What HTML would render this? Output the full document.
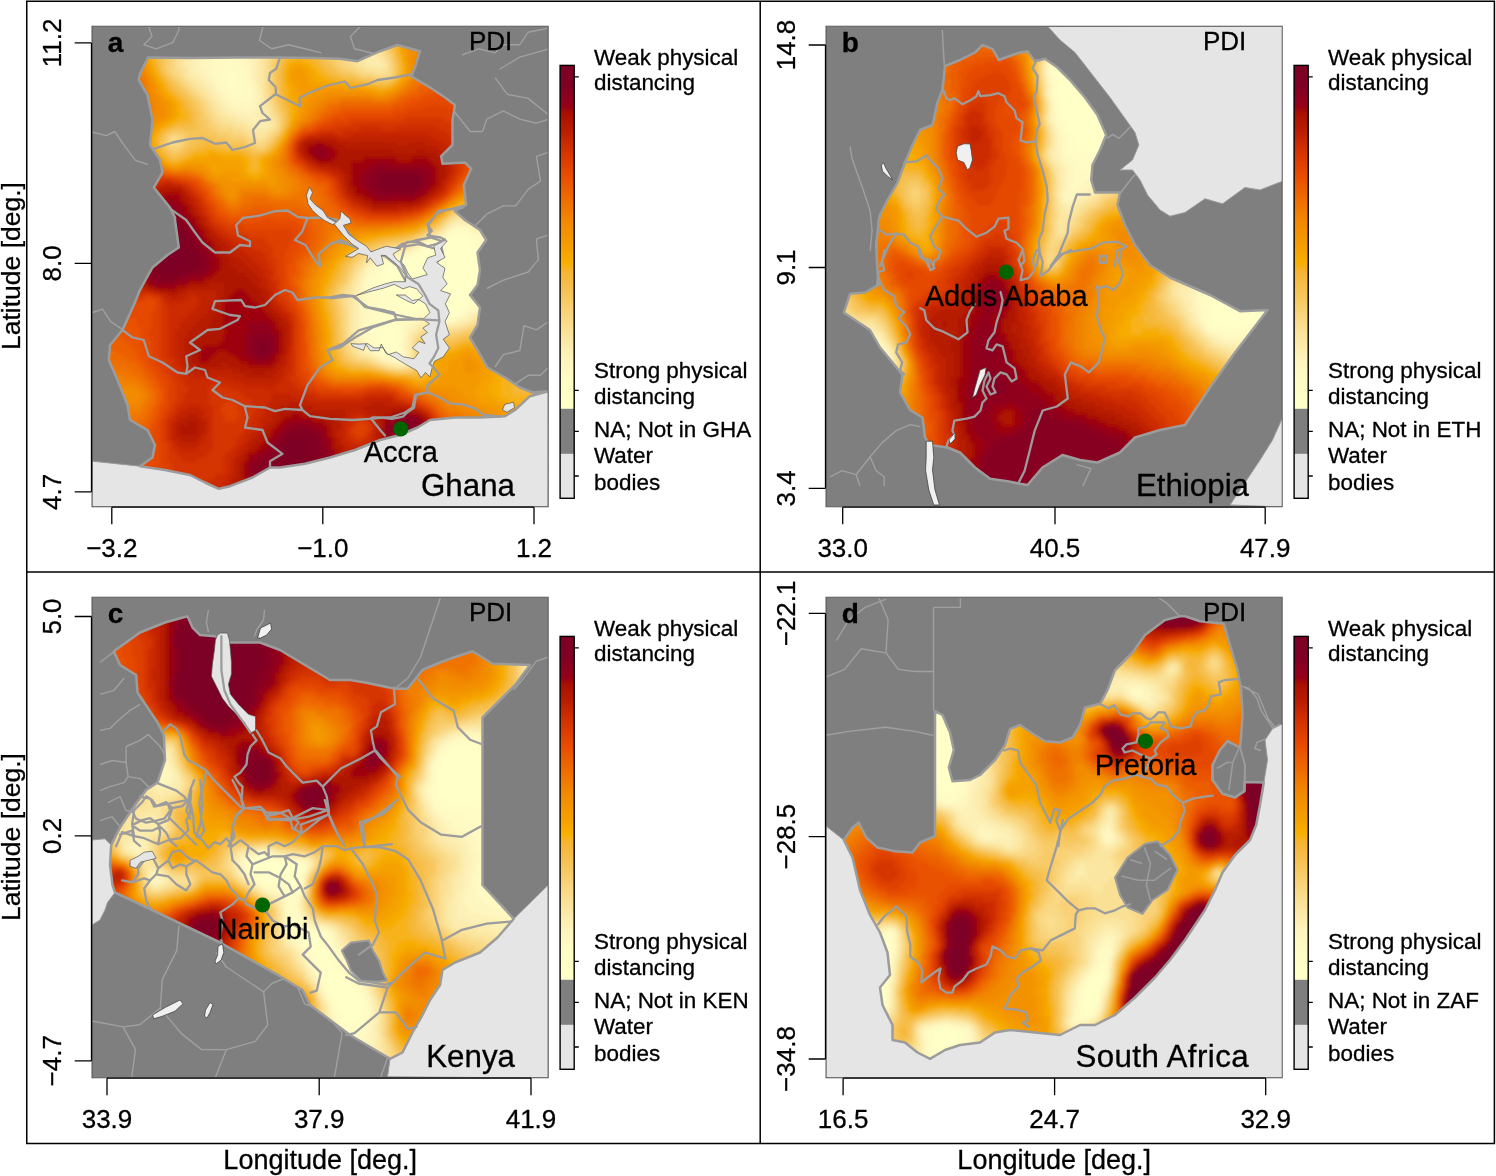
<!DOCTYPE html>
<html><head><meta charset="utf-8"><title>PDI maps</title><style>html,body{margin:0;padding:0;background:#fff}svg{display:block}text{stroke:#000;stroke-width:.3px}</style></head><body>
<svg width="1496" height="1176" viewBox="0 0 1496 1176" font-family="'Liberation Sans', sans-serif">
<defs><filter id="bl" x="-5%" y="-5%" width="110%" height="110%"><feGaussianBlur stdDeviation="2"/></filter></defs>
<rect width="1496" height="1176" fill="#fff"/>
<g id="panel-a">
<clipPath id="mca"><rect x="92" y="26.2" width="456.2" height="480.6"/></clipPath>
<g clip-path="url(#mca)">
<rect x="92" y="26.2" width="456.2" height="480.6" fill="#7F7F7F"/>
<path d="M147.9 24L152 36.4L143.7 44.7L156.1 48.8L172.7 42.6L178.9 30.2L178.9 24M263.6 24L259.5 40.5L271.9 48.8L288.4 44.7L304.9 48.8L321.4 52.9M362.8 24L350.4 36.4L354.5 48.8L379.3 55M462 55L478.5 48.8L495 52.9L503.3 44.7L519.8 44.7L528.1 32.3L548.8 28.1M90 131.5L106.5 135.6L114.8 131.5L123.1 143.9L135.5 160.4L147.9 164.5M90 313.3L102.4 309.2L110.7 321.6L123.1 329.8M495 77.7L507.4 94.3L528.1 98.4L548.8 114.9M499.2 69.5L519.8 57.1L548.8 48.8M453.7 110.8L470.2 131.5L482.6 131.5L486.8 119.1L503.3 110.8L519.8 119.1L536.4 123.2L548.8 119.1M548.8 152.1L536.4 156.3L540.5 181.1L528.1 189.3L515.7 205.9L503.3 205.9L486.8 214.1L474.4 226.5M548.8 234.8L536.4 238.9L538.4 259.6L528.1 272L503.3 280.2L486.8 288.5M548.8 321.6L536.4 329.8L524 325.7L519.8 350.5L503.3 354.6L495 367M548.8 367L540.5 375.3L528.1 375.3L515.7 383.6" fill="none" stroke="#A0A0A0" stroke-width="1.4" stroke-linejoin="round"/>
<path d="M92.5 461.2L140 466.2L165 470L190 475L205 482.5L218.8 488.8L230 486.2L252.5 477.5L270 467.5L280 467.5L305 463.8L330 457.5L355 450L380 440L400 435L417.5 427.5L430 420L455 417.5L480 417.5L505 416.2L515 410L530 396.2L548.2 391.2L548 507L92 507Z" fill="#E5E5E5" stroke="#999" stroke-width="1"/>
<clipPath id="cca"><path d="M148 57.5L190 58L240 57.5L280 57.5L315 58L340 58.8L357.5 61.2L380 51.2L397.5 45L420 51.2L415 67.5L411.2 76.2L430 87.5L445 97.5L455 105L452.5 120L452.5 145L441.2 156.2L442.5 163.8L465 162.5L471.2 168.8L463.8 185L466.2 205L455 211.2L465 220L480 230L486.2 240L477.5 252.5L480 270L477.5 285L470 295L480 307.5L477.5 325L470 337.5L477.5 350L487.5 367.5L505 377.5L520 387.5L532.5 392.5L548.2 391.2L530 396.2L515 410L505 416.2L480 417.5L455 417.5L430 420L417.5 427.5L400 435L380 440L355 450L330 457.5L305 463.8L280 467.5L270 467.5L252.5 477.5L230 486.2L218.8 488.8L205 482.5L190 475L165 470L140 466.2L152.5 457.5L155 445L147.5 430L130 420L127.5 405L117.5 380L108.8 360L110 345L122.5 330L133.8 305L140 290L152.5 267.5L167.5 255L178.8 247.5L175 220L175 217.5L170 207.5L153.8 187.5L162.5 172.5L160 160L150 145L152.5 120L147.5 95L138.8 80L140 73.8Z"/></clipPath>
<g clip-path="url(#cca)"><g filter="url(#bl)">
<g fill="none" stroke-width="4.6">
<path stroke="#FFFFC8" d="M452 244h8.6M444 248h20.6M424 252h44.6M424 256h44.6M420 260h52.6M412 264h60.6M400 268h72.6M392 272h80.6M392 276h76.6M392 280h76.6M396 284h68.6M400 288h64.6M404 292h56.6M408 296h52.6M420 300h36.6M440 304h16.6"/>
<path stroke="#FFFFC8" d="M452 240h12.6M444 244h8.6M460 244h8.6M424 248h20.6M464 248h8.6M468 252h8.6M420 256h4.6M468 256h8.6M412 260h8.6M472 260h4.6M400 264h12.6M472 264h8.6M392 268h8.6M472 268h8.6M388 272h4.6M472 272h4.6M384 276h8.6M468 276h8.6M384 280h8.6M468 280h8.6M388 284h8.6M464 284h8.6M392 288h8.6M464 288h8.6M396 292h8.6M460 292h8.6M400 296h8.6M460 296h8.6M400 300h20.6M456 300h8.6M408 304h32.6M456 304h8.6M436 308h24.6M448 312h8.6"/>
<path stroke="#FFFEC7" d="M452 236h16.6M444 240h8.6M464 240h8.6M428 244h16.6M468 244h8.6M472 248h8.6M420 252h4.6M476 252h4.6M416 256h4.6M476 256h8.6M404 260h8.6M476 260h8.6M388 264h12.6M480 264h4.6M384 268h8.6M480 268h4.6M380 272h8.6M476 272h8.6M380 276h4.6M476 276h8.6M376 280h8.6M476 280h8.6M376 284h12.6M472 284h8.6M380 288h12.6M472 288h8.6M384 292h12.6M468 292h8.6M392 296h8.6M468 296h4.6M392 300h8.6M464 300h8.6M392 304h16.6M464 304h4.6M396 308h40.6M460 308h4.6M440 312h8.6M456 312h4.6M448 316h8.6M384 328h8.6M380 332h12.6M380 336h12.6M376 340h20.6M380 344h16.6M380 348h16.6M384 352h12.6"/>
<path stroke="#FFFCC5" d="M228 68h4.6M224 72h12.6M220 76h20.6M224 80h16.6M224 84h16.6M228 88h16.6M236 92h4.6M452 232h16.6M448 236h4.6M468 236h4.6M440 240h4.6M472 240h4.6M424 244h4.6M476 244h4.6M420 248h4.6M480 248h4.6M416 252h4.6M480 252h8.6M408 256h8.6M484 256h4.6M388 260h16.6M484 260h4.6M384 264h4.6M484 264h4.6M380 268h4.6M484 268h8.6M376 272h4.6M484 272h8.6M372 276h8.6M484 276h4.6M372 280h4.6M484 280h4.6M368 284h8.6M480 284h8.6M372 288h8.6M480 288h4.6M372 292h12.6M476 292h8.6M376 296h16.6M472 296h8.6M380 300h12.6M472 300h4.6M380 304h12.6M468 304h4.6M380 308h16.6M464 308h4.6M380 312h60.6M460 312h4.6M376 316h36.6M440 316h8.6M456 316h4.6M376 320h28.6M448 320h4.6M372 324h28.6M372 328h12.6M392 328h8.6M372 332h8.6M392 332h8.6M372 336h8.6M392 336h8.6M372 340h4.6M396 340h4.6M372 344h8.6M396 344h4.6M376 348h4.6M396 348h4.6M380 352h4.6M396 352h4.6M384 356h16.6"/>
<path stroke="#FFFAC4" d="M216 56h20.6M212 60h28.6M212 64h32.6M212 68h16.6M232 68h12.6M212 72h12.6M236 72h12.6M212 76h8.6M240 76h8.6M216 80h8.6M240 80h8.6M216 84h8.6M240 84h8.6M220 88h8.6M244 88h8.6M224 92h12.6M240 92h12.6M228 96h24.6M232 100h20.6M452 228h12.6M448 232h4.6M468 232h4.6M444 236h4.6M472 236h8.6M436 240h4.6M476 240h8.6M480 244h8.6M484 248h8.6M412 252h4.6M400 256h8.6M384 260h4.6M380 264h4.6M376 268h4.6M372 272h4.6M368 276h4.6M364 280h8.6M364 284h4.6M364 288h8.6M484 288h4.6M364 292h8.6M368 296h8.6M480 296h4.6M368 300h12.6M476 300h8.6M368 304h12.6M472 304h8.6M368 308h12.6M468 308h8.6M368 312h12.6M464 312h4.6M368 316h8.6M412 316h28.6M460 316h4.6M368 320h8.6M404 320h8.6M444 320h4.6M452 320h4.6M364 324h8.6M400 324h8.6M364 328h8.6M400 328h4.6M364 332h8.6M400 332h4.6M364 336h8.6M400 336h4.6M364 340h8.6M400 340h4.6M368 344h4.6M400 344h4.6M372 348h4.6M400 348h4.6M372 352h8.6M400 352h4.6M380 356h4.6M400 356h4.6M392 360h12.6"/>
<path stroke="#FEF6BF" d="M240 48h4.6M204 52h40.6M204 56h12.6M236 56h12.6M200 60h12.6M240 60h8.6M200 64h12.6M244 64h8.6M200 68h12.6M244 68h8.6M204 72h8.6M248 72h4.6M204 76h8.6M248 76h4.6M208 80h8.6M248 80h4.6M212 84h4.6M248 84h8.6M216 88h4.6M252 88h4.6M216 92h8.6M252 92h4.6M220 96h8.6M252 96h4.6M224 100h8.6M252 100h4.6M228 104h28.6M232 108h24.6M244 112h8.6M464 228h8.6M444 232h4.6M472 232h8.6M440 236h4.6M480 236h8.6M428 240h8.6M484 240h8.6M420 244h4.6M488 244h8.6M416 248h4.6M408 252h4.6M388 256h12.6M380 260h4.6M376 264h4.6M368 268h8.6M364 272h8.6M364 276h4.6M360 284h4.6M360 288h4.6M360 292h4.6M360 296h8.6M360 300h8.6M360 304h8.6M480 304h4.6M360 308h8.6M476 308h4.6M360 312h8.6M468 312h8.6M360 316h8.6M464 316h4.6M360 320h8.6M412 320h12.6M432 320h12.6M456 320h4.6M360 324h4.6M408 324h8.6M360 328h4.6M404 328h8.6M360 332h4.6M404 332h4.6M360 336h4.6M404 336h4.6M360 340h4.6M364 344h4.6M364 348h8.6M368 352h4.6M404 352h4.6M376 356h4.6M404 356h4.6M384 360h8.6M404 360h4.6M400 364h4.6"/>
<path stroke="#FDF1B7" d="M244 48h8.6M196 52h8.6M244 52h8.6M192 56h12.6M248 56h8.6M192 60h8.6M248 60h8.6M192 64h8.6M252 64h4.6M192 68h8.6M252 68h4.6M192 72h12.6M252 72h4.6M196 76h8.6M252 76h4.6M200 80h8.6M252 80h4.6M204 84h8.6M208 88h8.6M256 88h4.6M212 92h4.6M256 92h4.6M216 96h4.6M256 96h4.6M216 100h8.6M256 100h4.6M220 104h8.6M256 104h4.6M224 108h8.6M256 108h4.6M228 112h16.6M252 112h8.6M236 116h24.6M248 120h12.6M452 224h20.6M448 228h4.6M472 228h8.6M480 232h8.6M436 236h4.6M488 236h8.6M424 240h4.6M492 240h4.6M412 248h4.6M400 252h8.6M384 256h4.6M376 260h4.6M368 264h8.6M364 268h4.6M360 276h4.6M360 280h4.6M356 288h4.6M356 292h4.6M356 296h4.6M356 300h4.6M356 304h4.6M484 304h4.6M356 308h4.6M480 308h8.6M356 312h4.6M476 312h4.6M356 316h4.6M468 316h4.6M356 320h4.6M424 320h8.6M460 320h8.6M356 324h4.6M416 324h4.6M440 324h16.6M356 328h4.6M412 328h4.6M356 332h4.6M408 332h4.6M356 336h4.6M356 340h4.6M404 340h4.6M360 344h4.6M404 344h4.6M360 348h4.6M404 348h4.6M364 352h4.6M372 356h4.6M380 360h4.6M392 364h8.6M404 364h4.6"/>
<path stroke="#FCECAD" d="M252 48h8.6M188 52h8.6M252 52h8.6M188 56h4.6M256 56h4.6M364 56h12.6M184 60h8.6M256 60h4.6M364 60h16.6M184 64h8.6M256 64h4.6M364 64h20.6M188 68h4.6M256 68h4.6M376 68h4.6M188 72h4.6M256 72h4.6M188 76h8.6M256 76h4.6M196 80h4.6M256 80h4.6M200 84h4.6M256 84h4.6M204 88h4.6M208 92h4.6M260 92h4.6M208 96h8.6M260 96h4.6M212 100h4.6M260 100h4.6M216 104h4.6M260 104h4.6M220 108h4.6M260 108h4.6M220 112h8.6M260 112h8.6M228 116h8.6M260 116h8.6M236 120h12.6M260 120h8.6M244 124h28.6M252 128h16.6M456 220h8.6M448 224h4.6M472 224h8.6M444 228h4.6M480 228h8.6M440 232h4.6M488 232h4.6M432 236h4.6M416 244h4.6M408 248h4.6M388 252h12.6M376 256h8.6M372 260h4.6M364 264h4.6M360 272h4.6M356 280h4.6M356 284h4.6M352 288h4.6M352 292h4.6M352 296h4.6M352 300h4.6M352 304h4.6M352 308h4.6M488 308h4.6M352 312h4.6M480 312h8.6M352 316h4.6M472 316h8.6M352 320h4.6M468 320h4.6M352 324h4.6M420 324h20.6M456 324h8.6M352 328h4.6M416 328h4.6M352 332h4.6M412 332h4.6M352 336h4.6M408 336h4.6M352 340h4.6M408 340h4.6M356 344h4.6M408 344h4.6M356 348h4.6M408 348h4.6M360 352h4.6M408 352h4.6M368 356h4.6M408 356h4.6M376 360h4.6M408 360h4.6M384 364h8.6"/>
<path stroke="#FBE6A1" d="M260 48h4.6M364 48h8.6M180 52h8.6M260 52h4.6M352 52h28.6M180 56h8.6M260 56h4.6M352 56h12.6M376 56h8.6M180 60h4.6M260 60h4.6M356 60h8.6M380 60h4.6M180 64h4.6M260 64h4.6M356 64h8.6M384 64h4.6M180 68h8.6M260 68h4.6M364 68h12.6M380 68h8.6M184 72h4.6M260 72h4.6M376 72h8.6M184 76h4.6M260 76h4.6M188 80h8.6M260 80h4.6M192 84h8.6M260 84h4.6M196 88h8.6M260 88h4.6M200 92h8.6M204 96h4.6M208 100h4.6M264 100h4.6M212 104h4.6M264 104h4.6M212 108h8.6M264 108h4.6M216 112h4.6M268 112h4.6M220 116h8.6M268 116h4.6M224 120h12.6M268 120h8.6M232 124h12.6M272 124h4.6M244 128h8.6M268 128h8.6M252 132h16.6M256 136h8.6M452 220h4.6M464 220h12.6M480 224h4.6M436 232h4.6M428 236h4.6M420 240h4.6M412 244h4.6M400 248h8.6M380 252h8.6M372 256h4.6M368 260h4.6M360 268h4.6M356 272h4.6M356 276h4.6M352 280h4.6M352 284h4.6M348 292h4.6M348 296h4.6M348 300h4.6M348 304h4.6M348 308h4.6M348 312h4.6M348 316h4.6M480 316h8.6M348 320h4.6M472 320h8.6M348 324h4.6M464 324h4.6M348 328h4.6M420 328h8.6M440 328h16.6M348 332h4.6M416 332h4.6M348 336h4.6M412 336h4.6M352 344h4.6M352 348h4.6M356 352h4.6M360 356h8.6M372 360h4.6M380 364h4.6M408 364h4.6M396 368h8.6"/>
<path stroke="#FAE094" d="M372 44h4.6M264 48h4.6M372 48h8.6M176 52h4.6M264 52h4.6M344 52h8.6M380 52h4.6M176 56h4.6M264 56h4.6M344 56h8.6M176 60h4.6M264 60h4.6M348 60h8.6M384 60h4.6M176 64h4.6M264 64h4.6M352 64h4.6M176 68h4.6M264 68h4.6M356 68h8.6M180 72h4.6M264 72h4.6M364 72h12.6M384 72h4.6M180 76h4.6M264 76h4.6M184 80h4.6M264 80h4.6M188 84h4.6M264 84h4.6M192 88h4.6M264 88h4.6M196 92h4.6M264 92h4.6M200 96h4.6M264 96h4.6M204 100h4.6M208 104h4.6M268 104h4.6M208 108h4.6M268 108h4.6M212 112h4.6M212 116h8.6M272 116h4.6M216 120h8.6M220 124h12.6M232 128h12.6M244 132h8.6M268 132h4.6M248 136h8.6M264 136h4.6M172 140h4.6M256 140h8.6M172 144h4.6M456 216h12.6M448 220h4.6M476 220h4.6M444 224h4.6M440 228h4.6M424 236h4.6M416 240h4.6M408 244h4.6M388 248h12.6M376 252h4.6M368 256h4.6M364 260h4.6M360 264h4.6M356 268h4.6M352 276h4.6M348 284h4.6M348 288h4.6M344 292h4.6M344 296h4.6M344 300h4.6M344 304h4.6M344 308h4.6M480 320h8.6M468 324h8.6M428 328h12.6M456 328h8.6M420 332h4.6M416 336h4.6M348 340h4.6M412 340h4.6M348 344h4.6M412 344h4.6M348 348h4.6M352 352h4.6M412 352h4.6M356 356h4.6M412 356h4.6M368 360h4.6M412 360h4.6M376 364h4.6M388 368h8.6M404 368h4.6"/>
<path stroke="#F9D986" d="M376 44h4.6M268 48h4.6M380 48h4.6M172 52h4.6M268 52h4.6M336 52h8.6M384 52h4.6M172 56h4.6M268 56h4.6M340 56h4.6M384 56h4.6M172 60h4.6M268 60h4.6M340 60h8.6M388 60h4.6M172 64h4.6M268 64h4.6M344 64h8.6M388 64h4.6M172 68h4.6M268 68h4.6M348 68h8.6M388 68h4.6M172 72h8.6M268 72h4.6M356 72h8.6M388 72h4.6M176 76h4.6M372 76h20.6M180 80h4.6M184 84h4.6M188 88h4.6M192 92h4.6M268 92h4.6M196 96h4.6M268 96h4.6M200 100h4.6M268 100h4.6M204 104h4.6M204 108h4.6M272 108h4.6M208 112h4.6M272 112h4.6M208 116h4.6M276 116h4.6M212 120h4.6M276 120h4.6M212 124h8.6M276 124h4.6M220 128h12.6M276 128h4.6M232 132h12.6M272 132h4.6M172 136h4.6M244 136h4.6M268 136h4.6M168 140h4.6M176 140h4.6M248 140h8.6M264 140h4.6M168 144h4.6M176 144h4.6M256 144h8.6M452 216h4.6M468 216h8.6M432 232h4.6M404 244h4.6M384 248h4.6M372 252h4.6M364 256h4.6M360 260h4.6M356 264h4.6M352 268h4.6M352 272h4.6M348 280h4.6M344 288h4.6M340 292h4.6M340 296h4.6M340 300h4.6M340 304h4.6M344 312h4.6M344 316h4.6M344 320h4.6M344 324h4.6M476 324h12.6M344 328h4.6M464 328h8.6M344 332h4.6M424 332h8.6M436 332h20.6M344 336h4.6M344 340h4.6M344 344h4.6M412 348h4.6M348 352h4.6M352 356h4.6M356 360h12.6M372 364h4.6M412 364h4.6M384 368h4.6M408 368h4.6"/>
<path stroke="#F9D278" d="M380 44h4.6M272 48h8.6M384 48h4.6M168 52h4.6M272 52h4.6M332 52h4.6M168 56h4.6M272 56h4.6M332 56h8.6M388 56h4.6M168 60h4.6M272 60h4.6M336 60h4.6M168 64h4.6M336 64h8.6M168 68h4.6M340 68h8.6M168 72h4.6M352 72h4.6M172 76h4.6M268 76h4.6M360 76h12.6M176 80h4.6M268 80h4.6M180 84h4.6M268 84h4.6M184 88h4.6M268 88h4.6M188 92h4.6M192 96h4.6M196 100h4.6M272 100h4.6M200 104h4.6M272 104h4.6M200 108h4.6M204 112h4.6M276 112h4.6M204 116h4.6M208 120h4.6M208 124h4.6M212 128h8.6M216 132h16.6M276 132h4.6M168 136h4.6M176 136h8.6M228 136h16.6M272 136h4.6M180 140h4.6M244 140h4.6M268 140h4.6M180 144h4.6M248 144h8.6M264 144h4.6M168 148h12.6M256 148h8.6M460 212h12.6M448 216h4.6M444 220h4.6M440 224h4.6M436 228h4.6M428 232h4.6M420 236h4.6M412 240h4.6M392 244h12.6M376 248h8.6M368 252h4.6M360 256h4.6M356 260h4.6M352 264h4.6M348 272h4.6M348 276h4.6M344 284h4.6M340 288h4.6M336 296h4.6M336 300h4.6M340 308h4.6M340 312h4.6M340 316h4.6M340 320h4.6M340 324h4.6M340 328h4.6M472 328h16.6M340 332h4.6M432 332h4.6M456 332h8.6M420 336h4.6M448 336h4.6M416 340h4.6M416 344h4.6M344 348h4.6M344 352h4.6M348 356h4.6M352 360h4.6M368 364h4.6M380 368h4.6M412 368h4.6"/>
<path stroke="#F8CB68" d="M384 40h4.6M384 44h4.6M280 48h4.6M164 52h4.6M276 52h4.6M324 52h8.6M388 52h4.6M164 56h4.6M276 56h4.6M328 56h4.6M164 60h4.6M328 60h8.6M164 64h4.6M272 64h4.6M332 64h4.6M392 64h4.6M164 68h4.6M272 68h4.6M336 68h4.6M392 68h4.6M164 72h4.6M272 72h4.6M340 72h12.6M392 72h4.6M168 76h4.6M272 76h4.6M356 76h4.6M392 76h4.6M172 80h4.6M272 80h4.6M372 80h20.6M176 84h4.6M272 84h4.6M180 88h4.6M272 88h4.6M184 92h4.6M272 92h4.6M188 96h4.6M272 96h4.6M192 100h4.6M196 104h4.6M276 104h4.6M196 108h4.6M276 108h4.6M200 112h4.6M200 116h4.6M280 116h4.6M200 120h8.6M280 120h4.6M204 124h4.6M280 124h4.6M204 128h8.6M280 128h4.6M172 132h12.6M208 132h8.6M164 136h4.6M184 136h4.6M216 136h12.6M164 140h4.6M184 140h4.6M224 140h20.6M164 144h4.6M184 144h4.6M244 144h4.6M268 144h4.6M164 148h4.6M180 148h4.6M252 148h4.6M264 148h4.6M168 152h12.6M452 212h8.6M432 228h4.6M424 232h4.6M416 236h4.6M404 240h8.6M384 244h8.6M372 248h4.6M360 252h8.6M356 256h4.6M352 260h4.6M348 268h4.6M344 276h4.6M344 280h4.6M340 284h4.6M336 288h4.6M336 292h4.6M336 304h4.6M336 308h4.6M336 312h4.6M464 332h20.6M340 336h4.6M424 336h24.6M452 336h8.6M340 340h4.6M420 340h4.6M340 344h4.6M340 348h4.6M416 348h4.6M416 352h4.6M344 356h4.6M416 356h4.6M348 360h4.6M416 360h4.6M360 364h8.6M416 364h4.6M376 368h4.6M392 372h20.6"/>
<path stroke="#F7C459" d="M388 40h4.6M388 44h4.6M388 48h4.6M160 52h4.6M280 52h8.6M316 52h8.6M160 56h4.6M280 56h4.6M320 56h8.6M392 56h4.6M160 60h4.6M276 60h4.6M324 60h4.6M392 60h4.6M160 64h4.6M276 64h4.6M328 64h4.6M160 68h4.6M276 68h4.6M332 68h4.6M336 72h4.6M164 76h4.6M344 76h12.6M168 80h4.6M360 80h12.6M172 84h4.6M176 88h4.6M180 92h4.6M276 92h4.6M184 96h4.6M276 96h4.6M188 100h4.6M276 100h4.6M192 104h4.6M192 108h4.6M280 108h4.6M196 112h4.6M280 112h4.6M196 116h4.6M196 120h4.6M196 124h8.6M196 128h8.6M168 132h4.6M184 132h24.6M188 136h28.6M276 136h4.6M160 140h4.6M188 140h8.6M212 140h12.6M272 140h4.6M160 144h4.6M188 144h4.6M224 144h20.6M184 148h4.6M244 148h8.6M180 152h4.6M252 152h12.6M172 156h4.6M464 208h12.6M440 220h4.6M436 224h4.6M412 236h4.6M396 240h8.6M376 244h8.6M364 248h8.6M356 252h4.6M352 256h4.6M348 264h4.6M344 268h4.6M344 272h4.6M340 276h4.6M340 280h4.6M336 284h4.6M332 292h4.6M332 296h4.6M332 300h4.6M332 304h4.6M336 316h4.6M336 320h4.6M336 324h4.6M336 328h4.6M336 332h4.6M336 336h4.6M460 336h24.6M336 340h4.6M424 340h4.6M444 340h12.6M420 344h4.6M340 352h4.6M340 356h4.6M344 360h4.6M352 364h8.6M372 368h4.6M416 368h4.6M388 372h4.6M412 372h4.6"/>
<path stroke="#F6BE4B" d="M392 44h4.6M392 48h4.6M156 52h4.6M288 52h8.6M308 52h8.6M392 52h4.6M156 56h4.6M284 56h4.6M312 56h8.6M156 60h4.6M280 60h4.6M320 60h4.6M280 64h4.6M320 64h8.6M396 64h4.6M324 68h8.6M396 68h4.6M160 72h4.6M276 72h4.6M328 72h8.6M396 72h4.6M276 76h4.6M336 76h8.6M276 80h4.6M352 80h8.6M392 80h4.6M168 84h4.6M276 84h4.6M372 84h16.6M172 88h4.6M276 88h4.6M176 92h4.6M180 96h4.6M184 100h4.6M280 100h4.6M188 104h4.6M280 104h4.6M188 108h4.6M192 112h4.6M284 112h4.6M192 116h4.6M284 116h4.6M192 120h4.6M284 120h4.6M192 124h4.6M284 124h4.6M172 128h24.6M164 132h4.6M280 132h4.6M160 136h4.6M196 140h16.6M192 144h12.6M212 144h12.6M272 144h4.6M160 148h4.6M188 148h8.6M224 148h20.6M268 148h4.6M164 152h4.6M184 152h4.6M248 152h4.6M264 152h4.6M168 156h4.6M176 156h8.6M460 208h4.6M448 212h4.6M444 216h4.6M428 228h4.6M420 232h4.6M408 236h4.6M384 240h12.6M368 244h8.6M360 248h4.6M348 256h4.6M348 260h4.6M344 264h4.6M340 268h4.6M340 272h4.6M336 280h4.6M332 288h4.6M328 296h4.6M328 300h4.6M332 308h4.6M332 312h4.6M332 316h4.6M332 320h4.6M428 340h16.6M456 340h8.6M336 344h4.6M444 344h12.6M336 348h4.6M420 348h4.6M336 352h4.6M420 356h4.6M340 360h4.6M420 360h4.6M344 364h8.6M420 364h4.6M364 368h8.6M420 368h4.6M384 372h4.6M416 372h8.6"/>
<path stroke="#F6B83B" d="M392 40h4.6M152 52h4.6M296 52h12.6M152 56h4.6M288 56h8.6M304 56h8.6M396 56h4.6M284 60h4.6M312 60h8.6M396 60h4.6M156 64h4.6M316 64h4.6M156 68h4.6M280 68h4.6M320 68h4.6M280 72h4.6M324 72h4.6M160 76h4.6M280 76h4.6M328 76h8.6M396 76h4.6M164 80h4.6M280 80h4.6M340 80h12.6M280 84h4.6M364 84h8.6M388 84h4.6M168 88h4.6M280 88h4.6M172 92h4.6M280 92h4.6M176 96h4.6M280 96h4.6M180 100h4.6M184 104h4.6M284 104h4.6M184 108h4.6M284 108h4.6M188 112h4.6M188 116h4.6M188 120h4.6M176 124h16.6M168 128h4.6M284 128h4.6M160 132h4.6M156 140h4.6M276 140h4.6M156 144h4.6M204 144h8.6M196 148h12.6M212 148h12.6M160 152h4.6M188 152h8.6M240 152h8.6M164 156h4.6M184 156h4.6M248 156h12.6M168 160h12.6M252 160h4.6M252 164h4.6M252 168h4.6M468 204h8.6M456 208h4.6M436 220h4.6M432 224h4.6M424 228h4.6M416 232h4.6M400 236h8.6M376 240h8.6M364 244h4.6M356 248h4.6M352 252h4.6M344 260h4.6M340 264h4.6M336 272h4.6M336 276h4.6M332 280h4.6M332 284h4.6M328 288h4.6M328 292h4.6M328 304h4.6M328 308h4.6M328 312h4.6M332 324h4.6M332 328h4.6M332 332h4.6M332 336h4.6M332 340h4.6M464 340h20.6M332 344h4.6M424 344h4.6M440 344h4.6M456 344h4.6M332 348h4.6M448 348h4.6M420 352h4.6M336 356h4.6M336 360h4.6M340 364h4.6M424 364h4.6M348 368h16.6M424 368h4.6M380 372h4.6M424 372h4.6M508 372h4.6M408 376h16.6M512 376h8.6M512 380h16.6M512 384h40.6M512 388h40.6M512 392h40.6"/>
<path stroke="#F7B21C" d="M396 36h4.6M396 40h4.6M396 44h4.6M148 48h4.6M396 48h4.6M148 52h4.6M396 52h4.6M148 56h4.6M296 56h8.6M152 60h4.6M288 60h8.6M300 60h12.6M152 64h4.6M284 64h4.6M308 64h8.6M400 64h4.6M284 68h4.6M312 68h8.6M400 68h4.6M156 72h4.6M316 72h8.6M400 72h4.6M320 76h8.6M160 80h4.6M328 80h12.6M396 80h4.6M164 84h4.6M348 84h16.6M392 84h4.6M164 88h4.6M284 88h4.6M376 88h12.6M168 92h4.6M284 92h4.6M172 96h4.6M284 96h4.6M176 100h4.6M284 100h4.6M180 104h4.6M288 104h4.6M180 108h4.6M288 108h4.6M180 112h8.6M288 112h4.6M180 116h8.6M288 116h4.6M176 120h12.6M288 120h4.6M172 124h4.6M164 128h4.6M156 136h4.6M280 136h4.6M276 144h4.6M156 148h4.6M208 148h4.6M272 148h4.6M156 152h4.6M196 152h12.6M216 152h24.6M268 152h4.6M160 156h4.6M188 156h4.6M244 156h4.6M260 156h4.6M164 160h4.6M180 160h4.6M248 160h4.6M256 160h4.6M248 164h4.6M256 164h4.6M248 168h4.6M256 168h4.6M248 172h12.6M472 200h4.6M460 204h8.6M452 208h4.6M444 212h4.6M440 216h4.6M428 224h4.6M420 228h4.6M412 232h4.6M388 236h12.6M368 240h8.6M356 244h8.6M352 248h4.6M348 252h4.6M344 256h4.6M340 260h4.6M336 264h4.6M336 268h4.6M332 272h4.6M332 276h4.6M328 280h4.6M328 284h4.6M324 288h4.6M324 292h4.6M324 296h4.6M324 300h4.6M324 304h4.6M324 308h4.6M328 316h4.6M328 320h4.6M328 324h4.6M328 328h4.6M428 344h12.6M460 344h24.6M424 348h4.6M440 348h8.6M452 348h8.6M480 348h8.6M332 352h4.6M332 356h4.6M424 356h4.6M424 360h4.6M336 364h4.6M428 364h4.6M344 368h4.6M428 368h4.6M500 368h8.6M372 372h8.6M428 372h4.6M500 372h8.6M392 376h16.6M424 376h4.6M500 376h12.6M416 380h4.6M500 380h12.6M500 384h12.6M500 388h12.6M500 392h12.6M500 396h52.6M508 400h44.6M516 404h24.6"/>
<path stroke="#F7AC00" d="M400 40h4.6M400 44h4.6M144 52h4.6M144 56h4.6M400 56h4.6M148 60h4.6M296 60h4.6M400 60h4.6M288 64h8.6M300 64h8.6M152 68h4.6M308 68h4.6M152 72h4.6M284 72h4.6M312 72h4.6M156 76h4.6M284 76h4.6M312 76h8.6M400 76h4.6M156 80h4.6M284 80h4.6M316 80h12.6M160 84h4.6M284 84h4.6M332 84h16.6M288 88h4.6M364 88h12.6M388 88h4.6M164 92h4.6M288 92h4.6M168 96h4.6M288 96h4.6M172 100h4.6M288 100h8.6M176 104h4.6M292 104h4.6M176 108h4.6M292 108h4.6M176 112h4.6M292 112h4.6M176 116h4.6M292 116h4.6M172 120h4.6M164 124h8.6M288 124h4.6M160 128h4.6M156 132h4.6M284 132h4.6M152 136h4.6M152 140h4.6M280 140h4.6M152 144h4.6M152 148h4.6M208 152h8.6M272 152h4.6M192 156h16.6M220 156h24.6M264 156h4.6M184 160h8.6M240 160h8.6M260 160h4.6M168 164h12.6M244 164h4.6M260 164h4.6M212 168h4.6M244 168h4.6M260 168h4.6M244 172h4.6M260 172h4.6M248 176h12.6M468 200h4.6M456 204h4.6M448 208h4.6M432 220h4.6M404 232h8.6M376 236h12.6M360 240h8.6M352 244h4.6M348 248h4.6M344 252h4.6M340 256h4.6M336 260h4.6M332 264h4.6M332 268h4.6M328 272h4.6M328 276h4.6M324 280h4.6M324 284h4.6M320 292h4.6M320 296h4.6M320 300h4.6M324 312h4.6M324 316h4.6M324 320h4.6M328 332h4.6M328 336h4.6M328 340h4.6M328 344h4.6M328 348h4.6M432 348h8.6M460 348h4.6M472 348h8.6M328 352h4.6M424 352h4.6M440 352h16.6M480 352h8.6M328 356h4.6M484 356h8.6M332 360h4.6M428 360h4.6M488 360h4.6M332 364h4.6M432 364h4.6M492 364h8.6M336 368h8.6M432 368h4.6M492 368h8.6M348 372h24.6M432 372h4.6M492 372h8.6M388 376h4.6M428 376h8.6M492 376h8.6M412 380h4.6M420 380h8.6M492 380h8.6M488 384h12.6M488 388h12.6M488 392h12.6M492 396h8.6M496 400h12.6M504 404h12.6M508 408h24.6M520 412h8.6"/>
<path stroke="#F5A200" d="M404 40h4.6M404 44h4.6M400 48h4.6M400 52h4.6M140 56h4.6M144 60h4.6M148 64h4.6M296 64h4.6M404 64h4.6M148 68h4.6M288 68h8.6M300 68h8.6M404 68h4.6M288 72h4.6M304 72h8.6M404 72h4.6M152 76h4.6M288 76h4.6M308 76h4.6M288 80h4.6M308 80h8.6M400 80h4.6M156 84h4.6M288 84h8.6M308 84h24.6M396 84h4.6M160 88h4.6M292 88h4.6M344 88h20.6M392 88h4.6M160 92h4.6M292 92h8.6M376 92h8.6M164 96h4.6M292 96h8.6M168 100h4.6M296 100h4.6M172 104h4.6M296 104h4.6M172 108h4.6M296 108h4.6M172 112h4.6M296 112h4.6M172 116h4.6M168 120h4.6M292 120h4.6M160 124h4.6M156 128h4.6M288 128h4.6M152 132h4.6M284 136h4.6M148 140h4.6M148 144h4.6M276 148h4.6M152 152h4.6M156 156h4.6M208 156h12.6M268 156h4.6M160 160h4.6M192 160h48.6M264 160h4.6M164 164h4.6M180 164h4.6M204 164h40.6M208 168h4.6M216 168h28.6M264 168h4.6M212 172h12.6M236 172h8.6M264 172h4.6M240 176h8.6M260 176h8.6M252 180h8.6M472 196h4.6M460 200h8.6M436 216h4.6M424 224h4.6M416 228h4.6M392 232h12.6M364 236h12.6M352 240h8.6M348 244h4.6M340 248h8.6M340 252h4.6M336 256h4.6M332 260h4.6M328 264h4.6M328 268h4.6M324 272h4.6M324 276h4.6M320 280h4.6M320 284h4.6M320 288h4.6M320 304h4.6M320 308h4.6M320 312h4.6M324 324h4.6M324 328h4.6M324 332h4.6M324 336h4.6M324 340h4.6M324 344h4.6M324 348h4.6M428 348h4.6M464 348h8.6M428 352h12.6M456 352h8.6M472 352h8.6M428 356h32.6M476 356h8.6M328 360h4.6M432 360h20.6M480 360h8.6M328 364h4.6M436 364h12.6M484 364h8.6M332 368h4.6M436 368h12.6M484 368h8.6M340 372h8.6M436 372h8.6M484 372h8.6M380 376h8.6M436 376h4.6M484 376h8.6M408 380h4.6M428 380h8.6M480 380h12.6M416 384h12.6M480 384h8.6M476 388h12.6M476 392h12.6M476 396h16.6M480 400h16.6M492 404h12.6M500 408h8.6M504 412h16.6M512 416h8.6"/>
<path stroke="#F49A00" d="M408 40h8.6M408 44h4.6M404 48h4.6M404 52h4.6M404 56h4.6M140 60h4.6M404 60h4.6M144 64h4.6M296 68h4.6M148 72h4.6M292 72h12.6M292 76h16.6M404 76h4.6M152 80h4.6M292 80h16.6M404 80h4.6M296 84h12.6M400 84h4.6M156 88h4.6M296 88h48.6M156 92h4.6M300 92h24.6M368 92h8.6M384 92h8.6M160 96h4.6M300 96h12.6M164 100h4.6M300 100h8.6M168 104h4.6M300 104h4.6M168 108h4.6M300 108h4.6M168 112h4.6M300 112h4.6M168 116h4.6M296 116h4.6M164 120h4.6M296 120h4.6M156 124h4.6M292 124h4.6M152 128h4.6M148 132h4.6M148 136h4.6M144 140h4.6M280 144h4.6M148 148h4.6M148 152h4.6M276 152h4.6M152 156h4.6M272 156h4.6M156 160h4.6M268 160h4.6M184 164h20.6M264 164h8.6M172 168h4.6M204 168h4.6M268 168h4.6M208 172h4.6M224 172h12.6M268 172h4.6M212 176h28.6M268 176h8.6M228 180h24.6M260 180h16.6M268 184h8.6M472 192h4.6M464 196h8.6M452 204h4.6M444 208h4.6M440 212h4.6M428 220h4.6M420 224h4.6M408 228h8.6M380 232h12.6M356 236h8.6M344 240h8.6M340 244h8.6M336 248h4.6M332 252h8.6M332 256h4.6M328 260h4.6M324 264h4.6M324 268h4.6M320 272h4.6M320 276h4.6M316 280h4.6M316 284h4.6M316 288h4.6M316 292h4.6M316 296h4.6M316 300h4.6M316 304h4.6M316 308h4.6M320 316h4.6M320 320h4.6M320 324h4.6M320 328h4.6M324 352h4.6M464 352h8.6M324 356h4.6M460 356h16.6M324 360h4.6M452 360h12.6M472 360h8.6M448 364h16.6M476 364h8.6M328 368h4.6M448 368h16.6M476 368h8.6M332 372h8.6M444 372h20.6M476 372h8.6M352 376h4.6M372 376h8.6M440 376h44.6M400 380h8.6M436 380h44.6M412 384h4.6M428 384h52.6M456 388h20.6M460 392h16.6M464 396h12.6M468 400h12.6M476 404h16.6M484 408h16.6M496 412h8.6M500 416h12.6M504 420h12.6"/>
<path stroke="#F39200" d="M412 44h8.6M408 48h8.6M408 52h4.6M408 56h4.6M136 60h4.6M408 60h4.6M140 64h4.6M408 64h4.6M144 68h4.6M408 68h4.6M144 72h4.6M408 72h4.6M148 76h4.6M408 76h4.6M148 80h4.6M152 84h4.6M152 88h4.6M396 88h4.6M152 92h4.6M324 92h44.6M392 92h4.6M156 96h4.6M312 96h12.6M376 96h8.6M160 100h4.6M308 100h8.6M160 104h8.6M304 104h8.6M164 108h4.6M304 108h4.6M164 112h4.6M304 112h4.6M164 116h4.6M300 116h4.6M156 120h8.6M148 124h8.6M144 128h8.6M292 128h4.6M144 132h4.6M288 132h4.6M144 136h4.6M284 140h4.6M144 144h4.6M144 148h4.6M280 148h4.6M148 156h4.6M276 156h4.6M152 160h4.6M272 160h4.6M160 164h4.6M272 164h4.6M168 168h4.6M176 168h12.6M192 168h12.6M272 168h4.6M204 172h4.6M272 172h8.6M208 176h4.6M276 176h4.6M212 180h16.6M276 180h8.6M220 184h48.6M276 184h8.6M224 188h12.6M268 188h16.6M228 192h8.6M276 192h4.6M468 192h4.6M228 196h8.6M460 196h4.6M456 200h4.6M448 204h4.6M432 216h4.6M424 220h4.6M416 224h4.6M400 228h8.6M360 232h20.6M344 236h12.6M340 240h4.6M336 244h4.6M332 248h4.6M328 252h4.6M328 256h4.6M324 260h4.6M320 264h4.6M320 268h4.6M316 272h4.6M316 276h4.6M312 280h4.6M312 284h4.6M312 288h4.6M312 292h4.6M312 296h4.6M312 300h4.6M316 312h4.6M316 316h4.6M316 320h4.6M320 332h4.6M320 336h4.6M320 340h4.6M320 344h4.6M320 348h4.6M320 352h4.6M320 356h4.6M464 360h8.6M324 364h4.6M464 364h12.6M324 368h4.6M464 368h12.6M328 372h4.6M464 372h12.6M336 376h16.6M356 376h16.6M392 380h8.6M408 384h4.6M420 388h36.6M440 392h20.6M448 396h16.6M456 400h12.6M464 404h12.6M472 408h12.6M480 412h16.6M488 416h12.6M496 420h8.6M500 424h12.6"/>
<path stroke="#F28B00" d="M420 44h4.6M416 48h12.6M412 52h8.6M412 56h8.6M412 60h4.6M136 64h4.6M412 64h4.6M136 68h8.6M412 68h4.6M412 72h4.6M144 76h4.6M412 76h4.6M408 80h4.6M148 84h4.6M404 84h4.6M148 88h4.6M400 88h4.6M148 92h4.6M396 92h4.6M152 96h4.6M324 96h52.6M384 96h8.6M152 100h8.6M316 100h12.6M152 104h8.6M312 104h8.6M156 108h8.6M308 108h8.6M152 112h12.6M308 112h4.6M148 116h16.6M304 116h4.6M144 120h12.6M300 120h8.6M144 124h4.6M296 124h4.6M140 128h4.6M140 132h4.6M140 136h4.6M288 136h4.6M140 140h4.6M140 144h4.6M140 148h4.6M144 152h4.6M280 152h4.6M148 160h4.6M276 160h4.6M156 164h4.6M276 164h4.6M164 168h4.6M188 168h4.6M276 168h8.6M196 172h8.6M280 172h4.6M204 176h4.6M280 176h8.6M208 180h4.6M284 180h8.6M216 184h4.6M284 184h8.6M220 188h4.6M236 188h32.6M284 188h8.6M468 188h8.6M220 192h8.6M236 192h4.6M268 192h8.6M280 192h8.6M464 192h4.6M224 196h4.6M236 196h4.6M276 196h4.6M228 200h8.6M452 200h4.6M440 208h4.6M436 212h4.6M412 224h4.6M384 228h16.6M344 232h16.6M336 236h8.6M332 240h8.6M332 244h4.6M328 248h4.6M324 252h4.6M324 256h4.6M320 260h4.6M316 264h4.6M316 268h4.6M312 272h4.6M312 276h4.6M308 280h4.6M308 284h4.6M308 288h4.6M308 292h4.6M308 296h4.6M312 304h4.6M312 308h4.6M312 312h4.6M316 324h4.6M316 328h4.6M316 332h4.6M316 336h4.6M316 340h4.6M316 344h4.6M316 348h4.6M320 360h4.6M320 364h4.6M320 368h4.6M324 372h4.6M328 376h8.6M384 380h8.6M404 384h4.6M120 388h16.6M412 388h8.6M112 392h28.6M424 392h16.6M112 396h32.6M436 396h12.6M116 400h24.6M444 400h12.6M116 404h24.6M448 404h16.6M120 408h8.6M456 408h16.6M464 412h16.6M472 416h16.6M480 420h16.6M488 424h12.6"/>
<path stroke="#F18000" d="M420 52h12.6M420 56h8.6M416 60h12.6M416 64h8.6M132 68h4.6M416 68h8.6M136 72h8.6M416 72h4.6M140 76h4.6M416 76h4.6M144 80h4.6M412 80h4.6M144 84h4.6M408 84h4.6M144 88h4.6M404 88h4.6M144 92h4.6M400 92h4.6M144 96h8.6M392 96h4.6M144 100h8.6M328 100h12.6M372 100h16.6M144 104h8.6M320 104h8.6M144 108h12.6M316 108h8.6M140 112h12.6M312 112h4.6M140 116h8.6M308 116h8.6M308 120h4.6M300 124h4.6M296 128h4.6M292 132h4.6M284 144h4.6M280 156h4.6M280 160h4.6M152 164h4.6M280 164h4.6M160 168h4.6M284 168h4.6M172 172h8.6M188 172h8.6M284 172h4.6M200 176h4.6M288 176h8.6M204 180h4.6M292 180h8.6M212 184h4.6M292 184h8.6M472 184h4.6M216 188h4.6M292 188h12.6M464 188h4.6M216 192h4.6M240 192h28.6M288 192h12.6M460 192h4.6M220 196h4.6M240 196h4.6M268 196h8.6M280 196h12.6M456 196h4.6M224 200h4.6M236 200h4.6M228 204h12.6M444 204h4.6M432 212h4.6M428 216h4.6M420 220h4.6M404 224h8.6M336 228h48.6M332 232h12.6M328 236h8.6M328 240h4.6M324 244h8.6M324 248h4.6M320 252h4.6M316 256h8.6M316 260h4.6M312 264h4.6M308 268h8.6M308 272h4.6M308 276h4.6M304 280h4.6M304 284h4.6M304 288h4.6M304 292h4.6M308 300h4.6M308 304h4.6M308 308h4.6M312 316h4.6M312 320h4.6M312 324h4.6M312 328h4.6M312 332h4.6M316 352h4.6M316 356h4.6M316 360h4.6M316 364h4.6M320 372h4.6M104 376h20.6M324 376h4.6M108 380h28.6M332 380h52.6M108 384h32.6M400 384h4.6M108 388h12.6M136 388h8.6M408 388h4.6M140 392h8.6M420 392h4.6M144 396h4.6M428 396h8.6M140 400h8.6M436 400h8.6M140 404h4.6M440 404h8.6M116 408h4.6M128 408h16.6M444 408h12.6M120 412h20.6M448 412h16.6M120 416h12.6M460 416h12.6M120 420h8.6M468 420h12.6M476 424h12.6"/>
<path stroke="#F07500" d="M424 64h4.6M132 72h4.6M420 72h4.6M128 76h12.6M420 76h4.6M132 80h12.6M416 80h8.6M136 84h8.6M412 84h8.6M136 88h8.6M408 88h8.6M136 92h8.6M404 92h4.6M136 96h8.6M396 96h4.6M140 100h4.6M340 100h32.6M388 100h8.6M140 104h4.6M328 104h12.6M140 108h4.6M324 108h4.6M316 112h8.6M316 116h4.6M312 120h4.6M304 124h4.6M288 140h4.6M284 148h4.6M284 152h4.6M284 156h4.6M284 160h4.6M284 164h4.6M156 168h4.6M288 168h4.6M168 172h4.6M180 172h8.6M288 172h8.6M196 176h4.6M296 176h4.6M476 176h4.6M300 180h4.6M472 180h4.6M208 184h4.6M300 184h8.6M468 184h4.6M212 188h4.6M304 188h8.6M212 192h4.6M300 192h16.6M216 196h4.6M244 196h24.6M292 196h24.6M452 196h4.6M220 200h4.6M240 200h12.6M268 200h52.6M448 200h4.6M224 204h4.6M240 204h4.6M300 204h20.6M228 208h12.6M312 208h4.6M436 208h4.6M424 216h4.6M328 220h12.6M416 220h4.6M324 224h32.6M392 224h12.6M324 228h12.6M324 232h8.6M324 236h4.6M324 240h4.6M320 244h4.6M320 248h4.6M316 252h4.6M312 256h4.6M308 260h8.6M308 264h4.6M304 268h4.6M304 272h4.6M304 276h4.6M300 280h4.6M300 284h4.6M300 288h4.6M304 296h4.6M304 300h4.6M304 304h4.6M308 312h4.6M308 316h4.6M308 320h4.6M312 336h4.6M312 340h4.6M312 344h4.6M312 348h4.6M312 352h4.6M312 356h4.6M312 360h4.6M100 364h16.6M100 368h28.6M316 368h4.6M104 372h28.6M316 372h4.6M124 376h16.6M320 376h4.6M136 380h8.6M328 380h4.6M140 384h8.6M392 384h8.6M144 388h4.6M404 388h4.6M148 392h4.6M412 392h8.6M148 396h4.6M424 396h4.6M148 400h4.6M428 400h8.6M144 404h8.6M436 404h4.6M144 408h4.6M440 408h4.6M140 412h8.6M444 412h4.6M132 416h12.6M448 416h12.6M128 420h12.6M456 420h12.6M124 424h12.6M464 424h12.6M128 428h4.6"/>
<path stroke="#EE6A00" d="M424 76h4.6M128 80h4.6M424 80h8.6M128 84h8.6M420 84h8.6M132 88h4.6M416 88h4.6M408 92h8.6M400 96h8.6M396 100h4.6M340 104h52.6M328 108h12.6M324 112h8.6M320 116h4.6M316 120h4.6M308 124h4.6M300 128h4.6M296 132h4.6M292 136h4.6M288 144h4.6M288 164h4.6M152 168h4.6M292 168h4.6M476 168h4.6M160 172h8.6M296 172h4.6M476 172h4.6M188 176h8.6M300 176h8.6M472 176h4.6M200 180h4.6M304 180h8.6M468 180h4.6M204 184h4.6M308 184h8.6M464 184h4.6M208 188h4.6M312 188h12.6M460 188h4.6M316 192h8.6M456 192h4.6M212 196h4.6M316 196h8.6M216 200h4.6M252 200h16.6M320 200h8.6M220 204h4.6M244 204h56.6M320 204h8.6M440 204h4.6M224 208h4.6M240 208h12.6M272 208h40.6M316 208h16.6M228 212h12.6M300 212h36.6M428 212h4.6M308 216h36.6M420 216h4.6M312 220h16.6M340 220h12.6M408 220h8.6M312 224h12.6M356 224h36.6M316 228h8.6M316 232h8.6M316 236h8.6M316 240h8.6M316 244h4.6M312 248h8.6M312 252h4.6M308 256h4.6M304 260h4.6M300 264h8.6M300 268h4.6M300 272h4.6M300 276h4.6M296 280h4.6M296 284h4.6M300 292h4.6M300 296h4.6M300 300h4.6M304 308h4.6M304 312h4.6M308 324h4.6M308 328h4.6M308 332h4.6M308 336h4.6M308 340h4.6M308 344h4.6M100 348h4.6M308 348h4.6M100 352h16.6M308 352h4.6M100 356h24.6M308 356h4.6M100 360h28.6M116 364h20.6M312 364h4.6M128 368h12.6M312 368h4.6M132 372h12.6M140 376h4.6M316 376h4.6M144 380h4.6M324 380h4.6M148 384h4.6M332 384h36.6M388 384h4.6M148 388h4.6M400 388h4.6M152 392h4.6M408 392h4.6M152 396h4.6M416 396h8.6M152 400h4.6M424 400h4.6M152 404h4.6M432 404h4.6M148 408h4.6M436 408h4.6M148 412h4.6M440 412h4.6M144 416h4.6M444 416h4.6M140 420h8.6M448 420h8.6M136 424h8.6M456 424h8.6M132 428h8.6M132 432h8.6"/>
<path stroke="#EC5E00" d="M432 80h4.6M428 84h12.6M420 88h16.6M416 92h12.6M408 96h12.6M400 100h8.6M392 104h8.6M340 108h52.6M332 112h8.6M324 116h8.6M320 120h4.6M312 124h4.6M304 128h8.6M288 148h4.6M288 152h4.6M288 156h4.6M288 160h4.6M476 164h4.6M296 168h4.6M472 168h4.6M152 172h8.6M300 172h4.6M468 172h8.6M176 176h12.6M468 176h4.6M196 180h4.6M312 180h4.6M464 180h4.6M200 184h4.6M316 184h12.6M460 184h4.6M204 188h4.6M324 188h4.6M456 188h4.6M208 192h4.6M324 192h4.6M452 192h4.6M208 196h4.6M324 196h8.6M448 196h4.6M212 200h4.6M328 200h4.6M444 200h4.6M216 204h4.6M328 204h8.6M216 208h8.6M252 208h20.6M332 208h8.6M432 208h4.6M220 212h8.6M240 212h60.6M336 212h8.6M424 212h4.6M228 216h20.6M292 216h16.6M344 216h8.6M416 216h4.6M300 220h12.6M352 220h12.6M400 220h8.6M304 224h8.6M308 228h8.6M308 232h8.6M308 236h8.6M308 240h8.6M308 244h8.6M308 248h4.6M304 252h8.6M300 256h8.6M296 260h8.6M296 264h4.6M296 268h4.6M296 272h4.6M292 276h8.6M292 280h4.6M292 284h4.6M296 288h4.6M296 292h4.6M296 296h4.6M296 300h4.6M300 304h4.6M300 308h4.6M304 316h4.6M304 320h4.6M304 324h4.6M304 328h4.6M304 332h4.6M108 336h8.6M304 336h4.6M104 340h20.6M304 340h4.6M100 344h28.6M104 348h28.6M116 352h20.6M124 356h12.6M128 360h12.6M308 360h4.6M136 364h8.6M308 364h4.6M140 368h4.6M308 368h4.6M144 372h4.6M312 372h4.6M144 376h8.6M312 376h4.6M148 380h8.6M316 380h8.6M152 384h4.6M324 384h8.6M368 384h20.6M152 388h8.6M396 388h4.6M156 392h4.6M404 392h4.6M156 396h4.6M412 396h4.6M156 400h4.6M420 400h4.6M156 404h4.6M428 404h4.6M152 408h4.6M432 408h4.6M152 412h4.6M436 412h4.6M148 416h8.6M440 416h4.6M148 420h4.6M444 420h4.6M144 424h8.6M448 424h8.6M140 428h8.6M140 432h8.6M140 436h4.6M140 440h4.6"/>
<path stroke="#E95200" d="M436 88h12.6M428 92h24.6M420 96h16.6M448 96h8.6M408 100h16.6M400 104h12.6M392 108h12.6M340 112h52.6M332 116h12.6M324 120h8.6M316 124h8.6M312 128h4.6M300 132h4.6M296 136h4.6M292 140h4.6M472 160h4.6M292 164h4.6M472 164h4.6M300 168h4.6M468 168h4.6M304 172h4.6M464 172h4.6M164 176h12.6M308 176h8.6M464 176h4.6M188 180h8.6M316 180h12.6M460 180h4.6M196 184h4.6M328 184h4.6M456 184h4.6M200 188h4.6M328 188h4.6M204 192h4.6M328 192h4.6M332 196h4.6M208 200h4.6M332 200h4.6M212 204h4.6M336 204h4.6M436 204h4.6M340 208h4.6M428 208h4.6M216 212h4.6M344 212h4.6M220 216h8.6M248 216h44.6M352 216h4.6M412 216h4.6M228 220h36.6M272 220h28.6M364 220h36.6M296 224h8.6M300 228h8.6M300 232h8.6M300 236h8.6M300 240h8.6M300 244h8.6M296 248h12.6M296 252h8.6M292 256h8.6M292 260h4.6M288 264h8.6M288 268h8.6M288 272h8.6M288 276h4.6M288 280h4.6M288 284h4.6M292 288h4.6M292 292h4.6M292 296h4.6M296 304h4.6M296 308h4.6M300 312h4.6M300 316h4.6M116 320h20.6M300 320h4.6M116 324h20.6M112 328h28.6M112 332h28.6M116 336h24.6M124 340h16.6M128 344h12.6M304 344h4.6M132 348h12.6M304 348h4.6M136 352h8.6M304 352h4.6M136 356h8.6M304 356h4.6M140 360h8.6M304 360h4.6M144 364h4.6M304 364h4.6M144 368h8.6M304 368h4.6M148 372h8.6M308 372h4.6M152 376h4.6M308 376h4.6M156 380h4.6M312 380h4.6M156 384h4.6M316 384h8.6M160 388h4.6M328 388h36.6M388 388h8.6M160 392h4.6M400 392h4.6M160 396h4.6M408 396h4.6M160 400h4.6M416 400h4.6M160 404h4.6M424 404h4.6M156 408h4.6M156 412h4.6M156 416h4.6M436 416h4.6M152 420h4.6M440 420h4.6M152 424h4.6M444 424h4.6M148 428h4.6M148 432h4.6M144 436h8.6M144 440h8.6M144 444h8.6M144 448h8.6M144 452h4.6M140 456h8.6M136 460h12.6M132 464h12.6M132 468h12.6M136 472h4.6"/>
<path stroke="#E54800" d="M436 96h12.6M424 100h36.6M412 104h52.6M404 108h20.6M448 108h16.6M392 112h16.6M456 112h8.6M344 116h52.6M460 116h4.6M332 120h16.6M460 120h4.6M324 124h8.6M316 128h4.6M304 132h8.6M292 144h4.6M292 156h4.6M468 156h4.6M292 160h4.6M468 160h4.6M296 164h4.6M464 164h8.6M464 168h4.6M308 172h4.6M148 176h16.6M316 176h8.6M460 176h4.6M180 180h8.6M328 180h4.6M456 180h4.6M192 184h4.6M196 188h4.6M332 188h4.6M452 188h4.6M200 192h4.6M332 192h4.6M448 192h4.6M204 196h4.6M444 196h4.6M204 200h4.6M336 200h4.6M440 200h4.6M208 204h4.6M340 204h4.6M432 204h4.6M212 208h4.6M344 208h4.6M212 212h4.6M348 212h8.6M420 212h4.6M216 216h4.6M356 216h12.6M400 216h12.6M220 220h8.6M264 220h8.6M228 224h68.6M244 228h56.6M292 232h8.6M292 236h8.6M292 240h8.6M288 244h12.6M288 248h8.6M284 252h12.6M284 256h8.6M284 260h8.6M284 264h4.6M284 268h4.6M284 272h4.6M284 276h4.6M284 280h4.6M284 284h4.6M284 288h8.6M288 292h4.6M288 296h4.6M144 300h12.6M288 300h8.6M128 304h28.6M292 304h4.6M120 308h36.6M120 312h32.6M296 312h4.6M120 316h32.6M296 316h4.6M136 320h16.6M136 324h16.6M300 324h4.6M140 328h12.6M300 328h4.6M140 332h8.6M300 332h4.6M140 336h8.6M300 336h4.6M140 340h12.6M300 340h4.6M140 344h12.6M300 344h4.6M144 348h8.6M300 348h4.6M144 352h8.6M300 352h4.6M144 356h8.6M300 356h4.6M148 360h8.6M300 360h4.6M148 364h8.6M300 364h4.6M152 368h8.6M300 368h4.6M156 372h4.6M300 372h8.6M156 376h8.6M304 376h4.6M160 380h8.6M304 380h8.6M160 384h8.6M312 384h4.6M164 388h4.6M316 388h12.6M364 388h12.6M380 388h8.6M164 392h4.6M340 392h16.6M396 392h4.6M164 396h4.6M400 396h8.6M164 400h4.6M412 400h4.6M164 404h4.6M420 404h4.6M160 408h8.6M428 408h4.6M160 412h4.6M432 412h4.6M160 416h4.6M156 420h4.6M436 420h4.6M156 424h4.6M440 424h4.6M152 428h8.6M444 428h4.6M152 432h8.6M152 436h8.6M152 440h8.6M152 444h8.6M152 448h8.6M148 452h12.6M148 456h12.6M148 460h12.6M144 464h16.6M144 468h12.6M140 472h16.6M140 476h16.6"/>
<path stroke="#DE3F00" d="M424 108h24.6M408 112h48.6M396 116h64.6M348 120h56.6M444 120h16.6M332 124h20.6M452 124h12.6M320 128h16.6M452 128h12.6M312 132h4.6M456 132h8.6M300 136h4.6M460 136h4.6M296 140h4.6M460 140h4.6M460 144h4.6M292 148h4.6M292 152h4.6M464 156h4.6M296 160h4.6M460 160h8.6M300 164h4.6M460 164h4.6M304 168h4.6M460 168h4.6M312 172h4.6M460 172h4.6M324 176h4.6M456 176h4.6M172 180h8.6M332 180h4.6M188 184h4.6M332 184h4.6M452 184h4.6M192 188h4.6M448 188h4.6M196 192h4.6M336 192h4.6M200 196h4.6M336 196h4.6M340 200h4.6M436 200h4.6M204 204h4.6M344 204h4.6M208 208h4.6M348 208h4.6M424 208h4.6M208 212h4.6M356 212h8.6M412 212h8.6M212 216h4.6M368 216h32.6M212 220h8.6M220 224h8.6M224 228h20.6M236 232h56.6M248 236h44.6M264 240h28.6M268 244h20.6M272 248h16.6M272 252h12.6M272 256h12.6M276 260h8.6M276 264h8.6M276 268h8.6M276 272h8.6M276 276h8.6M280 280h4.6M280 284h4.6M280 288h4.6M280 292h8.6M144 296h8.6M280 296h8.6M124 300h20.6M156 300h4.6M284 300h4.6M124 304h4.6M156 304h4.6M288 304h4.6M156 308h4.6M288 308h8.6M152 312h8.6M292 312h4.6M152 316h8.6M152 320h8.6M296 320h4.6M152 324h8.6M296 324h4.6M152 328h8.6M296 328h4.6M148 332h12.6M296 332h4.6M148 336h12.6M296 336h4.6M152 340h8.6M296 340h4.6M152 344h8.6M296 344h4.6M152 348h8.6M296 348h4.6M152 352h8.6M296 352h4.6M152 356h8.6M296 356h4.6M156 360h8.6M296 360h4.6M156 364h8.6M296 364h4.6M160 368h8.6M296 368h4.6M160 372h8.6M296 372h4.6M164 376h8.6M296 376h8.6M168 380h4.6M300 380h4.6M168 384h8.6M300 384h12.6M168 388h8.6M308 388h8.6M376 388h4.6M168 392h8.6M316 392h24.6M356 392h12.6M388 392h8.6M168 396h8.6M396 396h4.6M168 400h8.6M404 400h8.6M168 404h4.6M224 404h12.6M416 404h4.6M168 408h4.6M220 408h16.6M424 408h4.6M164 412h4.6M220 412h20.6M428 412h4.6M164 416h4.6M224 416h16.6M432 416h4.6M160 420h4.6M224 420h12.6M160 424h4.6M356 424h12.6M436 424h4.6M160 428h4.6M352 428h16.6M440 428h4.6M160 432h4.6M352 432h16.6M160 436h4.6M356 436h8.6M160 440h4.6M160 444h8.6M160 448h8.6M160 452h8.6M160 456h8.6M160 460h8.6M160 464h12.6M156 468h16.6M156 472h16.6M156 476h16.6M164 480h8.6"/>
<path stroke="#D53500" d="M404 120h40.6M352 124h100.6M336 128h24.6M380 128h16.6M436 128h16.6M316 132h12.6M332 132h12.6M444 132h12.6M304 136h4.6M448 136h12.6M452 140h8.6M452 144h8.6M456 148h4.6M296 156h4.6M456 156h8.6M300 160h4.6M456 160h4.6M304 164h4.6M456 164h4.6M308 168h4.6M456 168h4.6M316 172h8.6M456 172h4.6M328 176h4.6M452 176h4.6M148 180h24.6M452 180h4.6M180 184h8.6M336 184h4.6M448 184h4.6M188 188h4.6M336 188h4.6M192 192h4.6M340 192h4.6M444 192h4.6M196 196h4.6M340 196h4.6M440 196h4.6M200 200h4.6M344 200h4.6M432 200h4.6M200 204h4.6M348 204h4.6M428 204h4.6M204 208h4.6M352 208h8.6M420 208h4.6M204 212h4.6M364 212h8.6M400 212h12.6M208 216h4.6M208 220h4.6M212 224h8.6M216 228h8.6M224 232h12.6M228 236h20.6M236 240h28.6M248 244h20.6M252 248h20.6M260 252h12.6M264 256h8.6M264 260h12.6M268 264h8.6M268 268h8.6M272 272h4.6M272 276h4.6M272 280h8.6M276 284h4.6M276 288h4.6M128 292h4.6M276 292h4.6M128 296h16.6M152 296h8.6M276 296h4.6M160 300h4.6M276 300h8.6M160 304h4.6M280 304h8.6M160 308h8.6M284 308h4.6M160 312h8.6M288 312h4.6M160 316h8.6M292 316h4.6M160 320h8.6M292 320h4.6M160 324h8.6M292 324h4.6M160 328h8.6M292 328h4.6M160 332h8.6M292 332h4.6M160 336h8.6M292 336h4.6M160 340h8.6M292 340h4.6M160 344h8.6M292 344h4.6M160 348h8.6M292 348h4.6M160 352h8.6M292 352h4.6M160 356h8.6M292 356h4.6M164 360h8.6M292 360h4.6M164 364h8.6M292 364h4.6M168 368h8.6M292 368h4.6M168 372h8.6M292 372h4.6M172 376h8.6M288 376h8.6M172 380h12.6M288 380h12.6M176 384h8.6M292 384h8.6M176 388h12.6M208 388h20.6M296 388h12.6M176 392h12.6M208 392h32.6M304 392h12.6M368 392h20.6M176 396h8.6M208 396h36.6M316 396h48.6M392 396h4.6M176 400h8.6M208 400h44.6M396 400h8.6M172 404h8.6M208 404h16.6M236 404h16.6M408 404h8.6M172 408h4.6M212 408h8.6M236 408h20.6M420 408h4.6M168 412h8.6M212 412h8.6M240 412h16.6M168 416h4.6M212 416h12.6M240 416h12.6M164 420h4.6M212 420h12.6M236 420h16.6M356 420h8.6M432 420h4.6M164 424h4.6M212 424h36.6M352 424h4.6M368 424h4.6M164 428h4.6M212 428h36.6M348 428h4.6M368 428h4.6M436 428h4.6M164 432h4.6M212 432h32.6M348 432h4.6M368 432h4.6M164 436h4.6M212 436h28.6M348 436h8.6M364 436h4.6M164 440h4.6M212 440h24.6M352 440h12.6M168 444h4.6M212 444h24.6M168 448h4.6M212 448h20.6M168 452h8.6M208 452h20.6M168 456h12.6M204 456h20.6M168 460h16.6M196 460h28.6M172 464h52.6M172 468h52.6M172 472h52.6M172 476h44.6M172 480h40.6M184 484h20.6M196 488h4.6"/>
<path stroke="#CC2C00" d="M360 128h20.6M396 128h40.6M328 132h4.6M344 132h100.6M308 136h12.6M336 136h16.6M428 136h20.6M300 140h4.6M436 140h16.6M296 144h4.6M444 144h8.6M296 148h4.6M448 148h8.6M296 152h4.6M448 152h8.6M452 156h4.6M452 160h4.6M308 164h4.6M452 164h4.6M312 168h8.6M452 168h4.6M324 172h8.6M452 172h4.6M332 176h8.6M448 176h4.6M336 180h4.6M448 180h4.6M144 184h20.6M172 184h8.6M340 184h4.6M444 184h4.6M184 188h4.6M340 188h4.6M444 188h4.6M188 192h4.6M440 192h4.6M192 196h4.6M344 196h4.6M436 196h4.6M196 200h4.6M348 200h4.6M428 200h4.6M196 204h4.6M352 204h8.6M424 204h4.6M200 208h4.6M360 208h8.6M412 208h8.6M200 212h4.6M372 212h28.6M204 216h4.6M208 224h4.6M212 228h4.6M216 232h8.6M220 236h8.6M228 240h8.6M232 244h16.6M236 248h16.6M244 252h16.6M248 256h16.6M252 260h12.6M256 264h12.6M260 268h8.6M264 272h8.6M264 276h8.6M268 280h4.6M268 284h8.6M132 288h4.6M268 288h8.6M132 292h20.6M272 292h4.6M160 296h4.6M188 296h8.6M272 296h4.6M164 300h4.6M184 300h16.6M272 300h4.6M164 304h36.6M276 304h4.6M168 308h28.6M280 308h4.6M168 312h24.6M284 312h4.6M168 316h20.6M288 316h4.6M168 320h16.6M288 320h4.6M168 324h12.6M168 328h12.6M168 332h8.6M168 336h8.6M168 340h8.6M168 344h8.6M168 348h8.6M288 348h4.6M168 352h8.6M288 352h4.6M168 356h8.6M288 356h4.6M172 360h8.6M288 360h4.6M172 364h8.6M288 364h4.6M176 368h8.6M284 368h8.6M176 372h12.6M284 372h8.6M180 376h12.6M284 376h4.6M184 380h48.6M280 380h8.6M184 384h60.6M276 384h16.6M188 388h20.6M228 388h40.6M272 388h24.6M188 392h20.6M240 392h64.6M184 396h24.6M244 396h28.6M292 396h24.6M364 396h28.6M184 400h24.6M252 400h20.6M308 400h56.6M392 400h4.6M180 404h28.6M252 404h16.6M400 404h8.6M176 408h12.6M200 408h12.6M256 408h12.6M416 408h4.6M176 412h4.6M204 412h8.6M256 412h8.6M424 412h4.6M172 416h4.6M204 416h8.6M252 416h12.6M352 416h12.6M428 416h4.6M168 420h8.6M208 420h4.6M252 420h8.6M348 420h8.6M364 420h8.6M168 424h4.6M208 424h4.6M248 424h12.6M344 424h8.6M432 424h4.6M168 428h4.6M208 428h4.6M248 428h8.6M344 428h4.6M372 428h4.6M168 432h4.6M208 432h4.6M244 432h8.6M344 432h4.6M168 436h4.6M204 436h8.6M240 436h8.6M344 436h4.6M368 436h4.6M168 440h4.6M204 440h8.6M236 440h12.6M344 440h8.6M364 440h8.6M172 444h4.6M200 444h12.6M236 444h8.6M348 444h20.6M172 448h8.6M196 448h16.6M232 448h8.6M176 452h32.6M228 452h8.6M180 456h24.6M224 456h12.6M184 460h12.6M224 460h8.6M224 464h8.6M224 468h8.6M224 472h8.6M216 476h12.6M212 480h16.6M204 484h20.6M200 488h20.6M204 492h16.6M212 496h4.6"/>
<path stroke="#C12300" d="M320 136h16.6M352 136h76.6M304 140h4.6M336 140h100.6M396 144h12.6M424 144h20.6M436 148h12.6M440 152h8.6M300 156h4.6M444 156h8.6M304 160h4.6M448 160h4.6M312 164h4.6M448 164h4.6M320 168h12.6M448 168h4.6M332 172h8.6M448 172h4.6M340 176h4.6M340 180h4.6M444 180h4.6M164 184h8.6M144 188h16.6M180 188h4.6M344 188h4.6M440 188h4.6M184 192h4.6M344 192h4.6M436 192h4.6M188 196h4.6M348 196h4.6M432 196h4.6M192 200h4.6M352 200h4.6M424 200h4.6M192 204h4.6M360 204h4.6M420 204h4.6M196 208h4.6M368 208h4.6M396 208h16.6M196 212h4.6M200 216h4.6M204 220h4.6M204 224h4.6M208 228h4.6M212 232h4.6M216 236h4.6M220 240h8.6M224 244h8.6M228 248h8.6M228 252h16.6M232 256h16.6M240 260h12.6M244 264h12.6M248 268h12.6M252 272h12.6M256 276h8.6M260 280h8.6M132 284h4.6M260 284h8.6M136 288h8.6M264 288h4.6M152 292h8.6M184 292h32.6M268 292h4.6M164 296h8.6M176 296h12.6M196 296h20.6M268 296h4.6M168 300h16.6M200 300h16.6M268 300h4.6M200 304h12.6M272 304h4.6M196 308h12.6M272 308h8.6M192 312h16.6M276 312h8.6M188 316h16.6M280 316h8.6M184 320h16.6M284 320h4.6M180 324h16.6M288 324h4.6M180 328h12.6M288 328h4.6M176 332h12.6M288 332h4.6M176 336h12.6M288 336h4.6M176 340h8.6M288 340h4.6M176 344h8.6M288 344h4.6M176 348h8.6M176 352h8.6M176 356h8.6M284 356h4.6M180 360h8.6M284 360h4.6M180 364h8.6M284 364h4.6M184 368h8.6M280 368h4.6M188 372h12.6M208 372h24.6M276 372h8.6M192 376h52.6M272 376h12.6M232 380h48.6M244 384h32.6M268 388h4.6M272 396h20.6M272 400h36.6M364 400h28.6M268 404h20.6M300 404h72.6M384 404h16.6M188 408h12.6M268 408h12.6M312 408h52.6M408 408h8.6M180 412h24.6M264 412h12.6M344 412h24.6M420 412h4.6M176 416h12.6M196 416h8.6M264 416h8.6M344 416h8.6M364 416h12.6M176 420h4.6M200 420h8.6M260 420h12.6M340 420h8.6M372 420h4.6M428 420h4.6M172 424h4.6M204 424h4.6M260 424h8.6M340 424h4.6M372 424h4.6M172 428h4.6M204 428h4.6M256 428h8.6M340 428h4.6M432 428h4.6M172 432h4.6M204 432h4.6M252 432h8.6M336 432h8.6M372 432h4.6M172 436h4.6M200 436h4.6M248 436h8.6M336 436h8.6M372 436h4.6M172 440h8.6M196 440h8.6M248 440h4.6M340 440h4.6M372 440h4.6M176 444h24.6M244 444h4.6M340 444h8.6M368 444h4.6M180 448h16.6M240 448h8.6M344 448h28.6M236 452h8.6M352 452h12.6M236 456h4.6M232 460h4.6M232 464h4.6M232 468h4.6M232 472h4.6M228 476h8.6M228 480h4.6M224 484h8.6M220 488h12.6M220 492h8.6M216 496h12.6"/>
<path stroke="#B61A00" d="M308 140h28.6M300 144h4.6M336 144h60.6M408 144h16.6M300 148h4.6M344 148h92.6M300 152h4.6M392 152h24.6M424 152h16.6M304 156h4.6M436 156h8.6M308 160h4.6M440 160h8.6M316 164h4.6M444 164h4.6M332 168h8.6M444 168h4.6M340 172h4.6M444 172h4.6M344 176h4.6M444 176h4.6M344 180h4.6M440 180h4.6M344 184h4.6M440 184h4.6M160 188h20.6M436 188h4.6M148 192h12.6M180 192h4.6M348 192h4.6M432 192h4.6M148 196h4.6M184 196h4.6M352 196h4.6M428 196h4.6M188 200h4.6M356 200h8.6M420 200h4.6M188 204h4.6M364 204h8.6M412 204h8.6M192 208h4.6M372 208h24.6M192 212h4.6M196 216h4.6M200 220h4.6M200 224h4.6M204 228h4.6M208 232h4.6M208 236h8.6M212 240h8.6M216 244h8.6M220 248h8.6M220 252h8.6M224 256h8.6M228 260h12.6M228 264h16.6M232 268h16.6M236 272h16.6M244 276h12.6M248 280h12.6M136 284h8.6M208 284h16.6M252 284h8.6M144 288h4.6M184 288h40.6M256 288h8.6M160 292h8.6M176 292h8.6M216 292h8.6M260 292h8.6M172 296h4.6M216 296h8.6M260 296h8.6M216 300h4.6M264 300h4.6M212 304h8.6M264 304h8.6M208 308h8.6M268 308h4.6M208 312h8.6M272 312h4.6M204 316h12.6M276 316h4.6M200 320h12.6M280 320h4.6M196 324h16.6M280 324h8.6M192 328h16.6M284 328h4.6M188 332h16.6M284 332h4.6M188 336h12.6M284 336h4.6M184 340h12.6M284 340h4.6M184 344h8.6M284 344h4.6M184 348h8.6M284 348h4.6M184 352h8.6M284 352h4.6M184 356h8.6M280 356h4.6M188 360h4.6M280 360h4.6M188 364h8.6M220 364h8.6M276 364h8.6M192 368h48.6M272 368h8.6M200 372h8.6M232 372h20.6M264 372h12.6M244 376h28.6M288 404h12.6M372 404h12.6M280 408h32.6M364 408h44.6M276 412h8.6M304 412h40.6M368 412h24.6M416 412h4.6M188 416h8.6M272 416h8.6M316 416h28.6M376 416h8.6M424 416h4.6M180 420h20.6M272 420h8.6M332 420h8.6M376 420h4.6M176 424h12.6M196 424h8.6M268 424h8.6M332 424h8.6M376 424h4.6M428 424h4.6M176 428h4.6M196 428h8.6M264 428h8.6M332 428h8.6M376 428h4.6M428 428h4.6M176 432h4.6M196 432h8.6M260 432h8.6M332 432h4.6M376 432h4.6M176 436h24.6M256 436h8.6M332 436h4.6M376 436h4.6M180 440h16.6M252 440h8.6M336 440h4.6M376 440h4.6M248 444h8.6M336 444h4.6M372 444h8.6M248 448h4.6M340 448h4.6M372 448h4.6M244 452h4.6M340 452h12.6M364 452h12.6M240 456h4.6M344 456h24.6M236 460h8.6M352 460h4.6M236 464h4.6M236 468h4.6M236 472h4.6M236 476h4.6M232 480h8.6M232 484h8.6M232 488h4.6M228 492h8.6M228 496h4.6"/>
<path stroke="#AE1300" d="M304 144h12.6M324 144h12.6M304 148h4.6M332 148h12.6M304 152h4.6M336 152h56.6M416 152h8.6M308 156h4.6M336 156h100.6M312 160h4.6M332 160h32.6M396 160h16.6M428 160h12.6M320 164h32.6M432 164h12.6M340 168h12.6M436 168h8.6M344 172h8.6M436 172h8.6M348 176h4.6M436 176h8.6M348 180h4.6M436 180h4.6M348 184h4.6M436 184h4.6M348 188h8.6M432 188h4.6M160 192h20.6M352 192h4.6M428 192h4.6M152 196h12.6M180 196h4.6M356 196h8.6M424 196h4.6M152 200h4.6M180 200h8.6M364 200h8.6M416 200h4.6M184 204h4.6M372 204h40.6M188 208h4.6M188 212h4.6M192 216h4.6M196 220h4.6M196 224h4.6M200 228h4.6M204 232h4.6M204 236h4.6M208 240h4.6M212 244h4.6M212 248h8.6M216 252h4.6M216 256h8.6M220 260h8.6M220 264h8.6M220 268h12.6M216 272h20.6M136 276h4.6M212 276h32.6M136 280h8.6M204 280h44.6M144 284h4.6M188 284h20.6M224 284h28.6M148 288h8.6M176 288h8.6M224 288h32.6M168 292h8.6M224 292h12.6M244 292h16.6M224 296h8.6M248 296h12.6M220 300h8.6M252 300h12.6M220 304h4.6M256 304h8.6M216 308h8.6M260 308h8.6M216 312h8.6M264 312h8.6M216 316h8.6M268 316h8.6M212 320h12.6M272 320h8.6M212 324h12.6M276 324h4.6M208 328h16.6M276 328h8.6M204 332h24.6M280 332h4.6M200 336h24.6M280 336h4.6M196 340h28.6M280 340h4.6M192 344h28.6M280 344h4.6M192 348h12.6M280 348h4.6M192 352h8.6M216 352h12.6M280 352h4.6M192 356h8.6M212 356h24.6M276 356h4.6M192 360h8.6M208 360h32.6M276 360h4.6M196 364h24.6M228 364h20.6M272 364h4.6M240 368h32.6M252 372h12.6M284 412h20.6M392 412h24.6M280 416h12.6M300 416h16.6M384 416h8.6M420 416h4.6M280 420h4.6M312 420h20.6M380 420h4.6M424 420h4.6M188 424h8.6M276 424h4.6M324 424h8.6M380 424h4.6M180 428h16.6M272 428h4.6M328 428h4.6M380 428h4.6M180 432h16.6M268 432h4.6M328 432h4.6M380 432h4.6M264 436h8.6M328 436h4.6M380 436h4.6M260 440h8.6M332 440h4.6M380 440h4.6M256 444h8.6M332 444h4.6M380 444h4.6M252 448h8.6M332 448h8.6M376 448h8.6M248 452h8.6M336 452h4.6M244 456h4.6M336 456h8.6M244 460h4.6M340 460h12.6M240 464h4.6M240 468h4.6M240 472h4.6M240 476h4.6M240 480h4.6M240 484h4.6M236 488h8.6M236 492h8.6"/>
<path stroke="#9E060F" d="M316 144h8.6M308 148h8.6M324 148h8.6M308 152h4.6M328 152h8.6M312 156h4.6M328 156h8.6M316 160h16.6M364 160h32.6M412 160h16.6M352 164h24.6M388 164h44.6M352 168h16.6M428 168h8.6M352 172h12.6M432 172h4.6M352 176h8.6M432 176h4.6M352 180h8.6M432 180h4.6M352 184h8.6M428 184h8.6M356 188h8.6M428 188h4.6M356 192h12.6M424 192h4.6M164 196h16.6M364 196h8.6M416 196h8.6M156 200h24.6M372 200h8.6M388 200h28.6M156 204h4.6M176 204h8.6M180 208h8.6M184 212h4.6M184 216h8.6M188 220h8.6M192 224h4.6M196 228h4.6M196 232h8.6M200 236h4.6M204 240h4.6M204 244h8.6M208 248h4.6M208 252h8.6M212 256h4.6M212 260h8.6M212 264h8.6M212 268h8.6M140 272h4.6M208 272h8.6M140 276h4.6M204 276h8.6M144 280h4.6M188 280h16.6M148 284h4.6M176 284h12.6M156 288h20.6M236 292h8.6M232 296h16.6M228 300h24.6M224 304h32.6M224 308h36.6M224 312h40.6M224 316h44.6M224 320h48.6M224 324h24.6M268 324h8.6M224 328h24.6M272 328h4.6M228 332h20.6M272 332h8.6M224 336h20.6M276 336h4.6M224 340h20.6M276 340h4.6M220 344h24.6M276 344h4.6M204 348h40.6M276 348h4.6M200 352h16.6M228 352h16.6M276 352h4.6M200 356h12.6M236 356h12.6M272 356h4.6M200 360h8.6M240 360h12.6M268 360h8.6M248 364h24.6M292 416h8.6M392 416h8.6M416 416h4.6M284 420h28.6M384 420h8.6M420 420h4.6M280 424h8.6M312 424h12.6M384 424h4.6M424 424h4.6M276 428h8.6M320 428h8.6M424 428h4.6M272 432h8.6M324 432h4.6M424 432h4.6M272 436h4.6M324 436h4.6M384 436h4.6M268 440h4.6M328 440h4.6M384 440h4.6M264 444h8.6M328 444h4.6M384 444h4.6M260 448h8.6M328 448h4.6M384 448h4.6M256 452h8.6M332 452h4.6M248 456h8.6M332 456h4.6M248 460h4.6M332 460h8.6M244 464h4.6M336 464h8.6M244 468h4.6M244 472h4.6M244 476h4.6M244 480h4.6M244 484h8.6M244 488h8.6"/>
<path stroke="#90001C" d="M316 148h8.6M312 152h16.6M316 156h12.6M376 164h12.6M368 168h60.6M364 172h12.6M420 172h12.6M360 176h12.6M424 176h8.6M360 180h8.6M424 180h8.6M360 184h8.6M424 184h4.6M364 188h8.6M420 188h8.6M368 192h8.6M416 192h8.6M372 196h44.6M380 200h8.6M160 204h16.6M160 208h20.6M164 212h20.6M176 216h8.6M180 220h8.6M184 224h8.6M188 228h8.6M192 232h4.6M196 236h4.6M196 240h8.6M200 244h4.6M200 248h8.6M204 252h4.6M204 256h8.6M208 260h4.6M208 264h4.6M140 268h8.6M204 268h8.6M144 272h4.6M204 272h4.6M144 276h8.6M188 276h16.6M148 280h8.6M176 280h12.6M152 284h24.6M248 324h20.6M248 328h24.6M248 332h24.6M244 336h12.6M268 336h8.6M244 340h8.6M272 340h4.6M244 344h8.6M272 344h4.6M244 348h8.6M272 348h4.6M244 352h8.6M272 352h4.6M248 356h8.6M268 356h4.6M252 360h16.6M400 416h16.6M392 420h8.6M416 420h4.6M288 424h24.6M388 424h4.6M420 424h4.6M284 428h8.6M308 428h12.6M384 428h4.6M420 428h4.6M280 432h4.6M316 432h8.6M384 432h4.6M420 432h4.6M276 436h4.6M320 436h4.6M388 436h4.6M416 436h4.6M272 440h8.6M320 440h8.6M388 440h4.6M272 444h4.6M324 444h4.6M388 444h8.6M268 448h8.6M324 448h4.6M388 448h4.6M264 452h8.6M324 452h8.6M256 456h12.6M324 456h8.6M252 460h8.6M324 460h8.6M248 464h4.6M324 464h12.6M248 468h4.6M248 472h4.6M248 476h8.6M248 480h8.6M252 484h8.6"/>
<path stroke="#870021" d="M376 172h44.6M372 176h12.6M416 176h8.6M368 180h12.6M420 180h4.6M368 184h12.6M420 184h4.6M372 188h12.6M416 188h4.6M376 192h40.6M164 216h12.6M164 220h16.6M164 224h20.6M180 228h8.6M184 232h8.6M188 236h8.6M192 240h4.6M192 244h8.6M196 248h4.6M196 252h8.6M200 256h4.6M148 260h4.6M200 260h8.6M144 264h8.6M200 264h8.6M148 268h4.6M196 268h8.6M148 272h8.6M188 272h16.6M152 276h8.6M176 276h12.6M156 280h20.6M256 336h12.6M252 340h20.6M252 344h8.6M264 344h8.6M252 348h8.6M268 348h4.6M252 352h8.6M264 352h8.6M256 356h12.6M400 420h16.6M392 424h12.6M412 424h8.6M292 428h16.6M388 428h12.6M412 428h8.6M284 432h32.6M388 432h12.6M412 432h8.6M280 436h8.6M312 436h8.6M392 436h24.6M280 440h4.6M316 440h4.6M392 440h20.6M276 444h8.6M316 444h8.6M396 444h8.6M276 448h4.6M316 448h8.6M272 452h8.6M316 452h8.6M268 456h8.6M316 456h8.6M260 460h16.6M316 460h8.6M252 464h20.6M316 464h8.6M252 468h16.6M316 468h12.6M252 472h16.6M256 476h12.6M256 480h12.6"/>
<path stroke="#7F0024" d="M384 176h32.6M380 180h40.6M380 184h40.6M384 188h32.6M168 228h12.6M168 232h16.6M168 236h20.6M168 240h24.6M180 244h12.6M184 248h12.6M160 252h4.6M188 252h8.6M152 256h12.6M188 256h12.6M152 260h12.6M188 260h12.6M152 264h12.6M184 264h16.6M152 268h16.6M176 268h20.6M156 272h32.6M160 276h16.6M260 344h4.6M260 348h8.6M260 352h4.6M404 424h8.6M400 428h12.6M400 432h12.6M288 436h24.6M284 440h32.6M284 444h8.6M304 444h12.6M280 448h12.6M304 448h12.6M280 452h12.6M304 452h12.6M276 456h16.6M300 456h16.6M276 460h40.6M272 464h44.6M268 468h48.6M268 472h44.6M268 476h20.6"/>
<path stroke="#7E0025" d="M168 244h12.6M164 248h20.6M164 252h24.6M164 256h24.6M164 260h24.6M164 264h20.6M168 268h8.6M292 444h12.6M292 448h12.6M292 452h12.6M292 456h8.6"/>
</g>
</g></g>
<path d="M153.8 148.8L172.5 142.5L190 138.8L202.5 138L215 143.8L226.2 142.5L232.5 150L245 147L255 143L253 130L260 121.2L270 119.5L262.5 113L260 106.2L275 94.5M280 57.5L276.2 68.8L270 73L268.8 80L275.5 87L276.2 94.5M276.2 94.5L287.5 100L300 106.2L299.5 98L310 92.5L327.5 85.5L345 81.5L350.5 88L367.5 84.2L377.5 80L395 77.5L412.5 73.8M170 208.8L186.2 220L195 232.5L202.5 242.5L215 252.5L230 252.5L240 245L250 246.2L250 241.2L238 235.5L236.2 225L243 218L260 215.5L275 211.2L287.5 210.5L297.5 216.8L307.5 218M307.5 218L302.5 231.2L295 240L305.5 245L315 260.5L320 266.2L318.8 253.8L330.5 243.8L340.5 240L347.5 242.5M307.5 218L325 217.5L337.5 220L352.5 237.5L367.5 252.5L385 256.2L397.5 266.2L405 280L415 285L425 295L437.5 307.5L445 314M385 256.2L402.5 243.8L415 240.5L430.5 237.5M464 205.5L445 210.5L436.2 213.8L428 225.5L430.5 237.5L440 240.5L443 253.8L438 261.2M122.5 330L132.5 337.5L143.8 340L148.8 356.2L162.5 362.5L177.5 372.5L186.2 373.8L187.5 366.2L186.2 356.2L200 350L190 342.5L207.5 330L220 328.8L237.5 320L240 316.2L230 315L212.5 308.8L215 301.2L241.2 300L245 306.2L255 307.5L265 305L275 295L285 290L292.5 292.5L297.5 300L315 297.5L330 297.5L342.5 295L355 296.2M186.2 373.8L195 367.5L205 370L207.5 377.5L220 382.5L212.5 390L222.5 397.5L232.5 400L245 406.2L265 407.5L275 411.2L285 408.8L302.5 410L310 416.2L330 418.8L352.5 420L370 418.8L372.5 417.5L390 417.5L405 412.5L412.5 407.5L415 395L427.5 392.5M245 407.5L247.5 417.5L245 427.5L262.5 430L267.5 442.5L282.5 453.8L270 461.2L270 467.5M302.5 410L300 405L307.5 385L320 367.5L332.5 360L327.5 350L340 347.5L355 337.5L372.5 327.5L395 320L420 318.8L432.5 320M355 296.2L365 307L395 314.5L415 318.8M371.2 418.8L381.2 431.2L385 435.5M462.7 207.6L438.3 211L433.9 217.6L427.3 224.2L431.7 230.9L427.3 235.3L440.6 237.5L445 239.7M330 244.1L336.6 241.9L347.7 244.1L358.7 248.5L367.6 253L383.1 250.8L403 246.3L407.4 241.9L418.4 241.9L427.3 246.3L433.9 248.5M427.3 392.3L416.2 394.5L414 407.7L407.4 412.2L403 416.6L391.9 418.8L380.9 417.7L372 418.8M427.3 392.3L440.6 397.8L449.4 403.3L462.7 404.4L475.9 408.8L482.6 414.4L500.3 416.6" fill="none" stroke="#9C9C9C" stroke-width="2.3" stroke-linejoin="round" stroke-linecap="round"/>
<path d="M148 57.5L190 58L240 57.5L280 57.5L315 58L340 58.8L357.5 61.2L380 51.2L397.5 45L420 51.2L415 67.5L411.2 76.2L430 87.5L445 97.5L455 105L452.5 120L452.5 145L441.2 156.2L442.5 163.8L465 162.5L471.2 168.8L463.8 185L466.2 205L455 211.2L465 220L480 230L486.2 240L477.5 252.5L480 270L477.5 285L470 295L480 307.5L477.5 325L470 337.5L477.5 350L487.5 367.5L505 377.5L520 387.5L532.5 392.5L548.2 391.2L530 396.2L515 410L505 416.2L480 417.5L455 417.5L430 420L417.5 427.5L400 435L380 440L355 450L330 457.5L305 463.8L280 467.5L270 467.5L252.5 477.5L230 486.2L218.8 488.8L205 482.5L190 475L165 470L140 466.2L152.5 457.5L155 445L147.5 430L130 420L127.5 405L117.5 380L108.8 360L110 345L122.5 330L133.8 305L140 290L152.5 267.5L167.5 255L178.8 247.5L175 220L175 217.5L170 207.5L153.8 187.5L162.5 172.5L160 160L150 145L152.5 120L147.5 95L138.8 80L140 73.8Z" fill="none" stroke="#9C9C9C" stroke-width="2.5" stroke-linejoin="round"/>
<path d="M341.1 211L345.5 215.4L349.9 218.7L351 223.1L343.3 225.3L348.8 234.2L357.6 240.8L366.5 246.3L370.9 251.9L380.9 248.1L386.4 246.3L400.8 249L393 254.1L396.3 259.2L404.1 265.1L407.8 272.9L412.3 279.1L419.5 276.8L427.3 274.6L422.9 268L427.7 257.8L435.7 255.2L433.9 246.3L442.3 239.7L447.2 241L440.6 248.5L445 257.4L436.6 262.3L445 268.4L442.8 277.3L447.2 283.9L440.6 290.6L450.5 293.9L445.4 303.8L449.4 312.7L445 321.5L449.4 334.8L443.2 339.2L449.4 348L443.2 356.9L434.4 361.3L432.2 367.9L429.9 376.8L425.5 372.4L421.1 377.9L416.7 370.6L405.2 364L394.1 357.3L385.7 352.9L381.3 344.1L379.1 350.7L370.2 350.7L365.8 344.1L363.6 350.3L352.6 346.3L351 343.6L359.2 344.1L367.6 343.6L374.2 348L383.1 347.6L387.9 354.7L396.3 352L403.4 356.9L414 358.7L418.9 352.5L412.3 348L418.9 341.4L425.1 343.6L420.7 337L427.3 332.6L422.9 328.1L429.5 323.7L422.9 319.3L429.9 312.7L425.5 303.8L418.4 299.4L412.3 300.5L405.2 295L396.3 295L406.3 300.5L414 303.8L422.9 296.1L416.7 288.8L409.6 286.6L403 288.8L394.1 284.4L383.1 288.3L372 291L356.5 295.4L373.1 287.9L385.3 283.9L394.1 281.7L405.6 281.7L405.2 275.1L400.8 268.4L394.1 262.3L385.7 255.6L381.3 255.2L383.5 264L376.9 266.2L370.2 257.8L366.5 262.9L367.6 255.6L358.7 253.4L352.1 257.4L345.5 256.3L352.1 252.5L358.7 248.5L352.1 244.1L343.3 235.3L334.4 224.2L330 220.2L330 218L336.6 222L339.9 218.7Z" fill="#E5E5E5" stroke="#555" stroke-width="0.7" stroke-linejoin="round"/>
<path d="M504.7 404.4L513.5 402.2L514.6 407.7L506.9 412.2L502.5 409.9Z" fill="#E5E5E5" stroke="#555" stroke-width="0.7" stroke-linejoin="round"/>
<path d="M309.5 187L312.5 192.5L310 198.8L315.5 205L323 210.5L327.5 217.5L336.2 222.5L332.5 224.5L324.5 220.5L318.8 216.2L312.5 210.5L308 203.8L306.5 195Z" fill="#E5E5E5" stroke="#555" stroke-width="0.7" stroke-linejoin="round"/>
<path d="M445 239.7L436.1 244.1L427.3 246.3L418.4 244.1L405.2 246.3L400.8 261.8L407.4 277.3L418.4 283.9L425.1 295L429.5 303.8L438.3 310.5L439.4 321.5L436.1 334.8L438.3 348L433.9 356.9L429.5 363.5L433.9 367.9L439.4 374.6L427.3 385.6L427.3 392.3" fill="none" stroke="#9C9C9C" stroke-width="2.3" stroke-linejoin="round" stroke-linecap="round"/>
<path d="M330 298.3L352.1 296.1L358.7 300.5L367.6 307.1L385.3 310.5L394.1 312.7L396.3 319.3L420.7 319.3L438.3 320.4" fill="none" stroke="#9C9C9C" stroke-width="2.3" stroke-linejoin="round" stroke-linecap="round"/>
<path d="M330 349.1L343.3 343.6L358.7 330.4L374.2 325.9L396.3 319.3" fill="none" stroke="#9C9C9C" stroke-width="2.3" stroke-linejoin="round" stroke-linecap="round"/>
</g>
<rect x="92" y="26.2" width="456.2" height="480.6" fill="none" stroke="#4A4A4A" stroke-width="0.9"/>
<circle cx="400.8" cy="428.8" r="7.6" fill="#006400"/>
<text x="400.8" y="462.4" font-size="29" text-anchor="middle">Accra</text>
<text x="515" y="496.3" font-size="31.3" text-anchor="end">Ghana</text>
<text x="469" y="49.6" font-size="26" >PDI</text>
<text x="107.8" y="52.3" font-size="28" font-weight="bold">a</text>
<path d="M91.5 42.9V491.8M91.5 42.9H74.7M91.5 263.3H74.7M91.5 491.8H74.7M111.8 507.2H534M111.8 507.2V524.2M322.8 507.2V524.2M534 507.2V524.2" stroke="#000" stroke-width="1.3" fill="none"/>
<text transform="translate(60.8 42.9) rotate(-90)" font-size="26" text-anchor="middle">11.2</text>
<text transform="translate(60.8 263.3) rotate(-90)" font-size="26" text-anchor="middle">8.0</text>
<text transform="translate(60.8 491.8) rotate(-90)" font-size="26" text-anchor="middle">4.7</text>
<text x="111.8" y="557.3" font-size="26" text-anchor="middle">−3.2</text>
<text x="322.8" y="557.3" font-size="26" text-anchor="middle">−1.0</text>
<text x="534" y="557.3" font-size="26" text-anchor="middle">1.2</text>
<text transform="translate(20.2 266) rotate(-90)" font-size="26.5" text-anchor="middle">Latitude [deg.]</text>
<linearGradient id="cga" x1="0" y1="0" x2="0" y2="1">
<stop offset="0.000" stop-color="#7D0025"/>
<stop offset="0.060" stop-color="#7F0024"/>
<stop offset="0.087" stop-color="#8B0020"/>
<stop offset="0.120" stop-color="#960018"/>
<stop offset="0.141" stop-color="#AA1000"/>
<stop offset="0.186" stop-color="#B81C00"/>
<stop offset="0.230" stop-color="#CC2C00"/>
<stop offset="0.275" stop-color="#DC3C00"/>
<stop offset="0.320" stop-color="#E84C00"/>
<stop offset="0.363" stop-color="#EC6000"/>
<stop offset="0.408" stop-color="#F07400"/>
<stop offset="0.453" stop-color="#F28800"/>
<stop offset="0.493" stop-color="#F39400"/>
<stop offset="0.538" stop-color="#F5A200"/>
<stop offset="0.575" stop-color="#F8B000"/>
<stop offset="0.600" stop-color="#F6B430"/>
<stop offset="0.635" stop-color="#F6BC48"/>
<stop offset="0.680" stop-color="#F7C860"/>
<stop offset="0.724" stop-color="#F9D47C"/>
<stop offset="0.769" stop-color="#FAE094"/>
<stop offset="0.813" stop-color="#FCEAAA"/>
<stop offset="0.858" stop-color="#FEF4BC"/>
<stop offset="0.900" stop-color="#FFFAC4"/>
<stop offset="0.968" stop-color="#FFFFC8"/>
<stop offset="1.000" stop-color="#FFFFC8"/>
</linearGradient>
<rect x="560.1" y="65.4" width="14.1" height="343.4" fill="url(#cga)"/>
<rect x="560.1" y="408.8" width="14.1" height="45.1" fill="#7F7F7F"/>
<rect x="560.1" y="453.9" width="14.1" height="44.4" fill="#E5E5E5"/>
<rect x="560.1" y="65.4" width="14.1" height="432.9" fill="none" stroke="#000" stroke-width="1.4"/>
<path d="M574.2 76.8h4.6M574.2 390.4h4.6M574.2 431.3h4.6M574.2 476h4.6" stroke="#000" stroke-width="1.3" fill="none"/>
<text x="594" y="64.9" font-size="22.45">Weak physical</text>
<text x="594" y="90.3" font-size="22.45">distancing</text>
<text x="594" y="378.3" font-size="22.45">Strong physical</text>
<text x="594" y="403.7" font-size="22.45">distancing</text>
<text x="594" y="436.9" font-size="22.45">NA; Not in GHA</text>
<text x="594" y="463.4" font-size="22.45">Water</text>
<text x="594" y="489.9" font-size="22.45">bodies</text>
</g>
<g id="panel-b">
<clipPath id="mcb"><rect x="826" y="26.2" width="456.2" height="480.6"/></clipPath>
<g clip-path="url(#mcb)">
<rect x="826" y="26.2" width="456.2" height="480.6" fill="#7F7F7F"/>
<path d="M942.3 30L944.3 66.1M850 146.4L852 158.4L862 186.5L870.1 210.6L872.1 230.7L870.1 250.7M1106.9 138.4L1112.9 134.3L1118.9 138.4L1130.9 126.3M1120.9 192.5L1126.9 184.5L1134.9 174.5M830 476.8L842 470.7L856.1 474.7L870.1 456.7L882.2 442.6L896.2 430.6L910.3 424.6L920.3 426.6M870.1 456.7L876.2 470.7L884.2 476.8L884.2 486M856.1 474.7L860.1 486M1076.8 464.7L1090.9 468.7L1082.8 486" fill="none" stroke="#A0A0A0" stroke-width="1.4" stroke-linejoin="round"/>
<path d="M1047.5 26.2L1060 40L1075 52.5L1092.5 75L1110 97.5L1122.5 115L1135 132.5L1138.8 145L1132.5 160L1120 170L1132.5 170L1140 180L1147.5 195L1160 210L1170 216.2L1185 212.5L1205 198.8L1222.5 203.8L1245 187.5L1260 190L1282.5 181.2L1283 26Z" fill="#E5E5E5" stroke="#999" stroke-width="1"/>
<path d="M1282.5 417.5L1272.5 440L1260 460L1245 482.5L1230 505L1283 507Z" fill="#E5E5E5" stroke="#999" stroke-width="1"/>
<clipPath id="ccb"><path d="M945 66.2L960 60L975 52.5L982.5 45L992.5 48.8L998.8 60L1012.5 55L1020 52.5L1027.5 51.2L1035 61.2L1045 58.8L1057.5 67.5L1070 80L1085 97.5L1097.5 115L1106.2 135L1100 150L1092.5 165L1091.2 180L1095 192.5L1120 192.5L1117.5 205L1125 225L1135 245L1150 265L1170 277.5L1210 295L1240 311.2L1267.5 310L1260 320L1235 352.5L1210 387.5L1185 425L1160 430L1135 437.5L1120 452.5L1097.5 462.5L1080 460L1062.5 455L1042.5 467.5L1027.5 485L1020 483.8L1007.5 481.2L990 478.8L975 467.5L960 452.5L947.5 447.5L930 445L925 437.5L922.5 417.5L910 410L900 392.5L902.5 375L892.5 362.5L880 347.5L870 330L855 320L843.8 312.5L850 293.8L865 292.5L880 283.8L877.5 272.5L876.2 245L878.8 220L880 215L887.5 200L897.5 182.5L905 162.5L912.5 145L920 130L932.5 125L937.5 102.5L942.5 90Z"/></clipPath>
<g clip-path="url(#ccb)"><g filter="url(#bl)">
<g fill="none" stroke-width="4.6">
<path stroke="#FFFFC8" d="M1062 68h8.6M1058 72h16.6M1058 76h20.6M1062 80h20.6M1062 84h24.6M1062 88h28.6M1062 92h28.6M1062 96h32.6M1062 100h36.6M1066 104h36.6M1066 108h36.6M1070 112h36.6M1070 116h40.6M1074 120h36.6M1074 124h36.6M1078 128h36.6M1082 132h32.6M1086 136h32.6M1094 140h20.6M1222 296h8.6M1222 300h16.6M1222 304h48.6M1222 308h52.6M1222 312h44.6M1222 316h32.6"/>
<path stroke="#FFFFC8" d="M1058 64h8.6M1058 68h4.6M1054 72h4.6M1058 80h4.6M1058 84h4.6M1058 88h4.6M1058 92h4.6M1058 96h4.6M1058 100h4.6M1062 104h4.6M1062 108h4.6M1062 112h8.6M1066 116h4.6M1066 120h8.6M1070 124h4.6M1070 128h8.6M1074 132h8.6M1078 136h8.6M1078 140h16.6M1082 144h32.6M1090 148h16.6M1218 292h4.6M1214 296h8.6M1214 300h8.6M1214 304h8.6M1214 308h8.6M1214 312h8.6M1266 312h12.6M1214 316h8.6M1254 316h20.6M1218 320h44.6M1226 324h20.6"/>
<path stroke="#FFFEC7" d="M1058 60h4.6M1054 64h4.6M1054 68h4.6M1054 76h4.6M1054 80h4.6M1054 84h4.6M1054 88h4.6M1054 92h4.6M1054 96h4.6M1058 104h4.6M1058 108h4.6M1058 112h4.6M1058 116h8.6M1062 120h4.6M1062 124h8.6M1066 128h4.6M1066 132h8.6M1070 136h8.6M1070 140h8.6M1074 144h8.6M1074 148h16.6M1106 148h8.6M1078 152h32.6M1082 156h20.6M1214 288h4.6M1210 292h8.6M1210 296h4.6M1210 300h4.6M1210 304h4.6M1210 308h4.6M1210 312h4.6M1210 316h4.6M1210 320h8.6M1262 320h8.6M1214 324h12.6M1246 324h24.6M1222 328h32.6"/>
<path stroke="#FFFCC5" d="M1054 60h4.6M1050 68h4.6M1050 72h4.6M1050 76h4.6M1050 80h4.6M1050 92h4.6M1054 100h4.6M1054 104h4.6M1054 108h4.6M1058 120h4.6M1058 124h4.6M1062 128h4.6M1062 132h4.6M1066 136h4.6M1066 140h4.6M1066 144h8.6M1066 148h8.6M1070 152h8.6M1070 156h12.6M1102 156h8.6M1074 160h32.6M1078 164h20.6M1082 168h8.6M1206 284h4.6M1206 288h8.6M1206 292h4.6M1202 296h8.6M1202 300h8.6M1202 304h8.6M1202 308h8.6M1206 312h4.6M1206 316h4.6M1206 320h4.6M1206 324h8.6M1210 328h12.6M1254 328h12.6M1222 332h40.6M870 348h8.6M874 352h8.6M878 356h4.6M878 360h4.6"/>
<path stroke="#FFFAC4" d="M1054 56h4.6M1050 64h4.6M1046 68h4.6M1046 72h4.6M1050 84h4.6M1050 88h4.6M1050 96h4.6M1050 100h4.6M1054 112h4.6M1054 116h4.6M1054 120h4.6M1054 124h4.6M1058 128h4.6M1058 132h4.6M1062 136h4.6M1062 140h4.6M1062 144h4.6M1062 148h4.6M1062 152h8.6M1062 156h8.6M1066 160h8.6M1070 164h8.6M1098 164h8.6M1070 168h12.6M1090 168h12.6M1074 172h24.6M1074 176h20.6M1074 180h12.6M1070 184h12.6M1070 188h8.6M1202 284h4.6M1198 288h8.6M1198 292h8.6M1198 296h4.6M1198 300h4.6M1198 304h4.6M1198 308h4.6M1202 312h4.6M1202 316h4.6M1202 320h4.6M1206 328h4.6M1210 332h12.6M1222 336h36.6M866 340h8.6M866 344h12.6M878 348h4.6M882 352h4.6M882 356h4.6M882 360h4.6M882 364h4.6"/>
<path stroke="#FEF6BF" d="M1050 60h4.6M1046 64h4.6M1046 76h4.6M1046 80h4.6M1046 92h4.6M1050 104h4.6M1050 108h4.6M1050 112h4.6M1050 116h4.6M1050 120h4.6M1054 128h4.6M1058 136h4.6M1058 140h4.6M1058 144h4.6M1058 148h4.6M1058 152h4.6M1058 156h4.6M1062 160h4.6M1062 164h8.6M1066 168h4.6M1066 172h8.6M1098 172h4.6M1066 176h8.6M1094 176h8.6M1066 180h8.6M1086 180h12.6M1066 184h4.6M1082 184h12.6M1066 188h4.6M1078 188h12.6M1062 192h20.6M1062 196h16.6M1062 200h12.6M1194 284h8.6M1194 288h4.6M1194 292h4.6M1194 296h4.6M1194 300h4.6M1194 304h4.6M1194 308h4.6M1194 312h8.6M1198 316h4.6M1198 320h4.6M1202 324h4.6M1202 328h4.6M1206 332h4.6M862 336h12.6M1214 336h8.6M874 340h4.6M1222 340h36.6M878 344h4.6M882 348h4.6M886 352h4.6M886 356h4.6M886 360h4.6M886 364h4.6"/>
<path stroke="#FDF1B7" d="M1050 56h4.6M1046 60h4.6M1046 84h4.6M1046 88h4.6M1046 96h4.6M1050 124h4.6M1054 132h4.6M1054 136h4.6M1054 140h4.6M1054 144h4.6M1054 148h4.6M1054 152h4.6M1054 156h4.6M1054 160h8.6M1058 164h4.6M1062 168h4.6M1062 172h4.6M1062 176h4.6M1062 180h4.6M1098 180h4.6M1062 184h4.6M1094 184h8.6M1062 188h4.6M1090 188h8.6M1082 192h12.6M1058 196h4.6M1078 196h8.6M1074 200h4.6M1062 204h12.6M1190 280h8.6M1190 284h4.6M1186 288h8.6M1186 292h8.6M1186 296h8.6M1186 300h8.6M1190 304h4.6M1190 308h4.6M1190 312h4.6M1194 316h4.6M1194 320h4.6M1198 324h4.6M858 332h16.6M1202 332h4.6M874 336h8.6M1206 336h8.6M878 340h4.6M1214 340h8.6M882 344h4.6M1222 344h32.6M886 348h4.6M890 356h4.6M890 360h4.6M890 364h4.6M886 368h4.6"/>
<path stroke="#FCECAD" d="M1046 56h4.6M1042 64h4.6M1042 68h4.6M1042 72h4.6M1042 76h4.6M1046 100h4.6M1046 116h4.6M1046 120h4.6M1050 128h4.6M1050 132h4.6M1050 148h4.6M1050 152h4.6M1050 156h4.6M1050 160h4.6M1054 164h4.6M1058 168h4.6M1058 172h4.6M1058 176h4.6M1058 180h4.6M1058 184h4.6M1102 184h4.6M1058 188h4.6M1098 188h4.6M1058 192h4.6M1094 192h4.6M1086 196h8.6M1058 200h4.6M1078 200h8.6M1058 204h4.6M1074 204h4.6M1062 208h12.6M1062 212h8.6M1186 276h4.6M1186 280h4.6M1182 284h8.6M1178 288h8.6M1178 292h8.6M1178 296h8.6M1182 300h4.6M1182 304h8.6M1186 308h4.6M1186 312h4.6M1190 316h4.6M1190 320h4.6M1194 324h4.6M850 328h24.6M1198 328h4.6M874 332h8.6M882 340h4.6M1210 340h4.6M886 344h4.6M1214 344h8.6M1226 348h24.6M890 352h4.6M890 368h4.6"/>
<path stroke="#FBE6A1" d="M1046 52h4.6M1042 60h4.6M1042 80h4.6M1042 84h4.6M1042 92h4.6M1046 104h4.6M1046 108h4.6M1046 112h4.6M1046 124h4.6M1050 136h4.6M1050 140h4.6M1050 144h4.6M1046 152h4.6M1046 156h4.6M1050 164h4.6M1054 168h4.6M1054 172h4.6M1054 176h4.6M1106 184h8.6M1102 188h8.6M1054 192h4.6M1098 192h4.6M1054 196h4.6M1094 196h4.6M1086 200h8.6M1078 204h8.6M1058 208h4.6M1074 208h4.6M1058 212h4.6M1070 212h8.6M1058 216h16.6M1058 220h12.6M1058 224h12.6M1058 228h8.6M1058 232h8.6M1182 276h4.6M1178 280h8.6M1174 284h8.6M1170 288h8.6M1170 292h8.6M1174 296h4.6M1178 300h4.6M1178 304h4.6M1182 308h4.6M1182 312h4.6M1186 316h4.6M842 320h4.6M1186 320h4.6M846 324h28.6M1190 324h4.6M874 328h4.6M1194 328h4.6M1198 332h4.6M882 336h4.6M1202 336h4.6M1206 340h4.6M1210 344h4.6M890 348h4.6M1218 348h8.6M1226 352h20.6M1242 356h4.6M894 360h4.6M894 364h4.6"/>
<path stroke="#FAE094" d="M1042 56h4.6M1042 88h4.6M1042 96h4.6M1046 128h4.6M1046 148h4.6M1046 160h4.6M1050 168h4.6M1054 180h4.6M1054 184h4.6M1114 184h8.6M1054 188h4.6M1110 188h8.6M1102 192h8.6M1098 196h4.6M1054 200h4.6M1094 200h4.6M1054 204h4.6M1086 204h8.6M1054 208h4.6M1078 208h8.6M1078 212h4.6M1074 216h4.6M1054 220h4.6M1070 220h4.6M1054 224h4.6M1070 224h4.6M1054 228h4.6M1066 228h4.6M1054 232h4.6M1066 232h4.6M1054 236h12.6M1178 272h4.6M1178 276h4.6M1174 280h4.6M1170 284h4.6M1170 296h4.6M1170 300h8.6M1174 304h4.6M1178 308h4.6M834 312h8.6M1178 312h4.6M838 316h12.6M1182 316h4.6M846 320h28.6M874 324h4.6M1186 324h4.6M878 328h4.6M1190 328h4.6M882 332h4.6M1194 332h4.6M1198 336h4.6M886 340h4.6M1202 340h4.6M1206 344h4.6M1210 348h8.6M1218 352h8.6M894 356h4.6M1226 356h16.6M894 368h4.6M890 372h4.6"/>
<path stroke="#F9D986" d="M1042 52h4.6M1038 64h4.6M1038 68h4.6M1038 72h4.6M1042 100h4.6M1042 116h4.6M1042 120h4.6M1046 132h4.6M1046 136h4.6M1046 140h4.6M1046 144h4.6M1042 156h4.6M1046 164h4.6M1050 172h4.6M1118 188h8.6M1110 192h8.6M1102 196h8.6M1098 200h4.6M1094 204h4.6M1086 208h4.6M1054 212h4.6M1082 212h4.6M1054 216h4.6M1078 216h4.6M1074 220h4.6M1074 224h4.6M1070 228h4.6M1050 236h4.6M1050 240h12.6M1050 244h8.6M1050 248h4.6M1050 252h4.6M1046 256h8.6M1046 260h8.6M1046 264h8.6M1174 276h4.6M1170 280h4.6M1166 288h4.6M1166 292h4.6M1166 296h4.6M1166 300h4.6M1170 304h4.6M834 308h12.6M1174 308h4.6M842 312h8.6M1174 312h4.6M850 316h8.6M1178 316h4.6M874 320h4.6M1182 320h4.6M878 324h4.6M1182 324h4.6M882 328h4.6M1186 328h4.6M1190 332h4.6M886 336h4.6M1194 336h4.6M1198 340h4.6M890 344h4.6M1202 344h4.6M1206 348h4.6M894 352h4.6M1214 352h4.6M1218 356h8.6M1230 360h12.6M898 364h4.6M894 372h4.6M890 376h4.6"/>
<path stroke="#F9D278" d="M1038 56h4.6M1038 60h4.6M1038 76h4.6M1038 80h4.6M1042 104h4.6M1042 108h4.6M1042 112h4.6M1042 124h4.6M1042 152h4.6M1042 160h4.6M1050 176h4.6M1050 180h4.6M1050 184h4.6M914 188h4.6M1050 188h4.6M910 192h8.6M1050 192h4.6M1118 192h12.6M910 196h8.6M1050 196h4.6M1110 196h4.6M914 200h4.6M1050 200h4.6M1102 200h4.6M1050 204h4.6M1098 204h4.6M1050 208h4.6M1090 208h8.6M1050 212h4.6M1086 212h4.6M1050 216h4.6M1082 216h4.6M1050 220h4.6M1078 220h4.6M1050 224h4.6M1078 224h4.6M1050 228h4.6M1074 228h4.6M1050 232h4.6M1070 232h4.6M1066 236h4.6M1062 240h4.6M1046 244h4.6M1058 244h4.6M1046 248h4.6M1054 248h4.6M1046 252h4.6M1054 252h4.6M1054 256h4.6M1054 260h4.6M1054 264h4.6M1174 272h4.6M1170 276h4.6M1166 284h4.6M1162 292h4.6M1162 296h4.6M838 300h4.6M1162 300h4.6M838 304h12.6M1166 304h4.6M846 308h4.6M1166 308h8.6M850 312h4.6M1170 312h4.6M858 316h20.6M1174 316h4.6M878 320h4.6M1178 320h4.6M882 324h4.6M1182 328h4.6M886 332h4.6M1186 332h4.6M1190 336h4.6M890 340h4.6M1194 340h4.6M1198 344h4.6M894 348h4.6M1202 348h4.6M1206 352h8.6M1214 356h4.6M898 360h4.6M1222 360h8.6M1230 364h8.6M898 368h4.6M890 380h4.6"/>
<path stroke="#F8CB68" d="M1038 52h4.6M1038 84h4.6M1038 88h4.6M1042 128h4.6M1042 144h4.6M1042 148h4.6M1046 168h4.6M906 184h12.6M906 188h8.6M918 188h4.6M906 192h4.6M918 192h8.6M906 196h4.6M918 196h8.6M1114 196h16.6M906 200h8.6M918 200h4.6M1106 200h8.6M910 204h12.6M1102 204h4.6M914 208h4.6M1098 208h4.6M1090 212h4.6M1086 216h4.6M1082 220h4.6M1082 224h4.6M1078 228h4.6M1074 232h4.6M1046 236h4.6M1070 236h4.6M1046 240h4.6M1066 240h4.6M1062 244h4.6M1058 248h4.6M1042 252h4.6M1058 252h4.6M1042 256h4.6M1058 256h4.6M1042 260h4.6M1042 264h4.6M1046 268h8.6M1170 268h4.6M1170 272h4.6M1166 276h4.6M1166 280h4.6M1162 284h4.6M1162 288h4.6M1158 292h4.6M838 296h8.6M1158 296h4.6M842 300h8.6M1158 300h4.6M850 304h4.6M1162 304h4.6M850 308h4.6M1162 308h4.6M854 312h12.6M1166 312h4.6M878 316h4.6M1170 316h4.6M882 320h4.6M1174 320h4.6M1178 324h4.6M886 328h4.6M1178 328h4.6M1182 332h4.6M890 336h4.6M1186 336h4.6M1190 340h4.6M1194 344h4.6M1198 348h4.6M1202 352h4.6M898 356h4.6M1206 356h8.6M1214 360h8.6M1222 364h8.6M1230 368h4.6M898 372h4.6M894 376h4.6M890 384h4.6"/>
<path stroke="#F7C459" d="M1034 64h4.6M1034 68h4.6M1034 72h4.6M1038 92h4.6M1038 96h4.6M1042 132h4.6M1042 136h4.6M1042 140h4.6M1042 164h4.6M1046 172h4.6M1046 176h4.6M906 180h16.6M902 184h4.6M918 184h4.6M902 188h4.6M922 188h4.6M902 192h4.6M1046 192h4.6M902 196h4.6M1046 196h4.6M922 200h4.6M1114 200h16.6M906 204h4.6M922 204h4.6M1106 204h8.6M910 208h4.6M918 208h4.6M1102 208h4.6M914 212h8.6M1094 212h4.6M1046 216h4.6M1090 216h4.6M1046 220h4.6M1086 220h4.6M1046 224h4.6M1046 228h4.6M1082 228h4.6M1046 232h4.6M1078 232h4.6M1074 236h4.6M1042 244h4.6M1042 248h4.6M1062 248h4.6M1058 260h4.6M1058 264h4.6M1054 268h4.6M1166 268h4.6M1166 272h4.6M1162 280h4.6M1158 288h4.6M842 292h4.6M846 296h4.6M1154 296h4.6M850 300h4.6M1154 300h4.6M854 304h4.6M1158 304h4.6M854 308h8.6M1158 308h4.6M866 312h16.6M1162 312h4.6M882 316h4.6M1162 316h8.6M1166 320h8.6M886 324h4.6M1170 324h8.6M890 332h4.6M1178 332h4.6M1182 336h4.6M1186 340h4.6M894 344h4.6M1190 344h4.6M1194 348h4.6M1198 352h4.6M1202 356h4.6M1210 360h4.6M1214 364h8.6M1222 368h8.6M1230 372h4.6M894 380h4.6M890 388h4.6"/>
<path stroke="#F6BE4B" d="M1034 52h4.6M1034 56h4.6M1034 60h4.6M1034 76h4.6M1038 100h4.6M1038 116h4.6M1038 120h4.6M1038 124h4.6M1038 152h4.6M1038 156h4.6M1042 168h4.6M902 176h20.6M898 180h8.6M1046 180h4.6M898 184h4.6M922 184h4.6M1046 184h4.6M898 188h4.6M926 188h4.6M1046 188h4.6M898 192h4.6M926 192h4.6M898 196h4.6M926 196h4.6M902 200h4.6M926 200h4.6M1046 200h4.6M902 204h4.6M926 204h4.6M1046 204h4.6M1114 204h16.6M906 208h4.6M922 208h4.6M1046 208h4.6M1106 208h4.6M910 212h4.6M922 212h4.6M1046 212h4.6M1098 212h4.6M910 216h16.6M1094 216h4.6M914 220h8.6M1090 220h4.6M914 224h8.6M1086 224h4.6M1086 228h4.6M1082 232h4.6M1042 236h4.6M1078 236h4.6M1042 240h4.6M1070 240h4.6M1066 244h4.6M1062 252h4.6M1062 256h4.6M1042 268h4.6M1050 272h4.6M1162 272h4.6M1162 276h4.6M1158 284h4.6M846 292h8.6M1154 292h4.6M850 296h4.6M854 300h4.6M858 304h4.6M1154 304h4.6M862 308h8.6M1154 308h4.6M882 312h4.6M1154 312h8.6M1154 316h8.6M886 320h4.6M1158 320h8.6M1166 324h4.6M890 328h4.6M1170 328h8.6M1178 336h4.6M894 340h4.6M1182 340h4.6M1186 344h4.6M1186 348h8.6M898 352h4.6M1190 352h8.6M1198 356h4.6M902 360h4.6M1202 360h8.6M902 364h4.6M1210 364h4.6M902 368h4.6M1218 368h4.6M1222 372h8.6M898 376h4.6M894 384h4.6M890 392h4.6"/>
<path stroke="#F6B83B" d="M1034 80h4.6M1034 84h4.6M1038 104h4.6M1038 108h4.6M1038 112h4.6M1038 128h4.6M1038 144h4.6M1038 148h4.6M1038 160h4.6M894 172h24.6M1042 172h4.6M890 176h12.6M890 180h8.6M922 180h4.6M890 184h8.6M926 184h4.6M894 188h4.6M894 192h4.6M898 200h4.6M902 208h4.6M926 208h4.6M1110 208h20.6M906 212h4.6M926 212h4.6M1102 212h8.6M906 216h4.6M1098 216h4.6M906 220h8.6M922 220h4.6M1094 220h4.6M910 224h4.6M922 224h4.6M1090 224h4.6M910 228h16.6M1042 228h4.6M1090 228h4.6M914 232h8.6M1042 232h4.6M1086 232h4.6M1082 236h4.6M1074 240h4.6M1038 244h4.6M1070 244h4.6M1038 248h4.6M1066 248h4.6M1038 252h4.6M1038 256h4.6M1038 260h4.6M1062 260h4.6M1038 264h4.6M1162 264h4.6M1058 268h4.6M1162 268h4.6M1046 272h4.6M1054 272h4.6M1158 276h4.6M1158 280h4.6M846 288h8.6M1154 288h4.6M854 292h4.6M1150 292h4.6M854 296h4.6M1150 296h4.6M858 300h4.6M1150 300h4.6M862 304h4.6M1146 304h8.6M870 308h12.6M1146 308h8.6M1146 312h8.6M886 316h4.6M1142 316h12.6M1142 320h16.6M890 324h4.6M1146 324h20.6M1162 328h8.6M1170 332h8.6M894 336h4.6M1174 336h4.6M1178 340h4.6M1182 344h4.6M898 348h4.6M1182 348h4.6M1186 352h4.6M1190 356h8.6M1198 360h4.6M1206 364h4.6M1210 368h8.6M902 372h4.6M1218 372h4.6M1222 376h8.6M898 380h4.6M894 388h4.6M890 396h4.6"/>
<path stroke="#F7B21C" d="M1030 48h4.6M1030 52h4.6M1030 56h4.6M1030 60h4.6M1030 64h4.6M1034 88h4.6M1038 132h4.6M1038 136h4.6M1038 140h4.6M898 156h4.6M894 160h12.6M894 164h20.6M1038 164h4.6M894 168h28.6M890 172h4.6M918 172h8.6M922 176h4.6M1042 176h4.6M886 180h4.6M926 180h4.6M1042 180h4.6M886 184h4.6M886 188h8.6M930 188h4.6M890 192h4.6M930 192h4.6M894 196h4.6M930 196h4.6M930 200h4.6M1042 200h4.6M898 204h4.6M930 204h4.6M1042 204h4.6M1042 208h4.6M902 212h4.6M1042 212h4.6M1110 212h20.6M926 216h4.6M1042 216h4.6M1102 216h4.6M926 220h4.6M1042 220h4.6M1098 220h4.6M906 224h4.6M926 224h4.6M1042 224h4.6M1094 224h4.6M906 228h4.6M926 228h4.6M906 232h8.6M922 232h4.6M1090 232h4.6M910 236h16.6M1086 236h4.6M918 240h8.6M1038 240h4.6M1078 240h8.6M1074 244h4.6M1070 248h4.6M1066 252h4.6M1066 256h4.6M1062 264h4.6M1158 264h4.6M1158 268h4.6M1042 272h4.6M1058 272h4.6M1158 272h4.6M1154 276h4.6M1154 280h4.6M850 284h4.6M1154 284h4.6M854 288h4.6M1150 288h4.6M858 292h4.6M1146 292h4.6M858 296h4.6M1146 296h4.6M862 300h4.6M1142 300h8.6M866 304h16.6M1142 304h4.6M882 308h4.6M1138 308h8.6M886 312h4.6M1138 312h8.6M1134 316h8.6M890 320h4.6M1130 320h12.6M1130 324h16.6M1130 328h32.6M894 332h4.6M1130 332h12.6M1158 332h12.6M1170 336h4.6M1174 340h4.6M898 344h4.6M1174 344h8.6M1178 348h4.6M1182 352h4.6M902 356h4.6M1186 356h4.6M1190 360h8.6M1198 364h8.6M1206 368h4.6M1214 372h4.6M902 376h4.6M1218 376h4.6M1222 380h4.6M898 384h4.6M894 392h4.6M894 396h4.6"/>
<path stroke="#F7AC00" d="M1026 44h4.6M1030 68h4.6M1030 72h4.6M1030 76h4.6M1034 92h4.6M902 144h4.6M902 148h8.6M898 152h16.6M1034 152h4.6M902 156h16.6M1034 156h4.6M906 160h12.6M914 164h8.6M922 168h4.6M926 176h4.6M930 184h4.6M1042 184h4.6M882 188h4.6M1042 188h4.6M882 192h8.6M1042 192h4.6M886 196h8.6M1042 196h4.6M890 200h8.6M898 208h4.6M930 208h4.6M930 212h4.6M902 216h4.6M930 216h4.6M1106 216h12.6M1122 216h12.6M902 220h4.6M930 220h4.6M1102 220h4.6M902 224h4.6M930 224h4.6M1098 224h4.6M902 228h4.6M1094 228h4.6M902 232h4.6M926 232h4.6M1038 232h4.6M1094 232h4.6M906 236h4.6M926 236h4.6M1038 236h4.6M1090 236h4.6M910 240h8.6M926 240h4.6M1086 240h4.6M918 244h12.6M1078 244h4.6M922 248h8.6M1034 248h4.6M1074 248h4.6M1034 252h4.6M1070 252h4.6M1034 256h4.6M1034 260h4.6M1066 260h4.6M1154 260h4.6M1154 264h4.6M1038 268h4.6M1062 268h4.6M1154 268h4.6M1154 272h4.6M1046 276h12.6M1150 280h4.6M854 284h4.6M1146 284h8.6M858 288h4.6M1146 288h4.6M862 292h4.6M1142 292h4.6M862 296h4.6M1138 296h8.6M866 300h4.6M1138 300h4.6M882 304h4.6M1134 304h8.6M886 308h4.6M1130 308h8.6M1126 312h12.6M890 316h4.6M1126 316h8.6M1122 320h8.6M894 324h4.6M1122 324h8.6M894 328h4.6M1118 328h12.6M1118 332h12.6M1142 332h16.6M1118 336h52.6M898 340h4.6M1166 340h8.6M1170 344h4.6M1174 348h4.6M1178 352h4.6M1178 356h8.6M1182 360h8.6M1190 364h8.6M1198 368h8.6M1206 372h8.6M1214 376h4.6M902 380h4.6M1218 380h4.6M1222 384h4.6M898 388h4.6M898 392h4.6M894 400h4.6"/>
<path stroke="#F5A200" d="M1026 48h4.6M1026 52h4.6M1030 80h4.6M1034 96h4.6M1034 112h4.6M1034 116h4.6M1034 120h4.6M1034 124h4.6M906 136h8.6M906 140h12.6M906 144h12.6M1034 144h4.6M910 148h12.6M1034 148h4.6M914 152h8.6M918 156h4.6M918 160h8.6M1034 160h4.6M922 164h4.6M926 168h4.6M1038 168h4.6M926 172h4.6M930 176h4.6M930 180h4.6M934 188h4.6M934 192h4.6M878 196h8.6M934 196h4.6M878 200h12.6M934 200h4.6M890 204h8.6M934 204h4.6M934 208h4.6M898 212h4.6M898 216h4.6M1038 216h4.6M1118 216h4.6M898 220h4.6M1038 220h4.6M1106 220h8.6M1126 220h8.6M898 224h4.6M1038 224h4.6M1102 224h4.6M898 228h4.6M930 228h4.6M1038 228h4.6M1098 228h4.6M930 232h4.6M1098 232h4.6M902 236h4.6M930 236h4.6M1094 236h8.6M906 240h4.6M930 240h4.6M1034 240h4.6M1090 240h12.6M914 244h4.6M930 244h4.6M1034 244h4.6M1082 244h8.6M918 248h4.6M930 248h4.6M1078 248h4.6M1146 248h4.6M922 252h8.6M1074 252h4.6M1070 256h4.6M1150 256h4.6M1070 260h4.6M1150 260h4.6M1034 264h4.6M1066 264h4.6M1150 264h4.6M1150 268h4.6M1038 272h4.6M1062 272h4.6M1118 272h8.6M1150 272h4.6M1058 276h4.6M1114 276h12.6M1146 276h8.6M1114 280h12.6M1142 280h8.6M858 284h8.6M1118 284h4.6M1138 284h8.6M862 288h4.6M1134 288h12.6M866 292h4.6M1134 292h8.6M866 296h8.6M1130 296h8.6M870 300h16.6M1122 300h16.6M886 304h4.6M1118 304h16.6M1118 308h12.6M890 312h4.6M1114 312h12.6M1114 316h12.6M894 320h4.6M1114 320h8.6M1110 324h12.6M1110 328h8.6M1110 332h8.6M898 336h4.6M1110 336h8.6M1110 340h56.6M1114 344h16.6M1162 344h8.6M1166 348h8.6M902 352h4.6M1170 352h8.6M1174 356h4.6M906 360h4.6M1178 360h4.6M906 364h4.6M1182 364h8.6M906 368h4.6M1190 368h8.6M906 372h4.6M1198 372h8.6M1206 376h8.6M1210 380h8.6M902 384h4.6M1214 384h8.6M902 388h4.6M1218 388h4.6M898 396h4.6M898 400h4.6M898 404h4.6"/>
<path stroke="#F49A00" d="M1022 44h4.6M1022 48h4.6M1026 56h4.6M1026 60h4.6M1026 64h4.6M1026 68h4.6M1030 84h4.6M1030 88h4.6M1034 100h4.6M1034 104h4.6M1034 108h4.6M914 128h4.6M1034 128h4.6M910 132h12.6M1034 132h4.6M914 136h8.6M1034 136h4.6M918 140h4.6M1034 140h4.6M918 144h8.6M922 148h4.6M922 152h4.6M922 156h4.6M926 160h4.6M926 164h4.6M930 172h4.6M1038 172h4.6M1038 176h4.6M934 180h4.6M1038 180h4.6M934 184h4.6M1038 184h4.6M1038 188h4.6M1038 196h4.6M1038 200h4.6M874 204h16.6M1038 204h4.6M890 208h8.6M1038 208h4.6M894 212h4.6M934 212h4.6M1038 212h4.6M894 216h4.6M934 216h4.6M894 220h4.6M934 220h4.6M1114 220h12.6M894 224h4.6M934 224h4.6M1106 224h8.6M1122 224h12.6M894 228h4.6M934 228h4.6M1102 228h8.6M1130 228h8.6M898 232h4.6M934 232h4.6M1102 232h8.6M1134 232h4.6M898 236h4.6M934 236h4.6M1034 236h4.6M1102 236h8.6M1138 236h4.6M902 240h4.6M934 240h4.6M1102 240h12.6M1138 240h4.6M910 244h4.6M934 244h4.6M1090 244h24.6M1142 244h4.6M914 248h4.6M1082 248h8.6M1102 248h12.6M1142 248h4.6M918 252h4.6M930 252h4.6M1078 252h4.6M1142 252h8.6M1074 256h4.6M1142 256h8.6M1142 260h8.6M1070 264h4.6M1114 264h12.6M1142 264h8.6M1034 268h4.6M1066 268h4.6M1110 268h24.6M1142 268h8.6M1110 272h8.6M1126 272h24.6M1042 276h4.6M1062 276h4.6M1106 276h8.6M1126 276h20.6M1050 280h8.6M1106 280h8.6M1126 280h16.6M866 284h4.6M1106 284h12.6M1122 284h16.6M866 288h4.6M1106 288h28.6M870 292h4.6M1106 292h28.6M874 296h8.6M1106 296h24.6M1106 300h16.6M1106 304h12.6M890 308h4.6M1102 308h16.6M1102 312h12.6M894 316h4.6M1102 316h12.6M1102 320h12.6M1102 324h8.6M898 328h4.6M1098 328h12.6M898 332h4.6M1102 332h8.6M1102 336h8.6M1102 340h8.6M1106 344h8.6M1130 344h32.6M902 348h4.6M1110 348h20.6M1154 348h12.6M1162 352h8.6M1166 356h8.6M1174 360h4.6M1178 364h4.6M1182 368h8.6M1190 372h8.6M906 376h4.6M1202 376h4.6M906 380h4.6M1206 380h4.6M1210 384h4.6M1214 388h4.6M902 392h4.6M902 396h4.6M902 400h4.6M898 408h4.6"/>
<path stroke="#F39200" d="M1018 44h4.6M1022 52h4.6M1026 72h4.6M1026 76h4.6M1030 92h4.6M922 120h4.6M918 124h8.6M918 128h8.6M922 132h4.6M922 136h8.6M922 140h8.6M926 144h4.6M926 148h4.6M1030 148h4.6M926 152h4.6M1030 152h4.6M926 156h4.6M1030 156h4.6M930 160h4.6M930 164h4.6M1034 164h4.6M930 168h4.6M934 172h4.6M934 176h4.6M938 188h4.6M938 192h4.6M1038 192h4.6M938 196h4.6M938 200h4.6M938 204h4.6M874 208h16.6M938 208h4.6M870 212h24.6M870 216h24.6M938 216h4.6M870 220h4.6M890 220h4.6M938 220h4.6M890 224h4.6M938 224h4.6M1114 224h8.6M890 228h4.6M938 228h4.6M1034 228h4.6M1110 228h20.6M894 232h4.6M1034 232h4.6M1110 232h4.6M1126 232h8.6M894 236h4.6M1110 236h8.6M1130 236h8.6M898 240h4.6M1030 240h4.6M1114 240h4.6M1130 240h8.6M906 244h4.6M1030 244h4.6M1114 244h4.6M1134 244h8.6M910 248h4.6M934 248h4.6M1030 248h4.6M1090 248h12.6M1114 248h8.6M1134 248h8.6M914 252h4.6M1030 252h4.6M1082 252h4.6M1102 252h20.6M1134 252h8.6M922 256h8.6M1030 256h4.6M1078 256h4.6M1106 256h20.6M1134 256h8.6M1030 260h4.6M1074 260h4.6M1106 260h36.6M1106 264h8.6M1126 264h16.6M1070 268h4.6M1106 268h4.6M1134 268h8.6M866 272h4.6M1066 272h4.6M1106 272h4.6M1038 276h4.6M1066 276h4.6M1102 276h4.6M1046 280h4.6M1058 280h8.6M1102 280h4.6M870 284h4.6M1098 284h8.6M870 288h8.6M1098 288h8.6M874 292h8.6M1098 292h8.6M882 296h4.6M1098 296h8.6M886 300h4.6M1098 300h8.6M890 304h4.6M1094 304h12.6M894 308h4.6M1094 308h8.6M894 312h4.6M1094 312h8.6M1090 316h12.6M1090 320h12.6M898 324h4.6M1090 324h12.6M1090 328h8.6M1090 332h12.6M1090 336h12.6M902 340h4.6M1090 340h12.6M902 344h4.6M1094 344h12.6M1098 348h12.6M1130 348h24.6M1106 352h28.6M1146 352h16.6M906 356h4.6M1158 356h8.6M1166 360h8.6M1170 364h8.6M1178 368h4.6M1186 372h4.6M1190 376h12.6M1198 380h8.6M906 384h4.6M1202 384h8.6M906 388h4.6M1206 388h8.6M906 392h4.6M1210 392h8.6M902 404h4.6M902 408h4.6M902 412h4.6"/>
<path stroke="#F28B00" d="M1014 44h4.6M1018 48h4.6M1018 52h4.6M1022 56h4.6M1022 60h4.6M1026 80h4.6M926 100h4.6M926 104h4.6M926 108h8.6M926 112h8.6M926 116h8.6M1030 116h4.6M926 120h8.6M1030 120h4.6M926 124h8.6M1030 124h4.6M926 128h8.6M926 132h8.6M930 136h4.6M930 140h4.6M1030 140h4.6M930 144h4.6M1030 144h4.6M930 148h4.6M930 152h4.6M930 156h4.6M1030 160h4.6M934 164h4.6M934 168h4.6M1034 168h4.6M938 180h4.6M938 184h4.6M942 196h4.6M942 200h4.6M1034 204h4.6M1034 208h4.6M938 212h4.6M1034 212h4.6M1034 216h4.6M874 220h16.6M1034 220h4.6M870 224h20.6M1034 224h4.6M866 228h24.6M866 232h12.6M886 232h8.6M938 232h4.6M1114 232h12.6M866 236h8.6M890 236h4.6M938 236h4.6M1030 236h4.6M1118 236h12.6M866 240h8.6M894 240h4.6M938 240h4.6M1118 240h12.6M866 244h4.6M898 244h8.6M938 244h4.6M1118 244h16.6M866 248h4.6M906 248h4.6M938 248h4.6M1122 248h12.6M866 252h4.6M910 252h4.6M934 252h4.6M1086 252h16.6M1122 252h12.6M866 256h4.6M918 256h4.6M930 256h4.6M1082 256h4.6M1098 256h8.6M1126 256h8.6M866 260h4.6M1078 260h4.6M1102 260h4.6M866 264h4.6M1030 264h4.6M1074 264h4.6M1102 264h4.6M866 268h8.6M1074 268h4.6M1102 268h4.6M870 272h4.6M1034 272h4.6M1070 272h4.6M1098 272h8.6M870 276h4.6M1070 276h4.6M1098 276h4.6M870 280h8.6M1042 280h4.6M1066 280h4.6M1094 280h8.6M874 284h4.6M1050 284h12.6M1094 284h4.6M878 288h4.6M1094 288h4.6M882 292h4.6M1094 292h4.6M886 296h4.6M1094 296h4.6M890 300h4.6M1090 300h8.6M894 304h4.6M1090 304h4.6M1086 308h8.6M1086 312h8.6M898 316h4.6M1082 316h8.6M898 320h4.6M1082 320h8.6M1082 324h8.6M1082 328h8.6M1082 332h8.6M902 336h4.6M1082 336h8.6M1082 340h8.6M1082 344h12.6M1082 348h16.6M906 352h4.6M1090 352h16.6M1134 352h12.6M1102 356h56.6M1150 360h16.6M910 364h4.6M1158 364h12.6M910 368h4.6M1170 368h8.6M910 372h4.6M1178 372h8.6M910 376h4.6M1186 376h4.6M910 380h4.6M1190 380h8.6M1198 384h4.6M1202 388h4.6M1206 392h4.6M906 396h4.6M1206 396h8.6M906 400h4.6M1210 400h4.6M906 404h4.6M906 408h4.6M906 412h4.6M906 416h4.6"/>
<path stroke="#F18000" d="M1010 48h8.6M1014 52h4.6M1018 56h4.6M1022 64h4.6M1022 68h4.6M1022 72h4.6M1026 84h4.6M1026 88h4.6M930 92h8.6M930 96h8.6M1030 96h4.6M930 100h12.6M930 104h12.6M934 108h8.6M934 112h8.6M1030 112h4.6M934 116h4.6M934 120h4.6M934 124h4.6M934 128h4.6M1030 128h4.6M934 132h4.6M1030 132h4.6M934 136h4.6M1030 136h4.6M934 140h4.6M934 144h4.6M934 148h4.6M1026 148h4.6M934 152h4.6M1026 152h4.6M934 156h4.6M934 160h4.6M1030 164h4.6M938 168h4.6M938 172h4.6M1034 172h4.6M938 176h4.6M1034 176h4.6M1034 180h4.6M942 184h4.6M1034 184h4.6M942 188h4.6M1034 188h4.6M942 192h4.6M1034 192h4.6M1034 196h4.6M1034 200h4.6M942 204h4.6M942 208h4.6M942 212h4.6M942 216h4.6M942 220h4.6M942 224h4.6M942 228h4.6M1030 228h4.6M878 232h8.6M942 232h4.6M1030 232h4.6M874 236h16.6M942 236h4.6M874 240h20.6M942 240h4.6M870 244h8.6M894 244h4.6M1026 244h4.6M870 248h8.6M902 248h4.6M1026 248h4.6M870 252h4.6M906 252h4.6M938 252h4.6M1026 252h4.6M870 256h4.6M914 256h4.6M934 256h4.6M1026 256h4.6M1086 256h12.6M870 260h4.6M922 260h8.6M1082 260h8.6M1094 260h8.6M870 264h8.6M1078 264h8.6M1094 264h8.6M874 268h4.6M1030 268h4.6M1078 268h4.6M1094 268h8.6M874 272h4.6M1074 272h4.6M1094 272h4.6M874 276h4.6M1034 276h4.6M1074 276h4.6M1090 276h8.6M878 280h4.6M1038 280h4.6M1070 280h8.6M1090 280h4.6M878 284h4.6M1046 284h4.6M1062 284h12.6M1086 284h8.6M882 288h4.6M1058 288h8.6M1086 288h8.6M886 292h4.6M1086 292h8.6M890 296h8.6M1086 296h8.6M894 300h4.6M1082 300h8.6M1082 304h8.6M898 308h4.6M1078 308h8.6M898 312h4.6M1078 312h8.6M1074 316h8.6M1074 320h8.6M902 324h4.6M1074 324h8.6M902 328h4.6M1074 328h8.6M902 332h4.6M1074 332h8.6M1074 336h8.6M1074 340h8.6M1074 344h8.6M1074 348h8.6M1078 352h12.6M1082 356h20.6M910 360h4.6M1098 360h52.6M1142 364h16.6M1154 368h16.6M1170 372h8.6M1178 376h8.6M1182 380h8.6M910 384h4.6M1190 384h8.6M910 388h4.6M1194 388h8.6M910 392h4.6M1198 392h8.6M910 396h4.6M1202 396h4.6M910 400h4.6M1202 400h8.6M910 404h4.6M1206 404h4.6M910 408h4.6M910 412h4.6M910 416h4.6M910 420h4.6"/>
<path stroke="#F07500" d="M982 36h4.6M978 40h16.6M994 44h4.6M1006 48h4.6M1010 52h4.6M1014 56h4.6M1018 60h4.6M938 64h4.6M1018 64h4.6M934 68h8.6M934 72h4.6M934 76h8.6M1022 76h4.6M934 80h8.6M1022 80h4.6M934 84h8.6M934 88h8.6M938 92h8.6M1026 92h4.6M938 96h8.6M942 100h4.6M1030 100h4.6M942 104h8.6M1030 104h4.6M942 108h8.6M1030 108h4.6M942 112h4.6M938 116h8.6M938 120h4.6M938 124h4.6M938 128h4.6M938 132h4.6M938 136h4.6M938 140h4.6M1026 140h4.6M938 144h4.6M1026 144h4.6M938 148h4.6M938 152h4.6M938 156h4.6M1026 156h4.6M938 160h4.6M1026 160h4.6M938 164h4.6M1030 168h4.6M942 172h4.6M942 176h4.6M942 180h4.6M946 188h4.6M946 192h4.6M946 196h4.6M946 200h4.6M946 204h4.6M1030 204h4.6M946 208h4.6M1030 208h4.6M946 212h4.6M1030 212h4.6M946 216h4.6M1030 216h4.6M946 220h4.6M1030 220h4.6M946 224h4.6M1030 224h4.6M946 228h4.6M946 232h4.6M1026 232h4.6M946 236h4.6M1026 236h4.6M946 240h4.6M1026 240h4.6M878 244h16.6M942 244h4.6M878 248h8.6M894 248h8.6M942 248h4.6M874 252h8.6M902 252h4.6M942 252h4.6M874 256h8.6M910 256h4.6M938 256h4.6M874 260h8.6M918 260h4.6M930 260h8.6M1026 260h4.6M1090 260h4.6M878 264h4.6M1026 264h4.6M1086 264h8.6M878 268h4.6M1082 268h12.6M878 272h4.6M1030 272h4.6M1078 272h16.6M878 276h8.6M1078 276h12.6M882 280h4.6M1078 280h12.6M882 284h4.6M1042 284h4.6M1074 284h12.6M886 288h4.6M1046 288h12.6M1066 288h20.6M890 292h8.6M1058 292h28.6M898 296h4.6M1066 296h20.6M898 300h4.6M1066 300h16.6M898 304h4.6M1070 304h12.6M1066 308h12.6M1066 312h12.6M1070 316h4.6M902 320h4.6M1070 320h4.6M1066 324h8.6M1066 328h8.6M1066 332h8.6M1066 336h8.6M1066 340h8.6M906 344h4.6M1070 344h4.6M906 348h4.6M1070 348h4.6M1074 352h4.6M910 356h4.6M1074 356h8.6M1082 360h16.6M1094 364h48.6M1138 368h16.6M914 372h4.6M1150 372h20.6M914 376h4.6M1162 376h16.6M914 380h4.6M1174 380h8.6M914 384h4.6M1182 384h8.6M914 388h4.6M1190 388h4.6M914 392h4.6M1194 392h4.6M914 396h4.6M1194 396h8.6M914 400h4.6M1198 400h4.6M914 404h4.6M1198 404h8.6M914 408h4.6M1202 408h4.6M914 412h4.6M914 416h4.6M914 420h4.6M914 424h4.6M914 428h4.6M914 432h4.6M914 436h4.6"/>
<path stroke="#EE6A00" d="M970 44h24.6M966 48h36.6M958 52h12.6M1002 52h8.6M946 56h16.6M1010 56h4.6M942 60h12.6M1014 60h4.6M942 64h8.6M942 68h8.6M1018 68h4.6M938 72h12.6M1018 72h4.6M942 76h4.6M942 80h8.6M942 84h8.6M1022 84h4.6M942 88h8.6M946 92h4.6M946 96h8.6M1026 96h4.6M946 100h8.6M950 104h4.6M950 108h4.6M946 112h4.6M1026 112h4.6M946 116h4.6M1026 116h4.6M942 120h4.6M1026 120h4.6M942 124h4.6M1026 124h4.6M942 128h4.6M1026 128h4.6M942 132h4.6M1026 132h4.6M1026 136h4.6M1022 144h4.6M1022 148h4.6M1022 152h4.6M1022 156h4.6M942 160h4.6M942 164h4.6M1026 164h4.6M942 168h4.6M1030 172h4.6M946 176h4.6M1030 176h4.6M946 180h4.6M1030 180h4.6M946 184h4.6M1030 184h4.6M1030 188h4.6M950 192h4.6M1030 192h4.6M950 196h4.6M1030 196h4.6M950 200h4.6M1030 200h4.6M950 204h4.6M950 208h4.6M1026 208h4.6M950 212h4.6M1026 212h4.6M950 216h4.6M1026 216h4.6M950 220h4.6M1026 220h4.6M950 224h8.6M1026 224h4.6M950 228h8.6M1026 228h4.6M950 232h8.6M950 236h8.6M950 240h4.6M1022 240h4.6M946 244h8.6M1022 244h4.6M886 248h8.6M946 248h4.6M1022 248h4.6M882 252h8.6M898 252h4.6M946 252h4.6M1022 252h4.6M882 256h4.6M906 256h4.6M942 256h4.6M882 260h4.6M914 260h4.6M938 260h4.6M882 264h4.6M922 264h12.6M882 268h4.6M1026 268h4.6M882 272h4.6M886 276h4.6M1030 276h4.6M886 280h4.6M1034 280h4.6M886 284h4.6M1038 284h4.6M890 288h8.6M1042 288h4.6M898 292h4.6M1046 292h12.6M1054 296h12.6M902 300h4.6M1058 300h8.6M902 304h4.6M1058 304h12.6M902 308h4.6M1062 308h4.6M902 312h4.6M1062 312h4.6M902 316h4.6M1062 316h8.6M1062 320h8.6M1062 324h4.6M1062 328h4.6M906 332h4.6M1062 332h4.6M906 336h4.6M1062 336h4.6M906 340h4.6M1062 340h4.6M1062 344h8.6M1066 348h4.6M910 352h4.6M1066 352h8.6M1070 356h4.6M1074 360h8.6M914 364h4.6M1078 364h16.6M914 368h4.6M1094 368h44.6M1134 372h16.6M1146 376h16.6M1158 380h16.6M1170 384h12.6M1178 388h12.6M918 392h4.6M1186 392h8.6M918 396h4.6M1190 396h4.6M918 400h4.6M1190 400h8.6M918 404h4.6M1194 404h4.6M918 408h4.6M1194 408h8.6M918 412h4.6M1198 412h8.6M918 416h4.6M918 420h4.6M918 424h4.6M918 428h4.6M918 432h4.6M918 436h4.6M918 440h4.6"/>
<path stroke="#EC5E00" d="M970 52h32.6M962 56h48.6M954 60h20.6M1010 60h4.6M950 64h12.6M1014 64h4.6M950 68h12.6M1014 68h4.6M950 72h8.6M946 76h12.6M1018 76h4.6M950 80h8.6M1018 80h4.6M950 84h8.6M950 88h8.6M1022 88h4.6M950 92h8.6M1022 92h4.6M954 96h4.6M954 100h4.6M1026 100h4.6M954 104h4.6M1026 108h4.6M950 112h4.6M950 116h4.6M1022 116h4.6M946 120h4.6M1022 120h4.6M946 124h4.6M1022 124h4.6M946 128h4.6M942 136h4.6M1022 136h4.6M942 140h4.6M1022 140h4.6M942 144h4.6M1018 144h4.6M942 148h4.6M1018 148h4.6M942 152h4.6M1018 152h4.6M942 156h4.6M1022 160h4.6M946 164h4.6M1022 164h4.6M946 168h4.6M1026 168h4.6M946 172h4.6M1026 172h4.6M1026 176h4.6M950 180h4.6M1026 180h4.6M950 184h4.6M1026 184h4.6M950 188h4.6M1026 188h4.6M1026 192h4.6M954 196h4.6M1026 196h4.6M954 200h4.6M1026 200h4.6M954 204h4.6M1026 204h4.6M954 208h8.6M1022 208h4.6M954 212h8.6M1022 212h4.6M954 216h8.6M1022 216h4.6M954 220h8.6M958 224h4.6M1022 224h4.6M958 228h4.6M1022 228h4.6M958 232h4.6M1022 232h4.6M958 236h4.6M1022 236h4.6M954 240h8.6M954 244h8.6M950 248h8.6M890 252h8.6M950 252h4.6M886 256h8.6M898 256h8.6M946 256h4.6M1022 256h4.6M886 260h4.6M906 260h8.6M942 260h4.6M1022 260h4.6M886 264h4.6M914 264h8.6M934 264h8.6M1022 264h4.6M886 268h4.6M926 268h8.6M886 272h4.6M1026 272h4.6M890 276h4.6M890 280h4.6M1030 280h4.6M890 284h8.6M1034 284h4.6M898 288h4.6M1038 288h4.6M902 292h4.6M1042 292h4.6M902 296h4.6M1046 296h8.6M1050 300h8.6M1054 304h4.6M1054 308h8.6M1054 312h8.6M1058 316h4.6M906 320h4.6M1058 320h4.6M906 324h4.6M1058 324h4.6M906 328h4.6M1058 328h4.6M1058 332h4.6M1058 336h4.6M1058 340h4.6M1058 344h4.6M910 348h4.6M1058 348h8.6M1062 352h4.6M1066 356h4.6M914 360h4.6M1066 360h8.6M1070 364h8.6M1078 368h16.6M1094 372h40.6M918 376h4.6M1130 376h16.6M918 380h4.6M1146 380h12.6M918 384h4.6M1154 384h16.6M918 388h4.6M1166 388h12.6M1174 392h12.6M922 396h4.6M1178 396h12.6M922 400h4.6M1182 400h8.6M922 404h4.6M1186 404h8.6M922 408h4.6M1190 408h4.6M922 412h4.6M1190 412h8.6M922 416h4.6M1194 416h8.6M922 420h4.6M1198 420h4.6M922 424h8.6M922 428h8.6M922 432h8.6M922 436h4.6M922 440h4.6M918 444h8.6"/>
<path stroke="#E95200" d="M974 60h36.6M962 64h24.6M1006 64h8.6M962 68h12.6M1010 68h4.6M958 72h12.6M1010 72h8.6M958 76h8.6M1014 76h4.6M958 80h8.6M1014 80h4.6M958 84h8.6M1018 84h4.6M958 88h4.6M1018 88h4.6M958 92h4.6M958 96h4.6M1022 96h4.6M958 100h4.6M1022 100h4.6M1026 104h4.6M954 108h4.6M1006 108h4.6M1022 108h4.6M954 112h4.6M1002 112h8.6M1018 112h8.6M1018 116h4.6M950 120h4.6M1018 120h4.6M950 124h4.6M1018 124h4.6M1018 128h8.6M946 132h4.6M1018 132h8.6M946 136h4.6M1014 136h8.6M946 140h4.6M1014 140h8.6M946 144h4.6M1010 144h8.6M946 148h4.6M1010 148h8.6M946 152h4.6M1014 152h4.6M946 156h4.6M1014 156h8.6M946 160h4.6M1018 160h4.6M950 164h4.6M1018 164h4.6M950 168h4.6M1022 168h4.6M950 172h4.6M1022 172h4.6M950 176h4.6M1022 176h4.6M954 180h4.6M1022 180h4.6M954 184h4.6M1022 184h4.6M954 188h4.6M1022 188h4.6M954 192h8.6M1018 192h8.6M958 196h4.6M1018 196h8.6M958 200h8.6M1018 200h8.6M958 204h8.6M1018 204h8.6M962 208h4.6M1018 208h4.6M962 212h8.6M1018 212h4.6M962 216h8.6M1018 216h4.6M962 220h8.6M1018 220h8.6M962 224h8.6M1018 224h4.6M962 228h8.6M1018 228h4.6M962 232h8.6M1018 232h4.6M962 236h8.6M1018 236h4.6M962 240h8.6M1018 240h4.6M962 244h8.6M1018 244h4.6M958 248h8.6M1018 248h4.6M954 252h8.6M1018 252h4.6M894 256h4.6M950 256h4.6M1018 256h4.6M890 260h16.6M946 260h4.6M890 264h8.6M906 264h8.6M942 264h4.6M890 268h4.6M918 268h8.6M934 268h8.6M1022 268h4.6M890 272h8.6M926 272h8.6M894 276h4.6M1026 276h4.6M894 280h4.6M898 284h4.6M1030 284h4.6M902 288h8.6M1034 288h4.6M906 292h8.6M1034 292h8.6M906 296h4.6M1038 296h8.6M906 300h4.6M1042 300h8.6M906 304h4.6M1046 304h8.6M906 308h4.6M1050 308h4.6M906 312h4.6M1050 312h4.6M906 316h4.6M1050 316h8.6M1050 320h8.6M1050 324h8.6M1050 328h8.6M1050 332h8.6M910 336h4.6M1050 336h8.6M910 340h4.6M1054 340h4.6M910 344h4.6M1054 344h4.6M1054 348h4.6M1058 352h4.6M914 356h4.6M1058 356h8.6M1062 360h4.6M918 364h4.6M1066 364h4.6M918 368h4.6M1070 368h8.6M918 372h4.6M1078 372h16.6M1094 376h36.6M1126 380h20.6M922 384h4.6M1142 384h12.6M922 388h4.6M1154 388h12.6M922 392h4.6M1162 392h12.6M926 396h4.6M1166 396h12.6M926 400h4.6M1170 400h12.6M926 404h4.6M1178 404h8.6M926 408h4.6M1182 408h8.6M926 412h4.6M1182 412h8.6M926 416h4.6M1186 416h8.6M926 420h8.6M1190 420h8.6M930 424h4.6M1194 424h4.6M930 428h4.6M930 432h4.6M926 436h8.6M926 440h8.6M926 444h4.6M922 448h8.6"/>
<path stroke="#E54800" d="M986 64h20.6M974 68h36.6M970 72h24.6M998 72h12.6M966 76h20.6M1006 76h8.6M966 80h12.6M1006 80h8.6M966 84h8.6M1010 84h8.6M962 88h12.6M1010 88h8.6M962 92h8.6M1010 92h12.6M962 96h8.6M1002 96h20.6M962 100h4.6M998 100h24.6M958 104h8.6M998 104h28.6M958 108h4.6M994 108h12.6M1010 108h12.6M958 112h4.6M994 112h8.6M1010 112h8.6M954 116h4.6M994 116h24.6M954 120h4.6M994 120h24.6M954 124h4.6M994 124h24.6M950 128h4.6M998 128h20.6M950 132h4.6M1002 132h16.6M950 136h4.6M1002 136h12.6M950 140h4.6M1002 140h12.6M950 144h4.6M1002 144h8.6M950 148h4.6M1002 148h8.6M950 152h4.6M1002 152h12.6M950 156h4.6M1006 156h8.6M950 160h8.6M1006 160h12.6M954 164h4.6M1006 164h12.6M954 168h4.6M1006 168h16.6M954 172h4.6M1006 172h16.6M954 176h4.6M1006 176h16.6M958 180h4.6M1002 180h20.6M958 184h4.6M1002 184h20.6M958 188h8.6M998 188h24.6M962 192h4.6M998 192h20.6M962 196h8.6M994 196h24.6M966 200h8.6M994 200h24.6M966 204h12.6M990 204h28.6M966 208h52.6M970 212h48.6M970 216h48.6M970 220h48.6M970 224h20.6M1006 224h12.6M970 228h16.6M1010 228h8.6M970 232h12.6M1010 232h8.6M970 236h8.6M1014 236h4.6M970 240h8.6M1014 240h4.6M970 244h4.6M1014 244h4.6M966 248h8.6M1014 248h4.6M962 252h8.6M954 256h8.6M950 260h8.6M1018 260h4.6M898 264h8.6M946 264h8.6M1018 264h4.6M894 268h24.6M942 268h4.6M1018 268h4.6M898 272h8.6M910 272h16.6M934 272h8.6M1022 272h4.6M898 276h8.6M914 276h28.6M1022 276h4.6M898 280h40.6M1026 280h4.6M902 284h32.6M1026 284h4.6M910 288h20.6M1030 288h4.6M914 292h12.6M1030 292h4.6M910 296h12.6M1030 296h8.6M910 300h8.6M1034 300h8.6M910 304h4.6M1038 304h8.6M1042 308h8.6M1042 312h8.6M910 316h4.6M1046 316h4.6M910 320h4.6M1046 320h4.6M910 324h4.6M1046 324h4.6M910 328h4.6M1046 328h4.6M910 332h4.6M1046 332h4.6M1046 336h4.6M1046 340h8.6M1050 344h4.6M914 348h4.6M1050 348h4.6M914 352h4.6M1050 352h8.6M918 356h4.6M1054 356h4.6M918 360h4.6M1058 360h4.6M1062 364h4.6M922 368h4.6M1062 368h8.6M922 372h4.6M1070 372h8.6M922 376h4.6M1078 376h16.6M922 380h4.6M1090 380h36.6M1118 384h24.6M926 388h4.6M1142 388h12.6M926 392h4.6M1146 392h16.6M930 396h4.6M1154 396h12.6M930 400h4.6M1158 400h12.6M930 404h4.6M1162 404h16.6M930 408h4.6M1166 408h16.6M930 412h8.6M1174 412h8.6M930 416h8.6M1174 416h12.6M934 420h4.6M1178 420h12.6M934 424h4.6M1182 424h12.6M934 428h4.6M1186 428h8.6M934 432h4.6M1186 432h4.6M934 436h4.6M934 440h4.6M930 444h8.6M930 448h4.6M926 452h8.6"/>
<path stroke="#DE3F00" d="M994 72h4.6M986 76h20.6M978 80h28.6M974 84h36.6M974 88h36.6M970 92h40.6M970 96h32.6M966 100h12.6M982 100h16.6M966 104h4.6M986 104h12.6M962 108h4.6M986 108h8.6M962 112h4.6M986 112h8.6M958 116h4.6M986 116h8.6M958 120h4.6M986 120h8.6M958 124h4.6M990 124h4.6M954 128h4.6M990 128h8.6M954 132h4.6M994 132h8.6M954 136h4.6M994 136h8.6M954 140h4.6M994 140h8.6M954 144h4.6M994 144h8.6M954 148h4.6M994 148h8.6M954 152h8.6M998 152h4.6M954 156h8.6M998 156h8.6M958 160h4.6M994 160h12.6M958 164h4.6M994 164h12.6M958 168h8.6M990 168h16.6M958 172h8.6M990 172h16.6M958 176h8.6M990 176h16.6M962 180h4.6M990 180h12.6M962 184h8.6M990 184h12.6M966 188h4.6M986 188h12.6M966 192h32.6M970 196h24.6M974 200h20.6M978 204h12.6M990 224h16.6M986 228h24.6M982 232h28.6M978 236h16.6M1002 236h12.6M978 240h8.6M1006 240h8.6M974 244h8.6M1010 244h4.6M974 248h4.6M1010 248h4.6M970 252h4.6M1014 252h4.6M962 256h8.6M1014 256h4.6M958 260h8.6M1014 260h4.6M954 264h8.6M1014 264h4.6M946 268h8.6M906 272h4.6M942 272h8.6M1018 272h4.6M906 276h8.6M942 276h8.6M1018 276h4.6M938 280h8.6M1022 280h4.6M934 284h12.6M1022 284h4.6M930 288h16.6M1026 288h4.6M926 292h16.6M1026 292h4.6M922 296h12.6M1026 296h4.6M918 300h8.6M1030 300h4.6M914 304h4.6M1034 304h4.6M910 308h4.6M1034 308h8.6M910 312h4.6M1038 312h4.6M1038 316h8.6M1038 320h8.6M1042 324h4.6M1042 328h4.6M914 332h4.6M1042 332h4.6M914 336h4.6M1042 336h4.6M914 340h4.6M1042 340h4.6M914 344h4.6M1046 344h4.6M1046 348h4.6M918 352h4.6M1046 352h4.6M1050 356h4.6M922 360h4.6M1050 360h8.6M922 364h4.6M1054 364h8.6M1058 368h4.6M926 372h4.6M1062 372h8.6M926 376h4.6M1066 376h12.6M926 380h4.6M1074 380h16.6M926 384h4.6M1086 384h32.6M930 388h4.6M1106 388h36.6M930 392h4.6M1134 392h12.6M934 396h4.6M1142 396h12.6M934 400h4.6M1146 400h12.6M934 404h4.6M1150 404h12.6M934 408h4.6M1154 408h12.6M938 412h4.6M1158 412h16.6M938 416h4.6M1162 416h12.6M938 420h4.6M1166 420h12.6M938 424h4.6M1166 424h16.6M938 428h4.6M1170 428h16.6M938 432h4.6M1174 432h12.6M938 436h4.6M1178 436h4.6M938 440h4.6M938 444h4.6M934 448h8.6M934 452h8.6"/>
<path stroke="#D53500" d="M978 100h4.6M970 104h16.6M966 108h20.6M966 112h4.6M978 112h8.6M962 116h4.6M982 116h4.6M962 120h4.6M982 120h4.6M962 124h4.6M982 124h8.6M958 128h8.6M986 128h4.6M958 132h4.6M986 132h8.6M958 136h4.6M986 136h8.6M958 140h8.6M990 140h4.6M958 144h8.6M990 144h4.6M958 148h8.6M990 148h4.6M962 152h4.6M990 152h8.6M962 156h8.6M990 156h8.6M962 160h8.6M986 160h8.6M962 164h8.6M986 164h8.6M966 168h8.6M982 168h8.6M966 172h24.6M966 176h24.6M966 180h24.6M970 184h20.6M970 188h16.6M994 236h8.6M986 240h20.6M982 244h28.6M978 248h8.6M1006 248h4.6M974 252h8.6M1006 252h8.6M970 256h8.6M1010 256h4.6M966 260h8.6M1010 260h4.6M962 264h8.6M1010 264h4.6M954 268h12.6M1014 268h4.6M950 272h12.6M1014 272h4.6M950 276h8.6M946 280h8.6M1018 280h4.6M946 284h8.6M1018 284h4.6M946 288h8.6M1022 288h4.6M942 292h12.6M1022 292h4.6M934 296h16.6M1022 296h4.6M926 300h12.6M1026 300h4.6M918 304h12.6M1026 304h8.6M914 308h8.6M1030 308h4.6M914 312h4.6M1030 312h8.6M914 316h4.6M1034 316h4.6M914 320h4.6M1034 320h4.6M914 324h4.6M1034 324h8.6M914 328h4.6M1034 328h8.6M1038 332h4.6M1038 336h4.6M918 340h4.6M1038 340h4.6M918 344h4.6M1038 344h8.6M918 348h4.6M1042 348h4.6M922 352h4.6M1042 352h4.6M922 356h8.6M1042 356h8.6M926 360h4.6M1046 360h4.6M926 364h4.6M1050 364h4.6M926 368h8.6M1054 368h4.6M930 372h4.6M1058 372h4.6M930 376h4.6M1062 376h4.6M930 380h4.6M1066 380h8.6M930 384h4.6M1074 384h12.6M934 388h4.6M1082 388h24.6M934 392h4.6M1098 392h36.6M938 396h4.6M1110 396h32.6M938 400h4.6M1130 400h16.6M938 404h4.6M1138 404h12.6M938 408h4.6M1142 408h12.6M942 412h4.6M1146 412h12.6M942 416h4.6M1150 416h12.6M942 420h4.6M1154 420h12.6M942 424h4.6M1158 424h8.6M942 428h4.6M1162 428h8.6M942 432h4.6M1166 432h8.6M942 436h8.6M1170 436h8.6M942 440h8.6M942 444h8.6M942 448h4.6M942 452h4.6M938 456h8.6"/>
<path stroke="#CC2C00" d="M970 112h8.6M966 116h16.6M966 120h16.6M966 124h16.6M966 128h4.6M978 128h8.6M962 132h8.6M982 132h4.6M962 136h8.6M982 136h4.6M966 140h4.6M978 140h12.6M966 144h24.6M966 148h24.6M966 152h24.6M970 156h20.6M970 160h16.6M970 164h16.6M974 168h8.6M986 248h20.6M982 252h8.6M1002 252h4.6M978 256h8.6M1006 256h4.6M974 260h8.6M1006 260h4.6M970 264h4.6M1006 264h4.6M966 268h4.6M1010 268h4.6M962 272h8.6M1010 272h4.6M958 276h8.6M1014 276h4.6M954 280h8.6M1014 280h4.6M954 284h8.6M954 288h8.6M1018 288h4.6M954 292h4.6M1018 292h4.6M950 296h8.6M1018 296h4.6M938 300h16.6M1022 300h4.6M930 304h12.6M1022 304h4.6M922 308h8.6M1022 308h8.6M918 312h8.6M1026 312h4.6M918 316h8.6M1026 316h8.6M918 320h4.6M1026 320h8.6M918 324h4.6M1026 324h8.6M918 328h4.6M1030 328h4.6M918 332h4.6M1030 332h8.6M918 336h4.6M1030 336h8.6M922 340h4.6M1034 340h4.6M922 344h4.6M1034 344h4.6M922 348h8.6M1034 348h8.6M926 352h4.6M1038 352h4.6M930 356h4.6M1038 356h4.6M930 360h4.6M1038 360h8.6M930 364h8.6M1042 364h8.6M934 368h4.6M1046 368h8.6M934 372h4.6M1050 372h8.6M934 376h4.6M1058 376h4.6M934 380h4.6M1062 380h4.6M934 384h4.6M1066 384h8.6M938 388h4.6M1070 388h12.6M938 392h4.6M1078 392h20.6M942 396h4.6M1090 396h20.6M942 400h4.6M1102 400h28.6M942 404h4.6M1114 404h24.6M942 408h4.6M1126 408h16.6M946 412h4.6M1134 412h12.6M946 416h4.6M1138 416h12.6M946 420h4.6M1142 420h12.6M946 424h4.6M1146 424h12.6M946 428h4.6M1150 428h12.6M946 432h8.6M1154 432h12.6M950 436h4.6M1158 436h12.6M950 440h4.6M950 444h4.6M946 448h8.6M946 452h8.6M946 456h8.6"/>
<path stroke="#C12300" d="M970 128h8.6M970 132h12.6M970 136h12.6M970 140h8.6M990 252h12.6M986 256h20.6M982 260h4.6M1002 260h4.6M974 264h8.6M1002 264h4.6M970 268h8.6M1006 268h4.6M970 272h4.6M1006 272h4.6M966 276h8.6M1010 276h4.6M962 280h8.6M1010 280h4.6M962 284h8.6M1014 284h4.6M962 288h4.6M1014 288h4.6M958 292h8.6M1014 292h4.6M958 296h8.6M954 300h8.6M1018 300h4.6M942 304h20.6M1018 304h4.6M930 308h28.6M1018 308h4.6M926 312h12.6M1018 312h8.6M926 316h8.6M1018 316h8.6M922 320h8.6M1018 320h8.6M922 324h8.6M1022 324h4.6M922 328h8.6M1022 328h8.6M922 332h8.6M1022 332h8.6M922 336h8.6M1022 336h8.6M926 340h4.6M1026 340h8.6M926 344h8.6M1026 344h8.6M930 348h8.6M1030 348h4.6M930 352h8.6M1030 352h8.6M934 356h8.6M1030 356h8.6M934 360h12.6M1034 360h4.6M938 364h8.6M1034 364h8.6M938 368h8.6M1038 368h8.6M938 372h8.6M1042 372h8.6M938 376h8.6M1046 376h12.6M938 380h8.6M1054 380h8.6M938 384h8.6M1058 384h8.6M942 388h4.6M1062 388h8.6M942 392h4.6M1066 392h12.6M946 396h4.6M1070 396h20.6M946 400h4.6M1082 400h20.6M946 404h4.6M1094 404h20.6M946 408h4.6M1102 408h24.6M950 412h4.6M1114 412h20.6M950 416h4.6M1122 416h16.6M950 420h4.6M1130 420h12.6M950 424h4.6M1138 424h8.6M950 428h8.6M1142 428h8.6M954 432h4.6M1146 432h8.6M954 436h4.6M1150 436h8.6M954 440h4.6M1154 440h8.6M954 444h4.6M954 448h4.6M954 452h4.6M954 456h4.6M954 460h4.6"/>
<path stroke="#B61A00" d="M986 260h16.6M982 264h20.6M978 268h8.6M998 268h8.6M974 272h8.6M1002 272h4.6M974 276h4.6M1006 276h4.6M970 280h8.6M1006 280h4.6M970 284h4.6M1010 284h4.6M966 288h8.6M1010 288h4.6M966 292h4.6M966 296h4.6M1014 296h4.6M962 300h8.6M1014 300h4.6M962 304h8.6M1014 304h4.6M958 308h8.6M1014 308h4.6M938 312h28.6M1014 312h4.6M934 316h28.6M1014 316h4.6M930 320h28.6M1014 320h4.6M930 324h12.6M946 324h12.6M1010 324h12.6M930 328h28.6M1010 328h12.6M930 332h28.6M1010 332h12.6M930 336h28.6M1014 336h8.6M930 340h24.6M1018 340h8.6M934 344h16.6M1018 344h8.6M938 348h12.6M1018 348h12.6M938 352h16.6M1022 352h8.6M942 356h12.6M1022 356h8.6M946 360h8.6M1026 360h8.6M946 364h8.6M1026 364h8.6M946 368h8.6M1030 368h8.6M946 372h8.6M1034 372h8.6M946 376h8.6M1038 376h8.6M946 380h4.6M1042 380h12.6M946 384h4.6M1050 384h8.6M946 388h8.6M1054 388h8.6M946 392h8.6M1058 392h8.6M950 396h4.6M1062 396h8.6M950 400h4.6M1066 400h16.6M950 404h4.6M1074 404h20.6M950 408h8.6M1082 408h20.6M954 412h4.6M1094 412h20.6M954 416h4.6M1106 416h16.6M954 420h4.6M1006 420h4.6M1114 420h16.6M954 424h4.6M1122 424h16.6M958 428h4.6M1130 428h12.6M958 432h4.6M1138 432h8.6M958 436h4.6M1142 436h8.6M958 440h8.6M1142 440h12.6M958 444h8.6M1146 444h4.6M958 448h8.6M958 452h8.6M958 456h8.6M958 460h8.6M962 464h4.6"/>
<path stroke="#AE1300" d="M986 268h12.6M982 272h20.6M978 276h8.6M998 276h8.6M978 280h4.6M1002 280h4.6M974 284h4.6M1006 284h4.6M974 288h4.6M1006 288h4.6M970 292h8.6M1010 292h4.6M970 296h4.6M1010 296h4.6M970 300h4.6M1010 300h4.6M970 304h4.6M1010 304h4.6M966 308h8.6M1010 308h4.6M966 312h8.6M1006 312h8.6M962 316h8.6M1006 316h8.6M958 320h12.6M1002 320h12.6M942 324h4.6M958 324h12.6M1002 324h8.6M958 328h8.6M1002 328h8.6M958 332h8.6M1002 332h8.6M958 336h8.6M1006 336h8.6M954 340h8.6M1006 340h12.6M950 344h12.6M1010 344h8.6M950 348h12.6M1010 348h8.6M954 352h8.6M1014 352h8.6M954 356h8.6M1014 356h8.6M954 360h8.6M1014 360h12.6M954 364h8.6M1018 364h8.6M954 368h8.6M1022 368h8.6M954 372h8.6M1026 372h8.6M954 376h8.6M1026 376h12.6M950 380h8.6M1030 380h12.6M950 384h8.6M1038 384h12.6M954 388h4.6M1042 388h12.6M954 392h4.6M1046 392h12.6M954 396h4.6M1054 396h8.6M954 400h4.6M1054 400h12.6M954 404h8.6M1058 404h16.6M958 408h4.6M1066 408h16.6M958 412h4.6M1002 412h12.6M1074 412h20.6M958 416h4.6M998 416h16.6M1086 416h20.6M958 420h4.6M998 420h8.6M1010 420h4.6M1098 420h16.6M958 424h8.6M1002 424h12.6M1106 424h16.6M962 428h4.6M1118 428h12.6M962 432h4.6M1126 432h12.6M962 436h8.6M1130 436h12.6M966 440h4.6M1134 440h8.6M966 444h8.6M1138 444h8.6M966 448h8.6M966 452h8.6M966 456h8.6M966 460h4.6M966 464h4.6M966 468h4.6"/>
<path stroke="#9E060F" d="M986 276h12.6M982 280h8.6M994 280h8.6M978 284h8.6M1002 284h4.6M978 288h4.6M1002 288h4.6M978 292h4.6M1006 292h4.6M974 296h8.6M1006 296h4.6M974 300h8.6M1006 300h4.6M974 304h8.6M1006 304h4.6M974 308h8.6M1002 308h8.6M974 312h8.6M998 312h8.6M970 316h12.6M990 316h16.6M970 320h8.6M990 320h12.6M970 324h8.6M990 324h12.6M966 328h8.6M994 328h8.6M966 332h8.6M994 332h8.6M966 336h8.6M998 336h8.6M962 340h8.6M1002 340h4.6M962 344h8.6M1002 344h8.6M962 348h8.6M1002 348h8.6M962 352h8.6M1006 352h8.6M962 356h8.6M1006 356h8.6M962 360h8.6M1006 360h8.6M962 364h8.6M1010 364h8.6M962 368h8.6M1010 368h12.6M962 372h8.6M1014 372h12.6M962 376h8.6M1018 376h8.6M958 380h12.6M1018 380h12.6M958 384h8.6M1022 384h16.6M958 388h8.6M1026 388h16.6M958 392h8.6M1030 392h16.6M958 396h8.6M1038 396h16.6M958 400h8.6M1042 400h12.6M962 404h4.6M1006 404h8.6M1046 404h12.6M962 408h4.6M994 408h24.6M1050 408h16.6M962 412h4.6M994 412h8.6M1014 412h8.6M1058 412h16.6M962 416h8.6M990 416h8.6M1014 416h8.6M1066 416h20.6M962 420h8.6M990 420h8.6M1014 420h8.6M1082 420h16.6M966 424h4.6M994 424h8.6M1014 424h8.6M1090 424h16.6M966 428h8.6M994 428h24.6M1102 428h16.6M966 432h8.6M998 432h12.6M1110 432h16.6M970 436h8.6M1122 436h8.6M970 440h12.6M1126 440h8.6M974 444h12.6M1130 444h8.6M974 448h8.6M1130 448h8.6M974 452h8.6M974 456h4.6M970 460h8.6M970 464h8.6M970 468h8.6M970 472h8.6M974 476h4.6"/>
<path stroke="#90001C" d="M990 280h4.6M986 284h16.6M982 288h20.6M982 292h8.6M1002 292h4.6M982 296h8.6M1002 296h4.6M982 300h8.6M998 300h8.6M982 304h24.6M982 308h20.6M982 312h16.6M982 316h8.6M978 320h12.6M978 324h12.6M974 328h20.6M974 332h20.6M974 336h24.6M970 340h32.6M970 344h32.6M970 348h16.6M994 348h8.6M970 352h16.6M994 352h12.6M970 356h16.6M990 356h16.6M970 360h36.6M970 364h40.6M970 368h40.6M970 372h20.6M994 372h20.6M970 376h16.6M998 376h20.6M970 380h16.6M1002 380h16.6M966 384h20.6M1006 384h16.6M966 388h20.6M1006 388h20.6M966 392h20.6M1010 392h20.6M966 396h72.6M966 400h76.6M966 404h40.6M1014 404h32.6M966 408h28.6M1018 408h32.6M966 412h28.6M1022 412h8.6M1042 412h16.6M970 416h20.6M1022 416h8.6M1046 416h20.6M970 420h20.6M1022 420h8.6M1054 420h28.6M970 424h24.6M1022 424h4.6M1074 424h16.6M974 428h20.6M1018 428h8.6M1086 428h16.6M974 432h24.6M1010 432h12.6M1094 432h16.6M978 436h36.6M1102 436h20.6M982 440h20.6M1110 440h16.6M986 444h8.6M1118 444h12.6M982 448h8.6M1122 448h8.6M982 452h8.6M1122 452h12.6M978 456h8.6M1126 456h4.6M978 460h8.6M978 464h4.6M978 468h4.6M978 472h4.6M978 476h4.6M978 480h4.6"/>
<path stroke="#870021" d="M990 292h12.6M990 296h12.6M990 300h8.6M986 348h8.6M986 352h8.6M986 356h4.6M990 372h4.6M986 376h12.6M986 380h16.6M986 384h20.6M986 388h20.6M986 392h24.6M1030 412h12.6M1030 416h16.6M1030 420h24.6M1026 424h48.6M1026 428h60.6M1022 432h72.6M1014 436h88.6M1002 440h108.6M994 444h124.6M990 448h132.6M990 452h132.6M986 456h140.6M986 460h140.6M982 464h136.6M982 468h76.6M1070 468h40.6M982 472h72.6M1094 472h4.6M982 476h64.6M982 480h60.6M982 484h56.6M990 488h44.6M1014 492h16.6"/>
</g>
</g></g>
<path d="M942.3 87.2L946.3 98.2L950.3 100.2L954.3 98.2L962.4 104.2L970.4 100.2L976.4 96.2L978.4 91.2L980.4 96.2L990.5 95.2L998.5 93.2L1004.5 96.2L1006.5 102.2L1014.5 110.3L1016.6 118.3L1022.6 122.3L1020.6 140.4L1026.6 142.4L1034.6 141.4M1036.6 60.1L1032.6 68.1L1037.6 76.2L1036.6 92.2L1033.6 96.2L1036.6 110.3L1039.6 124.3L1036.6 130.3L1035.6 142.4L1037.6 154.4L1042.6 170.5L1046.7 186.5L1047.7 200.6L1044.6 214.6L1042.6 230.7L1038.6 240.7L1039.6 250.7L1036.6 266M904.2 162.4L916.2 161.4L926.3 155.4L932.3 162.4L938.3 168.5L942.3 178.5L938.3 188.5L944.3 194.5L938.3 202.6L936.3 208.6L942.3 216.6L950.3 218.6L958.4 220.6L966.4 228.7L976.4 236.7L986.5 232.7L994.5 226.7L998.5 218.6L1008.5 217.6L1008.5 228.7L1004.5 230.7L1006.5 238.7L1016.6 242.7L1022.6 248.7L1024.6 260.8L1020.6 266M942.3 217.6L934.3 228.7L930.3 236.7L934.3 246.7L940.3 250.7L938.3 258.8L934.3 260.8L933.3 266M881.1 230.7L886.1 234.7L896.2 233.7L904.2 234.7L910.2 242.7L918.2 246.7L920.2 256.8L926.3 260.8L928.3 266M896.2 233.7L888.1 246.7L882.1 260.8L880.1 266M1089.8 194.5L1076.8 194.5L1072.7 206.6L1068.7 222.6L1067.7 232.7L1062.7 244.7L1058.7 254.7L1050.7 266M1058.7 254.7L1066.7 252.7L1076.8 250.7L1090.8 248.7L1102.8 242.7L1116.9 241.7L1126.9 246.7L1116.9 250.7L1114.9 266M1099.8 255.8L1105.9 255.8L1105.9 262.8L1099.8 262.8L1099.8 255.8M876.2 286.1L880.2 282.1L884.2 290.1L894.2 296.2L896.2 306.2L904.2 312.2L898.2 318.2L906.3 326.3L910.3 334.3L906.3 342.3L898.2 344.3L896.2 352.3L902.2 362.4L900.2 370.4L904.2 374.4M920.3 308.2L924.3 310.2L926.3 320.2L934.3 328.3L942.4 331.3L950.4 335.3L958.4 339.3L967.5 332.3L966.5 320.2L969.5 312.2L974.5 304.2M1000.6 292.1L1002.6 300.2L1000.6 310.2L996.6 322.2L994.5 332.3L988.5 340.3L986.5 348.3L992.5 350.3L996.6 344.3L1002.6 346.3L1004.6 354.3L1006.6 362.4L1014.6 368.4L1016.6 378.4L1011.6 381.4L1006.6 374.4L1000.6 372.4L994.5 378.4L992.5 386.5L995.6 392.5L990.5 394.5L986.5 386.5L990.5 378.4L988.5 372.4L984.5 380.4L982.5 390.5L986.5 398.5L982.5 402.5L980.5 410.5L974.5 416.6L966.5 418.6L954.4 420.6L952.4 430.6L954.4 434.6L948.4 440.6L946.4 446.7M1096.9 286.1L1098.9 300.2L1096.9 316.2L1100.9 330.3L1104.9 338.3L1098.9 362.4L1088.9 372.4L1080.8 366.4L1070.8 362.4L1064.8 374.4L1066.8 390.5L1067.8 398.5L1056.8 406.5L1042.7 410.5L1038.7 420.6L1034.7 430.6L1030.7 446.7L1027.7 458.7L1024.6 470.7L1018.6 482.8M884.2 250L882.2 262L884.2 270.1L878.2 272.1L877.2 284.1M920.3 250L922.3 258L930.3 260L934.3 268.1L930.3 270.1L928.3 262M1022.6 250L1018.6 260L1022.6 270.1L1020.6 280.1L1028.7 278.1L1034.7 270.1L1032.7 260L1036.7 250M1038.7 250L1042.7 262L1040.7 276.1L1048.7 270.1L1054.7 262L1062.8 254L1070.8 250M1121 250L1119 262L1123 274.1L1119 284.1L1112.9 290.1L1106.9 286.1L1098.9 288.1L1096.9 286.1M1099.9 256L1105.9 256L1105.9 262.4L1099.9 262.4L1099.9 256" fill="none" stroke="#9C9C9C" stroke-width="2.3" stroke-linejoin="round" stroke-linecap="round"/>
<path d="M945 66.2L960 60L975 52.5L982.5 45L992.5 48.8L998.8 60L1012.5 55L1020 52.5L1027.5 51.2L1035 61.2L1045 58.8L1057.5 67.5L1070 80L1085 97.5L1097.5 115L1106.2 135L1100 150L1092.5 165L1091.2 180L1095 192.5L1120 192.5L1117.5 205L1125 225L1135 245L1150 265L1170 277.5L1210 295L1240 311.2L1267.5 310L1260 320L1235 352.5L1210 387.5L1185 425L1160 430L1135 437.5L1120 452.5L1097.5 462.5L1080 460L1062.5 455L1042.5 467.5L1027.5 485L1020 483.8L1007.5 481.2L990 478.8L975 467.5L960 452.5L947.5 447.5L930 445L925 437.5L922.5 417.5L910 410L900 392.5L902.5 375L892.5 362.5L880 347.5L870 330L855 320L843.8 312.5L850 293.8L865 292.5L880 283.8L877.5 272.5L876.2 245L878.8 220L880 215L887.5 200L897.5 182.5L905 162.5L912.5 145L920 130L932.5 125L937.5 102.5L942.5 90Z" fill="none" stroke="#9C9C9C" stroke-width="2.5" stroke-linejoin="round"/>
<path d="M957.5 146.2L963.8 143.8L970 143.8L971.2 150L972.5 160L970 167.5L967.5 170L963.8 162.5L957.5 160L956.2 152.5Z" fill="#F0F0F0" stroke="#444" stroke-width="0.8" stroke-linejoin="round"/>
<path d="M881.2 165L883.8 163L885.5 167.5L890 175L892.5 180L887.5 176.2L882.5 171.2Z" fill="#F0F0F0" stroke="#444" stroke-width="0.8" stroke-linejoin="round"/>
<path d="M926.2 441.2L932.5 441.2L933.8 457.5L932.5 470L935 490L939.5 505L933.8 505L928.8 490L925.5 470L926.2 457.5Z" fill="#F0F0F0" stroke="#444" stroke-width="0.8" stroke-linejoin="round"/>
<path d="M980 370L986.2 367.5L985 375L980 385L976.2 395L972.5 397.5L975 387.5Z" fill="#F0F0F0" stroke="#444" stroke-width="0.8" stroke-linejoin="round"/>
<path d="M948.8 440L955 432.5L955 438.8L950.5 443.8Z" fill="#F0F0F0" stroke="#444" stroke-width="0.8" stroke-linejoin="round"/>
</g>
<rect x="826" y="26.2" width="456.2" height="480.6" fill="none" stroke="#4A4A4A" stroke-width="0.9"/>
<circle cx="1006.2" cy="272" r="7.6" fill="#006400"/>
<text x="1006.2" y="305.7" font-size="29" text-anchor="middle">Addis Ababa</text>
<text x="1249" y="496.3" font-size="31.3" text-anchor="end">Ethiopia</text>
<text x="1203" y="49.6" font-size="26" >PDI</text>
<text x="841.8" y="52.3" font-size="28" font-weight="bold">b</text>
<path d="M825.5 45V488.3M825.5 45H808.7M825.5 267.5H808.7M825.5 488.3H808.7M842.7 507.2H1265.2M842.7 507.2V524.2M1055 507.2V524.2M1265.2 507.2V524.2" stroke="#000" stroke-width="1.3" fill="none"/>
<text transform="translate(794.8 45) rotate(-90)" font-size="26" text-anchor="middle">14.8</text>
<text transform="translate(794.8 267.5) rotate(-90)" font-size="26" text-anchor="middle">9.1</text>
<text transform="translate(794.8 488.3) rotate(-90)" font-size="26" text-anchor="middle">3.4</text>
<text x="842.7" y="557.3" font-size="26" text-anchor="middle">33.0</text>
<text x="1055" y="557.3" font-size="26" text-anchor="middle">40.5</text>
<text x="1265.2" y="557.3" font-size="26" text-anchor="middle">47.9</text>
<linearGradient id="cgb" x1="0" y1="0" x2="0" y2="1">
<stop offset="0.000" stop-color="#7D0025"/>
<stop offset="0.060" stop-color="#7F0024"/>
<stop offset="0.087" stop-color="#8B0020"/>
<stop offset="0.120" stop-color="#960018"/>
<stop offset="0.141" stop-color="#AA1000"/>
<stop offset="0.186" stop-color="#B81C00"/>
<stop offset="0.230" stop-color="#CC2C00"/>
<stop offset="0.275" stop-color="#DC3C00"/>
<stop offset="0.320" stop-color="#E84C00"/>
<stop offset="0.363" stop-color="#EC6000"/>
<stop offset="0.408" stop-color="#F07400"/>
<stop offset="0.453" stop-color="#F28800"/>
<stop offset="0.493" stop-color="#F39400"/>
<stop offset="0.538" stop-color="#F5A200"/>
<stop offset="0.575" stop-color="#F8B000"/>
<stop offset="0.600" stop-color="#F6B430"/>
<stop offset="0.635" stop-color="#F6BC48"/>
<stop offset="0.680" stop-color="#F7C860"/>
<stop offset="0.724" stop-color="#F9D47C"/>
<stop offset="0.769" stop-color="#FAE094"/>
<stop offset="0.813" stop-color="#FCEAAA"/>
<stop offset="0.858" stop-color="#FEF4BC"/>
<stop offset="0.900" stop-color="#FFFAC4"/>
<stop offset="0.968" stop-color="#FFFFC8"/>
<stop offset="1.000" stop-color="#FFFFC8"/>
</linearGradient>
<rect x="1294.1" y="65.4" width="14.1" height="343.4" fill="url(#cgb)"/>
<rect x="1294.1" y="408.8" width="14.1" height="45.1" fill="#7F7F7F"/>
<rect x="1294.1" y="453.9" width="14.1" height="44.4" fill="#E5E5E5"/>
<rect x="1294.1" y="65.4" width="14.1" height="432.9" fill="none" stroke="#000" stroke-width="1.4"/>
<path d="M1308.2 76.8h4.6M1308.2 390.4h4.6M1308.2 431.3h4.6M1308.2 476h4.6" stroke="#000" stroke-width="1.3" fill="none"/>
<text x="1328" y="64.9" font-size="22.45">Weak physical</text>
<text x="1328" y="90.3" font-size="22.45">distancing</text>
<text x="1328" y="378.3" font-size="22.45">Strong physical</text>
<text x="1328" y="403.7" font-size="22.45">distancing</text>
<text x="1328" y="436.9" font-size="22.45">NA; Not in ETH</text>
<text x="1328" y="463.4" font-size="22.45">Water</text>
<text x="1328" y="489.9" font-size="22.45">bodies</text>
</g>
<g id="panel-c">
<clipPath id="mcc"><rect x="92" y="597.2" width="456.2" height="480.6"/></clipPath>
<g clip-path="url(#mcc)">
<rect x="92" y="597.2" width="456.2" height="480.6" fill="#7F7F7F"/>
<path d="M100 662.2L115.1 651.1M100 694.3L114 690.3L124.1 678.2M100 730.4L110 728.4L116.1 722.4L130.1 710.3L140.1 704.3M126.1 746.5L140.1 740.4L148.2 734.4L160.2 746.5L164.2 754.5M100 764.5L112 760.5L126.1 762.5L126.1 746.5M126.1 762.5L128.1 776.6L140.1 778.6L150.2 788.6M100 790.6L110 786.6L124.1 782.6L128.1 776.6M108 802.6L120.1 796.6L126.1 810.7L132.1 810.7M100 820.7L112 816.7L120.1 826.7M208.4 610L206.4 622L208.4 632.1M264.5 610L263.5 620L256.5 630.1L254.5 636.1M178.9 925.6L176.8 950.4L162.3 979.4L160.3 1008.3L139.6 1024.8L123.1 1026.9M216.1 952.5L226.4 967L263.6 991.8L271.9 983.5L292.5 975.2L304.9 1004.2M263.6 991.8L267.7 1024.8L255.3 1041.4L226.4 1049.6L214 1081M160.3 1008.3L180.9 1033.1L201.6 1049.6L226.4 1049.6M304.9 1004.2L321.4 1008.3L342.1 1033.1L333.8 1081M90 1020.7L123.1 1026.9L135.5 1049.6L131.3 1081M379.3 1081L387.6 1057.9M395.8 688L408.2 677.7L420.6 657L433 619.8L441.3 595M548.8 657L536.4 661.1L524 677.7L513.6 690.1" fill="none" stroke="#A0A0A0" stroke-width="1.4" stroke-linejoin="round"/>
<path d="M548.2 885L513.8 918.8L497.5 937.5L480 952.5L455 962.5L442.5 970L440 985L430 1000L422.5 1015L412.5 1032.5L402.5 1052.5L390 1058.8L387.5 1076.8L548.2 1078Z" fill="#E5E5E5" stroke="#999" stroke-width="1"/>
<path d="M92 840L105 838.8L111.2 845L110 865L112.5 885L115 892.5L107.5 902.5L105 910L100 920L92 925Z" fill="#E5E5E5" stroke="#999" stroke-width="1"/>
<clipPath id="ccc"><path d="M113.8 651.2L140 632.5L165 622.5L187.5 616.2L192.5 627.5L200 635L215 636.2L227.5 642.5L260 642.5L280 650L305 665L330 680L350 680L365 682.5L395 688.8L407.5 688.8L422.5 670L440 662.5L450 658.8L472.5 651.2L492.5 663.8L530 665L515 685L500 700L482.5 717.5L482.5 765L482.5 840L482.5 885L513.8 918.8L497.5 937.5L480 952.5L455 962.5L442.5 970L440 985L430 1000L422.5 1015L412.5 1032.5L402.5 1052.5L390 1058.8L350 1035L310 1005L302.5 990L280 976.2L220 942.5L165 916.2L115 892.5L112.5 885L110 865L111.2 845L120 827.5L135 805L146.2 790L157.5 782.5L165 760L163.8 735L157.5 722.5L147.5 707.5L137.5 692.5L136.2 675L120 665Z"/></clipPath>
<g clip-path="url(#ccc)"><g filter="url(#bl)">
<g fill="none" stroke-width="4.6">
<path stroke="#FFFFC8" d="M456 759h12.6M452 763h24.6M448 767h36.6M444 771h48.6M444 775h48.6M444 779h48.6M444 783h48.6M444 787h48.6M444 791h28.6M480 791h12.6M488 795h4.6M260 863h8.6M256 867h16.6M288 867h8.6M260 871h12.6M280 871h20.6M280 875h16.6M284 879h12.6M288 883h8.6M336 983h4.6M336 987h12.6M336 991h16.6M336 995h20.6M340 999h16.6M340 1003h16.6M344 1007h12.6M344 1011h12.6M348 1015h4.6"/>
<path stroke="#FFFFC8" d="M452 755h28.6M448 759h8.6M468 759h24.6M444 763h8.6M476 763h16.6M440 767h8.6M484 767h8.6M440 771h4.6M440 775h4.6M440 779h4.6M440 783h4.6M440 787h4.6M440 791h4.6M472 791h8.6M440 795h48.6M448 799h44.6M480 803h12.6M488 807h4.6M260 859h8.6M252 863h8.6M268 863h8.6M252 867h4.6M272 867h16.6M296 867h8.6M252 871h8.6M272 871h8.6M260 875h20.6M296 875h4.6M276 879h8.6M296 879h4.6M280 883h8.6M296 883h4.6M284 887h16.6M308 939h12.6M308 943h16.6M308 947h16.6M312 951h12.6M312 955h12.6M320 959h4.6M328 975h12.6M328 979h16.6M328 983h8.6M340 983h8.6M328 987h8.6M348 987h4.6M332 991h4.6M352 991h4.6M332 995h4.6M356 995h4.6M336 999h4.6M356 999h4.6M336 1003h4.6M356 1003h4.6M340 1007h4.6M356 1007h4.6M340 1011h4.6M356 1011h4.6M340 1015h8.6M352 1015h8.6M344 1019h12.6"/>
<path stroke="#FFFEC7" d="M456 747h16.6M448 751h40.6M444 755h8.6M480 755h12.6M440 759h8.6M440 763h4.6M436 767h4.6M436 771h4.6M436 775h4.6M436 779h4.6M436 783h4.6M436 787h4.6M436 791h4.6M436 795h4.6M440 799h8.6M444 803h36.6M464 807h24.6M476 811h16.6M480 815h12.6M484 819h8.6M488 823h4.6M252 859h8.6M268 859h4.6M248 863h4.6M276 863h24.6M248 867h4.6M248 871h4.6M300 871h4.6M252 875h8.6M260 879h16.6M264 883h16.6M280 887h4.6M288 891h12.6M288 911h4.6M292 923h4.6M292 927h8.6M296 931h8.6M300 935h24.6M300 939h8.6M320 939h8.6M304 943h4.6M324 943h4.6M324 947h4.6M308 951h4.6M324 951h8.6M324 955h8.6M312 959h8.6M324 959h8.6M316 963h20.6M320 967h16.6M320 971h20.6M320 975h8.6M340 975h4.6M324 979h4.6M344 979h4.6M324 983h4.6M348 983h4.6M352 987h4.6M328 991h4.6M356 991h4.6M328 995h4.6M332 999h4.6M360 999h4.6M360 1003h4.6M336 1007h4.6M360 1007h4.6M336 1011h4.6M360 1011h4.6M360 1015h4.6M340 1019h4.6M356 1019h4.6M340 1023h20.6M348 1027h4.6"/>
<path stroke="#FFFCC5" d="M456 743h20.6M448 747h8.6M472 747h20.6M444 751h4.6M488 751h4.6M440 755h4.6M436 759h4.6M436 763h4.6M432 767h4.6M432 771h4.6M432 783h4.6M432 787h4.6M432 791h4.6M432 795h4.6M432 799h8.6M436 803h8.6M440 807h24.6M448 811h28.6M460 815h20.6M468 819h16.6M476 823h12.6M480 827h12.6M484 831h8.6M484 835h8.6M484 839h8.6M484 843h8.6M488 847h4.6M488 851h4.6M260 855h12.6M488 855h4.6M248 859h4.6M272 859h8.6M488 859h4.6M244 863h4.6M300 863h4.6M488 863h4.6M244 867h4.6M304 867h4.6M488 867h4.6M484 871h8.6M300 875h4.6M484 875h8.6M256 879h4.6M300 879h4.6M484 879h8.6M260 883h4.6M300 883h4.6M484 883h8.6M268 887h12.6M300 887h4.6M488 887h8.6M280 891h8.6M492 891h8.6M288 895h12.6M500 895h4.6M288 903h8.6M288 907h8.6M292 911h4.6M288 915h8.6M288 919h12.6M288 923h4.6M296 923h4.6M288 927h4.6M300 927h8.6M292 931h4.6M304 931h20.6M292 935h8.6M324 935h4.6M296 939h4.6M328 939h4.6M300 943h4.6M328 943h4.6M304 947h4.6M328 947h4.6M304 951h4.6M332 951h4.6M308 955h4.6M332 955h4.6M308 959h4.6M332 959h8.6M312 963h4.6M336 963h4.6M316 967h4.6M336 967h8.6M316 971h4.6M340 971h8.6M316 975h4.6M344 975h8.6M320 979h4.6M348 979h4.6M352 983h4.6M324 987h4.6M356 987h4.6M324 991h4.6M360 995h4.6M328 999h4.6M332 1003h4.6M364 1003h4.6M332 1007h4.6M364 1007h4.6M364 1011h4.6M336 1015h4.6M364 1015h4.6M336 1019h4.6M360 1019h4.6M336 1023h4.6M360 1023h4.6M340 1027h8.6M352 1027h12.6M348 1031h12.6"/>
<path stroke="#FFFAC4" d="M456 739h24.6M448 743h8.6M476 743h16.6M444 747h4.6M440 751h4.6M436 755h4.6M432 763h4.6M432 775h4.6M432 779h4.6M428 787h4.6M428 791h4.6M428 795h4.6M432 803h4.6M432 807h8.6M436 811h12.6M440 815h20.6M448 819h20.6M452 823h24.6M452 827h28.6M468 831h16.6M472 835h12.6M476 839h8.6M476 843h8.6M476 847h12.6M476 851h12.6M256 855h4.6M480 855h8.6M244 859h4.6M280 859h12.6M480 859h8.6M304 863h4.6M476 863h12.6M476 867h12.6M244 871h4.6M304 871h4.6M476 871h8.6M248 875h4.6M476 875h8.6M252 879h4.6M472 879h12.6M256 883h4.6M472 883h12.6M260 887h8.6M476 887h12.6M272 891h8.6M300 891h4.6M476 891h16.6M280 895h8.6M476 895h24.6M284 899h16.6M480 899h28.6M284 903h4.6M484 903h28.6M284 907h4.6M492 907h24.6M284 911h4.6M296 911h4.6M508 911h8.6M284 915h4.6M296 915h4.6M284 919h4.6M300 919h4.6M300 923h4.6M308 927h4.6M288 931h4.6M324 931h4.6M288 935h4.6M328 935h4.6M292 939h4.6M296 943h4.6M332 943h4.6M300 947h4.6M332 947h4.6M336 951h4.6M304 955h4.6M336 955h4.6M340 959h4.6M308 963h4.6M340 963h4.6M312 967h4.6M344 967h4.6M312 971h4.6M348 971h4.6M352 975h4.6M316 979h4.6M352 979h4.6M320 983h4.6M356 983h4.6M320 987h4.6M360 987h4.6M360 991h4.6M324 995h4.6M364 995h4.6M364 999h4.6M328 1003h4.6M368 1007h4.6M332 1011h4.6M368 1011h4.6M332 1015h4.6M368 1015h4.6M364 1019h4.6M364 1023h4.6M336 1027h4.6M364 1027h4.6M340 1031h8.6M360 1031h8.6M344 1035h20.6M352 1039h12.6"/>
<path stroke="#FEF6BF" d="M460 735h24.6M452 739h4.6M480 739h12.6M444 743h4.6M440 747h4.6M436 751h4.6M432 759h4.6M160 763h8.6M156 767h12.6M428 767h4.6M156 771h16.6M428 771h4.6M156 775h16.6M428 775h4.6M156 779h16.6M428 779h4.6M160 783h8.6M428 783h4.6M424 787h4.6M424 791h4.6M424 795h4.6M428 799h4.6M428 803h4.6M432 811h4.6M436 815h4.6M440 819h8.6M444 823h8.6M444 827h8.6M448 831h20.6M456 835h16.6M464 839h12.6M468 843h8.6M132 847h8.6M468 847h8.6M136 851h4.6M260 851h8.6M468 851h8.6M248 855h8.6M272 855h4.6M472 855h8.6M240 859h4.6M292 859h12.6M472 859h8.6M240 863h4.6M472 863h4.6M240 867h4.6M472 867h4.6M240 871h4.6M468 871h8.6M152 875h4.6M244 875h4.6M468 875h8.6M152 879h8.6M248 879h4.6M468 879h4.6M152 883h8.6M252 883h4.6M468 883h4.6M468 887h8.6M264 891h8.6M464 891h12.6M276 895h4.6M300 895h4.6M464 895h12.6M280 899h4.6M464 899h16.6M296 903h4.6M464 903h20.6M296 907h4.6M468 907h24.6M468 911h40.6M300 915h4.6M480 915h40.6M496 919h28.6M284 923h4.6M304 923h4.6M512 923h8.6M284 927h4.6M312 927h12.6M284 931h4.6M328 931h4.6M332 935h4.6M288 939h4.6M332 939h4.6M292 943h4.6M296 947h4.6M336 947h4.6M300 951h4.6M340 951h4.6M300 955h4.6M340 955h4.6M304 959h4.6M344 959h4.6M304 963h4.6M344 963h8.6M308 967h4.6M348 967h4.6M352 971h4.6M312 975h4.6M356 975h4.6M356 979h4.6M316 983h4.6M360 983h4.6M320 991h4.6M364 991h4.6M324 999h4.6M368 999h4.6M368 1003h4.6M328 1007h4.6M328 1011h4.6M332 1019h4.6M368 1019h4.6M332 1023h4.6M368 1023h4.6M368 1027h4.6M336 1031h4.6M368 1031h4.6M340 1035h4.6M364 1035h8.6M344 1039h8.6M364 1039h8.6M348 1043h24.6M356 1047h12.6"/>
<path stroke="#FDF1B7" d="M536 667h4.6M464 731h16.6M452 735h8.6M484 735h8.6M444 739h8.6M440 743h4.6M436 747h4.6M160 755h8.6M432 755h4.6M156 759h12.6M156 763h4.6M168 763h4.6M428 763h4.6M152 767h4.6M168 767h4.6M152 771h4.6M172 771h4.6M148 775h8.6M172 775h4.6M148 779h8.6M172 779h4.6M152 783h8.6M168 783h8.6M424 783h4.6M156 787h16.6M420 791h4.6M424 799h4.6M424 803h4.6M428 807h4.6M428 811h4.6M432 815h4.6M432 819h8.6M436 823h8.6M440 827h4.6M440 831h8.6M136 835h4.6M444 835h12.6M132 839h12.6M452 839h12.6M128 843h16.6M460 843h8.6M124 847h8.6M140 847h4.6M460 847h8.6M128 851h8.6M140 851h4.6M256 851h4.6M268 851h4.6M464 851h4.6M136 855h8.6M240 855h8.6M276 855h8.6M464 855h8.6M304 859h4.6M464 859h8.6M236 863h4.6M308 863h4.6M464 863h8.6M236 867h4.6M308 867h4.6M464 867h8.6M152 871h4.6M464 871h4.6M148 875h4.6M156 875h8.6M240 875h4.6M304 875h4.6M464 875h4.6M148 879h4.6M160 879h4.6M244 879h4.6M460 879h8.6M148 883h4.6M160 883h4.6M460 883h8.6M256 887h4.6M460 887h8.6M260 891h4.6M460 891h4.6M268 895h8.6M456 895h8.6M276 899h4.6M456 899h8.6M280 903h4.6M456 903h8.6M280 907h4.6M456 907h12.6M280 911h4.6M300 911h4.6M456 911h12.6M456 915h24.6M304 919h4.6M456 919h40.6M308 923h4.6M468 923h44.6M324 927h4.6M492 927h24.6M332 931h4.6M508 931h8.6M284 935h4.6M336 939h4.6M288 943h4.6M336 943h4.6M292 947h4.6M340 947h4.6M296 951h4.6M344 951h4.6M344 955h4.6M300 959h4.6M348 959h4.6M352 963h4.6M304 967h4.6M352 967h4.6M308 971h4.6M356 971h4.6M308 975h4.6M312 979h4.6M360 979h4.6M316 987h4.6M364 987h4.6M320 995h4.6M368 995h4.6M324 1003h4.6M372 1007h4.6M372 1011h4.6M328 1015h4.6M372 1015h4.6M328 1019h4.6M372 1019h4.6M372 1023h4.6M332 1027h4.6M372 1027h4.6M332 1031h4.6M372 1031h4.6M336 1035h4.6M372 1035h4.6M340 1039h4.6M372 1039h4.6M344 1043h4.6M372 1043h4.6M352 1047h4.6M368 1047h8.6M360 1051h16.6M364 1055h4.6"/>
<path stroke="#FCECAD" d="M528 663h8.6M528 667h8.6M528 671h8.6M528 675h8.6M460 731h4.6M480 731h12.6M448 735h4.6M440 739h4.6M436 743h4.6M160 751h12.6M432 751h4.6M156 755h4.6M168 755h4.6M168 759h4.6M428 759h4.6M172 767h4.6M176 775h4.6M176 779h4.6M424 779h4.6M144 783h8.6M176 783h4.6M148 787h8.6M172 787h8.6M420 787h4.6M152 791h24.6M156 795h8.6M420 795h4.6M420 799h4.6M424 807h4.6M424 811h4.6M144 815h12.6M428 815h4.6M140 819h20.6M136 823h28.6M432 823h4.6M132 827h32.6M436 827h4.6M128 831h32.6M436 831h4.6M128 835h8.6M140 835h8.6M436 835h8.6M124 839h8.6M144 839h4.6M440 839h12.6M124 843h4.6M144 843h4.6M444 843h16.6M144 847h4.6M452 847h8.6M124 851h4.6M144 851h4.6M252 851h4.6M272 851h4.6M456 851h8.6M132 855h4.6M144 855h4.6M236 855h4.6M284 855h12.6M460 855h4.6M140 859h8.6M236 859h4.6M308 859h4.6M460 859h4.6M460 863h4.6M148 867h4.6M460 867h4.6M148 871h4.6M156 871h4.6M236 871h4.6M460 871h4.6M236 875h4.6M456 875h8.6M164 879h4.6M304 879h4.6M456 879h4.6M164 883h4.6M248 883h4.6M452 883h8.6M152 887h8.6M252 887h4.6M452 887h8.6M452 891h8.6M264 895h4.6M452 895h4.6M272 899h4.6M300 899h4.6M452 899h4.6M276 903h4.6M300 903h4.6M448 903h8.6M300 907h4.6M448 907h8.6M448 911h8.6M280 915h4.6M304 915h4.6M448 915h8.6M280 919h4.6M448 919h8.6M280 923h4.6M312 923h4.6M452 923h16.6M280 927h4.6M328 927h4.6M452 927h40.6M280 931h4.6M476 931h32.6M280 935h4.6M336 935h4.6M492 935h20.6M284 939h4.6M340 939h4.6M504 939h4.6M284 943h4.6M340 943h4.6M288 947h4.6M344 947h4.6M292 951h4.6M348 951h4.6M296 955h4.6M348 955h4.6M296 959h4.6M352 959h4.6M300 963h4.6M356 963h4.6M356 967h4.6M304 971h4.6M360 971h4.6M360 975h4.6M364 979h4.6M312 983h4.6M364 983h4.6M368 987h4.6M316 991h4.6M368 991h4.6M320 999h4.6M372 999h4.6M372 1003h4.6M324 1007h4.6M324 1011h4.6M376 1011h4.6M376 1015h4.6M376 1019h4.6M328 1023h4.6M376 1023h4.6M328 1027h4.6M328 1031h4.6M376 1031h4.6M376 1035h4.6M376 1039h4.6M376 1043h4.6M376 1047h4.6M376 1051h4.6M368 1055h12.6M372 1059h4.6"/>
<path stroke="#FBE6A1" d="M528 659h4.6M524 663h4.6M524 667h4.6M524 671h4.6M524 675h4.6M528 679h4.6M464 727h28.6M452 731h8.6M444 735h4.6M436 739h4.6M432 743h4.6M164 747h8.6M432 747h4.6M156 751h4.6M428 755h4.6M172 759h4.6M172 763h4.6M424 767h4.6M176 771h4.6M424 771h4.6M424 775h4.6M180 779h4.6M180 783h4.6M420 783h4.6M140 787h8.6M180 787h4.6M416 787h4.6M140 791h12.6M176 791h4.6M416 791h4.6M144 795h12.6M164 795h12.6M148 799h20.6M148 803h16.6M420 803h4.6M144 807h16.6M136 811h24.6M132 815h12.6M156 815h8.6M424 815h4.6M128 819h12.6M160 819h4.6M428 819h4.6M124 823h12.6M164 823h4.6M428 823h4.6M124 827h8.6M164 827h4.6M432 827h4.6M124 831h4.6M160 831h4.6M432 831h4.6M120 835h8.6M148 835h8.6M432 835h4.6M120 839h4.6M148 839h4.6M432 839h8.6M120 843h4.6M148 843h4.6M436 843h8.6M120 847h4.6M148 847h4.6M440 847h12.6M120 851h4.6M148 851h4.6M240 851h12.6M276 851h4.6M448 851h8.6M128 855h4.6M148 855h4.6M296 855h8.6M452 855h8.6M136 859h4.6M148 859h4.6M232 859h4.6M456 859h4.6M140 863h12.6M232 863h4.6M312 863h4.6M456 863h4.6M144 867h4.6M152 867h8.6M232 867h4.6M456 867h4.6M144 871h4.6M160 871h4.6M232 871h4.6M308 871h4.6M452 871h8.6M144 875h4.6M164 875h4.6M452 875h4.6M144 879h4.6M168 879h4.6M240 879h4.6M448 879h8.6M168 883h4.6M244 883h4.6M304 883h4.6M448 883h4.6M148 887h4.6M160 887h4.6M304 887h4.6M448 887h4.6M256 891h4.6M304 891h4.6M448 891h4.6M444 895h8.6M268 899h4.6M444 899h8.6M444 903h4.6M276 907h4.6M444 907h4.6M444 911h4.6M444 915h4.6M308 919h4.6M444 919h4.6M316 923h8.6M444 923h8.6M332 927h4.6M448 927h4.6M336 931h4.6M452 931h24.6M340 935h4.6M468 935h24.6M280 939h4.6M484 939h20.6M344 943h4.6M496 943h8.6M284 947h4.6M348 947h4.6M352 951h4.6M292 955h4.6M352 955h4.6M356 959h4.6M296 963h4.6M360 963h4.6M300 967h4.6M360 967h4.6M364 971h4.6M304 975h4.6M364 975h4.6M308 979h4.6M368 983h4.6M316 995h4.6M372 995h4.6M320 1003h4.6M376 1003h4.6M376 1007h4.6M324 1015h4.6M324 1019h4.6M324 1023h4.6M376 1027h4.6M380 1039h4.6M380 1043h4.6M380 1047h4.6M380 1051h4.6M380 1055h4.6M376 1059h8.6"/>
<path stroke="#FAE094" d="M524 659h4.6M520 667h4.6M520 671h4.6M524 679h4.6M524 683h4.6M468 723h24.6M456 727h8.6M448 731h4.6M440 735h4.6M432 739h4.6M160 747h4.6M428 747h4.6M172 751h4.6M428 751h4.6M172 755h4.6M424 759h4.6M424 763h4.6M176 767h4.6M180 775h4.6M420 779h4.6M184 783h4.6M416 783h4.6M136 791h4.6M180 791h4.6M132 795h12.6M176 795h4.6M416 795h4.6M128 799h20.6M168 799h8.6M416 799h4.6M128 803h20.6M164 803h4.6M124 807h20.6M160 807h8.6M420 807h4.6M124 811h12.6M160 811h4.6M420 811h4.6M120 815h12.6M420 815h4.6M120 819h8.6M164 819h4.6M424 819h4.6M120 823h4.6M424 823h4.6M120 827h4.6M428 827h4.6M116 831h8.6M164 831h4.6M428 831h4.6M116 835h4.6M156 835h8.6M428 835h4.6M116 839h4.6M152 839h4.6M428 839h4.6M116 843h4.6M432 843h4.6M256 847h16.6M436 847h4.6M236 851h4.6M280 851h8.6M440 851h8.6M124 855h4.6M232 855h4.6M304 855h4.6M444 855h8.6M152 859h4.6M228 859h4.6M312 859h4.6M448 859h8.6M152 863h4.6M228 863h4.6M448 863h8.6M140 867h4.6M228 867h4.6M312 867h4.6M448 867h8.6M164 871h4.6M448 871h4.6M168 875h4.6M232 875h4.6M444 875h8.6M172 879h20.6M236 879h4.6M444 879h4.6M144 883h4.6M172 883h20.6M440 883h8.6M164 887h8.6M248 887h4.6M440 887h8.6M152 891h8.6M252 891h4.6M440 891h8.6M260 895h4.6M304 895h4.6M440 895h4.6M440 899h4.6M272 903h4.6M440 903h4.6M440 907h4.6M276 911h4.6M304 911h4.6M440 911h4.6M276 915h4.6M440 915h4.6M276 919h4.6M312 919h4.6M440 919h4.6M276 923h4.6M324 923h8.6M440 923h4.6M276 927h4.6M336 927h4.6M444 927h4.6M276 931h4.6M340 931h4.6M448 931h4.6M276 935h4.6M344 935h4.6M452 935h16.6M276 939h4.6M344 939h4.6M468 939h16.6M280 943h4.6M348 943h4.6M480 943h16.6M280 947h4.6M352 947h4.6M488 947h12.6M284 951h8.6M356 951h4.6M288 955h4.6M356 955h4.6M292 959h4.6M360 959h4.6M292 963h4.6M364 963h4.6M296 967h4.6M364 967h4.6M300 971h4.6M368 975h4.6M304 979h4.6M368 979h4.6M308 983h4.6M312 987h4.6M372 987h4.6M372 991h4.6M316 999h4.6M376 999h4.6M320 1007h4.6M320 1011h4.6M380 1011h4.6M380 1015h4.6M380 1019h4.6M380 1023h4.6M324 1027h4.6M380 1027h4.6M380 1031h4.6M380 1035h4.6M384 1047h4.6M384 1051h4.6M384 1055h4.6M384 1059h4.6M380 1063h8.6"/>
<path stroke="#F9D986" d="M520 659h4.6M520 663h4.6M520 675h4.6M520 679h4.6M520 683h4.6M520 687h4.6M476 719h16.6M460 723h8.6M448 727h8.6M440 731h8.6M436 735h4.6M164 743h8.6M428 743h4.6M156 747h4.6M172 747h4.6M424 755h4.6M176 759h4.6M176 763h4.6M180 771h4.6M420 771h4.6M420 775h4.6M184 779h4.6M184 787h4.6M184 791h4.6M180 795h4.6M176 799h4.6M168 803h8.6M416 803h4.6M416 807h4.6M120 811h4.6M164 811h4.6M416 811h4.6M164 815h4.6M116 819h4.6M420 819h4.6M112 823h8.6M168 823h4.6M420 823h4.6M112 827h8.6M168 827h4.6M424 827h4.6M168 831h4.6M424 831h4.6M164 835h4.6M424 835h4.6M156 839h4.6M424 839h4.6M152 843h4.6M424 843h8.6M116 847h4.6M152 847h4.6M240 847h16.6M272 847h4.6M428 847h8.6M152 851h4.6M232 851h4.6M288 851h8.6M432 851h8.6M120 855h4.6M152 855h4.6M228 855h4.6M308 855h4.6M436 855h8.6M132 859h4.6M316 859h4.6M440 859h8.6M136 863h4.6M156 863h4.6M224 863h4.6M440 863h8.6M160 867h4.6M224 867h4.6M440 867h8.6M140 871h4.6M228 871h4.6M440 871h8.6M172 875h16.6M308 875h4.6M440 875h4.6M436 879h8.6M240 883h4.6M436 883h4.6M144 887h4.6M172 887h4.6M180 887h8.6M436 887h4.6M148 891h4.6M160 891h4.6M436 891h4.6M256 895h4.6M436 895h4.6M264 899h4.6M304 899h4.6M436 899h4.6M268 903h4.6M304 903h4.6M436 903h4.6M272 907h4.6M304 907h4.6M436 907h4.6M436 911h4.6M308 915h4.6M436 915h4.6M316 919h4.6M436 919h4.6M332 923h4.6M436 923h4.6M340 927h4.6M440 927h4.6M344 931h4.6M444 931h4.6M348 935h4.6M448 935h4.6M348 939h4.6M456 939h12.6M276 943h4.6M352 943h4.6M464 943h16.6M276 947h4.6M356 947h4.6M476 947h12.6M280 951h4.6M360 951h4.6M484 951h12.6M284 955h4.6M360 955h4.6M288 959h4.6M364 959h4.6M292 967h4.6M368 967h4.6M296 971h4.6M368 971h4.6M300 975h4.6M372 975h4.6M372 979h4.6M372 983h4.6M312 991h4.6M376 991h4.6M376 995h4.6M380 1003h4.6M380 1007h4.6M320 1015h4.6M320 1019h4.6M320 1023h4.6M384 1039h4.6M384 1043h4.6M388 1047h4.6M388 1051h4.6M388 1055h4.6M388 1059h4.6M388 1063h4.6M388 1067h4.6"/>
<path stroke="#F9D278" d="M516 663h4.6M516 667h4.6M516 671h4.6M516 675h4.6M516 679h4.6M516 683h4.6M516 687h4.6M516 691h4.6M496 711h4.6M484 715h12.6M468 719h8.6M456 723h4.6M440 727h8.6M436 731h4.6M432 735h4.6M428 739h4.6M160 743h4.6M172 743h4.6M424 747h4.6M424 751h4.6M176 755h4.6M180 767h4.6M420 767h4.6M184 775h4.6M188 779h4.6M416 779h4.6M188 783h4.6M188 787h4.6M412 787h4.6M412 791h4.6M184 795h4.6M412 795h4.6M180 799h4.6M176 803h4.6M168 807h4.6M168 811h4.6M168 815h4.6M416 815h4.6M168 819h4.6M416 819h4.6M416 823h4.6M416 827h8.6M112 831h4.6M416 831h8.6M112 835h4.6M416 835h8.6M112 839h4.6M160 839h4.6M420 839h4.6M112 843h4.6M156 843h4.6M420 843h4.6M156 847h4.6M232 847h8.6M276 847h4.6M424 847h4.6M116 851h4.6M228 851h4.6M296 851h8.6M428 851h4.6M224 855h4.6M312 855h4.6M432 855h4.6M128 859h4.6M156 859h4.6M224 859h4.6M436 859h4.6M316 863h4.6M436 863h4.6M164 867h4.6M220 867h4.6M436 867h4.6M168 871h4.6M224 871h4.6M312 871h4.6M436 871h4.6M140 875h4.6M188 875h8.6M228 875h4.6M436 875h4.6M140 879h4.6M192 879h4.6M232 879h4.6M432 879h4.6M192 883h4.6M236 883h4.6M432 883h4.6M176 887h4.6M188 887h4.6M244 887h4.6M432 887h4.6M144 891h4.6M164 891h8.6M248 891h4.6M432 891h4.6M432 895h4.6M260 899h4.6M432 899h4.6M432 903h4.6M432 907h4.6M272 911h4.6M308 911h4.6M428 911h8.6M272 915h4.6M428 915h8.6M272 919h4.6M320 919h4.6M432 919h4.6M272 923h4.6M336 923h4.6M432 923h4.6M272 927h4.6M344 927h4.6M436 927h4.6M272 931h4.6M348 931h4.6M440 931h4.6M272 935h4.6M352 935h4.6M444 935h4.6M272 939h4.6M352 939h4.6M448 939h8.6M272 943h4.6M356 943h4.6M456 943h8.6M272 947h4.6M360 947h4.6M464 947h12.6M272 951h8.6M364 951h4.6M472 951h12.6M276 955h8.6M364 955h4.6M480 955h12.6M284 959h4.6M368 959h4.6M284 963h8.6M368 963h4.6M288 967h4.6M372 967h4.6M292 971h4.6M372 971h4.6M296 975h4.6M300 979h4.6M304 983h4.6M376 983h4.6M308 987h4.6M376 987h4.6M380 999h4.6M316 1003h4.6M316 1007h4.6M384 1011h4.6M384 1015h4.6M384 1019h4.6M384 1023h4.6M384 1027h4.6M384 1031h4.6M384 1035h4.6M388 1043h4.6M392 1051h4.6M392 1055h4.6M392 1059h4.6M392 1063h4.6M392 1067h4.6"/>
<path stroke="#F8CB68" d="M516 659h4.6M512 691h4.6M512 695h4.6M508 699h4.6M504 703h4.6M496 707h8.6M488 711h8.6M472 715h12.6M440 719h4.6M460 719h8.6M436 723h20.6M432 727h8.6M432 731h4.6M428 735h4.6M152 743h8.6M424 743h4.6M176 751h4.6M420 759h4.6M180 763h4.6M420 763h4.6M184 771h4.6M188 775h4.6M416 775h4.6M412 783h4.6M188 791h4.6M184 799h4.6M412 799h4.6M180 803h4.6M412 803h4.6M172 807h4.6M412 807h4.6M412 811h4.6M412 815h4.6M412 819h4.6M172 823h4.6M412 823h4.6M172 827h4.6M412 827h4.6M108 831h4.6M172 831h4.6M412 831h4.6M108 835h4.6M168 835h4.6M412 835h4.6M108 839h4.6M164 839h4.6M412 839h8.6M160 843h4.6M260 843h8.6M416 843h4.6M112 847h4.6M228 847h4.6M280 847h8.6M416 847h8.6M156 851h4.6M224 851h4.6M304 851h4.6M420 851h8.6M156 855h4.6M316 855h8.6M424 855h8.6M220 859h4.6M320 859h4.6M428 859h8.6M160 863h4.6M220 863h4.6M432 863h4.6M136 867h4.6M216 867h4.6M316 867h4.6M432 867h4.6M172 871h24.6M216 871h8.6M432 871h4.6M196 875h4.6M220 875h8.6M432 875h4.6M196 879h4.6M228 879h4.6M308 879h4.6M428 879h4.6M140 883h4.6M428 883h4.6M240 887h4.6M428 887h4.6M172 891h4.6M428 891h4.6M148 895h16.6M252 895h4.6M428 895h4.6M428 899h4.6M264 903h4.6M428 903h4.6M268 907h4.6M428 907h4.6M424 911h4.6M312 915h4.6M424 915h4.6M324 919h4.6M424 919h8.6M340 923h4.6M428 923h4.6M348 927h4.6M428 927h8.6M352 931h4.6M432 931h8.6M356 935h4.6M440 935h4.6M268 939h4.6M356 939h8.6M444 939h4.6M268 943h4.6M360 943h8.6M452 943h4.6M268 947h4.6M364 947h4.6M456 947h8.6M268 951h4.6M368 951h4.6M464 951h8.6M272 955h4.6M368 955h8.6M468 955h12.6M276 959h8.6M372 959h4.6M476 959h8.6M280 963h4.6M372 963h4.6M284 967h4.6M376 967h4.6M288 971h4.6M376 971h4.6M292 975h4.6M376 975h4.6M296 979h4.6M376 979h4.6M380 991h4.6M312 995h4.6M380 995h4.6M384 1003h4.6M384 1007h4.6M316 1011h4.6M316 1015h4.6M316 1019h4.6M388 1039h4.6M392 1047h4.6M396 1055h4.6M396 1059h4.6M396 1063h8.6"/>
<path stroke="#F7C459" d="M512 659h4.6M512 663h4.6M512 667h4.6M512 671h4.6M512 675h4.6M512 679h4.6M512 683h4.6M512 687h4.6M508 691h4.6M508 695h4.6M504 699h4.6M496 703h8.6M488 707h8.6M476 711h12.6M436 715h8.6M464 715h8.6M432 719h8.6M444 719h16.6M432 723h4.6M428 727h4.6M428 731h4.6M424 735h4.6M160 739h16.6M424 739h4.6M176 747h4.6M420 751h4.6M420 755h4.6M180 759h4.6M416 771h4.6M192 779h4.6M412 779h4.6M192 783h4.6M192 787h4.6M188 795h4.6M188 799h4.6M184 803h4.6M176 807h8.6M408 807h4.6M172 811h4.6M408 811h4.6M172 815h4.6M408 815h4.6M172 819h4.6M408 819h4.6M408 823h4.6M408 827h4.6M408 831h4.6M172 835h4.6M408 835h4.6M168 839h4.6M408 839h4.6M108 843h4.6M164 843h4.6M228 843h32.6M268 843h8.6M408 843h8.6M160 847h4.6M224 847h4.6M288 847h8.6M412 847h4.6M112 851h4.6M220 851h4.6M308 851h8.6M412 851h8.6M116 855h4.6M220 855h4.6M324 855h4.6M416 855h8.6M124 859h4.6M160 859h4.6M216 859h4.6M420 859h8.6M132 863h4.6M164 863h4.6M216 863h4.6M320 863h4.6M424 863h8.6M168 867h4.6M188 867h8.6M208 867h8.6M424 867h8.6M136 871h4.6M196 871h20.6M424 871h8.6M200 875h20.6M424 875h8.6M200 879h4.6M224 879h4.6M424 879h4.6M196 883h4.6M232 883h4.6M308 883h4.6M424 883h4.6M140 887h4.6M192 887h4.6M424 887h4.6M140 891h4.6M176 891h12.6M244 891h4.6M424 891h4.6M144 895h4.6M164 895h4.6M424 895h4.6M256 899h4.6M424 899h4.6M260 903h4.6M424 903h4.6M264 907h4.6M308 907h4.6M424 907h4.6M268 911h4.6M420 911h4.6M268 915h4.6M316 915h4.6M420 915h4.6M328 919h8.6M420 919h4.6M344 923h8.6M420 923h8.6M268 927h4.6M352 927h4.6M424 927h4.6M268 931h4.6M356 931h4.6M428 931h4.6M268 935h4.6M360 935h4.6M432 935h8.6M364 939h4.6M440 939h4.6M264 943h4.6M368 943h4.6M444 943h8.6M264 947h4.6M368 947h8.6M452 947h4.6M372 951h4.6M456 951h8.6M268 955h4.6M376 955h4.6M464 955h4.6M272 959h4.6M376 959h4.6M468 959h8.6M276 963h4.6M376 963h4.6M472 963h8.6M280 967h4.6M284 971h4.6M380 971h4.6M288 975h4.6M380 975h4.6M292 979h4.6M380 979h4.6M300 983h4.6M380 983h4.6M304 987h4.6M380 987h4.6M308 991h4.6M312 999h4.6M384 999h4.6M388 1011h4.6M388 1015h4.6M312 1019h4.6M388 1019h4.6M388 1023h4.6M388 1031h4.6M388 1035h4.6M392 1043h4.6M396 1051h4.6M400 1055h4.6M400 1059h4.6"/>
<path stroke="#F6BE4B" d="M508 663h4.6M508 667h4.6M508 671h4.6M508 675h4.6M508 679h4.6M508 683h4.6M508 687h4.6M504 691h4.6M504 695h4.6M496 699h8.6M488 703h8.6M476 707h12.6M436 711h8.6M468 711h8.6M432 715h4.6M444 715h8.6M460 715h4.6M428 723h4.6M424 731h4.6M156 739h4.6M176 743h4.6M420 743h4.6M420 747h4.6M180 755h4.6M184 767h4.6M416 767h4.6M188 771h4.6M412 775h4.6M408 783h4.6M408 787h4.6M192 791h4.6M408 791h4.6M408 795h4.6M408 799h4.6M188 803h4.6M408 803h4.6M184 807h4.6M176 811h8.6M404 811h4.6M404 815h4.6M176 819h4.6M404 819h4.6M176 823h4.6M404 823h4.6M176 827h4.6M176 831h4.6M404 831h4.6M176 835h4.6M404 835h4.6M104 839h4.6M172 839h4.6M404 839h4.6M104 843h4.6M168 843h4.6M224 843h4.6M276 843h8.6M404 843h4.6M108 847h4.6M164 847h4.6M220 847h4.6M296 847h8.6M408 847h4.6M160 851h4.6M316 851h12.6M408 851h4.6M160 855h4.6M216 855h4.6M328 855h4.6M364 855h4.6M412 855h4.6M120 859h4.6M212 859h4.6M324 859h4.6M360 859h8.6M412 859h8.6M204 863h12.6M416 863h8.6M172 867h4.6M180 867h8.6M196 867h12.6M416 867h8.6M416 871h8.6M312 875h4.6M420 875h4.6M204 879h20.6M420 879h4.6M228 883h4.6M420 883h4.6M236 887h4.6M308 887h4.6M420 887h4.6M188 891h4.6M308 891h4.6M420 891h4.6M168 895h4.6M248 895h4.6M420 895h4.6M152 899h4.6M420 899h4.6M308 903h4.6M420 903h4.6M420 907h4.6M312 911h4.6M416 911h4.6M416 915h4.6M268 919h4.6M336 919h12.6M416 919h4.6M268 923h4.6M352 923h4.6M416 923h4.6M356 927h4.6M416 927h8.6M360 931h4.6M420 931h8.6M264 935h4.6M364 935h4.6M424 935h8.6M264 939h4.6M368 939h8.6M432 939h8.6M372 943h8.6M440 943h4.6M376 947h4.6M444 947h8.6M264 951h4.6M376 951h8.6M452 951h4.6M264 955h4.6M380 955h4.6M456 955h8.6M268 959h4.6M380 959h4.6M460 959h8.6M272 963h4.6M380 963h4.6M464 963h8.6M276 967h4.6M380 967h4.6M280 971h4.6M284 975h4.6M288 979h4.6M296 983h4.6M300 987h4.6M384 991h4.6M384 995h4.6M312 1003h4.6M388 1003h4.6M312 1007h4.6M388 1007h4.6M312 1011h4.6M312 1015h4.6M388 1027h4.6M392 1039h4.6M396 1047h4.6M400 1051h4.6M404 1055h4.6M404 1059h4.6"/>
<path stroke="#F6B83B" d="M508 655h4.6M508 659h4.6M504 683h4.6M504 687h4.6M500 691h4.6M496 695h8.6M492 699h4.6M480 703h8.6M468 707h8.6M432 711h4.6M444 711h4.6M460 711h8.6M428 715h4.6M452 715h8.6M428 719h4.6M424 723h4.6M424 727h4.6M420 735h4.6M152 739h4.6M176 739h4.6M420 739h4.6M180 751h4.6M416 759h4.6M184 763h4.6M416 763h4.6M412 771h4.6M192 775h4.6M408 779h4.6M196 783h4.6M192 795h4.6M192 799h4.6M192 803h4.6M404 803h4.6M188 807h4.6M404 807h4.6M184 811h8.6M176 815h8.6M400 815h4.6M180 819h4.6M400 819h4.6M180 823h4.6M400 823h4.6M180 827h4.6M400 827h8.6M180 831h8.6M400 831h4.6M180 835h4.6M400 835h4.6M176 839h8.6M220 839h24.6M396 839h8.6M172 843h4.6M216 843h8.6M284 843h4.6M396 843h8.6M216 847h4.6M304 847h4.6M400 847h8.6M108 851h4.6M164 851h4.6M216 851h4.6M328 851h4.6M360 851h12.6M404 851h4.6M112 855h4.6M212 855h4.6M356 855h8.6M368 855h8.6M404 855h8.6M164 859h4.6M208 859h4.6M328 859h4.6M356 859h4.6M368 859h4.6M408 859h4.6M128 863h4.6M168 863h4.6M184 863h20.6M356 863h16.6M408 863h8.6M132 867h4.6M176 867h4.6M412 867h4.6M316 871h4.6M412 871h4.6M136 875h4.6M412 875h8.6M136 879h4.6M416 879h4.6M200 883h4.6M224 883h4.6M416 883h4.6M196 887h4.6M416 887h4.6M240 891h4.6M416 891h4.6M140 895h4.6M172 895h8.6M308 895h4.6M416 895h4.6M148 899h4.6M156 899h8.6M252 899h4.6M308 899h4.6M416 899h4.6M256 903h4.6M416 903h4.6M412 907h8.6M264 911h4.6M412 911h4.6M320 915h4.6M412 915h4.6M348 919h8.6M408 919h8.6M356 923h4.6M408 923h8.6M360 927h4.6M408 927h8.6M264 931h4.6M364 931h8.6M408 931h12.6M368 935h12.6M412 935h12.6M260 939h4.6M376 939h8.6M420 939h12.6M260 943h4.6M380 943h8.6M432 943h8.6M260 947h4.6M380 947h8.6M440 947h4.6M260 951h4.6M384 951h4.6M444 951h8.6M260 955h4.6M384 955h4.6M448 955h8.6M264 959h4.6M384 959h4.6M456 959h4.6M268 963h4.6M384 963h4.6M460 963h4.6M272 967h4.6M384 967h4.6M464 967h4.6M272 971h8.6M384 971h4.6M280 975h4.6M384 975h4.6M284 979h4.6M384 979h4.6M288 983h8.6M384 983h4.6M296 987h4.6M384 987h4.6M304 991h4.6M308 995h4.6M388 999h4.6M308 1015h4.6M392 1015h4.6M392 1035h4.6M396 1043h4.6M400 1047h4.6M404 1051h8.6M408 1055h4.6"/>
<path stroke="#F7B21C" d="M504 655h4.6M504 659h4.6M504 663h4.6M504 667h4.6M504 671h4.6M504 675h4.6M504 679h4.6M500 683h4.6M500 687h4.6M496 691h4.6M492 695h4.6M484 699h8.6M468 703h12.6M432 707h16.6M460 707h8.6M428 711h4.6M448 711h12.6M424 719h4.6M420 731h4.6M164 735h8.6M180 747h4.6M416 747h4.6M416 751h4.6M416 755h4.6M184 759h4.6M188 767h4.6M408 775h4.6M196 779h4.6M196 787h4.6M196 791h4.6M404 795h4.6M404 799h4.6M192 807h4.6M400 807h4.6M192 811h4.6M400 811h4.6M184 815h8.6M184 819h8.6M396 819h4.6M184 823h8.6M396 823h4.6M184 827h8.6M396 827h4.6M188 831h4.6M392 831h8.6M184 835h12.6M220 835h12.6M388 835h12.6M184 839h8.6M216 839h4.6M244 839h36.6M388 839h8.6M176 843h16.6M212 843h4.6M288 843h12.6M384 843h12.6M104 847h4.6M168 847h4.6M212 847h4.6M308 847h4.6M320 847h8.6M364 847h36.6M208 851h8.6M332 851h4.6M356 851h4.6M372 851h32.6M164 855h4.6M204 855h8.6M332 855h4.6M348 855h8.6M376 855h8.6M400 855h4.6M188 859h20.6M348 859h8.6M372 859h8.6M404 859h4.6M172 863h4.6M180 863h4.6M324 863h4.6M352 863h4.6M372 863h4.6M404 863h4.6M320 867h4.6M356 867h16.6M408 867h4.6M408 871h4.6M408 875h4.6M312 879h4.6M408 879h8.6M136 883h4.6M204 883h20.6M408 883h8.6M136 887h4.6M232 887h4.6M408 887h8.6M136 891h4.6M192 891h4.6M408 891h8.6M180 895h4.6M244 895h4.6M412 895h4.6M144 899h4.6M164 899h4.6M408 899h8.6M408 903h8.6M260 907h4.6M312 907h4.6M408 907h4.6M316 911h4.6M404 911h8.6M264 915h4.6M324 915h20.6M404 915h8.6M264 919h4.6M356 919h4.6M400 919h8.6M264 923h4.6M360 923h4.6M396 923h12.6M264 927h4.6M364 927h12.6M392 927h16.6M372 931h36.6M260 935h4.6M380 935h32.6M384 939h36.6M256 943h4.6M388 943h12.6M416 943h16.6M256 947h4.6M388 947h8.6M428 947h12.6M256 951h4.6M388 951h8.6M436 951h8.6M388 955h4.6M444 955h4.6M260 959h4.6M388 959h4.6M448 959h8.6M264 963h4.6M388 963h4.6M452 963h8.6M264 967h8.6M388 967h4.6M456 967h8.6M268 971h4.6M388 971h4.6M272 975h8.6M388 975h4.6M276 979h8.6M284 983h4.6M288 987h8.6M300 991h4.6M388 991h4.6M388 995h4.6M392 1003h4.6M308 1007h4.6M392 1007h4.6M308 1011h4.6M392 1011h4.6M392 1019h4.6M392 1023h4.6M392 1027h4.6M392 1031h4.6M396 1039h4.6M400 1043h4.6M404 1047h8.6"/>
<path stroke="#F7AC00" d="M500 655h4.6M500 659h4.6M500 663h4.6M500 667h4.6M500 671h4.6M500 675h4.6M500 679h4.6M496 683h4.6M496 687h4.6M492 691h4.6M484 695h8.6M472 699h12.6M432 703h16.6M460 703h8.6M428 707h4.6M448 707h12.6M424 715h4.6M420 723h4.6M420 727h4.6M152 735h12.6M172 735h4.6M416 735h4.6M416 739h4.6M180 743h4.6M416 743h4.6M184 755h4.6M412 767h4.6M192 771h4.6M408 771h4.6M196 775h4.6M404 779h4.6M404 783h4.6M404 787h4.6M404 791h4.6M196 795h4.6M196 799h4.6M196 803h4.6M400 803h4.6M196 807h4.6M196 811h4.6M396 811h4.6M192 815h8.6M396 815h4.6M192 819h8.6M392 819h4.6M192 823h8.6M392 823h4.6M192 827h8.6M388 827h8.6M192 831h12.6M208 831h20.6M384 831h8.6M196 835h24.6M232 835h8.6M380 835h8.6M192 839h24.6M280 839h4.6M376 839h12.6M192 843h20.6M300 843h4.6M368 843h16.6M100 847h4.6M172 847h40.6M312 847h8.6M328 847h8.6M356 847h8.6M104 851h4.6M168 851h4.6M184 851h24.6M336 851h20.6M108 855h4.6M168 855h4.6M184 855h20.6M336 855h12.6M384 855h16.6M116 859h4.6M168 859h4.6M184 859h4.6M332 859h4.6M344 859h4.6M380 859h24.6M176 863h4.6M348 863h4.6M376 863h8.6M400 863h4.6M352 867h4.6M372 867h8.6M400 867h8.6M360 871h8.6M404 871h4.6M404 875h4.6M404 879h4.6M404 883h4.6M200 887h4.6M228 887h4.6M404 887h4.6M236 891h4.6M404 891h4.6M136 895h4.6M184 895h4.6M404 895h8.6M140 899h4.6M168 899h4.6M248 899h4.6M404 899h4.6M148 903h12.6M252 903h4.6M400 903h8.6M400 907h8.6M260 911h4.6M396 911h8.6M344 915h12.6M392 915h12.6M360 919h8.6M388 919h12.6M364 923h32.6M376 927h16.6M260 931h4.6M256 939h4.6M400 943h16.6M396 947h32.6M396 951h8.6M428 951h8.6M256 955h4.6M392 955h8.6M436 955h8.6M256 959h4.6M392 959h4.6M444 959h4.6M260 963h4.6M392 963h4.6M448 963h4.6M260 967h4.6M392 967h4.6M452 967h4.6M264 971h4.6M452 971h8.6M268 975h4.6M272 979h4.6M388 979h4.6M276 983h8.6M388 983h4.6M280 987h8.6M388 987h4.6M288 991h12.6M304 995h4.6M392 995h4.6M308 999h4.6M392 999h4.6M308 1003h4.6M304 1011h4.6M396 1035h4.6M400 1039h4.6M404 1043h12.6M412 1047h4.6"/>
<path stroke="#F5A200" d="M496 655h4.6M496 659h4.6M496 663h4.6M496 667h4.6M496 671h4.6M496 675h4.6M496 679h4.6M492 683h4.6M488 687h8.6M484 691h8.6M472 695h12.6M432 699h16.6M460 699h12.6M428 703h4.6M448 703h12.6M424 707h4.6M424 711h4.6M420 715h4.6M420 719h4.6M416 727h4.6M416 731h4.6M176 735h4.6M180 739h4.6M184 751h4.6M188 763h4.6M412 763h4.6M404 775h4.6M200 779h4.6M200 783h4.6M200 787h4.6M200 795h4.6M200 799h4.6M400 799h4.6M200 803h4.6M200 807h4.6M396 807h4.6M200 811h4.6M200 815h8.6M392 815h4.6M200 819h8.6M388 819h4.6M200 823h24.6M384 823h8.6M200 827h28.6M380 827h8.6M204 831h4.6M228 831h8.6M376 831h8.6M240 835h36.6M372 835h8.6M284 839h8.6M368 839h8.6M304 843h4.6M360 843h8.6M336 847h20.6M100 851h4.6M172 851h12.6M172 855h4.6M180 855h4.6M172 859h12.6M336 859h8.6M124 863h4.6M328 863h4.6M344 863h4.6M384 863h16.6M324 867h4.6M348 867h4.6M380 867h20.6M132 871h4.6M356 871h4.6M368 871h16.6M388 871h16.6M316 875h4.6M392 875h12.6M396 879h8.6M312 883h4.6M396 883h8.6M204 887h24.6M396 887h8.6M196 891h4.6M232 891h4.6M396 891h8.6M188 895h4.6M240 895h4.6M396 895h8.6M136 899h4.6M172 899h8.6M392 899h12.6M140 903h8.6M160 903h8.6M312 903h4.6M392 903h8.6M256 907h4.6M388 907h12.6M320 911h4.6M384 911h12.6M260 915h4.6M356 915h8.6M380 915h12.6M368 919h20.6M260 927h4.6M256 935h4.6M252 939h4.6M252 943h4.6M252 947h4.6M252 951h4.6M404 951h24.6M252 955h4.6M400 955h4.6M428 955h8.6M396 959h4.6M436 959h8.6M256 963h4.6M396 963h4.6M444 963h4.6M448 967h4.6M260 971h4.6M392 971h4.6M448 971h4.6M264 975h4.6M392 975h4.6M268 979h4.6M272 983h4.6M392 991h4.6M292 995h12.6M304 999h4.6M396 999h4.6M396 1003h4.6M304 1007h4.6M396 1007h4.6M396 1011h4.6M396 1015h4.6M396 1019h4.6M396 1023h4.6M396 1027h4.6M396 1031h4.6M400 1035h4.6M404 1039h16.6"/>
<path stroke="#F49A00" d="M492 655h4.6M492 659h4.6M492 663h4.6M492 667h4.6M492 671h4.6M492 675h4.6M492 679h4.6M488 683h4.6M484 687h4.6M472 691h12.6M432 695h40.6M428 699h4.6M448 699h12.6M424 703h4.6M420 711h4.6M416 719h4.6M416 723h4.6M312 727h8.6M312 731h8.6M312 735h12.6M316 739h8.6M412 743h4.6M184 747h4.6M412 747h4.6M412 751h4.6M412 755h4.6M188 759h4.6M412 759h4.6M192 767h4.6M408 767h4.6M196 771h4.6M404 771h4.6M200 791h4.6M400 791h4.6M400 795h4.6M204 803h4.6M396 803h4.6M204 807h4.6M392 807h4.6M204 811h8.6M392 811h4.6M208 815h12.6M388 815h4.6M208 819h20.6M384 819h4.6M224 823h8.6M380 823h4.6M228 827h8.6M372 827h8.6M236 831h12.6M368 831h8.6M276 835h8.6M368 835h4.6M292 839h12.6M364 839h4.6M308 843h4.6M320 843h16.6M352 843h8.6M104 855h4.6M176 855h4.6M112 859h4.6M332 863h12.6M128 867h4.6M320 871h4.6M352 871h4.6M384 871h4.6M132 875h4.6M356 875h36.6M384 879h12.6M388 883h8.6M132 887h4.6M312 887h4.6M388 887h8.6M132 891h4.6M200 891h4.6M228 891h4.6M388 891h8.6M132 895h4.6M192 895h4.6M388 895h8.6M180 899h4.6M244 899h4.6M312 899h4.6M384 899h8.6M168 903h4.6M384 903h8.6M144 907h16.6M316 907h4.6M380 907h8.6M324 911h4.6M340 911h16.6M376 911h8.6M364 915h16.6M260 919h4.6M260 923h4.6M256 931h4.6M404 955h24.6M252 959h4.6M400 959h8.6M432 959h4.6M252 963h4.6M400 963h4.6M436 963h8.6M256 967h4.6M396 967h4.6M440 967h8.6M256 971h4.6M396 971h4.6M444 971h4.6M260 975h4.6M444 975h8.6M392 979h4.6M448 979h4.6M392 983h4.6M448 983h4.6M392 987h4.6M448 987h4.6M396 991h4.6M396 995h8.6M296 999h8.6M400 999h4.6M300 1003h8.6M300 1007h4.6M420 1027h8.6M400 1031h4.6M416 1031h8.6M404 1035h16.6"/>
<path stroke="#F39200" d="M488 655h4.6M488 659h4.6M488 663h4.6M488 667h4.6M488 671h4.6M488 675h4.6M484 679h8.6M440 683h4.6M480 683h8.6M436 687h16.6M464 687h20.6M432 691h40.6M428 695h4.6M424 699h4.6M420 707h4.6M416 711h4.6M416 715h4.6M308 723h16.6M412 723h4.6M308 727h4.6M320 727h8.6M412 727h4.6M152 731h20.6M308 731h4.6M320 731h8.6M412 731h4.6M308 735h4.6M324 735h8.6M412 735h4.6M308 739h8.6M324 739h4.6M412 739h4.6M184 743h4.6M312 743h16.6M188 755h4.6M192 763h4.6M408 763h4.6M200 775h4.6M400 775h4.6M400 779h4.6M204 783h4.6M400 783h4.6M204 787h4.6M400 787h4.6M204 791h4.6M204 795h4.6M396 795h4.6M204 799h4.6M396 799h4.6M208 803h4.6M392 803h4.6M208 807h8.6M212 811h12.6M388 811h4.6M220 815h8.6M384 815h4.6M228 819h4.6M376 819h8.6M232 823h4.6M372 823h8.6M236 827h4.6M368 827h4.6M248 831h16.6M268 831h8.6M364 831h4.6M284 835h4.6M364 835h4.6M304 839h4.6M356 839h8.6M312 843h8.6M336 843h16.6M100 855h4.6M108 859h4.6M120 863h4.6M344 867h4.6M348 871h4.6M352 875h4.6M132 879h4.6M364 879h20.6M132 883h4.6M380 883h8.6M380 887h8.6M204 891h4.6M224 891h4.6M312 891h4.6M380 891h8.6M196 895h4.6M236 895h4.6M312 895h4.6M380 895h8.6M132 899h4.6M184 899h4.6M380 899h4.6M136 903h4.6M172 903h4.6M248 903h4.6M376 903h8.6M140 907h4.6M160 907h4.6M252 907h4.6M372 907h8.6M256 911h4.6M328 911h12.6M356 911h20.6M252 935h4.6M248 939h4.6M248 943h4.6M248 947h4.6M248 951h4.6M248 955h4.6M248 959h4.6M408 959h8.6M420 959h12.6M404 963h4.6M432 963h4.6M252 967h4.6M400 967h4.6M436 967h4.6M252 971h4.6M400 971h4.6M440 971h4.6M396 975h4.6M440 975h4.6M396 979h4.6M440 979h8.6M440 983h8.6M396 987h4.6M440 987h8.6M400 991h4.6M440 991h8.6M404 995h4.6M436 995h8.6M404 999h8.6M436 999h8.6M400 1003h8.6M412 1003h4.6M432 1003h8.6M400 1007h4.6M428 1007h8.6M400 1011h4.6M424 1011h12.6M400 1015h4.6M424 1015h8.6M400 1019h4.6M420 1019h12.6M400 1023h4.6M416 1023h12.6M400 1027h4.6M412 1027h8.6M404 1031h12.6"/>
<path stroke="#F28B00" d="M480 647h4.6M484 651h4.6M484 655h4.6M484 659h4.6M484 663h4.6M480 667h8.6M480 671h8.6M436 675h12.6M476 675h12.6M436 679h20.6M472 679h12.6M432 683h8.6M444 683h36.6M424 687h12.6M452 687h12.6M420 691h12.6M420 695h8.6M420 699h4.6M420 703h4.6M416 707h4.6M308 715h8.6M412 715h4.6M304 719h20.6M412 719h4.6M304 723h4.6M324 723h4.6M304 727h4.6M328 727h4.6M172 731h4.6M304 731h4.6M328 731h8.6M180 735h4.6M304 735h4.6M332 735h4.6M304 739h4.6M328 739h8.6M308 743h4.6M328 743h4.6M316 747h8.6M188 751h4.6M408 759h4.6M196 767h4.6M404 767h4.6M200 771h4.6M204 779h4.6M208 791h4.6M396 791h4.6M208 795h4.6M208 799h8.6M392 799h4.6M212 803h4.6M388 803h4.6M216 807h8.6M388 807h4.6M224 811h8.6M380 811h8.6M228 815h8.6M376 815h8.6M232 819h8.6M368 819h8.6M236 823h16.6M364 823h8.6M240 827h20.6M272 827h4.6M364 827h4.6M264 831h4.6M276 831h8.6M360 831h4.6M288 835h12.6M356 835h8.6M324 839h16.6M344 839h12.6M104 859h4.6M116 863h4.6M328 867h4.6M340 867h4.6M316 879h4.6M356 879h8.6M368 883h12.6M376 887h4.6M128 891h4.6M208 891h16.6M376 891h4.6M128 895h4.6M232 895h4.6M376 895h4.6M188 899h4.6M240 899h4.6M376 899h4.6M132 903h4.6M372 903h4.6M136 907h4.6M164 907h4.6M364 907h8.6M144 911h12.6M256 915h4.6M256 927h4.6M252 931h4.6M416 959h4.6M248 963h4.6M408 963h4.6M428 963h4.6M248 967h4.6M404 967h4.6M432 967h4.6M404 971h4.6M436 971h4.6M400 975h4.6M436 975h4.6M400 979h4.6M436 979h4.6M396 983h8.6M432 983h8.6M400 987h8.6M432 987h8.6M404 991h8.6M428 991h12.6M408 995h8.6M428 995h8.6M412 999h24.6M408 1003h4.6M416 1003h16.6M404 1007h24.6M412 1011h12.6M416 1015h8.6M412 1019h8.6M404 1023h12.6M404 1027h8.6"/>
<path stroke="#F18000" d="M472 643h4.6M476 647h4.6M476 651h8.6M476 655h8.6M476 659h8.6M476 663h8.6M472 667h8.6M432 671h24.6M468 671h12.6M428 675h8.6M448 675h28.6M424 679h12.6M456 679h16.6M412 683h20.6M408 687h16.6M408 691h12.6M408 695h12.6M412 699h8.6M412 703h8.6M412 707h4.6M300 711h16.6M412 711h4.6M300 715h8.6M316 715h12.6M408 715h4.6M300 719h4.6M324 719h8.6M408 719h4.6M300 723h4.6M328 723h8.6M408 723h4.6M148 727h8.6M300 727h4.6M332 727h8.6M408 727h4.6M176 731h4.6M300 731h4.6M336 731h8.6M408 731h4.6M300 735h4.6M336 735h4.6M408 735h4.6M184 739h4.6M300 739h4.6M336 739h4.6M408 739h4.6M300 743h8.6M332 743h4.6M408 743h4.6M188 747h4.6M304 747h12.6M324 747h8.6M408 747h4.6M408 751h4.6M192 755h4.6M408 755h4.6M192 759h4.6M400 771h4.6M204 775h4.6M396 779h4.6M208 783h4.6M396 783h4.6M208 787h4.6M396 787h4.6M212 791h4.6M212 795h4.6M392 795h4.6M216 799h4.6M388 799h4.6M216 803h8.6M224 807h4.6M380 807h8.6M232 811h4.6M376 811h4.6M236 815h16.6M368 815h8.6M240 819h16.6M364 819h4.6M252 823h8.6M272 823h8.6M260 827h12.6M276 827h4.6M360 827h4.6M284 831h4.6M356 831h4.6M300 835h4.6M348 835h8.6M308 839h16.6M340 839h4.6M100 859h4.6M124 867h4.6M332 867h8.6M128 871h4.6M324 871h4.6M344 871h4.6M364 883h4.6M128 887h4.6M368 887h8.6M372 891h4.6M200 895h4.6M228 895h4.6M372 895h4.6M128 899h4.6M192 899h4.6M236 899h4.6M372 899h4.6M128 903h4.6M176 903h8.6M244 903h4.6M316 903h4.6M368 903h4.6M132 907h4.6M168 907h4.6M248 907h4.6M320 907h4.6M348 907h16.6M136 911h8.6M156 911h8.6M252 911h4.6M256 919h4.6M256 923h4.6M248 935h4.6M244 943h4.6M244 947h4.6M244 951h4.6M244 955h4.6M244 959h4.6M244 963h4.6M412 963h16.6M244 967h4.6M408 967h4.6M428 967h4.6M408 971h4.6M432 971h4.6M404 975h8.6M432 975h4.6M404 979h8.6M428 979h8.6M404 983h8.6M424 983h8.6M408 987h8.6M424 987h8.6M412 991h16.6M416 995h12.6M404 1011h8.6M404 1015h12.6M404 1019h8.6"/>
<path stroke="#F07500" d="M468 643h4.6M464 647h12.6M464 651h12.6M464 655h12.6M440 659h36.6M432 663h44.6M424 667h48.6M420 671h12.6M456 671h12.6M412 675h16.6M408 679h16.6M404 683h8.6M404 687h4.6M404 691h4.6M404 695h4.6M404 699h8.6M404 703h8.6M300 707h20.6M404 707h8.6M296 711h4.6M316 711h24.6M408 711h4.6M296 715h4.6M328 715h12.6M296 719h4.6M332 719h12.6M296 723h4.6M336 723h8.6M156 727h8.6M296 727h4.6M340 727h8.6M404 727h4.6M296 731h4.6M344 731h4.6M296 735h4.6M340 735h4.6M296 739h4.6M340 739h4.6M188 743h4.6M296 743h4.6M336 743h4.6M300 747h4.6M332 747h4.6M192 751h4.6M300 751h32.6M304 755h24.6M196 763h4.6M404 763h4.6M200 767h4.6M400 767h4.6M204 771h4.6M396 775h4.6M208 779h4.6M212 783h4.6M212 787h4.6M392 787h4.6M392 791h4.6M216 795h4.6M388 795h4.6M220 799h4.6M384 799h4.6M224 803h4.6M380 803h8.6M228 807h8.6M376 807h4.6M236 811h8.6M372 811h4.6M252 815h8.6M364 815h4.6M256 819h24.6M360 819h4.6M260 823h12.6M280 823h4.6M360 823h4.6M280 827h4.6M356 827h4.6M288 831h8.6M352 831h4.6M304 835h4.6M328 835h20.6M108 863h8.6M320 875h4.6M348 875h4.6M352 879h4.6M128 883h4.6M360 883h4.6M364 887h4.6M368 891h4.6M124 895h4.6M204 895h24.6M368 895h4.6M124 899h4.6M196 899h4.6M316 899h4.6M368 899h4.6M124 903h4.6M184 903h4.6M360 903h8.6M128 907h4.6M172 907h4.6M324 907h4.6M336 907h12.6M132 911h4.6M164 911h4.6M140 915h20.6M252 927h4.6M248 931h4.6M244 939h4.6M240 951h4.6M240 955h4.6M240 959h4.6M240 963h4.6M412 967h16.6M412 971h4.6M428 971h4.6M412 975h4.6M424 975h8.6M412 979h16.6M412 983h12.6M416 987h8.6"/>
<path stroke="#EE6A00" d="M456 647h8.6M444 651h20.6M436 655h28.6M424 659h16.6M420 663h12.6M416 667h8.6M412 671h8.6M408 675h4.6M404 679h4.6M400 683h4.6M400 687h4.6M400 691h4.6M400 695h4.6M304 699h8.6M400 699h4.6M300 703h24.6M400 703h4.6M296 707h4.6M320 707h20.6M292 711h4.6M340 711h4.6M404 711h4.6M292 715h4.6M340 715h8.6M404 715h4.6M144 719h4.6M292 719h4.6M344 719h4.6M404 719h4.6M148 723h4.6M292 723h4.6M344 723h8.6M404 723h4.6M164 727h8.6M292 727h4.6M348 727h4.6M180 731h4.6M292 731h4.6M404 731h4.6M184 735h4.6M292 735h4.6M344 735h4.6M404 735h4.6M292 739h4.6M344 739h4.6M404 739h4.6M292 743h4.6M340 743h4.6M192 747h4.6M296 747h4.6M336 747h4.6M296 751h4.6M332 751h4.6M196 755h4.6M296 755h8.6M328 755h4.6M196 759h4.6M300 759h28.6M404 759h4.6M396 771h4.6M208 775h4.6M212 779h4.6M392 779h4.6M392 783h4.6M216 787h4.6M216 791h4.6M388 791h4.6M220 795h4.6M384 795h4.6M224 799h4.6M380 799h4.6M228 803h4.6M376 803h4.6M236 807h4.6M372 807h4.6M244 811h12.6M364 811h8.6M260 815h16.6M360 815h4.6M280 819h4.6M356 819h4.6M356 823h4.6M284 827h8.6M352 827h4.6M296 831h8.6M336 831h16.6M308 835h20.6M100 863h8.6M328 871h4.6M340 871h4.6M128 875h4.6M128 879h4.6M316 883h4.6M356 883h4.6M360 887h4.6M124 891h4.6M364 891h4.6M364 895h4.6M200 899h4.6M232 899h4.6M364 899h4.6M188 903h4.6M240 903h4.6M356 903h4.6M124 907h4.6M176 907h4.6M244 907h4.6M328 907h8.6M168 911h4.6M248 911h4.6M160 915h4.6M252 915h4.6M148 919h4.6M252 919h4.6M252 923h4.6M244 935h4.6M240 943h4.6M240 947h4.6M416 971h12.6M416 975h8.6"/>
<path stroke="#EC5E00" d="M108 663h4.6M396 679h8.6M396 683h4.6M396 687h4.6M396 691h4.6M300 695h16.6M396 695h4.6M296 699h8.6M312 699h16.6M396 699h4.6M132 703h4.6M292 703h8.6M324 703h16.6M292 707h4.6M340 707h8.6M400 707h4.6M288 711h4.6M344 711h8.6M400 711h4.6M140 715h4.6M284 715h8.6M348 715h4.6M400 715h4.6M148 719h4.6M284 719h8.6M348 719h4.6M400 719h4.6M152 723h8.6M284 723h8.6M352 723h4.6M400 723h4.6M172 727h4.6M284 727h8.6M400 727h4.6M284 731h8.6M348 731h4.6M288 735h4.6M348 735h4.6M188 739h4.6M288 739h4.6M348 739h4.6M288 743h4.6M344 743h4.6M404 743h4.6M292 747h4.6M340 747h4.6M404 747h4.6M196 751h4.6M292 751h4.6M336 751h4.6M404 751h4.6M292 755h4.6M332 755h4.6M404 755h4.6M200 759h4.6M296 759h4.6M328 759h4.6M200 763h4.6M296 763h32.6M400 763h4.6M204 767h4.6M304 767h4.6M208 771h4.6M212 775h4.6M392 775h4.6M216 783h4.6M388 783h4.6M220 787h4.6M388 787h4.6M220 791h4.6M384 791h4.6M224 795h4.6M380 795h4.6M228 799h4.6M376 799h4.6M232 803h8.6M372 803h4.6M240 807h12.6M368 807h4.6M256 811h8.6M360 811h4.6M276 815h4.6M356 815h4.6M352 819h4.6M284 823h4.6M352 823h4.6M292 827h4.6M340 827h12.6M304 831h4.6M324 831h12.6M120 867h4.6M332 871h8.6M344 875h4.6M348 879h4.6M352 883h4.6M124 887h4.6M316 887h4.6M356 887h4.6M120 891h4.6M316 891h4.6M360 891h4.6M120 895h4.6M316 895h4.6M360 895h4.6M120 899h4.6M204 899h4.6M224 899h8.6M360 899h4.6M120 903h4.6M192 903h4.6M236 903h4.6M320 903h4.6M348 903h8.6M180 907h4.6M164 915h4.6M152 919h8.6M248 927h4.6M244 931h4.6M240 939h4.6M236 951h4.6M236 955h4.6M236 959h4.6M236 963h4.6"/>
<path stroke="#E95200" d="M108 647h8.6M104 651h16.6M104 655h16.6M108 659h16.6M112 663h12.6M112 667h12.6M116 671h12.6M120 675h8.6M124 679h4.6M392 679h4.6M392 683h4.6M128 687h4.6M392 687h4.6M128 691h4.6M296 691h20.6M392 691h4.6M128 695h8.6M292 695h8.6M316 695h24.6M132 699h4.6M292 699h4.6M328 699h16.6M136 703h4.6M288 703h4.6M340 703h8.6M396 703h4.6M136 707h8.6M284 707h8.6M348 707h4.6M396 707h4.6M140 711h8.6M280 711h8.6M352 711h4.6M396 711h4.6M144 715h8.6M280 715h4.6M352 715h4.6M152 719h4.6M280 719h4.6M352 719h8.6M160 723h4.6M280 723h4.6M176 727h4.6M280 727h4.6M352 727h4.6M184 731h4.6M280 731h4.6M352 731h4.6M400 731h4.6M188 735h4.6M284 735h4.6M352 735h4.6M400 735h4.6M284 739h4.6M352 739h4.6M192 743h4.6M284 743h4.6M348 743h4.6M196 747h4.6M288 747h4.6M344 747h8.6M288 751h4.6M340 751h4.6M200 755h4.6M288 755h4.6M336 755h4.6M292 759h4.6M332 759h4.6M400 759h4.6M204 763h4.6M292 763h4.6M328 763h4.6M208 767h4.6M296 767h8.6M308 767h12.6M396 767h4.6M212 771h4.6M300 771h8.6M216 775h4.6M216 779h4.6M388 779h4.6M220 783h4.6M384 787h4.6M224 791h4.6M380 791h4.6M228 795h4.6M376 795h4.6M232 799h4.6M372 799h4.6M240 803h4.6M368 803h4.6M252 807h8.6M360 807h8.6M264 811h12.6M356 811h4.6M280 815h4.6M352 815h4.6M284 819h4.6M348 819h4.6M288 823h4.6M340 823h12.6M296 827h8.6M328 827h12.6M308 831h16.6M100 867h20.6M124 871h4.6M324 875h4.6M320 879h4.6M124 883h4.6M116 895h4.6M116 899h4.6M208 899h16.6M356 899h4.6M116 903h4.6M196 903h4.6M232 903h4.6M344 903h4.6M184 907h4.6M240 907h4.6M172 911h4.6M244 911h4.6M168 915h4.6M248 915h4.6M160 919h4.6M248 919h4.6M156 923h4.6M248 923h4.6M240 935h4.6M236 943h4.6M236 947h4.6M232 959h4.6"/>
<path stroke="#E54800" d="M120 635h4.6M116 639h12.6M112 643h20.6M116 647h16.6M120 651h12.6M120 655h12.6M124 659h12.6M124 663h12.6M124 667h12.6M128 671h8.6M128 675h8.6M128 679h8.6M388 679h4.6M128 683h8.6M308 683h4.6M388 683h4.6M132 687h8.6M292 687h28.6M388 687h4.6M132 691h8.6M288 691h8.6M316 691h28.6M136 695h4.6M288 695h4.6M340 695h8.6M392 695h4.6M136 699h8.6M284 699h8.6M344 699h8.6M392 699h4.6M140 703h4.6M280 703h8.6M348 703h8.6M392 703h4.6M144 707h4.6M276 707h8.6M352 707h8.6M392 707h4.6M148 711h4.6M276 711h4.6M356 711h4.6M276 715h4.6M356 715h8.6M396 715h4.6M156 719h4.6M276 719h4.6M360 719h4.6M396 719h4.6M164 723h8.6M276 723h4.6M356 723h4.6M396 723h4.6M180 727h4.6M276 727h4.6M356 727h4.6M396 727h4.6M276 731h4.6M356 731h4.6M276 735h8.6M192 739h4.6M280 739h4.6M400 739h4.6M196 743h4.6M280 743h4.6M352 743h4.6M400 743h4.6M284 747h4.6M352 747h4.6M400 747h4.6M200 751h4.6M284 751h4.6M344 751h12.6M204 755h4.6M400 755h4.6M204 759h4.6M288 759h4.6M336 759h4.6M208 763h4.6M288 763h4.6M332 763h4.6M396 763h4.6M212 767h4.6M292 767h4.6M320 767h8.6M216 771h4.6M296 771h4.6M308 771h4.6M392 771h4.6M388 775h4.6M220 779h4.6M224 783h4.6M384 783h4.6M224 787h4.6M380 787h4.6M228 791h4.6M376 791h4.6M232 795h4.6M372 795h4.6M236 799h4.6M368 799h4.6M244 803h8.6M364 803h4.6M260 807h12.6M356 807h4.6M276 811h8.6M352 811h4.6M284 815h4.6M348 815h4.6M288 819h4.6M340 819h8.6M292 823h4.6M332 823h8.6M304 827h8.6M320 827h8.6M100 871h4.6M340 875h4.6M348 883h4.6M120 887h4.6M352 887h4.6M116 891h4.6M356 891h4.6M112 895h4.6M356 895h4.6M112 899h4.6M320 899h4.6M352 899h4.6M200 903h4.6M228 903h4.6M324 903h4.6M336 903h8.6M188 907h4.6M176 911h4.6M172 915h4.6M164 919h4.6M160 923h4.6M244 923h4.6M244 927h4.6M240 931h4.6M236 939h4.6M232 947h4.6M232 951h4.6M232 955h4.6"/>
<path stroke="#DE3F00" d="M128 631h8.6M124 635h16.6M128 639h12.6M132 643h12.6M132 647h12.6M132 651h12.6M132 655h12.6M136 659h8.6M136 663h8.6M136 667h8.6M136 671h8.6M136 675h8.6M136 679h8.6M300 679h20.6M376 679h12.6M136 683h8.6M292 683h16.6M312 683h12.6M336 683h12.6M380 683h8.6M140 687h4.6M288 687h4.6M320 687h32.6M380 687h8.6M140 691h4.6M284 691h4.6M344 691h8.6M384 691h8.6M140 695h8.6M284 695h4.6M348 695h12.6M388 695h4.6M144 699h4.6M280 699h4.6M352 699h16.6M388 699h4.6M144 703h4.6M276 703h4.6M356 703h12.6M388 703h4.6M148 707h4.6M272 707h4.6M360 707h8.6M152 711h4.6M272 711h4.6M360 711h8.6M392 711h4.6M152 715h4.6M272 715h4.6M364 715h4.6M392 715h4.6M160 719h4.6M268 719h8.6M172 723h4.6M272 723h4.6M360 723h4.6M272 727h4.6M360 727h4.6M188 731h4.6M272 731h4.6M396 731h4.6M192 735h4.6M272 735h4.6M356 735h4.6M396 735h4.6M196 739h4.6M276 739h4.6M356 739h4.6M276 743h4.6M356 743h4.6M200 747h4.6M280 747h4.6M356 747h4.6M204 751h4.6M400 751h4.6M208 755h4.6M284 755h4.6M340 755h16.6M208 759h8.6M284 759h4.6M396 759h4.6M212 763h4.6M336 763h4.6M216 767h4.6M288 767h4.6M328 767h4.6M392 767h4.6M220 771h4.6M292 771h4.6M312 771h8.6M220 775h4.6M296 775h16.6M224 779h4.6M384 779h4.6M380 783h4.6M228 787h4.6M376 787h4.6M232 791h4.6M372 791h4.6M236 795h4.6M368 795h4.6M240 799h8.6M364 799h4.6M252 803h12.6M356 803h8.6M272 807h8.6M352 807h4.6M348 811h4.6M340 815h8.6M292 819h4.6M332 819h8.6M296 823h8.6M324 823h8.6M312 827h8.6M104 871h4.6M100 875h4.6M124 875h4.6M328 875h4.6M124 879h4.6M344 879h4.6M116 887h4.6M112 891h4.6M352 891h4.6M108 895h4.6M352 895h4.6M348 899h4.6M204 903h4.6M220 903h8.6M328 903h8.6M192 907h4.6M232 907h8.6M180 911h4.6M240 911h4.6M244 915h4.6M168 919h4.6M244 919h4.6M164 923h4.6M240 927h4.6M236 931h4.6M236 935h4.6M232 939h4.6M232 943h4.6M228 951h4.6M228 955h4.6"/>
<path stroke="#D53500" d="M132 627h12.6M136 631h12.6M140 635h8.6M140 639h12.6M144 643h8.6M144 647h8.6M144 651h4.6M144 655h4.6M144 659h4.6M144 663h4.6M144 667h4.6M144 671h4.6M304 671h48.6M144 675h4.6M296 675h80.6M144 679h4.6M292 679h8.6M320 679h56.6M144 683h4.6M288 683h4.6M324 683h12.6M348 683h32.6M144 687h4.6M284 687h4.6M352 687h28.6M144 691h8.6M280 691h4.6M352 691h32.6M148 695h4.6M280 695h4.6M360 695h28.6M148 699h4.6M276 699h4.6M368 699h20.6M148 703h8.6M272 703h4.6M368 703h8.6M384 703h4.6M152 707h4.6M268 707h4.6M368 707h4.6M388 707h4.6M156 711h4.6M268 711h4.6M368 711h4.6M388 711h4.6M156 715h8.6M268 715h4.6M368 715h4.6M164 719h4.6M264 719h4.6M364 719h4.6M392 719h4.6M176 723h4.6M264 723h8.6M364 723h4.6M392 723h4.6M184 727h4.6M268 727h4.6M364 727h4.6M392 727h4.6M268 731h4.6M360 731h4.6M268 735h4.6M360 735h4.6M272 739h4.6M396 739h4.6M200 743h4.6M272 743h4.6M396 743h4.6M204 747h8.6M276 747h4.6M396 747h4.6M208 751h8.6M280 751h4.6M356 751h4.6M396 751h4.6M212 755h4.6M280 755h4.6M396 755h4.6M216 759h4.6M340 759h4.6M216 763h8.6M284 763h4.6M392 763h4.6M220 767h4.6M332 767h4.6M224 771h4.6M288 771h4.6M320 771h12.6M388 771h4.6M224 775h4.6M292 775h4.6M312 775h4.6M384 775h4.6M228 779h4.6M380 779h4.6M228 783h4.6M376 783h4.6M232 787h4.6M372 787h4.6M236 791h4.6M368 791h4.6M240 795h4.6M364 795h4.6M248 799h4.6M356 799h8.6M264 803h12.6M352 803h4.6M280 807h4.6M348 807h4.6M284 811h4.6M340 811h8.6M288 815h4.6M336 815h4.6M296 819h4.6M328 819h4.6M304 823h20.6M108 871h8.6M120 871h4.6M104 875h4.6M332 875h8.6M100 879h4.6M120 883h4.6M320 883h4.6M104 887h12.6M348 887h4.6M104 891h8.6M320 895h4.6M344 899h4.6M208 903h12.6M196 907h4.6M224 907h8.6M184 911h4.6M236 911h4.6M176 915h4.6M240 915h4.6M172 919h4.6M240 919h4.6M168 923h4.6M240 923h4.6M164 927h4.6M236 927h4.6M232 935h4.6M228 943h4.6M228 947h4.6M224 955h4.6"/>
<path stroke="#CC2C00" d="M140 623h12.6M144 627h8.6M148 631h4.6M148 635h8.6M152 639h4.6M152 643h4.6M152 647h4.6M148 651h8.6M148 655h8.6M148 659h8.6M148 663h8.6M300 663h20.6M148 667h8.6M296 667h28.6M148 671h4.6M292 671h12.6M148 675h4.6M288 675h8.6M148 679h4.6M288 679h4.6M148 683h8.6M284 683h4.6M148 687h8.6M280 687h4.6M152 691h4.6M152 695h4.6M276 695h4.6M152 699h4.6M272 699h4.6M156 703h4.6M268 703h4.6M376 703h8.6M156 707h4.6M372 707h16.6M160 711h4.6M264 711h4.6M372 711h16.6M164 715h4.6M264 715h4.6M372 715h4.6M388 715h4.6M168 719h4.6M368 719h4.6M388 719h4.6M180 723h4.6M368 723h4.6M188 727h4.6M264 727h4.6M192 731h4.6M264 731h4.6M364 731h4.6M392 731h4.6M196 735h4.6M264 735h4.6M392 735h4.6M200 739h4.6M268 739h4.6M360 739h4.6M204 743h8.6M268 743h4.6M360 743h4.6M212 747h4.6M272 747h4.6M360 747h4.6M216 751h4.6M276 751h4.6M216 755h8.6M356 755h4.6M392 755h4.6M220 759h8.6M280 759h4.6M344 759h12.6M392 759h4.6M224 763h4.6M340 763h4.6M224 767h4.6M284 767h4.6M336 767h4.6M388 767h4.6M284 771h4.6M332 771h4.6M228 775h4.6M288 775h4.6M316 775h8.6M288 779h20.6M232 783h4.6M372 783h4.6M236 787h4.6M368 787h4.6M240 791h4.6M364 791h4.6M244 795h4.6M356 795h8.6M252 799h24.6M352 799h4.6M276 803h8.6M344 803h8.6M284 807h4.6M340 807h8.6M288 811h4.6M336 811h4.6M292 815h4.6M328 815h8.6M300 819h4.6M320 819h8.6M116 871h4.6M108 875h4.6M104 879h8.6M120 879h4.6M324 879h4.6M340 879h4.6M104 883h16.6M344 883h4.6M320 887h4.6M320 891h4.6M348 891h4.6M348 895h4.6M324 899h4.6M340 899h4.6M200 907h8.6M220 907h4.6M188 911h4.6M228 911h8.6M180 915h4.6M232 915h8.6M176 919h4.6M236 919h4.6M172 923h4.6M236 923h4.6M168 927h4.6M232 927h4.6M232 931h4.6M228 939h4.6M224 947h4.6M224 951h4.6"/>
<path stroke="#C12300" d="M148 619h8.6M152 623h4.6M152 627h8.6M152 631h8.6M156 635h4.6M156 639h4.6M156 643h4.6M156 647h4.6M156 651h4.6M156 655h4.6M300 655h4.6M156 659h4.6M296 659h16.6M156 663h4.6M292 663h8.6M156 667h4.6M288 667h8.6M152 671h8.6M288 671h4.6M152 675h8.6M284 675h4.6M152 679h8.6M284 679h4.6M156 683h4.6M280 683h4.6M156 687h4.6M156 691h4.6M276 691h4.6M156 695h4.6M272 695h4.6M156 699h4.6M268 699h4.6M160 703h4.6M160 707h4.6M264 707h4.6M164 711h4.6M168 715h4.6M260 715h4.6M376 715h12.6M172 719h4.6M260 719h4.6M372 719h8.6M384 719h4.6M184 723h4.6M260 723h4.6M372 723h4.6M388 723h4.6M192 727h4.6M256 727h8.6M368 727h4.6M388 727h4.6M196 731h4.6M260 731h4.6M368 731h4.6M388 731h4.6M200 735h4.6M260 735h4.6M364 735h4.6M204 739h8.6M260 739h8.6M364 739h4.6M392 739h4.6M212 743h8.6M264 743h4.6M392 743h4.6M216 747h8.6M268 747h4.6M392 747h4.6M220 751h8.6M272 751h4.6M360 751h4.6M392 751h4.6M224 755h4.6M276 755h4.6M228 759h4.6M356 759h4.6M228 763h4.6M280 763h4.6M344 763h8.6M388 763h4.6M228 767h4.6M280 767h4.6M340 767h8.6M228 771h4.6M336 771h8.6M384 771h4.6M232 775h4.6M284 775h4.6M324 775h12.6M380 775h4.6M232 779h4.6M284 779h4.6M308 779h4.6M376 779h4.6M236 783h4.6M288 783h12.6M368 783h4.6M360 787h8.6M356 791h8.6M248 795h4.6M348 795h8.6M276 799h8.6M344 799h8.6M284 803h4.6M340 803h4.6M288 807h4.6M336 807h4.6M292 811h4.6M332 811h4.6M296 815h4.6M324 815h4.6M304 819h16.6M112 875h4.6M120 875h4.6M112 879h8.6M344 887h4.6M344 895h4.6M328 899h12.6M208 907h12.6M192 911h4.6M224 911h4.6M184 915h4.6M228 915h4.6M180 919h4.6M228 919h8.6M176 923h4.6M232 923h4.6M172 927h4.6M228 931h4.6M228 935h4.6M224 939h4.6M224 943h4.6M220 947h4.6M220 951h4.6"/>
<path stroke="#B61A00" d="M156 619h4.6M156 623h8.6M160 627h4.6M160 631h4.6M160 635h4.6M160 639h4.6M160 643h4.6M160 647h4.6M160 651h4.6M292 651h8.6M160 655h4.6M292 655h8.6M160 659h4.6M288 659h8.6M160 663h4.6M288 663h4.6M160 667h4.6M284 667h4.6M160 671h4.6M284 671h4.6M160 675h4.6M280 675h4.6M160 679h4.6M280 679h4.6M160 683h4.6M160 687h4.6M276 687h4.6M160 691h4.6M272 691h4.6M160 695h4.6M268 695h4.6M160 699h4.6M264 699h4.6M164 703h4.6M264 703h4.6M164 707h4.6M260 707h4.6M168 711h4.6M260 711h4.6M172 715h4.6M256 715h4.6M176 719h8.6M256 719h4.6M380 719h4.6M188 723h4.6M256 723h4.6M376 723h12.6M252 727h4.6M372 727h16.6M200 731h4.6M252 731h8.6M372 731h4.6M384 731h4.6M204 735h4.6M252 735h8.6M368 735h4.6M388 735h4.6M212 739h8.6M256 739h4.6M388 739h4.6M220 743h8.6M260 743h4.6M364 743h4.6M388 743h4.6M224 747h4.6M264 747h4.6M364 747h4.6M228 751h4.6M268 751h4.6M388 751h4.6M228 755h4.6M272 755h4.6M360 755h4.6M388 755h4.6M276 759h4.6M388 759h4.6M232 763h4.6M352 763h4.6M232 767h4.6M348 767h4.6M384 767h4.6M232 771h4.6M280 771h4.6M344 771h4.6M380 771h4.6M280 775h4.6M336 775h8.6M376 775h4.6M236 779h4.6M280 779h4.6M312 779h12.6M328 779h4.6M368 779h8.6M280 783h8.6M300 783h4.6M360 783h8.6M240 787h4.6M280 787h16.6M352 787h8.6M244 791h4.6M276 791h16.6M348 791h8.6M252 795h36.6M344 795h4.6M284 799h8.6M340 799h4.6M288 803h4.6M336 803h4.6M292 807h4.6M332 807h4.6M296 811h4.6M324 811h8.6M300 815h4.6M316 815h8.6M116 875h4.6M328 879h12.6M340 883h4.6M344 891h4.6M324 895h4.6M340 895h4.6M196 911h8.6M220 911h4.6M188 915h4.6M224 915h4.6M184 919h4.6M224 919h4.6M180 923h4.6M228 923h4.6M176 927h4.6M228 927h4.6M176 931h4.6M224 935h4.6M220 943h4.6M216 951h4.6"/>
<path stroke="#AE1300" d="M160 615h8.6M160 619h8.6M164 623h4.6M164 627h4.6M164 631h4.6M164 635h4.6M164 639h4.6M164 643h4.6M164 647h4.6M288 647h4.6M164 651h4.6M288 651h4.6M164 655h4.6M284 655h8.6M164 659h4.6M284 659h4.6M164 663h4.6M284 663h4.6M164 667h4.6M280 667h4.6M164 671h4.6M280 671h4.6M164 675h4.6M276 675h4.6M164 679h4.6M276 679h4.6M164 683h4.6M276 683h4.6M164 687h4.6M272 687h4.6M164 691h4.6M268 691h4.6M164 695h4.6M264 695h4.6M164 699h4.6M168 703h4.6M260 703h4.6M168 707h8.6M172 711h4.6M256 711h4.6M176 715h8.6M184 719h8.6M252 719h4.6M192 723h4.6M248 723h8.6M196 727h4.6M248 727h4.6M204 731h4.6M244 731h8.6M376 731h8.6M208 735h12.6M236 735h16.6M372 735h16.6M220 739h36.6M368 739h4.6M384 739h4.6M228 743h12.6M252 743h8.6M368 743h4.6M228 747h8.6M260 747h4.6M388 747h4.6M232 751h4.6M264 751h4.6M364 751h4.6M232 755h4.6M268 755h4.6M232 759h4.6M272 759h4.6M360 759h4.6M384 759h4.6M276 763h4.6M356 763h4.6M384 763h4.6M236 767h4.6M276 767h4.6M352 767h4.6M380 767h4.6M236 771h4.6M276 771h4.6M348 771h4.6M376 771h4.6M236 775h4.6M344 775h8.6M368 775h8.6M240 779h4.6M276 779h4.6M324 779h4.6M332 779h36.6M240 783h4.6M276 783h4.6M304 783h8.6M332 783h28.6M244 787h4.6M272 787h8.6M296 787h4.6M340 787h12.6M248 791h8.6M264 791h12.6M292 791h4.6M340 791h8.6M288 795h4.6M336 795h8.6M336 799h4.6M292 803h4.6M332 803h4.6M296 807h4.6M328 807h4.6M300 811h4.6M320 811h4.6M304 815h12.6M324 883h4.6M340 887h4.6M336 895h4.6M204 911h8.6M216 911h4.6M192 915h4.6M220 915h4.6M184 923h4.6M224 923h4.6M180 927h4.6M224 927h4.6M180 931h4.6M224 931h4.6M220 935h4.6M220 939h4.6M216 943h4.6M212 947h8.6"/>
<path stroke="#9E060F" d="M172 611h4.6M168 615h4.6M168 619h4.6M168 623h4.6M168 627h4.6M168 631h4.6M168 635h4.6M168 639h4.6M168 643h4.6M280 643h4.6M168 647h4.6M280 647h8.6M168 651h4.6M280 651h8.6M168 655h4.6M280 655h4.6M168 659h4.6M280 659h4.6M168 663h4.6M280 663h4.6M168 667h4.6M276 667h4.6M168 671h4.6M276 671h4.6M168 675h4.6M272 675h4.6M168 679h4.6M272 679h4.6M272 683h4.6M168 687h4.6M268 687h4.6M168 691h4.6M264 691h4.6M168 695h4.6M260 695h4.6M168 699h4.6M260 699h4.6M172 703h4.6M176 707h4.6M256 707h4.6M176 711h8.6M252 711h4.6M184 715h4.6M248 715h8.6M192 719h4.6M248 719h4.6M196 723h4.6M244 723h4.6M200 727h4.6M240 727h8.6M208 731h8.6M228 731h16.6M220 735h16.6M372 739h12.6M240 743h12.6M372 743h4.6M384 743h4.6M236 747h8.6M248 747h12.6M368 747h4.6M384 747h4.6M236 751h4.6M260 751h4.6M384 751h4.6M236 755h4.6M264 755h4.6M364 755h4.6M384 755h4.6M236 759h4.6M364 759h4.6M236 763h4.6M272 763h4.6M360 763h4.6M380 763h4.6M356 767h8.6M376 767h4.6M240 771h4.6M352 771h24.6M240 775h4.6M276 775h4.6M352 775h16.6M244 783h4.6M272 783h4.6M312 783h20.6M248 787h4.6M268 787h4.6M300 787h4.6M332 787h8.6M256 791h8.6M296 791h4.6M332 791h8.6M292 795h4.6M332 795h4.6M292 799h4.6M328 799h8.6M296 803h4.6M328 803h4.6M324 807h4.6M304 811h16.6M336 883h4.6M324 887h4.6M324 891h4.6M340 891h4.6M328 895h8.6M212 911h4.6M196 915h8.6M216 915h4.6M188 919h4.6M220 919h4.6M188 923h4.6M220 923h4.6M184 927h4.6M220 927h4.6M184 931h4.6M220 931h4.6M216 939h4.6M212 943h4.6M208 947h4.6"/>
<path stroke="#90001C" d="M176 611h8.6M172 615h8.6M172 619h8.6M172 623h4.6M172 627h4.6M172 631h4.6M172 635h4.6M272 639h4.6M272 643h8.6M172 647h4.6M272 647h8.6M172 651h4.6M272 651h8.6M172 655h4.6M272 655h8.6M172 659h4.6M272 659h8.6M172 663h4.6M272 663h8.6M172 667h4.6M272 667h4.6M172 671h4.6M268 671h8.6M172 675h4.6M268 675h4.6M268 679h4.6M168 683h4.6M264 683h8.6M260 687h8.6M256 691h8.6M172 695h4.6M256 695h4.6M172 699h4.6M256 699h4.6M176 703h8.6M256 703h4.6M180 707h8.6M252 707h4.6M184 711h8.6M248 711h4.6M188 715h8.6M244 715h4.6M196 719h4.6M240 719h8.6M200 723h4.6M236 723h8.6M204 727h8.6M228 727h12.6M216 731h12.6M376 743h8.6M244 747h4.6M372 747h4.6M380 747h4.6M240 751h20.6M368 751h4.6M380 751h4.6M240 755h4.6M260 755h4.6M368 755h4.6M380 755h4.6M240 759h4.6M268 759h4.6M380 759h4.6M240 763h4.6M364 763h4.6M376 763h4.6M240 767h4.6M272 767h4.6M364 767h12.6M272 771h4.6M244 775h4.6M272 775h4.6M244 779h4.6M272 779h4.6M248 783h4.6M268 783h4.6M252 787h16.6M304 787h4.6M324 787h8.6M328 791h4.6M296 795h4.6M328 795h4.6M296 799h4.6M324 799h4.6M324 803h4.6M300 807h8.6M316 807h8.6M328 883h8.6M336 887h4.6M336 891h4.6M204 915h12.6M192 919h8.6M216 919h4.6M192 923h4.6M188 927h4.6M188 931h4.6M216 931h4.6M184 935h8.6M216 935h4.6M212 939h4.6M204 943h8.6"/>
<path stroke="#870021" d="M184 607h4.6M184 611h8.6M180 615h12.6M180 619h8.6M176 623h8.6M176 627h4.6M176 631h4.6M264 635h4.6M172 639h4.6M264 639h8.6M172 643h4.6M264 643h8.6M264 647h8.6M176 651h4.6M264 651h8.6M176 655h4.6M264 655h8.6M176 659h4.6M268 659h4.6M176 663h4.6M264 663h8.6M176 667h4.6M264 667h8.6M176 671h4.6M260 671h8.6M256 675h12.6M172 679h4.6M256 679h12.6M172 683h4.6M256 683h8.6M172 687h4.6M252 687h8.6M172 691h4.6M252 691h4.6M176 695h4.6M252 695h4.6M176 699h8.6M252 699h4.6M184 703h4.6M252 703h4.6M188 707h4.6M248 707h4.6M192 711h4.6M240 711h8.6M196 715h4.6M236 715h8.6M200 719h4.6M232 719h8.6M204 723h8.6M224 723h12.6M212 727h16.6M376 747h4.6M372 751h8.6M244 755h16.6M372 755h8.6M244 759h24.6M368 759h12.6M244 763h8.6M268 763h4.6M368 763h8.6M244 767h4.6M268 767h4.6M244 771h4.6M268 771h4.6M248 775h4.6M268 775h4.6M248 779h4.6M268 779h4.6M252 783h16.6M308 787h16.6M300 791h4.6M324 791h4.6M300 795h4.6M324 795h4.6M300 799h4.6M320 799h4.6M300 803h4.6M316 803h8.6M308 807h8.6M328 887h8.6M328 891h8.6M200 919h16.6M196 923h4.6M216 923h4.6M192 927h4.6M216 927h4.6M192 931h4.6M192 935h4.6M212 935h4.6M192 939h20.6M200 943h4.6"/>
<path stroke="#7F0024" d="M192 615h4.6M188 619h12.6M184 623h12.6M180 627h12.6M180 631h4.6M176 635h8.6M248 635h16.6M176 639h4.6M252 639h12.6M176 643h4.6M252 643h12.6M176 647h8.6M256 647h8.6M180 651h4.6M256 651h8.6M180 655h4.6M256 655h8.6M180 659h4.6M260 659h8.6M180 663h4.6M260 663h4.6M180 667h4.6M256 667h8.6M180 671h4.6M252 671h8.6M176 675h4.6M248 675h8.6M176 679h4.6M248 679h8.6M176 683h8.6M248 683h8.6M176 687h8.6M244 687h8.6M176 691h8.6M244 691h8.6M180 695h8.6M244 695h8.6M184 699h8.6M244 699h8.6M188 703h8.6M240 703h12.6M192 707h8.6M236 707h12.6M196 711h8.6M232 711h8.6M200 715h8.6M228 715h8.6M204 719h12.6M220 719h12.6M212 723h12.6M252 763h16.6M248 767h8.6M264 767h4.6M248 771h8.6M264 771h4.6M252 775h4.6M264 775h4.6M252 779h16.6M304 791h20.6M304 795h4.6M320 795h4.6M304 799h4.6M316 799h4.6M304 803h12.6M200 923h16.6M196 927h4.6M212 927h4.6M196 931h8.6M208 931h8.6M196 935h16.6"/>
<path stroke="#7E0025" d="M196 623h4.6M192 627h24.6M184 631h40.6M184 635h64.6M180 639h16.6M220 639h32.6M180 643h12.6M228 643h24.6M184 647h12.6M236 647h20.6M184 651h12.6M240 651h16.6M184 655h12.6M240 655h16.6M184 659h12.6M244 659h16.6M184 663h12.6M244 663h16.6M184 667h8.6M240 667h16.6M184 671h8.6M240 671h12.6M180 675h12.6M236 675h12.6M180 679h12.6M236 679h12.6M184 683h12.6M232 683h16.6M184 687h12.6M232 687h12.6M184 691h16.6M232 691h12.6M188 695h12.6M228 695h16.6M192 699h12.6M228 699h16.6M196 703h12.6M224 703h16.6M200 707h16.6M224 707h12.6M204 711h28.6M208 715h20.6M216 719h4.6M256 767h8.6M256 771h8.6M256 775h8.6M308 795h12.6M308 799h8.6M200 927h12.6M204 931h4.6"/>
<path stroke="#7D0025" d="M196 639h24.6M192 643h36.6M196 647h40.6M196 651h44.6M196 655h44.6M196 659h48.6M196 663h48.6M192 667h48.6M192 671h48.6M192 675h44.6M192 679h44.6M196 683h36.6M196 687h36.6M200 691h32.6M200 695h28.6M204 699h24.6M208 703h16.6M216 707h8.6"/>
</g>
</g></g>
<path d="M341.8 950.6L350.9 942.5L368.9 940.5L372.9 950.6L379 960.6L383 972.6L387 980.7L376.9 981.7L360.9 980.7L350.9 970.6L346.8 960.6Z" fill="#7F7F7F" stroke="#9C9C9C" stroke-width="2" stroke-linejoin="round"/>
<path d="M164.2 730.4L170.2 724.4L176.3 728.4L180.3 736.4L184.3 754.5L188.3 760.5L196.3 764.5L206.4 770.5L212.4 778.6L220.4 786.6L230.4 796.6L240.5 806.7L243.5 808.7M252.5 734.4L256.5 740.4L250.5 746.5L247.5 754.5L246.5 764.5L240.5 772.5L234.4 776.6L238.5 782.6L242.5 786.6L241.5 800.6L243.5 808.7M256.5 730.4L262.5 740.4L268.6 752.5L280.6 758.5L286.6 766.5L292.6 772.5L302.7 782.6L316.7 780.6L322.7 786.6L326.8 796.6L328.8 809.7L320.7 812.7L308.7 816.7L292.6 819.7L280.6 812.7L266.6 812.7L260.5 806.7L243.5 808.7M322.7 786.6L340.8 768.5L360.9 758.5L374.9 750.5M394 687.3L395 704.3L380.9 712.3L376.9 726.4L370.9 730.4L372.9 742.4L374.9 750.5L380.9 758.5L391 768.5L400 776.6M328.8 809.7L328.8 814.7L300.7 824.7L301.7 832.7L292.6 828.7L290.6 820.7L266.6 818.7L270.6 812.7M328.8 814.7L332.8 824.7L338.8 836.8L344.8 846M243.5 808.7L236.5 814.7L232.4 826.7L234.4 836.8L228.4 846M206.4 770.5L203.3 784.6L199.3 802.6L201.3 818.7L204.3 830.7L200.3 836.8L194.3 832.7L193.3 816.7L190.3 802.6L191.3 790.6M156.2 782.6L166.2 786.6L176.3 790.6L184.3 796.6L188.3 802.6L186.3 810.7L190.3 818.7M140.1 796.6L150.2 798.6L154.2 806.7L164.2 804.6L174.2 802.6L184.3 800.6M132.1 810.7L136.1 818.7L146.2 822.7L156.2 820.7L164.2 818.7L170.2 810.7L168.2 804.6M134.1 826.7L140.1 830.7L152.2 830.7L160.2 826.7L166.2 832.7L170.2 840.8L176.3 846M120.1 834.7L132.1 830.7L134.1 840.8L140.1 846M170.2 818.7L180.3 828.7L188.3 836.8L196.3 844.8M220.4 912.4L232.5 904.4L238.5 898.4L244.5 900.4L246.5 904.4L256.5 908.4L266.6 912.4L272.6 920.5L284.6 926.5L292.7 924.5M220.4 912.4L222.4 920.5L220.4 936.5L222.4 944.5M266.6 912.4L268.6 904.4L284.6 896.4L292.7 892.4L300.7 886.4L304.7 896.4L312.7 908.4L314.7 920.5L320.8 936.5L328.8 946.6L338.8 960.6L348.9 972.6L358.9 980.7L372.9 982.7L385 984.7L392 982.7M292.7 924.5L308.7 932.5L310.7 946.6L302.7 954.6L308.7 960.6L320.8 972.6L316.7 990.7L310.7 992.7M284.6 896.4L278.6 886.4L280.6 874.3L286.6 864.3L284.6 856.3L292.7 854.2L304.7 856.3L314.7 852.2L322.8 846.2L336.8 846.2L344.8 850.2L350.9 848.2L362.9 864.3L372.9 884.3L376.9 894.4L374.9 920.5L379 932.5L372.9 944.5L358.9 954.6M328.8 814.1L336.8 832.2L344.8 846.2M350.9 848.2L372.9 846.2L392 844.2M392 806.1L383 814.1L372.9 818.1L359.9 822.1L362.9 840.2L364.9 847.2M244.5 900.4L248.5 892.4L254.5 884.3L250.5 874.3L252.5 864.3L246.5 856.3L248.5 846.2L240.5 840.2L232.5 846.2M250.5 848.2L258.6 854.2L264.6 852.2L268.6 856.3L268.6 846.2L276.6 842.2L284.6 846.2L292.7 842.2L300.7 834.2L294.7 828.2L298.7 822.1L292.7 818.1L268.6 820.1L262.6 810.1L244.5 808.1L236.5 816.1L232.5 828.2L230.5 846.2L232.5 860.3L238.5 866.3L244.5 874.3L248.5 884.3M252.5 864.3L262.6 860.3L272.6 856.3L284.6 856.3M254.5 872.3L268.6 872.3L280.6 878.3L288.7 884.3L292.7 892.4M284.6 856.3L296.7 864.3L294.7 876.3L300.7 886.4M322.8 846.2L320.8 860.3L318.8 868.3L312.7 884.3L304.7 888.4M244.5 808.1L240.5 796.1L236.5 788L232.5 780M262.6 810.1L266.6 816.1L276.6 814.1L288.7 810.1L292.7 818.1M300.7 834.2L308.7 828.2L318.8 820.1L328.8 814.1L324.8 800.1L328.8 810.1M292.7 818.1L300.7 814.1L312.7 808.1L328.8 810.1M200.4 780L202.4 804.1L200.4 824.1L196.3 836.2L202.4 840.2L208.4 848.2L214.4 842.2L220.4 844.2L226.4 838.2L232.5 846.2M186.3 866.3L196.3 860.3L204.4 866.3L212.4 872.3L220.4 874.3L226.4 880.3L230.5 888.4L236.5 894.4L238.5 898.4M144.2 888.4L150.2 880.3L156.2 874.3L168.3 876.3L176.3 884.3L186.3 890.4L190.3 884.3L186.3 874.3L186.3 866.3L180.3 864.3L172.3 868.3L168.3 860.3L158.2 868.3L156.2 874.3M144.2 888.4L146.2 900.4L150.2 908.4M132.1 882.3L144.2 878.3L150.2 880.3M130.1 864.3L138.2 868.3L144.2 860.3L152.2 856.3L158.2 868.3M122.1 880.3L132.1 882.3L138.2 874.3L138.2 868.3M168.3 860.3L172.3 852.2L180.3 850.2L186.3 856.3L192.3 860.3L196.3 860.3M158.2 844.2L168.3 840.2L180.3 838.2L188.3 830.2L186.3 820.1L190.3 814.1L188.3 800.1L190.3 790L194.3 780M134.1 836.2L144.2 838.2L158.2 844.2L160.2 832.2L158.2 824.1L168.3 820.1L172.3 808.1L166.2 802.1L156.2 806.1L152.2 800.1L146.2 796.1L142.2 802.1L134.1 810.1L132.1 824.1L134.1 836.2M116.1 846.2L122.1 832.2L134.1 836.2M172.3 808.1L182.3 806.1L188.3 800.1M158.2 824.1L150.2 818.1L142.2 820.1L134.1 824.1M418.6 679.7L433 698.3L453.7 710.7L457.8 727.3L470.2 739.7L480.6 743.8M375.2 750L387.6 764.5L397.9 776.9L395.8 785.1L408.2 809.9L420.6 822.3L441.3 834.7L462 836.8L480.6 826.4M397.9 799.6L379.3 814L362.8 824.4L364.8 847.1L379.3 847.1L395.8 851.2L408.2 859.5L420.6 880.2L433 909.1L441.3 938L445.4 958.7M443.4 940.1L462 929.8L486.8 923.6L511.6 921.5M445.4 958.7L424.8 952.5L404.1 971.1L387.6 987.6L379.3 1012.4L395.8 1012.4L408.2 1029L416.5 1026.9M387.6 987.6L358.6 983.5L346.2 977.3M379.3 1012.4L354.5 1033.1L346.2 1035.2" fill="none" stroke="#9C9C9C" stroke-width="2.3" stroke-linejoin="round" stroke-linecap="round"/>
<path d="M113.8 651.2L140 632.5L165 622.5L187.5 616.2L192.5 627.5L200 635L215 636.2L227.5 642.5L260 642.5L280 650L305 665L330 680L350 680L365 682.5L395 688.8L407.5 688.8L422.5 670L440 662.5L450 658.8L472.5 651.2L492.5 663.8L530 665L515 685L500 700L482.5 717.5L482.5 765L482.5 840L482.5 885L513.8 918.8L497.5 937.5L480 952.5L455 962.5L442.5 970L440 985L430 1000L422.5 1015L412.5 1032.5L402.5 1052.5L390 1058.8L350 1035L310 1005L302.5 990L280 976.2L220 942.5L165 916.2L115 892.5L112.5 885L110 865L111.2 845L120 827.5L135 805L146.2 790L157.5 782.5L165 760L163.8 735L157.5 722.5L147.5 707.5L137.5 692.5L136.2 675L120 665Z" fill="none" stroke="#9C9C9C" stroke-width="2.5" stroke-linejoin="round"/>
<path d="M217.4 635.1L220.4 633.1L227.4 633.1L229.4 640.1L230.4 650.1L231.4 662.2L231.4 674.2L228.4 684.2L230.4 694.3L238.5 704.3L248.5 714.3L255.5 716.4L255.5 730.4L249.5 733.4L244.5 722.4L236.5 714.3L228.4 706.3L222.4 698.3L216.4 686.3L211.4 676.2L212.4 664.2L214.4 650.1L215.4 640.1Z" fill="#E5E5E5" stroke="#555" stroke-width="0.7" stroke-linejoin="round"/>
<path d="M130.1 860.3L138.2 856.3L144.2 852.2L152.2 851.2L156.2 858.3L148.2 860.3L140.2 862.3L136.1 868.3L130.1 866.3Z" fill="#E5E5E5" stroke="#555" stroke-width="0.7" stroke-linejoin="round"/>
<path d="M257.5 638.1L260.5 628.1L270.6 623L271.6 629.1L266.6 635.1L260.5 638.1Z" fill="#F0F0F0" stroke="#444" stroke-width="0.8" stroke-linejoin="round"/>
<path d="M218 946.2L222.5 943.8L223.8 952.5L221.2 960L216.2 963.8L215 961.2L217.5 955Z" fill="#F0F0F0" stroke="#444" stroke-width="0.8" stroke-linejoin="round"/>
<path d="M152.5 1015L165 1007.5L180 1000L183 1003.8L175 1011.2L162.5 1016.2L153.8 1018.8Z" fill="#F0F0F0" stroke="#444" stroke-width="0.8" stroke-linejoin="round"/>
<path d="M205.5 1010L210 1002.5L213 1004.5L210 1012.5L207 1018L204.5 1016.2Z" fill="#F0F0F0" stroke="#444" stroke-width="0.8" stroke-linejoin="round"/>
<path d="M221.4 636.1L221.4 670.2L224.4 690.3L230.4 704.3L240.5 718.4L250.5 732.4" fill="none" stroke="#9C9C9C" stroke-width="2.3" stroke-linejoin="round" stroke-linecap="round"/>
</g>
<rect x="92" y="597.2" width="456.2" height="480.6" fill="none" stroke="#4A4A4A" stroke-width="0.9"/>
<circle cx="262.5" cy="905" r="7.6" fill="#006400"/>
<text x="262.5" y="938.7" font-size="29" text-anchor="middle">Nairobi</text>
<text x="515" y="1067.3" font-size="31.3" text-anchor="end">Kenya</text>
<text x="469" y="620.6" font-size="26" >PDI</text>
<text x="107.8" y="623.3" font-size="28" font-weight="bold">c</text>
<path d="M91.5 616.5V1060.8M91.5 616.5H74.7M91.5 835.8H74.7M91.5 1060.8H74.7M107 1078.2H531M107 1078.2V1095.2M319.2 1078.2V1095.2M531 1078.2V1095.2" stroke="#000" stroke-width="1.3" fill="none"/>
<text transform="translate(60.8 616.5) rotate(-90)" font-size="26" text-anchor="middle">5.0</text>
<text transform="translate(60.8 835.8) rotate(-90)" font-size="26" text-anchor="middle">0.2</text>
<text transform="translate(60.8 1060.8) rotate(-90)" font-size="26" text-anchor="middle">−4.7</text>
<text x="107" y="1128.3" font-size="26" text-anchor="middle">33.9</text>
<text x="319.2" y="1128.3" font-size="26" text-anchor="middle">37.9</text>
<text x="531" y="1128.3" font-size="26" text-anchor="middle">41.9</text>
<text transform="translate(20.2 837) rotate(-90)" font-size="26.5" text-anchor="middle">Latitude [deg.]</text>
<text x="320.2" y="1169.2" font-size="27" text-anchor="middle">Longitude [deg.]</text>
<linearGradient id="cgc" x1="0" y1="0" x2="0" y2="1">
<stop offset="0.000" stop-color="#7D0025"/>
<stop offset="0.060" stop-color="#7F0024"/>
<stop offset="0.087" stop-color="#8B0020"/>
<stop offset="0.120" stop-color="#960018"/>
<stop offset="0.141" stop-color="#AA1000"/>
<stop offset="0.186" stop-color="#B81C00"/>
<stop offset="0.230" stop-color="#CC2C00"/>
<stop offset="0.275" stop-color="#DC3C00"/>
<stop offset="0.320" stop-color="#E84C00"/>
<stop offset="0.363" stop-color="#EC6000"/>
<stop offset="0.408" stop-color="#F07400"/>
<stop offset="0.453" stop-color="#F28800"/>
<stop offset="0.493" stop-color="#F39400"/>
<stop offset="0.538" stop-color="#F5A200"/>
<stop offset="0.575" stop-color="#F8B000"/>
<stop offset="0.600" stop-color="#F6B430"/>
<stop offset="0.635" stop-color="#F6BC48"/>
<stop offset="0.680" stop-color="#F7C860"/>
<stop offset="0.724" stop-color="#F9D47C"/>
<stop offset="0.769" stop-color="#FAE094"/>
<stop offset="0.813" stop-color="#FCEAAA"/>
<stop offset="0.858" stop-color="#FEF4BC"/>
<stop offset="0.900" stop-color="#FFFAC4"/>
<stop offset="0.968" stop-color="#FFFFC8"/>
<stop offset="1.000" stop-color="#FFFFC8"/>
</linearGradient>
<rect x="560.1" y="636.4" width="14.1" height="343.4" fill="url(#cgc)"/>
<rect x="560.1" y="979.8" width="14.1" height="45.1" fill="#7F7F7F"/>
<rect x="560.1" y="1024.9" width="14.1" height="44.4" fill="#E5E5E5"/>
<rect x="560.1" y="636.4" width="14.1" height="432.9" fill="none" stroke="#000" stroke-width="1.4"/>
<path d="M574.2 647.8h4.6M574.2 961.4h4.6M574.2 1002.3h4.6M574.2 1047h4.6" stroke="#000" stroke-width="1.3" fill="none"/>
<text x="594" y="635.9" font-size="22.45">Weak physical</text>
<text x="594" y="661.3" font-size="22.45">distancing</text>
<text x="594" y="949.3" font-size="22.45">Strong physical</text>
<text x="594" y="974.7" font-size="22.45">distancing</text>
<text x="594" y="1007.9" font-size="22.45">NA; Not in KEN</text>
<text x="594" y="1034.4" font-size="22.45">Water</text>
<text x="594" y="1060.9" font-size="22.45">bodies</text>
</g>
<g id="panel-d">
<clipPath id="mcd"><rect x="826" y="597.2" width="456.2" height="480.6"/></clipPath>
<g clip-path="url(#mcd)">
<rect x="826" y="597.2" width="456.2" height="480.6" fill="#7F7F7F"/>
<path d="M1242.9 686.3L1248.9 688.3L1256.9 698.3L1260.9 710.3L1269 722.4L1273 728.4L1280 724.4M1273 728.4L1267 738.4L1256.9 742.4L1254.9 748.5L1260.9 750.5M933.5 607.4L933.5 710.7M933.5 607.4L960.4 607.4L960.4 595M824 677.7L844.7 669.4L861.2 648.7L886 652.9L898.4 669.4L914.9 671.5L933.5 671.5M824 735.5L848.8 731.4L886 727.3L914.9 731.4L933.5 735.5M886 652.9L888.1 619.8L877.7 595M836.4 640.5L848.8 619.8L865.3 607.4L886 599.1M1241.4 685.9L1258 694.2L1268.3 719L1278.6 731.4M1154.6 595L1167 603.3L1179.4 615.7" fill="none" stroke="#A0A0A0" stroke-width="1.4" stroke-linejoin="round"/>
<path d="M826 826L843.8 840L852.5 857.5L860 890L870 915L880 932.5L887.5 952.5L890 975L880 987.5L882.5 1005L892.5 1025L892.5 1040L905 1042.5L917.5 1052.5L930 1058.8L945 1050L960 1045L980 1042.5L995 1032.5L1010 1030L1035 1032.5L1060 1035L1080 1025L1095 1025L1115 1015L1135 997.5L1155 977.5L1170 960L1185 940L1195 925L1205 910L1215 890L1222.5 872.5L1235 855L1250 840L1256.2 825L1260 805L1263.8 782.5L1267.5 760L1265 740L1272.5 728.8L1282.5 723.8L1283 1078L826 1078Z" fill="#E5E5E5" stroke="#999" stroke-width="1"/>
<clipPath id="ccd"><path d="M843.8 840L852.5 827.5L858.8 822.5L866.2 837.5L877.5 847.5L895 851.2L912.5 852.5L920 842.5L935 836.2L935 711.2L942.5 715L950 732.5L953.8 750L948.8 767.5L952.5 781.2L970 780L980 775L995 760L1005 745L1010 728.8L1020 725L1035 735L1045 741.2L1060 742.5L1072.5 737.5L1080 725L1085 707.5L1100 703.8L1107.5 690L1115 670L1132.5 652.5L1145 635L1165 620L1180 616.2L1185 616.2L1200 621.2L1223.8 623.8L1230 645L1237.5 670L1241.2 690L1242.5 715L1241.2 735L1240 747.5L1227.5 741.2L1220 750L1212.5 765L1212.5 780L1222.5 793.8L1235 797.5L1244.5 791.2L1244.5 782L1263.8 782.5L1260 805L1256.2 825L1250 840L1235 855L1222.5 872.5L1215 890L1205 910L1195 925L1185 940L1170 960L1155 977.5L1135 997.5L1115 1015L1095 1025L1080 1025L1060 1035L1035 1032.5L1010 1030L995 1032.5L980 1042.5L960 1045L945 1050L930 1058.8L917.5 1052.5L905 1042.5L892.5 1040L892.5 1025L882.5 1005L880 987.5L890 975L887.5 952.5L880 932.5L870 915L860 890L852.5 857.5Z"/></clipPath>
<g clip-path="url(#ccd)"><g filter="url(#bl)">
<g fill="none" stroke-width="4.6">
<path stroke="#FFFFC8" d="M938 731h4.6M934 735h8.6M934 739h8.6M934 743h8.6M934 747h12.6M934 751h12.6M938 755h8.6M938 759h8.6M938 763h8.6M938 767h8.6M938 771h8.6M938 775h8.6M878 947h4.6M878 951h8.6M878 955h8.6M878 959h8.6M878 963h4.6M878 967h4.6M878 971h8.6M878 975h8.6M878 979h4.6M874 983h8.6M1094 983h4.6M870 987h12.6M1090 987h8.6M870 991h12.6M1090 991h4.6M870 995h12.6M1090 995h4.6M870 999h12.6M1090 999h4.6M874 1003h8.6M938 1035h12.6M934 1039h16.6M938 1043h12.6M942 1047h4.6"/>
<path stroke="#FFFFC8" d="M930 727h16.6M930 731h8.6M942 731h4.6M926 735h8.6M942 735h8.6M926 739h8.6M942 739h8.6M926 743h8.6M942 743h8.6M926 747h8.6M946 747h4.6M930 751h4.6M946 751h8.6M930 755h8.6M946 755h8.6M930 759h8.6M946 759h8.6M930 763h8.6M946 763h8.6M934 767h4.6M946 767h8.6M934 771h4.6M946 771h8.6M934 775h4.6M946 775h8.6M938 779h16.6M938 783h12.6M942 787h8.6M878 943h8.6M874 947h4.6M882 947h8.6M886 951h4.6M882 963h4.6M882 967h4.6M1098 975h4.6M882 979h4.6M1094 979h8.6M882 983h4.6M1090 983h4.6M1098 983h4.6M882 987h4.6M1086 987h4.6M1098 987h4.6M1086 991h4.6M1094 991h4.6M1086 995h4.6M1094 995h4.6M882 999h4.6M1086 999h4.6M1094 999h4.6M1086 1003h8.6M874 1007h8.6M1086 1007h8.6M938 1031h12.6M934 1035h4.6M950 1035h4.6M930 1039h4.6M950 1039h4.6M934 1043h4.6M950 1043h4.6M934 1047h8.6M946 1047h8.6M938 1051h12.6"/>
<path stroke="#FFFEC7" d="M930 719h12.6M926 723h20.6M926 727h4.6M946 727h4.6M926 731h4.6M946 731h8.6M950 735h4.6M950 739h4.6M950 743h4.6M950 747h8.6M926 751h4.6M954 751h4.6M926 755h4.6M954 755h4.6M926 759h4.6M954 759h4.6M926 763h4.6M954 763h4.6M926 767h8.6M954 767h4.6M930 771h4.6M954 771h4.6M930 775h4.6M954 775h4.6M930 779h8.6M954 779h4.6M934 783h4.6M950 783h8.6M938 787h4.6M950 787h4.6M938 791h16.6M942 795h8.6M878 939h12.6M874 943h4.6M886 943h4.6M886 955h4.6M886 959h4.6M886 963h4.6M886 967h4.6M1102 967h4.6M886 971h4.6M1098 971h8.6M886 975h4.6M1094 975h4.6M1102 975h4.6M886 979h4.6M1090 979h4.6M1102 979h4.6M1086 983h4.6M882 991h4.6M1082 991h4.6M1098 991h4.6M882 995h4.6M1082 995h4.6M1082 999h4.6M882 1003h4.6M1082 1003h4.6M1094 1003h4.6M1082 1007h4.6M874 1011h4.6M1082 1011h12.6M1086 1015h4.6M942 1027h4.6M934 1031h4.6M950 1031h8.6M930 1035h4.6M954 1035h8.6M954 1039h8.6M930 1043h4.6M954 1043h4.6M930 1047h4.6M954 1047h4.6M934 1051h4.6M950 1051h8.6M938 1055h16.6"/>
<path stroke="#FFFCC5" d="M926 715h20.6M926 719h4.6M942 719h8.6M946 723h8.6M950 727h4.6M954 731h4.6M954 735h4.6M954 739h4.6M954 743h8.6M958 747h4.6M958 751h4.6M958 755h4.6M958 759h4.6M958 763h4.6M926 771h4.6M926 775h4.6M958 775h4.6M926 779h4.6M958 779h4.6M930 783h4.6M958 783h4.6M934 787h4.6M954 787h8.6M934 791h4.6M954 791h4.6M938 795h4.6M950 795h8.6M942 799h12.6M882 935h12.6M874 939h4.6M890 939h4.6M890 943h4.6M890 947h4.6M890 951h4.6M1102 951h8.6M890 955h4.6M1102 955h8.6M1102 959h4.6M1098 963h8.6M1098 967h4.6M1094 971h4.6M1090 975h4.6M1086 979h4.6M886 983h4.6M1102 983h4.6M1082 987h4.6M1098 995h4.6M1078 999h4.6M1078 1003h4.6M882 1007h4.6M1078 1007h4.6M1094 1007h4.6M878 1011h4.6M1078 1011h4.6M1094 1011h4.6M1078 1015h8.6M1090 1015h4.6M1082 1019h4.6M938 1027h4.6M946 1027h8.6M926 1031h8.6M958 1031h4.6M926 1035h4.6M962 1035h4.6M926 1039h4.6M962 1039h4.6M926 1043h4.6M958 1043h8.6M958 1047h4.6M930 1051h4.6M958 1051h4.6M930 1055h8.6M954 1055h4.6M934 1059h16.6"/>
<path stroke="#FFFAC4" d="M1130 691h12.6M1130 695h12.6M930 707h12.6M926 711h24.6M946 715h8.6M950 719h4.6M954 723h4.6M954 727h4.6M958 731h4.6M958 735h4.6M958 739h4.6M962 775h8.6M962 779h8.6M926 783h4.6M962 783h4.6M930 787h4.6M962 787h4.6M930 791h4.6M958 791h8.6M934 795h4.6M958 795h4.6M938 799h4.6M954 799h8.6M942 803h16.6M1106 835h4.6M1106 839h4.6M886 931h8.6M878 935h4.6M1106 943h4.6M1102 947h8.6M1098 951h4.6M1098 955h4.6M890 959h4.6M1098 959h4.6M1106 959h4.6M890 963h4.6M1106 963h4.6M1094 967h4.6M1106 967h4.6M1090 971h4.6M1106 971h4.6M1086 975h4.6M1106 975h4.6M1106 979h4.6M1082 983h4.6M886 987h4.6M1078 987h4.6M1102 987h4.6M886 991h4.6M1078 991h4.6M886 995h4.6M1078 995h4.6M886 999h4.6M1098 999h4.6M886 1003h4.6M1098 1003h4.6M882 1011h4.6M1074 1011h4.6M878 1015h4.6M1074 1015h4.6M1074 1019h8.6M1086 1019h4.6M930 1027h8.6M954 1027h4.6M922 1031h4.6M962 1031h8.6M922 1035h4.6M966 1035h4.6M966 1039h4.6M966 1043h4.6M926 1047h4.6M962 1047h4.6M926 1051h4.6M962 1051h4.6M926 1055h4.6M958 1055h4.6M930 1059h4.6M930 1063h12.6"/>
<path stroke="#FEF6BF" d="M1126 687h20.6M1126 691h4.6M1142 691h8.6M1142 695h8.6M1134 699h16.6M934 703h4.6M942 707h4.6M970 771h4.6M970 775h4.6M970 779h4.6M966 783h8.6M926 787h4.6M966 787h4.6M966 791h4.6M930 795h4.6M962 795h8.6M934 799h4.6M962 799h8.6M938 803h4.6M958 803h8.6M954 807h12.6M978 827h8.6M1106 827h4.6M978 831h16.6M1102 831h8.6M978 835h20.6M1102 835h4.6M1110 835h4.6M982 839h8.6M1102 839h4.6M1110 839h4.6M1106 843h4.6M882 931h4.6M870 935h8.6M894 935h4.6M894 939h4.6M1102 939h12.6M894 943h4.6M1098 943h8.6M1110 943h4.6M894 947h4.6M1098 947h4.6M1110 947h4.6M894 951h4.6M1094 951h4.6M1110 951h4.6M1094 955h4.6M1110 955h4.6M1094 959h4.6M1094 963h4.6M890 967h4.6M1090 967h4.6M890 971h4.6M890 975h4.6M890 979h4.6M1082 979h4.6M1078 983h4.6M1074 991h4.6M1102 991h4.6M1074 995h4.6M1074 999h4.6M1074 1003h4.6M886 1007h4.6M1074 1007h4.6M1098 1007h4.6M882 1015h4.6M1094 1015h4.6M878 1019h4.6M1070 1019h4.6M1090 1019h4.6M942 1023h8.6M1070 1023h16.6M926 1027h4.6M958 1027h12.6M970 1035h4.6M922 1039h4.6M970 1039h4.6M922 1043h4.6M970 1043h4.6M922 1047h4.6M966 1047h4.6M922 1051h4.6M966 1051h4.6M922 1055h4.6M926 1059h4.6M926 1063h4.6M926 1067h8.6"/>
<path stroke="#FDF1B7" d="M1114 683h28.6M1110 687h16.6M1146 687h4.6M1110 691h4.6M1122 691h4.6M1150 691h4.6M1126 695h4.6M1150 695h8.6M1130 699h4.6M1150 699h4.6M1142 703h12.6M974 771h4.6M974 775h4.6M974 779h4.6M974 783h4.6M970 787h8.6M926 791h4.6M970 791h4.6M926 795h4.6M970 795h4.6M930 799h4.6M970 799h4.6M934 803h4.6M966 803h8.6M942 807h12.6M966 807h8.6M954 811h24.6M958 815h20.6M962 819h20.6M966 823h24.6M1106 823h4.6M970 827h8.6M986 827h12.6M1102 827h4.6M1110 827h4.6M974 831h4.6M994 831h12.6M1110 831h4.6M974 835h4.6M998 835h12.6M1098 835h4.6M978 839h4.6M990 839h20.6M1114 839h4.6M1002 843h8.6M1102 843h4.6M1110 843h4.6M874 931h8.6M894 931h4.6M1106 931h8.6M1102 935h16.6M1098 939h4.6M1114 939h4.6M1094 943h4.6M1114 943h4.6M1094 947h4.6M894 955h4.6M1090 955h4.6M894 959h4.6M1090 959h4.6M1110 959h4.6M1090 963h4.6M1086 971h4.6M1082 975h4.6M1078 979h4.6M890 983h4.6M1106 983h4.6M1074 987h4.6M1102 995h4.6M1070 999h4.6M1070 1003h4.6M1070 1007h4.6M886 1011h4.6M1070 1011h4.6M1098 1011h4.6M1070 1015h4.6M1094 1019h4.6M934 1023h8.6M950 1023h8.6M1086 1023h4.6M922 1027h4.6M1070 1027h16.6M918 1031h4.6M970 1031h4.6M918 1035h4.6M970 1047h4.6M970 1051h4.6M922 1059h4.6M918 1063h8.6"/>
<path stroke="#FCECAD" d="M1170 667h4.6M1170 671h4.6M1110 679h28.6M1106 683h8.6M1142 683h12.6M1102 687h8.6M1150 687h8.6M1106 691h4.6M1114 691h8.6M1154 691h4.6M1122 695h4.6M1158 695h4.6M1126 699h4.6M1154 699h8.6M1134 703h8.6M1154 703h4.6M1142 707h12.6M978 767h4.6M978 771h8.6M978 775h8.6M978 779h8.6M978 783h8.6M978 787h4.6M974 791h8.6M974 795h8.6M974 799h8.6M974 803h8.6M938 807h4.6M974 807h8.6M950 811h4.6M978 811h4.6M1106 811h8.6M954 815h4.6M978 815h8.6M1106 815h8.6M958 819h4.6M982 819h8.6M1106 819h8.6M958 823h8.6M990 823h8.6M1102 823h4.6M1110 823h4.6M962 827h8.6M998 827h12.6M1098 827h4.6M966 831h8.6M1006 831h8.6M1098 831h4.6M970 835h4.6M1010 835h4.6M1114 835h4.6M974 839h4.6M1010 839h8.6M1098 839h4.6M982 843h20.6M1010 843h8.6M1098 843h4.6M1114 843h4.6M1002 847h12.6M1102 847h12.6M1078 867h8.6M1074 871h12.6M1074 875h12.6M1074 879h4.6M882 927h12.6M1102 927h16.6M870 931h4.6M1098 931h8.6M1114 931h8.6M1094 935h8.6M1118 935h4.6M1094 939h4.6M1118 939h4.6M1090 943h4.6M1090 947h4.6M1114 947h4.6M1090 951h4.6M1114 951h4.6M894 963h4.6M1110 963h4.6M894 967h4.6M1086 967h4.6M1110 967h4.6M1082 971h4.6M1078 975h4.6M1074 983h4.6M890 987h4.6M1106 987h4.6M890 991h4.6M1070 991h4.6M890 995h4.6M1070 995h4.6M890 999h4.6M1102 999h4.6M890 1003h4.6M890 1007h4.6M886 1015h4.6M1098 1015h4.6M882 1019h4.6M1066 1019h4.6M930 1023h4.6M958 1023h8.6M1066 1023h4.6M1090 1023h4.6M918 1027h4.6M970 1027h4.6M1086 1027h4.6M974 1035h4.6M918 1039h4.6M974 1039h4.6M918 1043h4.6M974 1043h4.6M918 1047h4.6M974 1047h4.6M918 1051h4.6M974 1051h4.6M918 1055h4.6M914 1059h8.6"/>
<path stroke="#FBE6A1" d="M1166 667h4.6M1174 667h4.6M1166 671h4.6M1174 671h4.6M1106 675h24.6M1166 675h8.6M1102 679h8.6M1138 679h12.6M1098 683h8.6M1154 683h8.6M1098 687h4.6M1158 687h4.6M1102 691h4.6M1158 691h4.6M1106 695h16.6M1162 695h4.6M1162 699h4.6M1158 703h4.6M1154 707h4.6M982 763h4.6M982 767h8.6M986 771h4.6M986 775h4.6M986 779h4.6M986 783h4.6M982 787h8.6M982 791h4.6M982 795h4.6M926 799h4.6M982 799h4.6M930 803h4.6M982 803h4.6M934 807h4.6M982 807h4.6M946 811h4.6M982 811h8.6M986 815h4.6M1102 815h4.6M954 819h4.6M990 819h8.6M1102 819h4.6M954 823h4.6M998 823h8.6M1098 823h4.6M958 827h4.6M1010 827h4.6M962 831h4.6M1014 831h4.6M1094 831h4.6M1114 831h4.6M1014 835h8.6M1094 835h4.6M1118 835h4.6M1018 839h4.6M1118 839h4.6M978 843h4.6M1018 843h4.6M1118 843h4.6M994 847h8.6M1014 847h8.6M1098 847h4.6M1114 847h4.6M1006 851h8.6M1098 851h16.6M1094 855h16.6M1090 859h20.6M1074 863h40.6M1070 867h8.6M1086 867h28.6M1070 871h4.6M1086 871h28.6M1066 875h8.6M1086 875h28.6M1066 879h8.6M1078 879h32.6M1066 883h40.6M1090 887h12.6M1094 891h8.6M1102 919h16.6M1098 923h28.6M878 927h4.6M894 927h4.6M1094 927h8.6M1118 927h8.6M1090 931h8.6M1122 931h4.6M898 935h4.6M1090 935h4.6M1122 935h4.6M898 939h4.6M1086 939h8.6M898 943h4.6M1086 943h4.6M1118 943h4.6M898 947h4.6M1086 947h4.6M898 951h4.6M1086 951h4.6M898 955h4.6M1086 955h4.6M1114 955h4.6M1086 959h4.6M1086 963h4.6M1082 967h4.6M894 971h4.6M1078 971h4.6M1110 971h4.6M894 975h4.6M1110 975h4.6M894 979h4.6M1074 979h4.6M1070 983h4.6M1070 987h4.6M1106 991h4.6M1066 995h4.6M1066 999h4.6M1066 1003h4.6M1102 1003h4.6M1066 1007h4.6M1102 1007h4.6M890 1011h4.6M1066 1011h4.6M1066 1015h4.6M886 1019h4.6M942 1019h8.6M882 1023h4.6M922 1023h8.6M966 1023h4.6M1094 1023h4.6M1066 1027h4.6M1090 1027h4.6M974 1031h4.6M1070 1031h16.6M978 1043h4.6M978 1047h4.6M914 1051h4.6M978 1051h4.6M914 1055h4.6M910 1059h4.6"/>
<path stroke="#FAE094" d="M1170 663h8.6M1110 671h16.6M1162 671h4.6M1102 675h4.6M1130 675h12.6M1158 675h8.6M1174 675h4.6M1150 679h24.6M1162 683h8.6M1162 687h4.6M1098 691h4.6M1162 691h4.6M1102 695h4.6M1166 695h4.6M1122 699h4.6M1166 699h4.6M1130 703h4.6M1162 703h4.6M1138 707h4.6M1158 707h4.6M1146 711h8.6M986 759h4.6M986 763h4.6M990 771h4.6M990 775h4.6M990 779h4.6M990 783h4.6M986 791h4.6M986 795h4.6M986 799h4.6M926 803h4.6M986 803h4.6M930 807h4.6M986 807h4.6M1106 807h8.6M942 811h4.6M990 811h4.6M1102 811h4.6M1114 811h4.6M950 815h4.6M990 815h8.6M1114 815h4.6M998 819h8.6M1098 819h4.6M1114 819h4.6M1006 823h8.6M1114 823h4.6M954 827h4.6M1014 827h4.6M1094 827h4.6M1114 827h4.6M958 831h4.6M1018 831h4.6M1090 831h4.6M966 835h4.6M1022 835h4.6M970 839h4.6M1022 839h4.6M1094 839h4.6M1122 839h4.6M974 843h4.6M1022 843h4.6M1094 843h4.6M1122 843h4.6M986 847h8.6M1022 847h4.6M1094 847h4.6M1118 847h4.6M1002 851h4.6M1014 851h8.6M1090 851h8.6M1114 851h4.6M1082 855h12.6M1110 855h4.6M1074 859h16.6M1110 859h4.6M1070 863h4.6M1114 863h4.6M1066 867h4.6M1114 867h4.6M1066 871h4.6M1114 871h8.6M1062 875h4.6M1114 875h8.6M1214 875h8.6M1062 879h4.6M1110 879h16.6M1062 883h4.6M1106 883h20.6M1062 887h28.6M1102 887h24.6M1062 891h32.6M1102 891h28.6M1086 895h44.6M1090 899h40.6M1094 903h36.6M1094 907h36.6M1094 911h36.6M1094 915h40.6M1046 919h8.6M1090 919h12.6M1118 919h16.6M1046 923h8.6M1086 923h12.6M1126 923h8.6M870 927h8.6M1050 927h4.6M1086 927h8.6M1126 927h8.6M898 931h4.6M1082 931h8.6M1126 931h8.6M1082 935h8.6M1126 935h4.6M1082 939h4.6M1122 939h4.6M1082 943h4.6M1082 947h4.6M1118 947h4.6M1082 951h4.6M1082 955h4.6M898 959h4.6M1082 959h4.6M1082 963h4.6M1078 967h4.6M1074 971h4.6M1074 975h4.6M1070 979h4.6M1110 979h4.6M894 983h4.6M1066 987h4.6M1066 991h4.6M1106 995h4.6M1102 1011h4.6M890 1015h4.6M934 1019h8.6M950 1019h12.6M1062 1019h4.6M1098 1019h4.6M886 1023h4.6M918 1023h4.6M970 1023h4.6M1062 1023h4.6M882 1027h4.6M914 1027h4.6M974 1027h4.6M882 1031h4.6M914 1031h4.6M1066 1031h4.6M1086 1031h4.6M914 1035h4.6M978 1035h4.6M1074 1035h8.6M914 1039h4.6M978 1039h4.6M914 1043h4.6M914 1047h4.6M982 1047h4.6M910 1051h4.6M906 1055h8.6"/>
<path stroke="#F9D986" d="M1210 659h8.6M1166 663h4.6M1210 663h8.6M1162 667h4.6M1178 667h4.6M1210 667h8.6M1106 671h4.6M1126 671h8.6M1178 671h4.6M1142 675h16.6M1170 683h4.6M1166 687h4.6M1166 691h4.6M1094 695h8.6M1106 699h8.6M1166 703h4.6M1162 707h4.6M1142 711h4.6M1154 711h8.6M990 751h4.6M990 755h4.6M990 759h4.6M990 763h4.6M990 767h4.6M990 787h4.6M990 791h4.6M990 807h4.6M1102 807h4.6M1114 807h4.6M938 811h4.6M994 811h4.6M946 815h4.6M998 815h4.6M1098 815h4.6M950 819h4.6M1006 819h8.6M950 823h4.6M1014 823h8.6M1094 823h4.6M1018 827h8.6M1090 827h4.6M1022 831h4.6M1086 831h4.6M1118 831h4.6M962 835h4.6M1026 835h4.6M1086 835h8.6M1122 835h4.6M966 839h4.6M1026 839h4.6M1090 839h4.6M970 843h4.6M1026 843h8.6M1090 843h4.6M1126 843h4.6M978 847h8.6M1026 847h8.6M1086 847h8.6M1122 847h4.6M998 851h4.6M1022 851h12.6M1082 851h8.6M1118 851h4.6M1010 855h16.6M1070 855h12.6M1114 855h4.6M1066 859h8.6M1114 859h8.6M1062 863h8.6M1118 863h8.6M1062 867h4.6M1118 867h8.6M1058 871h8.6M1122 871h8.6M1214 871h8.6M1058 875h4.6M1122 875h12.6M1058 879h4.6M1126 879h12.6M1054 883h8.6M1126 883h16.6M1054 887h8.6M1126 887h20.6M1054 891h8.6M1130 891h16.6M1054 895h32.6M1130 895h20.6M1054 899h12.6M1078 899h12.6M1130 899h20.6M1050 903h8.6M1082 903h12.6M1130 903h20.6M1046 907h12.6M1082 907h12.6M1130 907h16.6M1042 911h20.6M1082 911h12.6M1130 911h12.6M1038 915h24.6M1082 915h12.6M1134 915h8.6M1038 919h8.6M1054 919h12.6M1082 919h8.6M1134 919h8.6M882 923h12.6M1038 923h8.6M1054 923h12.6M1078 923h8.6M1134 923h8.6M866 927h4.6M1038 927h12.6M1054 927h12.6M1074 927h12.6M1134 927h4.6M1042 931h24.6M1074 931h8.6M1134 931h4.6M1046 935h12.6M1078 935h4.6M1130 935h4.6M1078 939h4.6M1126 939h4.6M902 943h4.6M1078 943h4.6M1122 943h4.6M902 947h4.6M1078 947h4.6M1078 951h4.6M1118 951h4.6M1078 955h4.6M1078 959h4.6M1114 959h4.6M898 963h4.6M1078 963h4.6M898 967h4.6M1074 967h4.6M1070 975h4.6M1066 979h4.6M1066 983h4.6M1110 983h4.6M894 987h4.6M894 991h4.6M1062 991h4.6M1062 995h4.6M894 999h4.6M1062 999h4.6M1106 999h4.6M894 1003h4.6M1062 1003h4.6M894 1007h4.6M1062 1007h4.6M894 1011h4.6M1062 1011h4.6M894 1015h4.6M1062 1015h4.6M890 1019h4.6M926 1019h8.6M962 1019h8.6M1098 1023h4.6M886 1027h4.6M1062 1027h4.6M1094 1027h4.6M978 1031h4.6M1090 1031h4.6M882 1035h4.6M1066 1035h8.6M1082 1035h8.6M882 1039h4.6M982 1039h4.6M982 1043h4.6M910 1047h4.6M986 1047h4.6M906 1051h4.6"/>
<path stroke="#F9D278" d="M1178 663h4.6M1206 663h4.6M1218 663h4.6M1106 667h20.6M1206 667h4.6M1218 667h4.6M1134 671h8.6M1158 671h4.6M1210 671h8.6M1178 675h4.6M1174 679h4.6M1174 683h4.6M1170 687h4.6M1170 691h4.6M1170 695h4.6M1098 699h8.6M1114 699h8.6M1170 699h4.6M1126 703h4.6M1170 703h4.6M1134 707h4.6M1166 707h4.6M1162 711h4.6M1146 715h12.6M994 743h4.6M994 747h4.6M994 751h4.6M994 755h4.6M994 759h4.6M994 763h4.6M994 767h4.6M994 771h4.6M994 775h4.6M994 779h4.6M994 783h4.6M994 787h4.6M990 795h4.6M990 799h4.6M990 803h4.6M1106 803h8.6M926 807h4.6M994 807h4.6M930 811h8.6M998 811h4.6M1098 811h4.6M1118 811h4.6M942 815h4.6M1002 815h8.6M1118 815h4.6M946 819h4.6M1014 819h8.6M1094 819h4.6M1118 819h4.6M1022 823h4.6M1090 823h4.6M1118 823h4.6M950 827h4.6M1026 827h4.6M1082 827h8.6M1118 827h4.6M954 831h4.6M1026 831h4.6M1082 831h4.6M1122 831h4.6M958 835h4.6M1030 835h4.6M1082 835h4.6M962 839h4.6M1030 839h8.6M1086 839h4.6M1126 839h4.6M1034 843h4.6M1086 843h4.6M974 847h4.6M1034 847h8.6M1074 847h12.6M1126 847h4.6M990 851h8.6M1034 851h8.6M1054 851h28.6M1122 851h8.6M1002 855h8.6M1026 855h16.6M1054 855h16.6M1118 855h12.6M1026 859h12.6M1058 859h8.6M1122 859h8.6M1058 863h4.6M1126 863h8.6M1054 867h8.6M1126 867h12.6M1054 871h4.6M1130 871h12.6M1054 875h4.6M1134 875h12.6M1054 879h4.6M1138 879h12.6M1214 879h8.6M1050 883h4.6M1142 883h8.6M1050 887h4.6M1146 887h8.6M1050 891h4.6M1146 891h8.6M1046 895h8.6M1150 895h4.6M1046 899h8.6M1066 899h12.6M1150 899h4.6M1042 903h8.6M1058 903h24.6M1150 903h8.6M1042 907h4.6M1058 907h24.6M1146 907h12.6M1038 911h4.6M1062 911h20.6M1142 911h16.6M1034 915h4.6M1062 915h20.6M1142 915h12.6M1034 919h4.6M1066 919h16.6M1142 919h8.6M870 923h12.6M894 923h4.6M1034 923h4.6M1066 923h12.6M1142 923h4.6M898 927h4.6M1066 927h8.6M1138 927h8.6M1038 931h4.6M1066 931h8.6M1138 931h4.6M902 935h4.6M1038 935h8.6M1058 935h20.6M1134 935h4.6M902 939h4.6M1038 939h40.6M1070 943h8.6M1070 947h8.6M1122 947h4.6M902 951h4.6M1070 951h8.6M902 955h4.6M1074 955h4.6M1074 959h4.6M1074 963h4.6M1114 963h4.6M1070 967h4.6M898 971h4.6M1070 971h4.6M898 975h4.6M1066 975h4.6M1062 983h4.6M1062 987h4.6M1110 987h4.6M894 995h4.6M1106 1003h4.6M942 1015h12.6M1102 1015h4.6M894 1019h4.6M922 1019h4.6M890 1023h4.6M914 1023h4.6M974 1023h4.6M978 1027h4.6M886 1031h4.6M1062 1031h4.6M886 1035h4.6M982 1035h4.6M886 1039h4.6M986 1039h4.6M1070 1039h4.6M886 1043h4.6M910 1043h4.6M986 1043h4.6M890 1047h4.6M906 1047h4.6M898 1051h8.6"/>
<path stroke="#F8CB68" d="M1210 655h8.6M1170 659h8.6M1206 659h4.6M1218 659h4.6M1110 663h8.6M1126 667h8.6M1158 667h4.6M1142 671h16.6M1206 671h4.6M1218 671h4.6M1210 675h12.6M1178 679h4.6M1174 687h4.6M1174 691h4.6M1086 699h12.6M1170 707h4.6M1138 711h4.6M1166 711h4.6M1158 715h4.6M998 743h4.6M998 747h4.6M998 751h4.6M998 755h4.6M998 759h4.6M998 763h4.6M998 767h4.6M998 771h4.6M998 775h4.6M994 791h4.6M994 795h4.6M994 799h4.6M994 803h4.6M1102 803h4.6M1114 803h4.6M998 807h4.6M1098 807h4.6M1118 807h4.6M926 811h4.6M1002 811h4.6M938 815h4.6M1010 815h8.6M1022 819h4.6M946 823h4.6M1026 823h4.6M1086 823h4.6M1030 827h4.6M1030 831h4.6M1078 831h4.6M954 835h4.6M1034 835h4.6M1078 835h4.6M1126 835h4.6M1038 839h4.6M1054 839h8.6M1078 839h8.6M1130 839h4.6M966 843h4.6M1038 843h48.6M1130 843h4.6M970 847h4.6M1042 847h32.6M1130 847h4.6M982 851h8.6M1042 851h12.6M1130 851h8.6M998 855h4.6M1042 855h12.6M1130 855h8.6M1014 859h12.6M1038 859h20.6M1130 859h12.6M1026 863h32.6M1134 863h12.6M1034 867h20.6M1138 867h12.6M1046 871h8.6M1142 871h8.6M1050 875h4.6M1146 875h8.6M1210 875h4.6M1222 875h4.6M1050 879h4.6M1150 879h4.6M1046 883h4.6M1150 883h8.6M1046 887h4.6M1154 887h4.6M1046 891h4.6M1154 891h4.6M1042 895h4.6M1154 895h4.6M1042 899h4.6M1154 899h4.6M1038 903h4.6M1038 907h4.6M1034 911h4.6M1154 915h4.6M1150 919h4.6M866 923h4.6M1146 923h4.6M1034 927h4.6M902 931h4.6M1034 931h4.6M1142 931h4.6M1034 935h4.6M1138 935h4.6M1034 939h4.6M1130 939h4.6M1038 943h32.6M1126 943h4.6M1062 947h8.6M1066 951h4.6M1066 955h8.6M1118 955h4.6M902 959h4.6M1070 959h4.6M902 963h4.6M1070 963h4.6M1066 967h4.6M1114 967h4.6M1066 971h4.6M1114 971h4.6M1062 975h4.6M898 979h4.6M1062 979h4.6M898 983h4.6M1058 987h4.6M1058 991h4.6M1058 995h4.6M1058 999h4.6M1058 1003h4.6M1058 1007h4.6M1106 1007h4.6M1058 1011h4.6M934 1015h8.6M954 1015h12.6M1058 1015h4.6M918 1019h4.6M970 1019h4.6M1058 1019h4.6M1102 1019h4.6M894 1023h4.6M1058 1023h4.6M890 1027h4.6M910 1027h4.6M1058 1027h4.6M1098 1027h4.6M890 1031h4.6M910 1031h4.6M982 1031h4.6M1094 1031h4.6M890 1035h4.6M910 1035h4.6M986 1035h4.6M1062 1035h4.6M1090 1035h4.6M890 1039h4.6M910 1039h4.6M1066 1039h4.6M890 1043h8.6M906 1043h4.6M990 1043h4.6M894 1047h12.6"/>
<path stroke="#F7C459" d="M1206 655h4.6M1218 655h4.6M1166 659h4.6M1178 659h4.6M1202 659h4.6M1118 663h12.6M1162 663h4.6M1182 663h4.6M1202 663h4.6M1222 663h4.6M1134 667h4.6M1182 667h4.6M1202 667h4.6M1222 667h4.6M1182 671h4.6M1202 671h4.6M1222 671h4.6M1182 675h4.6M1206 675h4.6M1222 675h4.6M1182 679h4.6M1210 679h16.6M1178 683h4.6M1214 683h8.6M1174 695h4.6M1082 699h4.6M1174 699h4.6M1090 703h20.6M1122 703h4.6M1174 703h4.6M1130 707h4.6M1170 711h4.6M1142 715h4.6M1162 715h4.6M1150 719h4.6M1002 727h4.6M998 731h4.6M998 735h4.6M998 739h8.6M1002 743h4.6M1002 747h4.6M1002 751h4.6M1002 755h4.6M1002 759h4.6M1002 763h4.6M1002 767h4.6M1002 771h4.6M998 779h4.6M998 783h4.6M998 803h4.6M1002 807h4.6M1006 811h12.6M1122 811h4.6M930 815h8.6M1018 815h12.6M1094 815h4.6M1122 815h4.6M942 819h4.6M1026 819h8.6M1090 819h4.6M1122 819h4.6M1030 823h4.6M1082 823h4.6M1122 823h4.6M1034 827h4.6M1078 827h4.6M1122 827h4.6M950 831h4.6M1034 831h4.6M1074 831h4.6M1126 831h4.6M1038 835h8.6M1054 835h24.6M1130 835h4.6M958 839h4.6M1042 839h12.6M1062 839h16.6M1134 839h4.6M962 843h4.6M1134 843h4.6M1134 847h8.6M978 851h4.6M1138 851h4.6M994 855h4.6M1138 855h8.6M1010 859h4.6M1142 859h8.6M1018 863h8.6M1146 863h8.6M1026 867h8.6M1150 867h4.6M1034 871h12.6M1150 871h8.6M1210 871h4.6M1222 871h4.6M1042 875h8.6M1154 875h8.6M1042 879h8.6M1154 879h8.6M1210 879h4.6M1222 879h4.6M1042 883h4.6M1158 883h4.6M1042 887h4.6M1158 887h4.6M1042 891h4.6M1158 891h4.6M1038 895h4.6M1158 895h4.6M1038 899h4.6M1158 899h4.6M1158 903h4.6M1034 907h4.6M1158 907h4.6M1030 911h4.6M1158 911h4.6M1030 915h4.6M1158 915h4.6M882 919h8.6M1030 919h4.6M1154 919h4.6M898 923h4.6M1030 923h4.6M1150 923h4.6M902 927h4.6M1030 927h4.6M1146 927h4.6M1030 931h4.6M1030 935h4.6M906 939h4.6M1030 939h4.6M1134 939h4.6M906 943h4.6M1034 943h4.6M906 947h4.6M1038 947h24.6M906 951h4.6M1046 951h20.6M1122 951h4.6M1062 955h4.6M1066 959h4.6M1118 959h4.6M1066 963h4.6M902 967h4.6M902 971h4.6M1062 971h4.6M1114 975h4.6M1058 979h4.6M1058 983h4.6M898 987h4.6M1110 991h4.6M1054 995h4.6M898 999h4.6M898 1003h4.6M898 1007h4.6M898 1011h4.6M1106 1011h4.6M898 1015h4.6M926 1015h8.6M966 1015h4.6M898 1019h4.6M914 1019h4.6M974 1019h4.6M910 1023h4.6M978 1023h4.6M1102 1023h4.6M894 1027h4.6M982 1027h4.6M894 1031h4.6M986 1031h4.6M1058 1031h4.6M1098 1031h4.6M894 1035h4.6M990 1035h4.6M1058 1035h4.6M1094 1035h4.6M894 1039h4.6M906 1039h4.6M990 1039h4.6M1062 1039h4.6M898 1043h8.6M1062 1043h4.6"/>
<path stroke="#F6BE4B" d="M1210 651h8.6M1202 655h4.6M1114 659h8.6M1182 659h4.6M1222 659h4.6M1130 663h4.6M1198 663h4.6M1138 667h8.6M1150 667h8.6M1198 667h4.6M1186 671h4.6M1198 671h4.6M1186 675h4.6M1202 675h4.6M1226 675h4.6M1206 679h4.6M1182 683h4.6M1210 683h4.6M1222 683h4.6M1178 687h4.6M1214 687h8.6M1178 691h4.6M1178 695h4.6M1178 699h4.6M1078 703h12.6M1110 703h12.6M1174 707h4.6M1166 715h4.6M1146 719h4.6M1154 719h8.6M1006 723h4.6M1006 727h4.6M1002 731h8.6M1002 735h8.6M1006 739h4.6M1006 743h4.6M1006 747h4.6M1006 751h4.6M1006 755h4.6M1006 759h4.6M1006 763h4.6M1002 775h4.6M1002 779h4.6M998 787h4.6M998 791h4.6M998 795h4.6M998 799h4.6M1102 799h16.6M1002 803h4.6M1098 803h4.6M1118 803h4.6M1006 807h8.6M1094 807h4.6M1122 807h4.6M1018 811h12.6M1094 811h4.6M926 815h4.6M1030 815h4.6M1090 815h4.6M934 819h8.6M1034 819h4.6M1086 819h4.6M942 823h4.6M1034 823h4.6M1078 823h4.6M1126 823h4.6M946 827h4.6M1038 827h4.6M1074 827h4.6M1126 827h4.6M1038 831h8.6M1054 831h20.6M1130 831h4.6M950 835h4.6M1046 835h8.6M1134 835h4.6M954 839h4.6M1138 839h4.6M1138 843h4.6M966 847h4.6M1142 847h4.6M974 851h4.6M1142 851h8.6M986 855h8.6M1146 855h8.6M1006 859h4.6M1150 859h8.6M1014 863h4.6M1154 863h4.6M1022 867h4.6M1154 867h8.6M1026 871h8.6M1158 871h8.6M1030 875h12.6M1162 875h4.6M1034 879h8.6M1162 879h4.6M1038 883h4.6M1162 883h4.6M1214 883h4.6M1038 887h4.6M1162 887h4.6M1038 891h4.6M1162 891h4.6M1162 895h4.6M1034 899h4.6M1162 899h4.6M1034 903h4.6M1162 903h4.6M1030 907h4.6M862 919h20.6M890 919h8.6M1154 923h4.6M1150 927h4.6M906 931h4.6M1146 931h4.6M906 935h4.6M1142 935h4.6M1138 939h4.6M1030 943h4.6M1130 943h4.6M1034 947h4.6M1126 947h4.6M1038 951h8.6M906 955h4.6M1046 955h16.6M906 959h4.6M1058 959h8.6M1062 963h4.6M1062 967h4.6M1058 971h4.6M902 975h4.6M1058 975h4.6M1054 979h4.6M1114 979h4.6M1054 983h4.6M1054 987h4.6M898 991h4.6M1054 991h4.6M898 995h4.6M1110 995h4.6M1054 999h4.6M1054 1003h4.6M1054 1007h4.6M938 1011h20.6M1054 1011h4.6M902 1015h4.6M922 1015h4.6M970 1015h4.6M1054 1015h4.6M1106 1015h4.6M902 1019h4.6M910 1019h4.6M1054 1019h4.6M898 1023h12.6M982 1023h4.6M1054 1023h4.6M898 1027h4.6M906 1027h4.6M986 1027h4.6M1054 1027h4.6M1102 1027h4.6M906 1031h4.6M990 1031h4.6M898 1035h4.6M906 1035h4.6M994 1035h4.6M898 1039h8.6M994 1039h8.6M1058 1039h4.6M1058 1043h4.6"/>
<path stroke="#F6B83B" d="M1206 651h4.6M1218 651h4.6M1170 655h16.6M1222 655h4.6M1122 659h8.6M1162 659h4.6M1186 659h16.6M1134 663h4.6M1158 663h4.6M1186 663h12.6M1226 663h4.6M1146 667h4.6M1186 667h12.6M1226 667h4.6M1190 671h8.6M1226 671h4.6M1190 675h12.6M1186 679h8.6M1198 679h8.6M1226 679h4.6M1186 683h4.6M1202 683h8.6M1226 683h4.6M1182 687h4.6M1210 687h4.6M1222 687h4.6M1182 691h4.6M1214 691h8.6M1178 703h4.6M1074 707h20.6M1126 707h4.6M1178 707h4.6M1134 711h4.6M1174 711h4.6M1138 715h4.6M1170 715h4.6M1010 719h8.6M1142 719h4.6M1162 719h4.6M1010 723h4.6M1010 727h4.6M1010 731h4.6M1010 735h4.6M1010 739h4.6M1010 743h4.6M1010 747h4.6M1010 751h4.6M1010 755h4.6M1010 759h4.6M1006 767h4.6M1006 771h4.6M1006 775h4.6M1002 783h4.6M1002 799h4.6M1098 799h4.6M1118 799h4.6M1006 803h4.6M1094 803h4.6M1122 803h4.6M1014 807h16.6M1030 811h8.6M1090 811h4.6M1126 811h4.6M1034 815h4.6M1086 815h4.6M1126 815h4.6M926 819h8.6M1038 819h4.6M1082 819h4.6M1126 819h4.6M938 823h4.6M1038 823h4.6M1074 823h4.6M1130 823h4.6M1042 827h4.6M1058 827h16.6M1130 827h4.6M946 831h4.6M1046 831h8.6M1134 831h4.6M1138 835h4.6M1142 839h4.6M958 843h4.6M1142 843h8.6M962 847h4.6M1146 847h8.6M970 851h4.6M1150 851h8.6M978 855h8.6M1154 855h8.6M998 859h8.6M1158 859h4.6M1158 863h8.6M1018 867h4.6M1162 867h8.6M1214 867h8.6M1022 871h4.6M1166 871h4.6M1026 875h4.6M1166 875h4.6M1206 875h4.6M1226 875h4.6M1030 879h4.6M1166 879h4.6M1206 879h4.6M1034 883h4.6M1166 883h4.6M1210 883h4.6M1218 883h4.6M1034 887h4.6M1166 887h4.6M1034 891h4.6M1166 891h4.6M1034 895h4.6M1166 895h4.6M1030 903h4.6M1162 907h4.6M858 915h8.6M1026 915h4.6M1026 919h4.6M1158 919h4.6M902 923h4.6M1026 923h4.6M1026 927h4.6M1026 931h4.6M1026 935h4.6M1146 935h4.6M1026 939h4.6M1026 943h4.6M1134 943h4.6M1030 947h4.6M1034 951h4.6M1038 955h8.6M1122 955h4.6M1042 959h16.6M906 963h4.6M1050 963h12.6M1118 963h4.6M906 967h4.6M1054 967h8.6M1054 971h4.6M1054 975h4.6M902 979h4.6M902 983h4.6M1050 983h4.6M1114 983h4.6M1050 987h4.6M1050 991h4.6M1050 995h4.6M1050 999h4.6M1110 999h4.6M1050 1003h4.6M1110 1003h4.6M902 1007h4.6M902 1011h4.6M930 1011h8.6M958 1011h12.6M906 1015h4.6M918 1015h4.6M974 1015h4.6M906 1019h4.6M978 1019h4.6M1106 1019h4.6M902 1027h4.6M990 1027h4.6M898 1031h8.6M994 1031h4.6M1054 1031h4.6M902 1035h4.6M998 1035h4.6M1054 1035h4.6M1002 1039h4.6M1054 1039h4.6M1054 1043h4.6"/>
<path stroke="#F7B21C" d="M1210 647h8.6M1202 651h4.6M1118 655h4.6M1166 655h4.6M1186 655h16.6M1130 659h4.6M1226 659h4.6M1138 663h4.6M1154 663h4.6M1230 667h4.6M1230 671h4.6M1230 675h4.6M1194 679h4.6M1230 679h4.6M1190 683h12.6M1230 683h4.6M1186 687h4.6M1202 687h8.6M1226 687h4.6M1186 691h4.6M1206 691h8.6M1222 691h4.6M1182 695h4.6M1214 695h8.6M1182 699h4.6M1182 703h4.6M1094 707h12.6M1074 711h16.6M1178 711h4.6M1174 715h4.6M1018 719h8.6M1166 719h4.6M1014 723h8.6M1146 723h16.6M1014 727h4.6M1014 731h4.6M1014 739h4.6M1014 743h4.6M1014 747h4.6M1014 751h4.6M1014 755h4.6M1010 763h4.6M1010 767h4.6M1010 771h4.6M1010 775h4.6M1006 779h4.6M1002 787h4.6M1002 795h4.6M1098 795h24.6M1094 799h4.6M1122 799h4.6M1010 803h24.6M1126 803h4.6M1030 807h8.6M1090 807h4.6M1126 807h4.6M1038 811h4.6M1086 811h4.6M1038 815h8.6M1082 815h4.6M1130 815h4.6M1042 819h4.6M1074 819h8.6M1130 819h4.6M930 823h8.6M1042 823h32.6M1134 823h4.6M942 827h4.6M1046 827h12.6M1134 827h4.6M1138 831h4.6M946 835h4.6M1142 835h4.6M950 839h4.6M1146 839h8.6M954 843h4.6M1150 843h8.6M958 847h4.6M1154 847h8.6M966 851h4.6M1158 851h8.6M974 855h4.6M1162 855h4.6M990 859h8.6M1162 859h8.6M1010 863h4.6M1166 863h8.6M1014 867h4.6M1170 867h4.6M1222 867h4.6M1018 871h4.6M1170 871h4.6M1226 871h4.6M1022 875h4.6M1170 875h4.6M1026 879h4.6M1170 879h4.6M1226 879h4.6M1030 883h4.6M1170 883h4.6M1222 883h4.6M1030 887h4.6M1170 887h4.6M1030 891h4.6M1170 891h4.6M1030 895h4.6M1030 899h4.6M1166 899h4.6M1026 907h4.6M1026 911h4.6M1162 911h4.6M866 915h24.6M898 919h4.6M906 927h4.6M1154 927h4.6M1150 931h4.6M910 935h4.6M910 939h4.6M1142 939h4.6M910 943h4.6M910 947h4.6M1026 947h4.6M1130 947h4.6M910 951h4.6M1030 951h4.6M1126 951h4.6M910 955h4.6M1030 955h8.6M1034 959h8.6M1042 963h8.6M1046 967h8.6M1118 967h4.6M906 971h4.6M1050 971h4.6M1050 975h4.6M1050 979h4.6M902 987h4.6M1046 991h4.6M902 995h4.6M902 999h4.6M902 1003h4.6M1050 1007h4.6M1110 1007h4.6M906 1011h4.6M926 1011h4.6M970 1011h4.6M1050 1011h4.6M910 1015h8.6M978 1015h4.6M1050 1015h4.6M982 1019h4.6M1050 1019h4.6M986 1023h8.6M1050 1023h4.6M1106 1023h4.6M994 1027h4.6M1050 1027h4.6M998 1031h4.6M1050 1031h4.6M1102 1031h4.6M1002 1035h8.6M1050 1035h4.6M1006 1039h8.6M1050 1039h4.6M1050 1043h4.6"/>
<path stroke="#F7AC00" d="M1206 647h4.6M1218 647h4.6M1178 651h24.6M1222 651h4.6M1122 655h8.6M1226 655h4.6M1134 659h4.6M1230 659h4.6M1142 663h12.6M1230 663h4.6M1234 671h4.6M1234 675h4.6M1234 679h4.6M1190 687h12.6M1230 687h4.6M1190 691h4.6M1202 691h4.6M1226 691h4.6M1186 695h4.6M1206 695h8.6M1222 695h4.6M1186 699h4.6M1214 699h8.6M1106 707h4.6M1122 707h4.6M1182 707h4.6M1090 711h4.6M1130 711h4.6M1074 715h8.6M1170 719h4.6M1022 723h8.6M1142 723h4.6M1162 723h4.6M1018 727h8.6M1018 731h4.6M1014 735h8.6M1018 739h4.6M1018 743h4.6M1018 747h4.6M1018 751h4.6M1018 755h4.6M1014 759h4.6M1014 763h4.6M1014 767h4.6M1014 771h4.6M1014 775h4.6M1010 779h8.6M1006 783h4.6M1002 791h4.6M1102 791h16.6M1022 795h8.6M1094 795h4.6M1122 795h4.6M1006 799h32.6M1090 799h4.6M1126 799h4.6M1034 803h8.6M1090 803h4.6M1038 807h8.6M1086 807h4.6M1130 807h4.6M1042 811h4.6M1078 811h8.6M1130 811h4.6M1046 815h4.6M1070 815h12.6M1134 815h4.6M1046 819h28.6M1134 819h4.6M926 823h4.6M1138 823h4.6M934 827h8.6M1138 827h8.6M942 831h4.6M1142 831h8.6M1146 835h12.6M1154 839h8.6M1158 843h8.6M1162 847h8.6M962 851h4.6M1166 851h4.6M970 855h4.6M1166 855h8.6M982 859h8.6M1170 859h4.6M1002 863h8.6M1174 863h4.6M1010 867h4.6M1174 867h8.6M1014 871h4.6M1174 871h8.6M1206 871h4.6M1018 875h4.6M1174 875h4.6M1202 875h4.6M1022 879h4.6M1174 879h4.6M1202 879h4.6M1026 883h4.6M1174 883h4.6M1206 883h4.6M1026 887h4.6M1174 887h4.6M1026 891h4.6M1174 891h4.6M1170 895h4.6M1026 899h4.6M1026 903h4.6M1166 903h4.6M858 911h8.6M890 915h8.6M1162 915h4.6M902 919h4.6M1022 919h4.6M906 923h4.6M1022 923h4.6M1158 923h4.6M1022 927h4.6M910 931h4.6M1022 931h4.6M1022 935h4.6M1022 939h4.6M1022 943h4.6M1138 943h4.6M1022 947h4.6M1026 951h4.6M1026 955h4.6M910 959h4.6M1030 959h4.6M1122 959h4.6M910 963h4.6M1034 963h8.6M1038 967h8.6M1042 971h8.6M1118 971h4.6M906 975h4.6M1046 975h4.6M906 979h4.6M1046 979h4.6M1046 983h4.6M1046 987h4.6M1114 987h4.6M902 991h4.6M1046 995h4.6M1046 999h4.6M1046 1003h4.6M906 1007h4.6M934 1007h36.6M1046 1007h4.6M922 1011h4.6M974 1011h8.6M1046 1011h4.6M1110 1011h4.6M982 1015h4.6M1046 1015h4.6M986 1019h8.6M994 1023h8.6M998 1027h8.6M1106 1027h4.6M1002 1031h8.6M1010 1035h8.6M1046 1035h4.6M1014 1039h8.6M1046 1039h4.6M1042 1043h8.6"/>
<path stroke="#F5A200" d="M1210 643h8.6M1202 647h4.6M1222 647h4.6M1170 651h8.6M1226 651h4.6M1130 655h4.6M1162 655h4.6M1230 655h4.6M1138 659h4.6M1158 659h4.6M1234 659h4.6M1234 663h4.6M1234 667h4.6M1238 671h4.6M1238 675h4.6M1238 679h4.6M1234 683h4.6M1234 687h4.6M1194 691h8.6M1230 691h4.6M1190 695h4.6M1202 695h4.6M1226 695h8.6M1190 699h4.6M1206 699h8.6M1222 699h4.6M1186 703h4.6M1214 703h8.6M1110 707h12.6M1186 707h4.6M1094 711h4.6M1182 711h4.6M1082 715h8.6M1134 715h4.6M1178 715h4.6M1070 719h8.6M1138 719h4.6M1174 719h4.6M1030 723h4.6M1070 723h4.6M1166 723h4.6M1026 727h12.6M1146 727h12.6M1022 731h8.6M1022 735h4.6M1022 739h4.6M1022 743h4.6M1022 747h4.6M1022 751h4.6M1022 755h4.6M1018 759h8.6M1018 763h8.6M1018 767h8.6M1018 771h12.6M1018 775h12.6M1018 779h16.6M1010 783h24.6M1006 787h28.6M1006 791h4.6M1014 791h24.6M1090 791h12.6M1118 791h8.6M1006 795h16.6M1030 795h12.6M1086 795h8.6M1126 795h4.6M1038 799h8.6M1086 799h4.6M1130 799h4.6M1042 803h8.6M1082 803h8.6M1130 803h4.6M1046 807h4.6M1074 807h12.6M1134 807h4.6M1046 811h8.6M1066 811h12.6M1134 811h8.6M1050 815h20.6M1138 815h4.6M1138 819h8.6M1142 823h8.6M926 827h8.6M1146 827h12.6M938 831h4.6M1150 831h12.6M942 835h4.6M1158 835h8.6M946 839h4.6M1162 839h8.6M950 843h4.6M1166 843h4.6M954 847h4.6M1170 847h4.6M958 851h4.6M1170 851h4.6M966 855h4.6M1174 855h4.6M974 859h8.6M1174 859h8.6M998 863h4.6M1178 863h4.6M1006 867h4.6M1182 867h4.6M1210 867h4.6M1182 871h4.6M1202 871h4.6M1178 875h8.6M1198 875h4.6M1018 879h4.6M1178 879h4.6M1198 879h4.6M1022 883h4.6M1178 883h4.6M1202 883h4.6M1226 883h4.6M1178 887h4.6M1214 887h8.6M1178 891h4.6M1026 895h4.6M1174 895h4.6M1170 899h4.6M858 907h4.6M1166 907h4.6M866 911h8.6M1022 911h4.6M898 915h4.6M1022 915h4.6M906 919h4.6M910 927h4.6M1154 931h4.6M914 935h4.6M1150 935h4.6M914 939h4.6M1146 939h4.6M914 943h4.6M1142 943h4.6M914 947h4.6M1134 947h4.6M914 951h4.6M1022 951h4.6M914 955h4.6M1022 955h4.6M1026 959h4.6M1026 963h8.6M910 967h4.6M1030 967h8.6M910 971h4.6M1034 971h8.6M1038 975h8.6M1038 979h8.6M906 983h4.6M1042 983h4.6M1038 987h8.6M1038 991h8.6M1114 991h4.6M1038 995h8.6M906 999h4.6M1042 999h4.6M906 1003h4.6M1042 1003h4.6M926 1007h8.6M970 1007h12.6M1042 1007h4.6M910 1011h12.6M982 1011h8.6M1042 1011h4.6M986 1015h12.6M1042 1015h4.6M1110 1015h4.6M994 1019h8.6M1046 1019h4.6M1002 1023h8.6M1046 1023h4.6M1006 1027h8.6M1046 1027h4.6M1010 1031h12.6M1046 1031h4.6M1018 1035h12.6M1042 1035h4.6M1022 1039h24.6"/>
<path stroke="#F49A00" d="M1206 643h4.6M1218 643h8.6M1182 647h20.6M1226 647h4.6M1122 651h8.6M1166 651h4.6M1230 651h8.6M1134 655h4.6M1234 655h4.6M1142 659h4.6M1154 659h4.6M1238 659h4.6M1238 663h4.6M1238 667h8.6M1242 671h4.6M1242 675h4.6M1242 679h4.6M1238 683h4.6M1238 687h4.6M1234 691h8.6M1194 695h8.6M1234 695h4.6M1194 699h12.6M1226 699h8.6M1190 703h24.6M1222 703h8.6M1190 707h4.6M1210 707h12.6M1098 711h8.6M1126 711h4.6M1186 711h4.6M1090 715h4.6M1182 715h4.6M1078 719h8.6M1178 719h4.6M1074 723h4.6M1170 723h4.6M1070 727h4.6M1142 727h4.6M1158 727h8.6M1030 731h16.6M1062 731h8.6M1026 735h12.6M1026 739h8.6M1026 743h4.6M1026 747h4.6M1026 751h4.6M1026 755h4.6M1026 759h4.6M1026 763h4.6M1026 767h4.6M1030 771h4.6M1030 775h8.6M1034 779h4.6M1034 783h4.6M1090 783h12.6M1034 787h8.6M1086 787h44.6M1010 791h4.6M1038 791h4.6M1082 791h8.6M1126 791h8.6M1042 795h4.6M1078 795h8.6M1130 795h8.6M1046 799h4.6M1070 799h16.6M1134 799h8.6M1050 803h4.6M1066 803h16.6M1134 803h16.6M1050 807h24.6M1138 807h16.6M1054 811h12.6M1142 811h16.6M854 815h8.6M1142 815h20.6M1146 819h20.6M1150 823h20.6M1158 827h12.6M930 831h8.6M1162 831h12.6M938 835h4.6M1166 835h8.6M942 839h4.6M1170 839h4.6M946 843h4.6M1170 843h8.6M950 847h4.6M1174 847h4.6M954 851h4.6M1174 851h8.6M962 855h4.6M1178 855h4.6M966 859h8.6M1182 859h4.6M982 863h16.6M1182 863h4.6M1186 867h4.6M1226 867h4.6M1010 871h4.6M1186 871h16.6M1230 871h4.6M1014 875h4.6M1186 875h12.6M1230 875h4.6M1182 879h16.6M1018 883h4.6M1182 883h20.6M1022 887h4.6M1182 887h8.6M1206 887h8.6M1222 887h4.6M1022 891h4.6M1182 891h4.6M1022 895h4.6M1178 895h4.6M1022 899h4.6M854 903h4.6M1022 903h4.6M1170 903h4.6M862 907h8.6M1022 907h4.6M874 911h16.6M1166 911h4.6M902 915h4.6M1162 919h4.6M910 923h4.6M1018 923h4.6M914 927h4.6M1018 927h4.6M1158 927h4.6M914 931h4.6M1018 931h4.6M1018 935h4.6M1018 939h4.6M1018 943h4.6M1018 947h4.6M1018 951h4.6M1130 951h4.6M1126 955h4.6M914 959h4.6M1022 959h4.6M914 963h4.6M1022 963h4.6M1122 963h4.6M1022 967h8.6M1026 971h8.6M910 975h4.6M1030 975h8.6M1118 975h4.6M910 979h4.6M1034 979h4.6M1034 983h8.6M906 987h4.6M1034 987h4.6M906 991h4.6M1030 991h8.6M906 995h4.6M1034 995h4.6M1114 995h4.6M1034 999h8.6M910 1003h4.6M938 1003h12.6M970 1003h4.6M1034 1003h8.6M910 1007h4.6M918 1007h8.6M982 1007h12.6M1034 1007h8.6M990 1011h12.6M1034 1011h8.6M998 1015h12.6M1034 1015h8.6M1002 1019h16.6M1038 1019h8.6M1110 1019h4.6M1010 1023h16.6M1038 1023h8.6M1110 1023h4.6M1014 1027h32.6M1022 1031h24.6M1030 1035h12.6"/>
<path stroke="#F39200" d="M1218 635h4.6M1210 639h20.6M1202 643h4.6M1226 643h8.6M1178 647h4.6M1230 647h8.6M1130 651h4.6M1238 651h4.6M1138 655h4.6M1158 655h4.6M1238 655h4.6M1146 659h8.6M1242 659h4.6M1242 663h4.6M1246 675h4.6M1246 679h4.6M1242 683h8.6M1242 687h4.6M1242 691h4.6M1238 695h4.6M1234 699h8.6M1230 703h8.6M1194 707h16.6M1222 707h12.6M1106 711h4.6M1190 711h8.6M1206 711h20.6M1186 715h4.6M1086 719h4.6M1182 719h4.6M1078 723h4.6M1138 723h4.6M1174 723h4.6M1074 727h4.6M1166 727h4.6M1070 731h8.6M1150 731h8.6M1038 735h40.6M1034 739h8.6M1070 739h8.6M1030 743h8.6M1030 747h4.6M1030 751h4.6M1030 755h4.6M1030 759h4.6M1030 763h4.6M1030 767h8.6M1034 771h4.6M1038 775h4.6M1086 775h4.6M1038 779h4.6M1082 779h20.6M1038 783h4.6M1078 783h12.6M1102 783h32.6M1042 787h4.6M1078 787h8.6M1130 787h12.6M1042 791h8.6M1074 791h8.6M1134 791h20.6M1046 795h8.6M1066 795h12.6M1138 795h32.6M1050 799h20.6M1142 799h28.6M1054 803h12.6M1150 803h20.6M1154 807h16.6M1158 811h12.6M1162 815h12.6M850 819h16.6M1166 819h8.6M846 823h12.6M1170 823h4.6M842 827h4.6M1170 827h4.6M838 831h4.6M922 831h8.6M1174 831h4.6M930 835h8.6M1174 835h4.6M1174 839h8.6M942 843h4.6M1178 843h4.6M946 847h4.6M1178 847h4.6M950 851h4.6M1182 851h4.6M958 855h4.6M1182 855h4.6M962 859h4.6M1186 859h4.6M970 863h12.6M1186 863h4.6M1218 863h8.6M998 867h8.6M1190 867h8.6M1206 867h4.6M1006 871h4.6M1010 875h4.6M1014 879h4.6M1018 887h4.6M1190 887h16.6M1186 891h4.6M854 899h4.6M1174 899h4.6M858 903h8.6M870 907h8.6M890 911h12.6M1018 911h4.6M906 915h4.6M1018 915h4.6M910 919h4.6M1018 919h4.6M914 923h4.6M918 935h4.6M1014 935h4.6M918 939h4.6M1014 939h4.6M1150 939h4.6M918 943h4.6M1014 943h4.6M918 947h4.6M1014 947h4.6M1138 947h4.6M918 951h4.6M1014 951h4.6M1014 955h8.6M1014 959h8.6M1014 963h8.6M914 967h4.6M1014 967h8.6M1122 967h4.6M914 971h4.6M1014 971h12.6M1014 975h16.6M1014 979h20.6M1118 979h4.6M910 983h4.6M1010 983h24.6M1010 987h24.6M1006 991h24.6M1002 995h32.6M910 999h4.6M998 999h36.6M1114 999h4.6M914 1003h4.6M926 1003h12.6M950 1003h20.6M974 1003h60.6M914 1007h4.6M994 1007h40.6M1002 1011h32.6M1010 1015h24.6M1018 1019h20.6M1026 1023h12.6M1110 1027h4.6"/>
<path stroke="#F28B00" d="M1218 631h8.6M1214 635h4.6M1222 635h12.6M1206 639h4.6M1230 639h8.6M1194 643h8.6M1234 643h8.6M1126 647h4.6M1170 647h8.6M1238 647h4.6M1134 651h4.6M1162 651h4.6M1142 655h4.6M1246 687h4.6M1246 691h4.6M1242 695h8.6M1242 699h4.6M1238 703h8.6M1234 707h8.6M1110 711h4.6M1122 711h4.6M1198 711h8.6M1226 711h12.6M1094 715h4.6M1130 715h4.6M1190 715h44.6M1134 719h4.6M1186 719h4.6M1222 719h4.6M1082 723h4.6M1178 723h4.6M1078 727h4.6M1138 727h4.6M1170 727h4.6M1078 731h4.6M1146 731h4.6M1158 731h8.6M1078 735h4.6M1042 739h28.6M1078 739h4.6M1038 743h8.6M1062 743h20.6M1034 747h8.6M1070 747h8.6M1034 751h4.6M1034 755h4.6M1034 759h4.6M1034 763h4.6M1078 763h4.6M1038 767h4.6M1074 767h12.6M1038 771h4.6M1074 771h16.6M1042 775h4.6M1074 775h12.6M1090 775h8.6M1042 779h4.6M1074 779h8.6M1102 779h8.6M1122 779h16.6M1042 783h8.6M1074 783h4.6M1134 783h16.6M1046 787h4.6M1070 787h8.6M1142 787h28.6M1050 791h4.6M1066 791h8.6M1154 791h20.6M1054 795h12.6M1170 795h4.6M1170 799h8.6M1170 803h8.6M1170 807h8.6M1170 811h8.6M1174 815h4.6M1174 819h4.6M858 823h12.6M1174 823h4.6M846 827h20.6M1174 827h4.6M842 831h12.6M1178 831h4.6M838 835h8.6M918 835h12.6M1178 835h4.6M834 839h8.6M934 839h8.6M834 843h8.6M942 847h4.6M1182 847h4.6M946 851h4.6M954 855h4.6M1186 855h4.6M958 859h4.6M962 863h8.6M1190 863h4.6M1214 863h4.6M978 867h20.6M1198 867h8.6M1230 867h4.6M1002 871h4.6M1006 875h4.6M1010 879h4.6M1014 883h4.6M850 891h4.6M1018 891h4.6M1190 891h4.6M850 895h8.6M1018 895h4.6M1182 895h4.6M858 899h8.6M1018 899h4.6M866 903h8.6M1018 903h4.6M878 907h12.6M1018 907h4.6M1170 907h4.6M902 911h4.6M910 915h4.6M1166 915h4.6M914 919h4.6M1014 923h4.6M1162 923h4.6M918 927h4.6M1014 927h4.6M918 931h4.6M1014 931h4.6M1158 931h4.6M1154 935h4.6M1146 943h4.6M1010 947h4.6M1010 951h4.6M1134 951h4.6M918 955h4.6M1010 955h4.6M918 959h4.6M1010 959h4.6M1126 959h4.6M918 963h4.6M1006 963h8.6M1006 967h8.6M1006 971h8.6M914 975h4.6M1002 975h12.6M914 979h4.6M1002 979h12.6M998 983h12.6M1118 983h4.6M910 987h4.6M994 987h16.6M910 991h4.6M990 991h16.6M910 995h4.6M982 995h20.6M914 999h4.6M970 999h28.6M918 1003h8.6M1114 1003h4.6M1114 1007h4.6"/>
<path stroke="#F18000" d="M1218 627h12.6M1214 631h4.6M1226 631h12.6M1210 635h4.6M1234 635h4.6M1202 639h4.6M1182 643h12.6M1130 647h4.6M1166 647h4.6M1146 655h4.6M1154 655h4.6M1246 699h4.6M1246 703h4.6M1242 707h8.6M1114 711h8.6M1238 711h8.6M1098 715h4.6M1234 715h8.6M1090 719h4.6M1190 719h32.6M1226 719h12.6M1134 723h4.6M1182 723h8.6M1214 723h20.6M1082 727h4.6M1174 727h8.6M1142 731h4.6M1166 731h4.6M1082 739h4.6M1046 743h16.6M1082 743h4.6M1042 747h4.6M1062 747h8.6M1078 747h4.6M1038 751h4.6M1066 751h16.6M1038 755h4.6M1070 755h12.6M1038 759h4.6M1070 759h12.6M1038 763h8.6M1070 763h8.6M1082 763h4.6M1042 767h4.6M1070 767h4.6M1086 767h4.6M1042 771h4.6M1070 771h4.6M1090 771h8.6M1046 775h4.6M1070 775h4.6M1098 775h8.6M1126 775h16.6M1046 779h4.6M1070 779h4.6M1110 779h12.6M1138 779h16.6M1050 783h4.6M1066 783h8.6M1150 783h24.6M1050 787h20.6M1170 787h8.6M1054 791h12.6M1174 791h4.6M1174 795h8.6M1178 799h4.6M1178 803h4.6M1178 807h4.6M1178 811h4.6M1178 815h4.6M1178 819h4.6M1178 823h4.6M866 827h4.6M1178 827h4.6M854 831h20.6M846 835h12.6M842 839h12.6M914 839h20.6M1182 839h4.6M842 843h8.6M930 843h12.6M1182 843h4.6M838 847h8.6M938 847h4.6M838 851h4.6M942 851h4.6M1186 851h4.6M946 855h8.6M954 859h4.6M1190 859h4.6M958 863h4.6M1194 863h4.6M1210 863h4.6M1226 863h4.6M966 867h12.6M998 871h4.6M850 887h4.6M1014 887h4.6M854 891h4.6M1194 891h4.6M1206 891h20.6M858 895h4.6M1186 895h4.6M866 899h4.6M1178 899h4.6M874 903h8.6M1174 903h4.6M890 907h12.6M906 911h8.6M914 915h4.6M1014 915h4.6M918 919h4.6M1014 919h4.6M918 923h4.6M1010 931h4.6M922 935h4.6M1010 935h4.6M922 939h4.6M1010 939h4.6M922 943h4.6M1010 943h4.6M922 947h4.6M1006 947h4.6M1142 947h4.6M922 951h4.6M1006 951h4.6M1006 955h4.6M1130 955h4.6M1002 959h8.6M1002 963h4.6M918 967h4.6M998 967h8.6M918 971h4.6M998 971h8.6M1122 971h4.6M998 975h4.6M994 979h8.6M914 983h4.6M990 983h8.6M914 987h4.6M986 987h8.6M1118 987h4.6M914 991h4.6M982 991h8.6M914 995h4.6M974 995h8.6M918 999h52.6M1114 1011h4.6M1114 1015h4.6M1114 1019h4.6"/>
<path stroke="#F07500" d="M1222 623h4.6M1214 627h4.6M1230 627h4.6M1210 631h4.6M1206 635h4.6M1198 639h4.6M1178 643h4.6M1134 647h4.6M1162 647h4.6M1138 651h4.6M1158 651h4.6M1150 655h4.6M1250 703h4.6M1250 707h4.6M1246 711h8.6M1102 715h8.6M1126 715h4.6M1242 715h8.6M1238 719h8.6M1086 723h4.6M1190 723h24.6M1234 723h8.6M1134 727h4.6M1182 727h4.6M1214 727h28.6M1082 731h4.6M1170 731h8.6M1222 731h16.6M1082 735h4.6M1146 735h20.6M1046 747h16.6M1082 747h4.6M1042 751h12.6M1058 751h8.6M1082 751h4.6M1042 755h8.6M1062 755h8.6M1082 755h4.6M1042 759h8.6M1066 759h4.6M1082 759h4.6M1046 763h4.6M1066 763h4.6M1086 763h4.6M1046 767h8.6M1062 767h8.6M1090 767h4.6M1046 771h24.6M1098 771h4.6M1126 771h20.6M1050 775h20.6M1106 775h4.6M1118 775h8.6M1142 775h16.6M1050 779h20.6M1154 779h20.6M1054 783h12.6M1174 783h4.6M1178 787h4.6M1178 791h4.6M1182 795h4.6M1182 799h4.6M1182 803h8.6M1182 807h4.6M1182 811h4.6M1182 815h4.6M1182 819h4.6M1182 823h4.6M1182 827h4.6M1182 831h4.6M858 835h20.6M1182 835h4.6M854 839h8.6M850 843h8.6M914 843h16.6M846 847h8.6M926 847h12.6M1186 847h4.6M842 851h8.6M934 851h8.6M842 855h8.6M942 855h4.6M1190 855h4.6M842 859h4.6M946 859h8.6M1194 859h4.6M842 863h4.6M950 863h8.6M1198 863h12.6M1230 863h4.6M846 867h4.6M958 867h8.6M1234 867h4.6M846 871h4.6M966 871h32.6M846 875h4.6M1002 875h4.6M846 879h8.6M1006 879h4.6M850 883h4.6M1010 883h4.6M854 887h4.6M858 891h4.6M1014 891h4.6M1198 891h8.6M862 895h8.6M1014 895h4.6M870 899h8.6M1014 899h4.6M882 903h8.6M1014 903h4.6M902 907h12.6M1014 907h4.6M914 911h4.6M1014 911h4.6M1170 911h4.6M918 915h4.6M1166 919h4.6M922 923h4.6M1010 923h4.6M922 927h4.6M1010 927h4.6M1162 927h4.6M922 931h4.6M1006 935h4.6M1006 939h4.6M1154 939h4.6M926 943h4.6M1006 943h4.6M1002 947h4.6M1002 951h4.6M1138 951h4.6M922 955h4.6M998 955h8.6M922 959h4.6M998 959h4.6M922 963h4.6M994 963h8.6M1126 963h4.6M994 967h4.6M994 971h4.6M918 975h4.6M994 975h4.6M918 979h4.6M990 979h4.6M918 983h4.6M986 983h4.6M918 987h4.6M982 987h4.6M918 991h4.6M978 991h4.6M918 995h20.6M970 995h4.6M1114 1023h4.6"/>
<path stroke="#EE6A00" d="M1218 623h4.6M1226 623h8.6M1194 639h4.6M1130 643h4.6M1174 643h4.6M1138 647h4.6M1142 651h8.6M1154 651h4.6M1110 715h4.6M1122 715h4.6M1250 715h4.6M1094 719h4.6M1130 719h4.6M1246 719h8.6M1130 723h4.6M1242 723h8.6M1086 727h4.6M1186 727h28.6M1242 727h8.6M1138 731h4.6M1178 731h4.6M1210 731h12.6M1238 731h8.6M1166 735h8.6M1218 735h24.6M1222 739h20.6M1086 743h4.6M1226 743h16.6M1086 747h4.6M1230 747h8.6M1054 751h4.6M1086 751h4.6M1050 755h12.6M1050 759h16.6M1086 759h4.6M1050 763h16.6M1090 763h4.6M1054 767h8.6M1094 767h8.6M1126 767h28.6M1102 771h4.6M1122 771h4.6M1146 771h20.6M1110 775h8.6M1158 775h20.6M1174 779h8.6M1178 783h4.6M1182 787h4.6M1182 791h12.6M1186 795h8.6M1186 799h8.6M1190 803h4.6M1186 807h8.6M1186 811h4.6M1186 815h4.6M1186 819h4.6M862 839h20.6M858 843h8.6M898 843h16.6M1186 843h4.6M854 847h8.6M910 847h16.6M850 851h8.6M918 851h16.6M850 855h4.6M926 855h16.6M846 859h8.6M938 859h8.6M1218 859h8.6M846 863h8.6M942 863h8.6M850 867h4.6M950 867h8.6M850 871h4.6M954 871h12.6M850 875h4.6M966 875h36.6M854 879h4.6M1002 879h4.6M854 883h8.6M1006 883h4.6M858 887h8.6M1010 887h4.6M862 891h8.6M1010 891h4.6M870 895h8.6M1190 895h4.6M878 899h8.6M1182 899h4.6M890 903h24.6M914 907h8.6M1174 907h4.6M918 911h4.6M922 915h4.6M1010 915h4.6M922 919h4.6M1010 919h4.6M1006 927h4.6M926 931h4.6M1006 931h4.6M926 935h4.6M1158 935h4.6M926 939h4.6M1002 939h4.6M1002 943h4.6M1150 943h4.6M926 947h4.6M998 947h4.6M1146 947h4.6M926 951h4.6M998 951h4.6M994 955h4.6M1134 955h4.6M994 959h4.6M922 967h4.6M990 967h4.6M922 971h4.6M990 971h4.6M922 975h4.6M990 975h4.6M1122 975h4.6M922 979h4.6M986 979h4.6M922 983h4.6M982 983h4.6M922 987h4.6M978 987h4.6M922 991h8.6M974 991h4.6M1118 991h4.6M938 995h12.6M962 995h8.6"/>
<path stroke="#EC5E00" d="M1222 619h8.6M1214 623h4.6M1210 627h4.6M1206 631h4.6M1202 635h4.6M1130 639h4.6M1186 639h8.6M1134 643h4.6M1166 643h8.6M1158 647h4.6M1150 651h4.6M1114 715h8.6M1090 723h4.6M1250 723h4.6M1130 727h4.6M1086 731h4.6M1182 731h8.6M1202 731h8.6M1246 731h4.6M1142 735h4.6M1174 735h8.6M1210 735h8.6M1242 735h8.6M1086 739h4.6M1146 739h24.6M1214 739h8.6M1242 739h4.6M1218 743h8.6M1242 743h4.6M1090 747h4.6M1222 747h8.6M1238 747h4.6M1226 751h12.6M1086 755h4.6M1094 763h4.6M1130 763h28.6M1102 767h4.6M1122 767h4.6M1154 767h12.6M1106 771h8.6M1118 771h4.6M1166 771h12.6M1178 775h8.6M1182 779h8.6M1182 783h28.6M1186 787h24.6M1194 791h20.6M1194 795h16.6M1194 799h12.6M1194 803h8.6M1194 807h4.6M1190 811h4.6M1190 815h4.6M1186 823h4.6M1186 827h4.6M1186 831h4.6M1186 835h4.6M1186 839h4.6M866 843h32.6M862 847h8.6M898 847h12.6M858 851h8.6M906 851h12.6M1190 851h4.6M854 855h8.6M910 855h16.6M1194 855h4.6M854 859h4.6M918 859h20.6M1198 859h4.6M1214 859h4.6M1226 859h4.6M854 863h4.6M926 863h16.6M1234 863h4.6M854 867h4.6M934 867h16.6M854 871h4.6M942 871h12.6M854 875h8.6M950 875h16.6M858 879h4.6M962 879h20.6M994 879h8.6M862 883h4.6M1002 883h4.6M866 887h4.6M1006 887h4.6M870 891h8.6M878 895h8.6M1010 895h4.6M1194 895h4.6M1210 895h12.6M886 899h40.6M1010 899h4.6M1186 899h4.6M914 903h12.6M1010 903h4.6M1178 903h4.6M922 907h8.6M1010 907h4.6M922 911h8.6M1010 911h4.6M926 915h4.6M1170 915h4.6M926 919h4.6M926 923h4.6M1006 923h4.6M1166 923h4.6M926 927h4.6M1002 931h4.6M1162 931h4.6M1002 935h4.6M930 939h4.6M998 939h4.6M930 943h4.6M998 943h4.6M930 947h4.6M994 947h4.6M990 951h8.6M1142 951h4.6M926 955h4.6M990 955h4.6M926 959h4.6M990 959h4.6M1130 959h4.6M926 963h4.6M990 963h4.6M926 967h4.6M1126 967h4.6M926 971h4.6M986 971h4.6M926 975h4.6M986 975h4.6M926 979h4.6M982 979h4.6M926 983h4.6M978 983h4.6M926 987h8.6M974 987h4.6M930 991h8.6M970 991h4.6M950 995h12.6M1118 995h4.6"/>
<path stroke="#E95200" d="M1218 619h4.6M1198 635h4.6M1134 639h4.6M1178 639h8.6M1138 643h4.6M1162 643h4.6M1142 647h8.6M1154 647h4.6M1098 719h4.6M1126 719h4.6M1134 731h4.6M1190 731h12.6M1086 735h4.6M1138 735h4.6M1182 735h8.6M1202 735h8.6M1170 739h12.6M1206 739h8.6M1246 739h4.6M1090 743h8.6M1150 743h16.6M1210 743h8.6M1246 743h4.6M1094 747h4.6M1210 747h12.6M1242 747h4.6M1090 751h4.6M1214 751h12.6M1238 751h4.6M1090 755h4.6M1214 755h16.6M1234 755h4.6M1090 759h4.6M1138 759h24.6M1098 763h8.6M1126 763h4.6M1158 763h12.6M1106 767h4.6M1166 767h20.6M1114 771h4.6M1178 771h32.6M1186 775h28.6M1190 779h28.6M1210 783h8.6M1210 787h12.6M1214 791h8.6M1210 795h16.6M1206 799h28.6M1202 803h32.6M1198 807h8.6M1222 807h12.6M1194 811h4.6M1190 819h4.6M1190 823h4.6M870 847h28.6M1190 847h4.6M866 851h8.6M894 851h12.6M862 855h8.6M902 855h8.6M858 859h8.6M906 859h12.6M1202 859h12.6M1230 859h4.6M858 863h8.6M910 863h16.6M1238 863h4.6M858 867h4.6M910 867h24.6M858 871h8.6M914 871h28.6M862 875h4.6M918 875h32.6M862 879h8.6M918 879h44.6M982 879h12.6M866 883h8.6M918 883h64.6M994 883h8.6M870 887h8.6M914 887h32.6M1002 887h4.6M878 891h8.6M906 891h36.6M1006 891h4.6M886 895h52.6M1006 895h4.6M1198 895h12.6M926 899h12.6M1006 899h4.6M926 903h12.6M1006 903h4.6M930 907h4.6M1006 907h4.6M930 911h4.6M1006 911h4.6M1174 911h4.6M930 915h4.6M1006 915h4.6M1006 919h4.6M1002 923h4.6M930 927h4.6M1002 927h4.6M930 931h4.6M998 931h4.6M930 935h4.6M998 935h4.6M994 939h4.6M1158 939h4.6M994 943h4.6M990 947h4.6M930 951h4.6M986 951h4.6M986 955h4.6M1138 955h4.6M986 959h4.6M986 963h4.6M986 967h4.6M982 975h4.6M978 979h4.6M1122 979h4.6M930 983h4.6M934 987h4.6M938 991h8.6M966 991h4.6M1118 999h4.6M1118 1015h4.6M1118 1019h4.6"/>
<path stroke="#E54800" d="M1218 615h8.6M1214 619h4.6M1210 623h4.6M1206 627h4.6M1202 631h4.6M1194 635h4.6M1170 639h8.6M1142 643h4.6M1158 643h4.6M1150 647h4.6M1102 719h8.6M1122 719h4.6M1094 723h4.6M1126 723h4.6M1090 727h4.6M1190 735h12.6M1090 739h8.6M1142 739h4.6M1182 739h12.6M1198 739h8.6M1098 743h4.6M1146 743h4.6M1166 743h20.6M1202 743h8.6M1146 747h24.6M1202 747h8.6M1246 747h4.6M1094 751h4.6M1146 751h20.6M1202 751h12.6M1242 751h4.6M1142 755h28.6M1198 755h16.6M1238 755h4.6M1094 759h12.6M1130 759h8.6M1162 759h64.6M1106 763h4.6M1122 763h4.6M1170 763h56.6M1110 767h4.6M1118 767h4.6M1186 767h36.6M1210 771h12.6M1214 775h8.6M1218 779h4.6M1218 783h8.6M1222 787h4.6M1222 791h8.6M1226 795h4.6M1234 803h4.6M1206 807h16.6M1198 811h8.6M1218 811h16.6M1194 815h4.6M1194 819h4.6M1190 827h4.6M874 851h20.6M1194 851h4.6M870 855h8.6M890 855h12.6M1198 855h4.6M866 859h8.6M898 859h8.6M1234 859h4.6M866 863h4.6M898 863h12.6M862 867h8.6M902 867h8.6M866 871h4.6M906 871h8.6M866 875h4.6M906 875h12.6M870 879h4.6M906 879h12.6M874 883h4.6M902 883h16.6M982 883h12.6M878 887h8.6M898 887h16.6M946 887h56.6M886 891h20.6M942 891h16.6M1002 891h4.6M938 895h12.6M1002 895h4.6M938 899h8.6M1002 899h4.6M1190 899h4.6M938 903h4.6M1182 903h4.6M934 907h8.6M934 911h4.6M1002 911h4.6M934 915h4.6M1002 915h4.6M930 919h4.6M1002 919h4.6M1170 919h4.6M930 923h4.6M998 923h4.6M998 927h4.6M1166 927h4.6M994 931h4.6M994 935h4.6M1162 935h4.6M934 939h4.6M990 939h4.6M934 943h4.6M986 943h8.6M1154 943h4.6M934 947h4.6M982 947h8.6M1150 947h4.6M982 951h4.6M1146 951h4.6M930 955h4.6M982 955h4.6M930 959h4.6M1134 959h4.6M930 963h4.6M1130 963h4.6M930 967h4.6M982 967h4.6M930 971h4.6M982 971h4.6M1126 971h4.6M930 975h4.6M930 979h4.6M934 983h4.6M974 983h4.6M1122 983h4.6M938 987h4.6M970 987h4.6M946 991h20.6M1118 1003h4.6M1118 1007h4.6M1118 1011h4.6"/>
<path stroke="#DE3F00" d="M1134 635h4.6M1186 635h8.6M1138 639h8.6M1166 639h4.6M1146 643h12.6M1110 719h4.6M1118 719h4.6M1126 727h4.6M1090 731h4.6M1130 731h4.6M1090 735h4.6M1134 735h4.6M1138 739h4.6M1194 739h4.6M1142 743h4.6M1186 743h16.6M1098 747h4.6M1142 747h4.6M1170 747h32.6M1098 751h4.6M1138 751h8.6M1166 751h36.6M1094 755h12.6M1134 755h8.6M1170 755h28.6M1106 759h4.6M1126 759h4.6M1114 767h4.6M1226 787h4.6M1230 791h4.6M1230 795h4.6M1234 799h4.6M1234 807h4.6M1206 811h12.6M1234 811h4.6M1198 815h4.6M1218 815h16.6M1226 819h4.6M1194 823h4.6M1190 831h4.6M1190 835h4.6M1190 839h4.6M1190 843h4.6M878 855h12.6M1202 855h4.6M1214 855h20.6M874 859h24.6M1238 859h4.6M870 863h8.6M894 863h4.6M870 867h4.6M894 867h8.6M870 871h4.6M898 871h8.6M870 875h8.6M898 875h8.6M874 879h8.6M894 879h12.6M878 883h24.6M886 887h12.6M958 891h44.6M950 895h12.6M998 895h4.6M946 899h4.6M998 899h4.6M1214 899h8.6M942 903h4.6M998 903h8.6M942 907h4.6M998 907h8.6M1178 907h4.6M938 911h4.6M998 911h4.6M998 915h4.6M1174 915h4.6M934 919h4.6M998 919h4.6M934 923h4.6M994 923h4.6M994 927h4.6M934 931h4.6M934 935h4.6M990 935h4.6M986 939h4.6M982 943h4.6M978 947h4.6M934 951h4.6M978 951h4.6M1142 955h4.6M982 959h4.6M982 963h4.6M934 971h4.6M978 971h4.6M934 975h4.6M978 975h4.6M934 979h4.6M974 979h4.6M938 983h4.6M970 983h4.6M942 987h4.6M966 987h4.6M1122 987h4.6"/>
<path stroke="#D53500" d="M1214 615h4.6M1210 619h4.6M1206 623h4.6M1198 631h4.6M1138 635h4.6M1178 635h8.6M1146 639h4.6M1158 639h8.6M1114 719h4.6M1098 723h4.6M1122 723h4.6M1094 727h4.6M1094 735h4.6M1098 739h4.6M1138 743h4.6M1102 747h4.6M1138 747h4.6M1102 751h4.6M1110 763h4.6M1118 763h4.6M1230 787h4.6M1234 795h4.6M1202 815h16.6M1234 815h4.6M1198 819h4.6M1218 819h8.6M1230 819h8.6M1222 823h12.6M1194 827h4.6M1206 855h8.6M1234 855h8.6M878 863h16.6M874 867h20.6M874 871h24.6M878 875h20.6M882 879h12.6M962 895h36.6M950 899h12.6M982 899h16.6M1194 899h4.6M1206 899h8.6M946 903h4.6M994 903h4.6M1186 903h4.6M994 907h4.6M942 911h4.6M994 911h4.6M938 915h4.6M994 915h4.6M994 919h4.6M1170 923h4.6M934 927h4.6M990 927h4.6M990 931h4.6M1166 931h4.6M986 935h4.6M982 939h4.6M1162 939h4.6M938 943h4.6M978 943h4.6M1158 943h4.6M938 947h4.6M1154 947h4.6M1150 951h4.6M934 955h4.6M978 955h4.6M934 959h4.6M978 959h4.6M1138 959h4.6M934 963h4.6M978 963h4.6M934 967h4.6M978 967h4.6M1130 967h4.6M974 975h4.6M938 979h4.6M946 987h4.6M962 987h4.6M1122 991h4.6M1122 1019h4.6"/>
<path stroke="#CC2C00" d="M1210 615h4.6M1202 627h4.6M1138 631h4.6M1194 631h4.6M1142 635h4.6M1166 635h12.6M1150 639h8.6M1094 731h4.6M1126 731h4.6M1130 735h4.6M1134 739h4.6M1102 743h4.6M1134 743h4.6M1134 747h4.6M1134 751h4.6M1106 755h4.6M1130 755h4.6M1110 759h4.6M1122 759h4.6M1114 763h4.6M1234 791h4.6M1238 803h4.6M1238 807h4.6M1238 811h4.6M1202 819h4.6M1214 819h4.6M1198 823h4.6M1218 823h4.6M1234 823h4.6M1222 827h12.6M1194 847h4.6M1198 851h4.6M1222 851h12.6M1242 855h4.6M962 899h20.6M1198 899h8.6M950 903h8.6M974 903h20.6M946 907h4.6M986 907h8.6M1182 907h4.6M986 911h8.6M1178 911h4.6M942 915h4.6M990 915h4.6M938 919h4.6M990 919h4.6M1174 919h4.6M938 923h4.6M990 923h4.6M986 927h4.6M986 931h4.6M938 935h4.6M982 935h4.6M1166 935h4.6M938 939h4.6M938 951h4.6M1146 955h4.6M1134 963h4.6M938 971h4.6M974 971h4.6M938 975h4.6M1126 975h4.6M970 979h4.6M942 983h4.6M966 983h4.6M950 987h12.6M1122 1015h4.6"/>
<path stroke="#C12300" d="M1206 619h4.6M1142 631h4.6M1186 631h8.6M1146 635h20.6M1102 723h4.6M1118 723h4.6M1122 727h4.6M1098 735h4.6M1130 739h4.6M1106 751h4.6M1130 751h4.6M1126 755h4.6M1118 759h4.6M1234 783h4.6M1234 787h4.6M1238 799h4.6M1238 815h4.6M1206 819h8.6M1238 819h4.6M1238 823h4.6M1218 827h4.6M1234 827h4.6M1194 831h4.6M1222 831h16.6M1194 843h4.6M1202 851h4.6M1214 851h8.6M1234 851h12.6M958 903h16.6M1190 903h4.6M1214 903h4.6M950 907h4.6M974 907h12.6M946 911h4.6M982 911h4.6M982 915h8.6M1178 915h4.6M942 919h4.6M986 919h4.6M986 923h4.6M938 927h4.6M1170 927h4.6M938 931h4.6M982 931h4.6M978 939h4.6M974 943h4.6M1162 943h4.6M974 947h4.6M974 951h4.6M974 955h4.6M974 959h4.6M1142 959h4.6M974 963h4.6M938 967h4.6M974 967h4.6M970 975h4.6M942 979h4.6M946 983h4.6M962 983h4.6M1122 995h4.6M1122 1011h4.6"/>
<path stroke="#B61A00" d="M1206 615h4.6M1202 623h4.6M1142 627h4.6M1198 627h4.6M1146 631h8.6M1174 631h12.6M1106 723h4.6M1114 723h4.6M1098 727h4.6M1102 739h4.6M1130 743h4.6M1106 747h4.6M1130 747h4.6M1110 755h4.6M1114 759h4.6M1238 779h4.6M1238 795h4.6M1202 823h4.6M1214 823h4.6M1198 827h4.6M1238 827h4.6M1238 831h4.6M1194 835h4.6M1222 835h20.6M1194 839h4.6M1226 839h12.6M1226 843h8.6M1198 847h4.6M1222 847h28.6M1206 851h8.6M1246 851h4.6M1210 903h4.6M954 907h4.6M966 907h8.6M1186 907h4.6M974 911h8.6M946 915h4.6M978 915h4.6M982 919h4.6M982 923h4.6M1174 923h4.6M982 927h4.6M1170 931h4.6M978 935h4.6M942 939h4.6M1166 939h4.6M942 943h4.6M942 947h4.6M1158 947h4.6M1154 951h4.6M938 955h4.6M1150 955h4.6M938 959h4.6M938 963h4.6M1138 963h4.6M1134 967h4.6M970 971h4.6M1130 971h4.6M942 975h4.6M966 979h4.6M1126 979h4.6M950 983h12.6M1126 983h4.6M1122 999h4.6M1122 1007h4.6"/>
<path stroke="#AE1300" d="M1146 627h8.6M1194 627h4.6M1154 631h20.6M1110 723h4.6M1098 731h4.6M1126 735h4.6M1106 743h4.6M1126 751h4.6M1122 755h4.6M1242 775h4.6M1238 783h4.6M1238 787h4.6M1238 791h4.6M1242 803h4.6M1242 807h4.6M1242 811h4.6M1242 815h4.6M1242 819h4.6M1206 823h8.6M1242 823h4.6M1214 827h4.6M1242 827h4.6M1198 831h4.6M1218 831h4.6M1242 831h4.6M1242 835h4.6M1222 839h4.6M1238 839h12.6M1222 843h4.6M1234 843h20.6M1218 847h4.6M1250 847h4.6M1194 903h4.6M1206 903h4.6M958 907h8.6M950 911h4.6M970 911h4.6M1182 911h4.6M974 915h4.6M946 919h4.6M978 919h4.6M1178 919h4.6M942 923h4.6M978 923h4.6M942 927h4.6M978 927h4.6M942 931h4.6M978 931h4.6M942 935h4.6M974 939h4.6M970 947h4.6M970 951h4.6M970 955h4.6M1146 959h4.6M942 967h4.6M970 967h4.6M942 971h4.6M966 975h4.6M946 979h4.6M962 979h4.6M1126 987h4.6M1122 1003h4.6M1126 1015h4.6"/>
<path stroke="#9E060F" d="M1202 619h4.6M1146 623h4.6M1154 627h4.6M1186 627h8.6M1102 727h4.6M1118 727h4.6M1122 731h4.6M1110 751h4.6M1114 755h8.6M1246 775h4.6M1242 779h4.6M1242 783h4.6M1242 799h4.6M1202 827h4.6M1246 831h4.6M1218 835h4.6M1246 835h4.6M1218 839h4.6M1250 839h4.6M1198 843h4.6M1218 843h4.6M1254 843h4.6M1202 847h4.6M1214 847h4.6M1198 903h8.6M1190 907h4.6M1214 907h4.6M954 911h16.6M950 915h4.6M970 915h4.6M1182 915h4.6M974 919h4.6M974 923h4.6M974 927h4.6M1174 927h4.6M974 931h4.6M974 935h4.6M1170 935h4.6M970 943h4.6M1166 943h4.6M1162 947h4.6M942 951h4.6M1158 951h4.6M1154 955h4.6M970 959h4.6M1150 959h4.6M942 963h4.6M970 963h4.6M1142 963h4.6M946 975h4.6M950 979h4.6M958 979h4.6M1126 991h4.6M1126 1011h4.6"/>
<path stroke="#90001C" d="M1202 615h4.6M1150 623h8.6M1198 623h4.6M1158 627h28.6M1102 735h4.6M1106 739h4.6M1126 739h4.6M1126 743h4.6M1110 747h4.6M1126 747h4.6M1122 751h4.6M1250 775h4.6M1246 779h4.6M1242 787h4.6M1242 791h4.6M1242 795h4.6M1246 811h4.6M1246 815h4.6M1246 819h4.6M1246 823h4.6M1206 827h8.6M1246 827h4.6M1202 831h4.6M1214 831h4.6M1250 831h4.6M1198 835h4.6M1250 835h8.6M1198 839h4.6M1254 839h8.6M1214 843h4.6M1206 847h8.6M1210 907h4.6M1186 911h4.6M954 915h4.6M962 915h8.6M950 919h4.6M970 919h4.6M1182 919h4.6M946 923h4.6M970 923h4.6M1178 923h4.6M946 927h4.6M1174 931h4.6M946 935h4.6M970 935h4.6M946 939h4.6M970 939h4.6M1170 939h4.6M946 943h4.6M946 947h4.6M942 955h4.6M942 959h4.6M1146 963h4.6M966 967h4.6M1138 967h4.6M946 971h4.6M966 971h4.6M1134 971h4.6M962 975h4.6M1130 975h4.6M954 979h4.6M1126 995h4.6"/>
<path stroke="#870021" d="M1198 615h4.6M1154 619h4.6M1198 619h4.6M1158 623h4.6M1190 623h8.6M1106 727h12.6M1102 731h4.6M1118 731h4.6M1122 735h4.6M1110 743h4.6M1114 751h8.6M1254 775h8.6M1250 779h4.6M1246 783h4.6M1246 803h4.6M1246 807h4.6M1250 819h4.6M1250 823h4.6M1250 827h8.6M1206 831h8.6M1254 831h4.6M1214 835h4.6M1258 835h4.6M1214 839h4.6M1202 843h4.6M1194 907h4.6M1206 907h4.6M958 915h4.6M1186 915h4.6M954 919h4.6M966 919h4.6M950 923h4.6M970 927h4.6M946 931h4.6M970 931h4.6M1174 935h4.6M966 943h4.6M1170 943h4.6M966 947h4.6M1166 947h4.6M946 951h4.6M966 951h4.6M1162 951h4.6M966 955h4.6M1158 955h4.6M966 959h4.6M1154 959h4.6M946 963h4.6M966 963h4.6M946 967h4.6M1142 967h4.6M950 975h4.6M958 975h4.6M1130 979h4.6M1126 999h4.6M1126 1007h4.6"/>
<path stroke="#7F0024" d="M1158 619h4.6M1194 619h4.6M1162 623h28.6M1106 735h4.6M1122 739h4.6M1114 747h4.6M1122 747h4.6M1262 775h4.6M1254 779h8.6M1250 783h4.6M1246 787h4.6M1246 795h4.6M1246 799h4.6M1250 811h4.6M1250 815h4.6M1254 819h4.6M1254 823h4.6M1258 827h4.6M1258 831h8.6M1202 835h4.6M1210 835h4.6M1202 839h4.6M1206 843h8.6M1198 907h8.6M1190 911h4.6M1210 911h4.6M958 919h8.6M1186 919h4.6M962 923h8.6M1182 923h4.6M950 927h4.6M966 927h4.6M1178 927h4.6M950 931h4.6M966 931h4.6M950 935h4.6M966 935h4.6M950 939h4.6M966 939h4.6M1174 939h4.6M950 943h4.6M1166 951h4.6M946 955h4.6M1162 955h4.6M946 959h4.6M1158 959h4.6M1150 963h4.6M962 967h4.6M950 971h4.6M962 971h4.6M1138 971h4.6M954 975h4.6M1130 983h4.6M1130 987h4.6M1126 1003h4.6M1130 1011h4.6"/>
<path stroke="#7E0025" d="M1194 611h4.6M1158 615h8.6M1194 615h4.6M1162 619h12.6M1186 619h8.6M1106 731h12.6M1110 735h4.6M1118 735h4.6M1110 739h4.6M1114 743h4.6M1122 743h4.6M1118 747h4.6M1262 779h8.6M1254 783h8.6M1250 787h4.6M1246 791h4.6M1250 803h4.6M1250 807h4.6M1254 815h4.6M1258 819h4.6M1258 823h8.6M1262 827h4.6M1206 835h4.6M1206 839h8.6M1194 911h4.6M1202 911h8.6M1190 915h4.6M1210 915h4.6M1190 919h4.6M954 923h8.6M1186 923h4.6M954 927h4.6M962 927h4.6M1182 927h4.6M954 931h4.6M962 931h4.6M1178 931h4.6M954 935h4.6M962 935h4.6M1178 935h4.6M954 939h4.6M962 939h4.6M954 943h4.6M962 943h4.6M1174 943h4.6M950 947h4.6M962 947h4.6M1170 947h4.6M950 951h4.6M962 951h4.6M1170 951h4.6M950 955h4.6M962 955h4.6M1166 955h4.6M950 959h4.6M962 959h4.6M1162 959h4.6M950 963h4.6M962 963h4.6M1154 963h8.6M950 967h4.6M1146 967h8.6M954 971h8.6M1142 971h4.6M1134 975h4.6M1130 991h4.6M1130 995h4.6M1130 999h4.6M1130 1003h4.6M1130 1007h4.6"/>
<path stroke="#7D0025" d="M1178 607h8.6M1162 611h32.6M1166 615h28.6M1174 619h12.6M1114 735h4.6M1114 739h8.6M1118 743h4.6M1262 783h12.6M1254 787h20.6M1250 791h24.6M1250 795h24.6M1250 799h20.6M1254 803h16.6M1254 807h16.6M1254 811h16.6M1258 815h12.6M1262 819h8.6M1198 911h4.6M1194 915h16.6M1194 919h16.6M1190 923h20.6M958 927h4.6M1186 927h20.6M958 931h4.6M1182 931h20.6M958 935h4.6M1182 935h20.6M958 939h4.6M1178 939h20.6M958 943h4.6M1178 943h16.6M954 947h8.6M1174 947h16.6M954 951h8.6M1174 951h16.6M954 955h8.6M1170 955h16.6M954 959h8.6M1166 959h16.6M954 963h8.6M1162 963h16.6M954 967h8.6M1154 967h24.6M1146 971h28.6M1138 975h32.6M1134 979h32.6M1134 983h28.6M1134 987h24.6M1134 991h20.6M1134 995h16.6M1134 999h12.6M1134 1003h8.6M1134 1007h4.6"/>
</g>
</g></g>
<path d="M1115 877.5L1127.5 857.5L1145 843.8L1157.5 841.2L1170 855L1177.5 870L1167.5 890L1152.5 900L1142.5 913.8L1127.5 907.5L1120 895Z" fill="#7F7F7F" stroke="#9C9C9C" stroke-width="2" stroke-linejoin="round"/>
<path d="M1227.5 741.2L1240 747.5L1245 765L1244.5 790L1235 797.5L1222.5 793.8L1212.5 780L1212.5 765L1220 750Z" fill="#7F7F7F" stroke="#9C9C9C" stroke-width="2" stroke-linejoin="round"/>
<path d="M1238.9 748.5L1232.8 762.5L1230.8 776.6L1228.8 790.6" fill="none" stroke="#9C9C9C" stroke-width="1.6" stroke-linejoin="round"/>
<path d="M1216.8 768.5L1226.8 762.5L1232.8 762.5" fill="none" stroke="#9C9C9C" stroke-width="1.6" stroke-linejoin="round"/>
<path d="M1144.3 847.1L1150.5 863.6L1146.4 884.3L1150.5 900.8" fill="none" stroke="#9C9C9C" stroke-width="1.6" stroke-linejoin="round"/>
<path d="M1121.6 876L1138.1 880.2L1154.6 880.2L1171.2 867.8" fill="none" stroke="#9C9C9C" stroke-width="1.6" stroke-linejoin="round"/>
<path d="M1129.8 859.5L1142.2 863.6" fill="none" stroke="#9C9C9C" stroke-width="1.6" stroke-linejoin="round"/>
<path d="M1154.6 851.2L1167 859.5" fill="none" stroke="#9C9C9C" stroke-width="1.6" stroke-linejoin="round"/>
<path d="M1100.4 704.3L1108.4 708.3L1114.4 705.3L1120.5 714.3L1128.5 716.4L1132.5 713.3L1140.5 713.3L1146.6 718.4L1150.6 719.4L1154.6 716.4L1158.6 712.3L1164.6 712.3L1168.6 720.4L1170.6 726.4L1180.7 728.4L1190.7 726.4L1192.7 718.4L1196.7 712.3L1204.7 710.3L1208.8 704.3L1210.8 696.3L1220.8 694.3L1218.8 682.2L1224.8 680.2L1236.9 679.2M1138.5 728.4L1146.6 726.4L1150.6 722.4L1156.6 722.4L1164.6 722.4L1160.6 728.4L1166.6 730.4L1168.6 736.4L1160.6 742.4L1154.6 750.5L1156.6 754.5L1150.6 758.5L1140.5 754.5L1132.5 750.5L1124.5 752.5L1122.5 748.5L1126.5 744.4L1136.5 742.4L1138.5 734.4L1138.5 728.4M1004.1 750.5L1010.1 748.5L1018.1 750.5L1020.1 762.5L1030.2 776.6L1036.2 784.6L1040.2 802.6L1044.2 810.7L1050.2 822.7L1054.2 808.7L1060.3 810.7L1056.3 820.7L1060.3 830.7L1058.3 846M1060.3 830.7L1068.3 818.7L1080.3 810.7L1092.4 802.6L1100.4 794.6L1104.4 786.6L1112.4 780.6L1124.5 778.6L1136.5 774.5L1140.5 776.6L1150.6 778.6L1156.6 784.6L1166.6 786.6L1172.6 794.6L1182.7 802.6L1184.7 810.7L1180.7 820.7L1178.7 830.7L1172.6 838.8L1160.6 846M1182.7 802.6L1192.7 798.6L1204.7 796.6L1212.8 795.6M1150.6 758.5L1146.6 768.5L1140.5 776.6M878.2 924.3L884.2 916.3L892.2 910.3L896.2 906.3L900.2 910.3L906.3 916.3L907.3 932.4L910.3 944.4L910.3 956.5L918.3 962.5L922.3 970.5L921.3 982.5L926.3 978.5L934.3 972.5L940.4 968.5L938.4 978.5L940.4 988.6L946.4 992.6L952.4 992.6L954.4 986.6L962.4 980.5L968.5 972.5L976.5 968.5L986.5 964.5L990.5 956.5L992.5 946.4L1000.6 950.4L1006.6 956.5L1014.6 958.5L1020.6 950.4L1030.7 948.4M1030.7 948.4L1038.7 952.4L1040.7 960.5L1032.7 966.5L1022.6 972.5L1016.6 978.5L1018.6 986.6L1010.6 994.6L1006.6 1004.6L1004.6 1008.6L1016.6 1009.6L1026.7 1012.6L1027.7 1020.7L1022.6 1022.7L1028.7 1026.7M1030.7 948.4L1042.7 950.4L1050.7 940.4L1062.8 934.4L1074.8 928.4L1075.8 914.3L1078.8 910.3M1078.8 910.3L1066.8 900.3L1056.8 890.2L1046.7 880.2L1050.7 866.2L1056.8 846.1L1060.8 830L1062.8 820M1078.8 910.3L1086.9 908.3L1094.9 908.3L1104.9 913.3L1114.9 910.3L1123 906.3L1130 904.3" fill="none" stroke="#9C9C9C" stroke-width="2.3" stroke-linejoin="round" stroke-linecap="round"/>
<path d="M843.8 840L852.5 827.5L858.8 822.5L866.2 837.5L877.5 847.5L895 851.2L912.5 852.5L920 842.5L935 836.2L935 711.2L942.5 715L950 732.5L953.8 750L948.8 767.5L952.5 781.2L970 780L980 775L995 760L1005 745L1010 728.8L1020 725L1035 735L1045 741.2L1060 742.5L1072.5 737.5L1080 725L1085 707.5L1100 703.8L1107.5 690L1115 670L1132.5 652.5L1145 635L1165 620L1180 616.2L1185 616.2L1200 621.2L1223.8 623.8L1230 645L1237.5 670L1241.2 690L1242.5 715L1241.2 735L1240 747.5L1227.5 741.2L1220 750L1212.5 765L1212.5 780L1222.5 793.8L1235 797.5L1244.5 791.2L1244.5 782L1263.8 782.5L1260 805L1256.2 825L1250 840L1235 855L1222.5 872.5L1215 890L1205 910L1195 925L1185 940L1170 960L1155 977.5L1135 997.5L1115 1015L1095 1025L1080 1025L1060 1035L1035 1032.5L1010 1030L995 1032.5L980 1042.5L960 1045L945 1050L930 1058.8L917.5 1052.5L905 1042.5L892.5 1040L892.5 1025L882.5 1005L880 987.5L890 975L887.5 952.5L880 932.5L870 915L860 890L852.5 857.5Z" fill="none" stroke="#9C9C9C" stroke-width="2.5" stroke-linejoin="round"/>
</g>
<rect x="826" y="597.2" width="456.2" height="480.6" fill="none" stroke="#4A4A4A" stroke-width="0.9"/>
<circle cx="1145.5" cy="741.2" r="7.6" fill="#006400"/>
<text x="1145.5" y="775" font-size="29" text-anchor="middle">Pretoria</text>
<text x="1249" y="1067.3" font-size="31.3" text-anchor="end" letter-spacing="0.4">South Africa</text>
<text x="1203" y="620.6" font-size="26" >PDI</text>
<text x="841.8" y="623.3" font-size="28" font-weight="bold">d</text>
<path d="M825.5 613.4V1059M825.5 613.4H808.7M825.5 836.6H808.7M825.5 1059H808.7M843.1 1078.2H1265.7M843.1 1078.2V1095.2M1054.6 1078.2V1095.2M1265.7 1078.2V1095.2" stroke="#000" stroke-width="1.3" fill="none"/>
<text transform="translate(794.8 613.4) rotate(-90)" font-size="26" text-anchor="middle">−22.1</text>
<text transform="translate(794.8 836.6) rotate(-90)" font-size="26" text-anchor="middle">−28.5</text>
<text transform="translate(794.8 1059) rotate(-90)" font-size="26" text-anchor="middle">−34.8</text>
<text x="843.1" y="1128.3" font-size="26" text-anchor="middle">16.5</text>
<text x="1054.6" y="1128.3" font-size="26" text-anchor="middle">24.7</text>
<text x="1265.7" y="1128.3" font-size="26" text-anchor="middle">32.9</text>
<text x="1054.2" y="1169.2" font-size="27" text-anchor="middle">Longitude [deg.]</text>
<linearGradient id="cgd" x1="0" y1="0" x2="0" y2="1">
<stop offset="0.000" stop-color="#7D0025"/>
<stop offset="0.060" stop-color="#7F0024"/>
<stop offset="0.087" stop-color="#8B0020"/>
<stop offset="0.120" stop-color="#960018"/>
<stop offset="0.141" stop-color="#AA1000"/>
<stop offset="0.186" stop-color="#B81C00"/>
<stop offset="0.230" stop-color="#CC2C00"/>
<stop offset="0.275" stop-color="#DC3C00"/>
<stop offset="0.320" stop-color="#E84C00"/>
<stop offset="0.363" stop-color="#EC6000"/>
<stop offset="0.408" stop-color="#F07400"/>
<stop offset="0.453" stop-color="#F28800"/>
<stop offset="0.493" stop-color="#F39400"/>
<stop offset="0.538" stop-color="#F5A200"/>
<stop offset="0.575" stop-color="#F8B000"/>
<stop offset="0.600" stop-color="#F6B430"/>
<stop offset="0.635" stop-color="#F6BC48"/>
<stop offset="0.680" stop-color="#F7C860"/>
<stop offset="0.724" stop-color="#F9D47C"/>
<stop offset="0.769" stop-color="#FAE094"/>
<stop offset="0.813" stop-color="#FCEAAA"/>
<stop offset="0.858" stop-color="#FEF4BC"/>
<stop offset="0.900" stop-color="#FFFAC4"/>
<stop offset="0.968" stop-color="#FFFFC8"/>
<stop offset="1.000" stop-color="#FFFFC8"/>
</linearGradient>
<rect x="1294.1" y="636.4" width="14.1" height="343.4" fill="url(#cgd)"/>
<rect x="1294.1" y="979.8" width="14.1" height="45.1" fill="#7F7F7F"/>
<rect x="1294.1" y="1024.9" width="14.1" height="44.4" fill="#E5E5E5"/>
<rect x="1294.1" y="636.4" width="14.1" height="432.9" fill="none" stroke="#000" stroke-width="1.4"/>
<path d="M1308.2 647.8h4.6M1308.2 961.4h4.6M1308.2 1002.3h4.6M1308.2 1047h4.6" stroke="#000" stroke-width="1.3" fill="none"/>
<text x="1328" y="635.9" font-size="22.45">Weak physical</text>
<text x="1328" y="661.3" font-size="22.45">distancing</text>
<text x="1328" y="949.3" font-size="22.45">Strong physical</text>
<text x="1328" y="974.7" font-size="22.45">distancing</text>
<text x="1328" y="1007.9" font-size="22.45">NA; Not in ZAF</text>
<text x="1328" y="1034.4" font-size="22.45">Water</text>
<text x="1328" y="1060.9" font-size="22.45">bodies</text>
</g>
<path d="M26.75 1.2H1494.4V1143.5H26.75ZM760.2 1.2V1143.5M26.75 572.1H1494.4" fill="none" stroke="#000" stroke-width="1.5"/>
</svg>
</body></html>
